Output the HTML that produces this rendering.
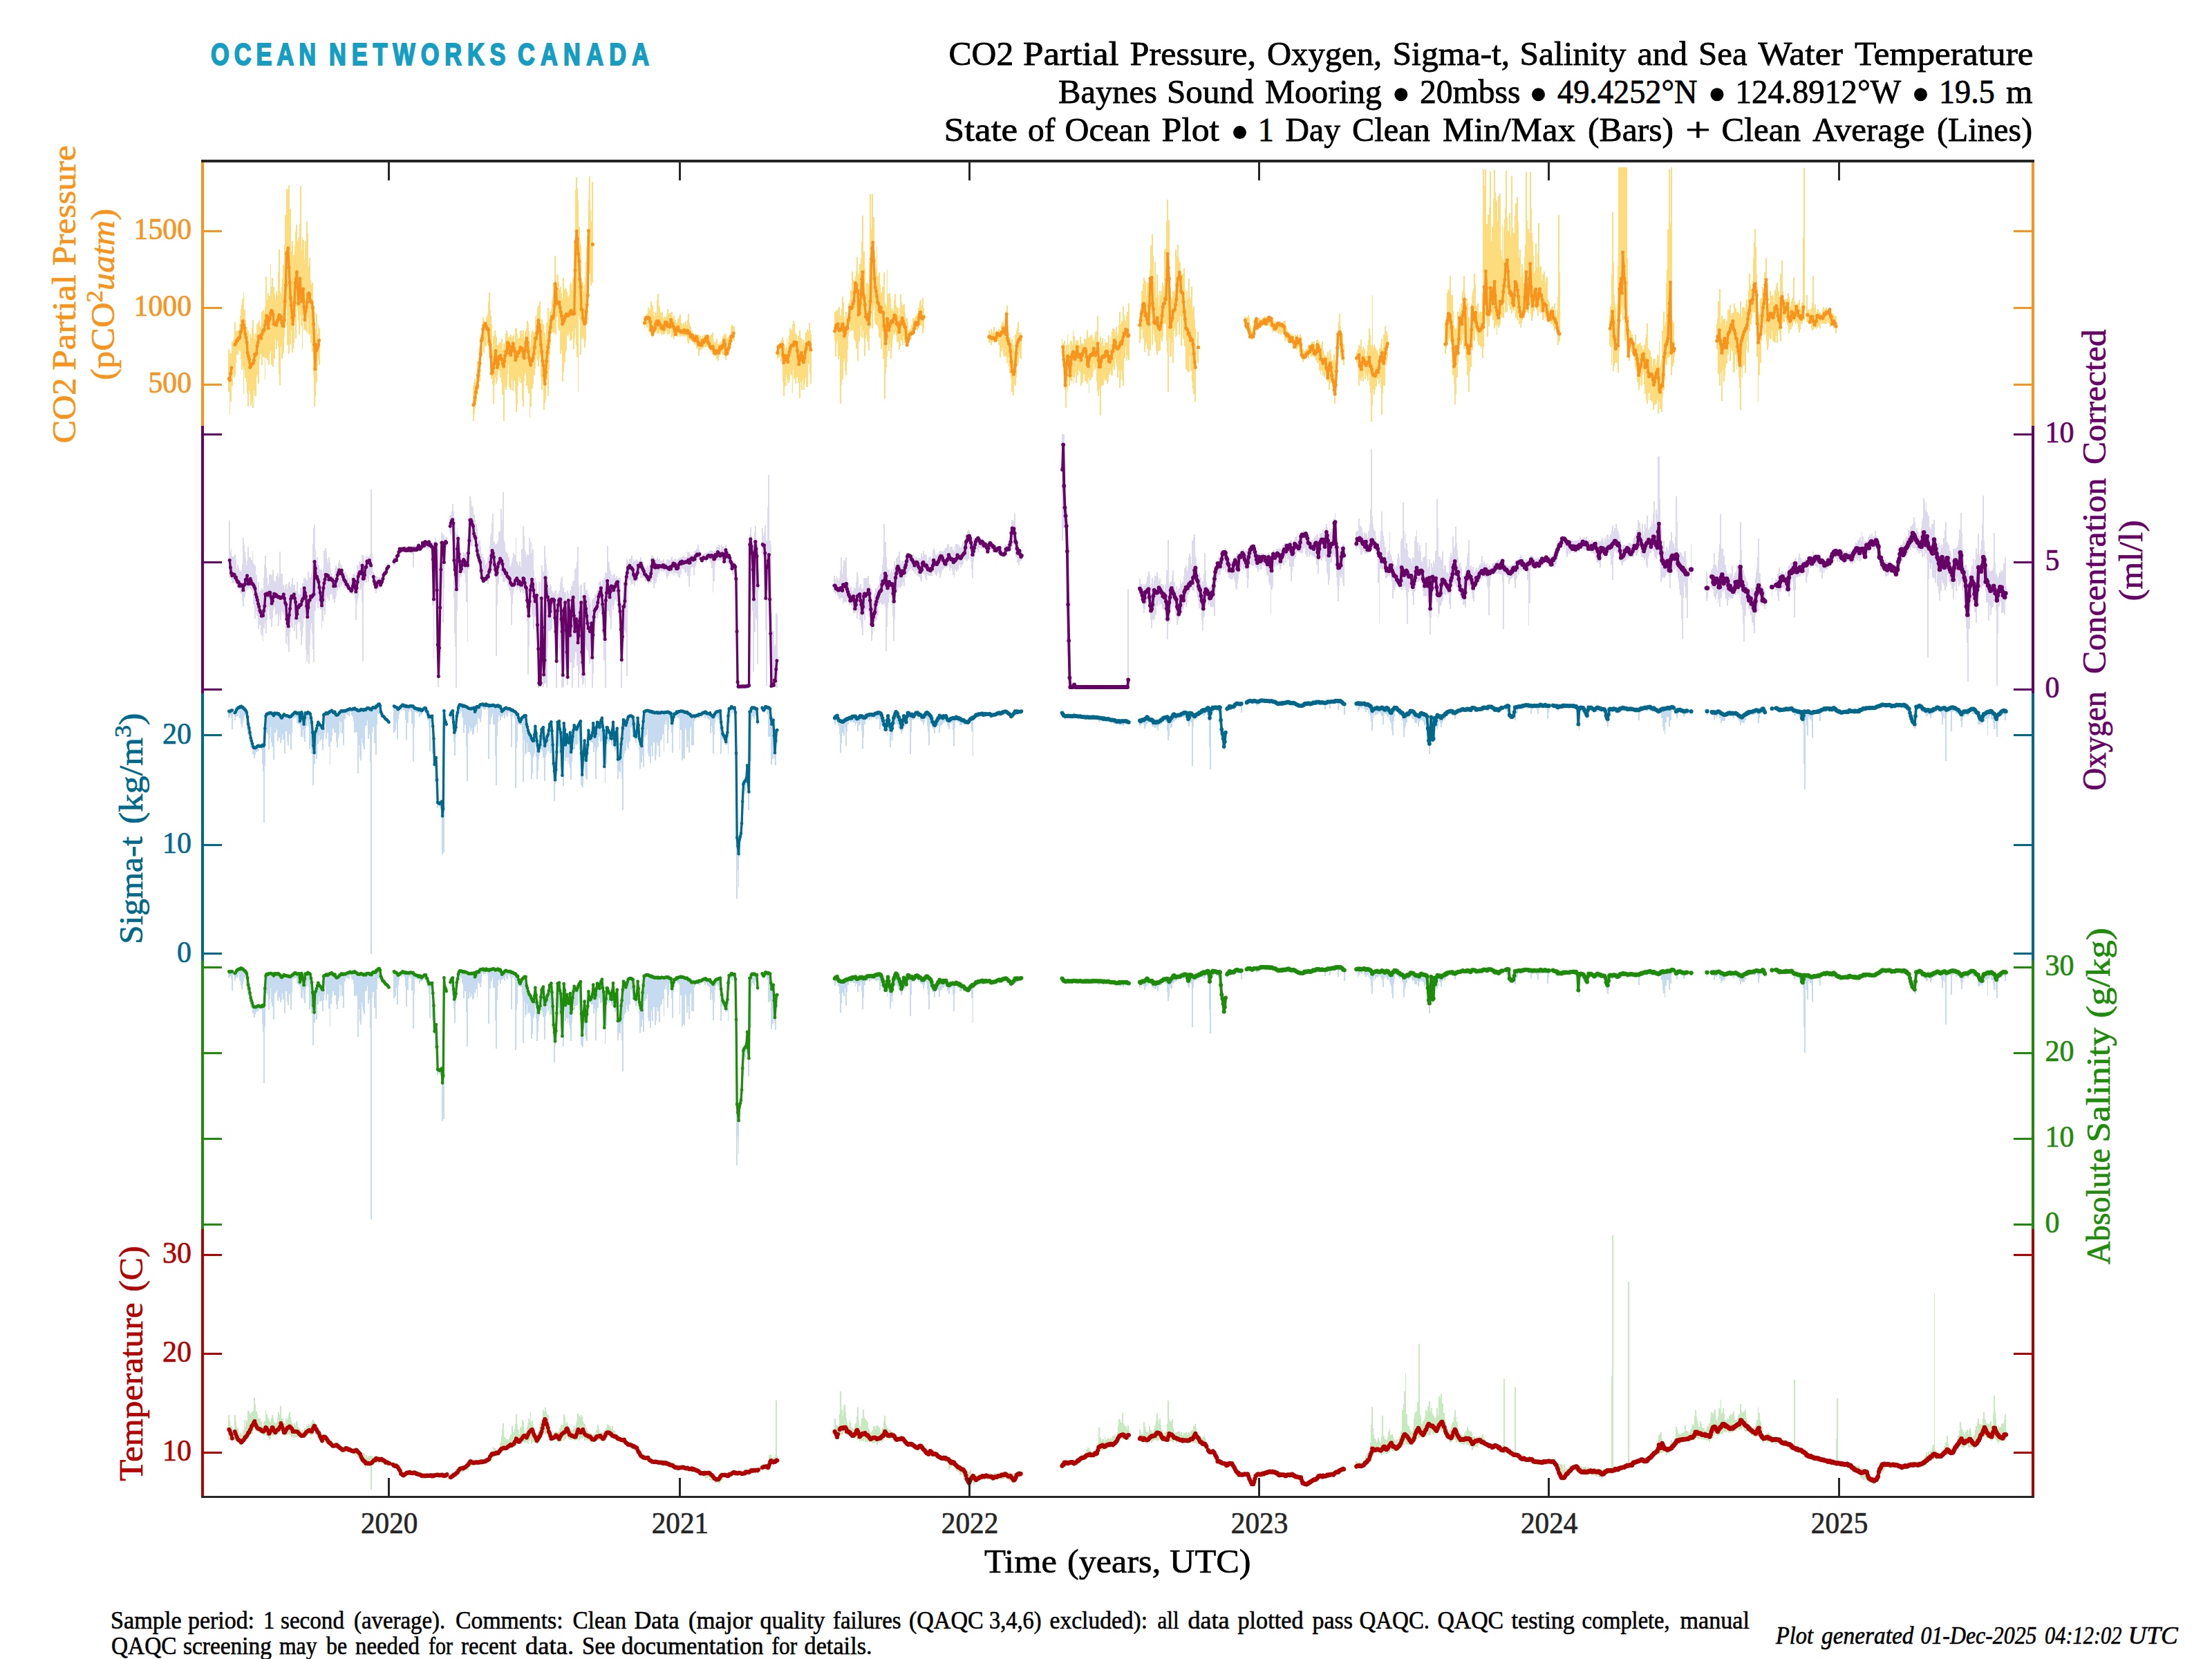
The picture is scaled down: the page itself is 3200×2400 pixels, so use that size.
<!DOCTYPE html>
<html><head><meta charset="utf-8"><title>State of Ocean Plot</title>
<style>
html,body{margin:0;padding:0;background:#fff;}
svg{display:block;}
text{font-family:"Liberation Serif",serif;}
.sans{font-family:"Liberation Sans",sans-serif;}
</style></head><body>
<svg width="3200" height="2400" viewBox="0 0 3200 2400">
<rect width="3200" height="2400" fill="#ffffff"/>
<path d="M331.3 505V567M332.5 511V600M333.6 511V581M334.8 517V550M335.9 499V558M336.4 494V555M337.6 492V541M338.7 488V546M339.8 466V543M341.0 484V525M342.1 479V510M343.3 481V513M344.4 478V513M345.6 478V506M346.7 469V508M347.9 457V508M349.0 447V520M350.2 441V535M351.3 432V530M352.5 423V570M353.6 448V535M354.8 463V547M355.9 475V545M357.1 473V553M358.2 493V569M359.4 478V588M360.5 498V565M361.7 483V570M362.8 490V587M364.0 489V560M365.1 475V581M366.3 463V590M367.4 483V565M368.6 491V573M369.7 483V573M370.9 486V545M372.0 469V542M373.2 480V528M374.3 466V555M375.5 463V520M376.6 473V512M377.8 471V512M378.9 451V528M380.1 461V516M381.2 449V512M382.3 453V517M383.5 443V549M384.6 400V518M385.8 434V495M386.9 438V521M388.1 424V515M389.2 436V528M390.4 428V512M391.5 382V507M392.7 415V528M393.8 402V495M395.0 415V531M396.1 415V500M397.3 424V519M398.4 433V491M399.6 421V505M400.7 432V493M401.9 427V492M403.0 394V501M404.2 361V541M405.3 422V557M406.5 425V502M407.6 415V519M408.8 403V513M409.9 383V510M411.1 418V487M412.2 355V474M413.4 311V470M414.5 273V446M415.7 274V499M416.8 297V431M418.0 268V512M419.1 307V498M420.3 302V498M421.4 364V478M422.6 349V510M423.7 387V504M424.9 369V496M426.0 374V466M427.1 355V453M428.3 335V490M429.4 325V443M430.6 349V450M431.7 345V464M432.9 343V484M434.0 324V442M435.2 269V456M436.3 360V472M437.5 343V505M438.6 347V455M439.8 394V477M440.9 376V473M442.1 349V478M443.2 393V464M444.4 320V481M445.5 338V460M446.7 385V484M447.8 373V483M449.0 405V474M450.1 412V496M451.3 417V470M452.4 409V509M453.6 444V542M454.7 451V588M455.9 480V573M457.0 476V555M458.2 454V552M459.3 483V531M460.5 469V520M461.6 475V528M684.9 558V609M686.0 554V599M687.2 548V591M688.3 553V584M689.5 538V582M690.6 522V571M691.8 524V563M692.9 518V548M694.1 503V552M695.2 500V530M696.4 484V515M697.5 475V516M698.7 459V495M699.8 464V510M701.0 465V501M702.1 466V491M703.3 466V501M704.4 458V487M705.6 454V499M706.7 437V494M707.9 423V513M709.0 449V520M710.2 457V540M711.3 469V548M712.5 502V556M713.6 486V584M714.8 496V558M715.9 478V541M717.1 485V546M718.2 488V555M719.4 499V550M720.5 499V542M721.7 497V536M722.8 506V534M724.0 495V546M725.1 502V542M726.3 490V553M727.4 506V571M728.6 497V609M729.7 502V560M730.8 496V560M732.0 483V564M733.1 478V558M734.3 482V541M735.4 488V527M736.6 487V560M737.7 488V562M738.9 484V564M740.0 493V549M741.2 489V547M742.3 486V565M743.5 484V550M744.6 494V551M745.8 475V568M746.9 475V596M748.1 483V585M749.2 493V558M750.4 490V545M751.5 489V552M752.7 479V547M753.8 478V554M755.0 483V546M756.1 483V578M757.3 478V588M758.4 491V551M759.6 481V539M760.7 478V541M761.9 475V558M763.0 464V551M764.2 468V563M765.3 479V569M766.5 495V604M767.6 502V589M768.8 484V553M769.9 478V562M771.1 494V555M772.2 481V531M773.4 481V543M774.5 457V533M775.6 463V513M776.8 455V519M777.9 446V522M779.1 442V530M780.2 454V519M781.4 436V514M782.5 468V546M783.7 462V564M784.8 480V547M786.0 469V554M787.1 503V593M788.3 481V583M789.4 492V578M790.6 467V549M791.7 473V542M792.9 445V573M794.0 469V534M795.2 463V513M796.3 451V499M797.5 446V482M798.6 435V480M799.8 430V476M800.9 409V482M802.1 421V469M803.2 370V480M804.4 398V484M805.5 409V459M806.7 397V458M807.8 408V474M809.0 418V478M810.1 427V469M811.3 415V512M812.4 424V507M813.6 432V552M814.7 402V538M815.9 420V520M817.0 434V524M818.1 417V510M819.3 418V507M820.4 422V486M821.6 429V485M822.7 436V481M823.9 427V474M825.0 412V493M826.2 409V475M827.3 420V491M828.5 404V479M829.6 400V505M830.8 349V489M831.9 347V474M833.1 275V469M834.2 256V499M835.4 272V517M836.5 290V567M837.7 328V457M838.8 351V462M840.0 355V513M841.1 405V485M842.3 408V490M843.4 408V487M844.6 421V491M845.7 412V503M846.9 400V494M848.0 379V467M849.2 357V469M850.3 341V463M851.5 290V421M852.6 255V396M853.8 304V374M854.9 320V413M857.4 263V409M932.5 457V475M933.7 458V470M934.8 456V468M936.0 454V474M937.1 454V470M938.3 445V469M939.4 449V480M940.6 446V482M941.7 436V482M942.9 444V484M944.0 442V488M945.2 451V486M946.3 458V484M947.5 451V481M948.6 453V478M949.8 453V475M950.9 434V483M952.1 425V479M953.2 442V483M954.4 445V478M955.5 451V480M956.7 453V484M957.8 451V484M959.0 462V483M960.1 460V484M961.3 458V483M962.4 459V482M963.6 459V479M964.7 456V478M965.9 447V484M967.0 455V480M968.2 453V483M969.3 453V482M970.5 453V474M971.6 451V488M972.8 460V481M973.9 462V486M975.1 457V490M976.2 465V486M977.3 463V486M978.5 468V486M979.6 466V487M980.8 461V485M981.9 462V484M983.1 458V483M984.2 455V487M985.4 466V484M986.5 468V487M987.7 471V486M988.8 467V485M990.0 469V487M991.1 470V486M992.3 465V486M993.4 470V487M994.6 463V494M995.7 454V497M996.9 467V490M998.0 471V492M999.2 473V492M1000.3 480V493M1001.5 478V495M1002.6 482V495M1003.8 485V494M1004.9 484V499M1006.1 483V496M1007.2 484V496M1008.4 485V504M1009.5 483V505M1010.7 484V515M1011.8 490V505M1013.0 486V507M1014.1 492V505M1015.3 492V502M1016.4 486V505M1017.6 489V503M1018.7 484V500M1019.9 484V502M1021.0 486V502M1022.1 485V501M1023.3 484V501M1024.4 487V501M1025.6 487V503M1026.7 488V506M1027.9 487V507M1029.0 484V509M1030.2 490V509M1031.3 481V512M1032.5 494V513M1033.6 496V515M1034.8 495V514M1035.9 497V515M1037.1 490V519M1038.2 499V517M1039.4 498V522M1040.5 496V515M1041.7 498V513M1042.8 494V510M1044.0 494V510M1045.1 493V513M1046.3 487V513M1047.4 485V506M1048.6 482V509M1049.7 485V521M1050.9 494V516M1052.0 489V514M1053.2 489V511M1054.3 487V510M1055.5 485V510M1056.6 485V504M1057.8 473V495M1058.9 470V495M1060.1 474V492M1061.2 472V492M1062.4 472V493M1124.7 499V519M1125.9 498V517M1127.0 498V516M1128.1 497V514M1129.3 496V511M1130.4 492V523M1131.6 488V528M1132.7 492V552M1133.9 503V573M1135.0 498V549M1136.2 503V559M1137.3 503V543M1138.5 490V558M1139.6 506V549M1140.8 495V554M1141.9 486V549M1143.1 475V536M1144.2 480V540M1145.4 478V543M1146.5 469V569M1147.7 464V535M1148.8 468V548M1150.0 481V536M1151.1 485V555M1152.3 484V528M1153.4 495V546M1154.6 486V554M1155.7 501V553M1156.9 478V576M1158.0 499V546M1159.2 489V552M1160.3 490V564M1161.5 499V549M1162.6 492V564M1163.8 502V555M1164.9 496V546M1166.1 481V535M1167.2 482V560M1168.4 477V560M1169.5 479V526M1170.6 467V527M1171.8 477V540M1172.9 484V555M1207.6 451V493M1208.8 463V516M1209.9 449V497M1211.1 450V492M1212.2 458V490M1213.4 445V520M1214.5 444V515M1215.7 457V584M1216.8 456V557M1218.0 446V539M1219.1 429V549M1220.3 437V523M1221.4 458V519M1222.6 465V537M1223.7 451V543M1224.9 461V524M1226.0 461V506M1227.2 454V486M1228.3 439V481M1229.5 434V469M1230.6 420V479M1231.8 427V477M1232.9 393V461M1234.1 417V478M1235.2 405V477M1236.4 409V491M1237.5 400V494M1238.7 392V504M1239.8 372V480M1241.0 398V522M1242.1 396V485M1243.3 397V495M1244.4 382V487M1245.6 373V471M1246.7 349V488M1247.9 312V456M1249.0 365V478M1250.2 364V490M1251.3 388V515M1252.4 426V489M1253.6 409V484M1254.7 429V494M1255.9 411V480M1257.0 430V507M1258.2 379V476M1259.3 281V473M1260.5 331V427M1261.6 281V475M1262.8 323V449M1263.9 314V428M1265.1 362V441M1266.2 373V465M1267.4 388V469M1268.5 356V471M1269.7 399V471M1270.8 408V475M1272.0 394V487M1273.1 412V489M1274.3 425V470M1275.4 423V505M1276.6 415V479M1277.7 425V519M1278.9 394V510M1280.0 439V577M1281.2 441V540M1282.3 443V531M1283.5 390V516M1284.6 425V493M1285.8 440V508M1286.9 424V495M1288.1 432V499M1289.2 446V519M1290.4 448V503M1291.5 445V490M1292.7 450V482M1293.8 434V484M1295.0 425V477M1296.1 441V480M1297.2 449V486M1298.4 445V495M1299.5 445V495M1300.7 456V506M1301.8 446V501M1303.0 426V490M1304.1 437V492M1305.3 443V490M1306.4 442V499M1307.6 440V486M1308.7 453V496M1309.9 461V486M1311.0 464V495M1312.2 460V502M1313.3 465V498M1314.5 479V496M1315.6 477V491M1316.8 475V489M1317.9 476V490M1319.1 470V486M1320.2 472V484M1321.4 460V485M1322.5 462V480M1323.7 460V475M1324.8 457V476M1326.0 459V476M1327.1 454V478M1328.3 457V473M1329.4 445V475M1330.6 438V468M1331.7 434V471M1332.9 442V469M1334.0 448V471M1335.2 431V482M1336.3 446V475M1430.8 478V496M1432.0 482V492M1433.1 482V495M1434.3 476V499M1435.4 479V495M1436.6 482V492M1437.7 473V494M1438.9 482V493M1440.0 484V495M1441.2 481V491M1442.3 478V493M1443.5 480V494M1444.6 476V499M1445.8 479V498M1446.9 478V517M1448.1 477V503M1449.2 470V508M1450.4 466V503M1451.5 465V513M1452.7 470V516M1453.8 459V516M1455.0 451V515M1456.1 450V498M1457.3 442V525M1458.4 472V517M1459.5 481V531M1460.7 488V540M1461.8 496V526M1463.0 504V548M1464.1 490V567M1465.3 506V559M1466.4 499V572M1467.6 511V556M1468.7 484V558M1469.9 493V546M1471.0 479V530M1472.2 475V528M1473.3 466V524M1474.5 481V508M1475.6 482V518M1476.8 481V519M1536.5 490V516M1537.6 497V528M1538.8 506V530M1539.9 493V558M1541.1 523V564M1542.2 507V590M1543.3 499V561M1544.5 484V567M1545.6 498V546M1546.8 510V558M1547.9 516V550M1549.1 493V544M1550.2 494V552M1551.4 499V545M1552.5 478V555M1553.7 486V546M1554.8 498V535M1556.0 505V539M1557.1 493V554M1558.3 493V539M1559.4 492V543M1560.6 499V535M1561.7 503V537M1562.9 487V538M1564.0 502V558M1565.2 497V555M1566.3 497V553M1567.5 497V542M1568.6 490V541M1569.8 494V551M1570.9 491V549M1572.1 494V552M1573.2 478V555M1574.4 488V546M1575.5 489V569M1576.7 486V548M1577.8 492V550M1579.0 484V533M1580.1 488V546M1581.3 491V538M1582.4 493V526M1583.6 487V535M1584.7 480V532M1585.8 493V532M1587.0 479V552M1588.1 457V565M1589.3 493V573M1590.4 502V562M1591.6 487V601M1592.7 498V556M1593.9 496V558M1595.0 489V546M1596.2 503V557M1597.3 500V547M1598.5 490V551M1599.6 496V550M1600.8 496V538M1601.9 495V555M1603.1 501V552M1604.2 485V539M1605.4 504V542M1606.5 487V537M1607.7 498V542M1608.8 480V543M1610.0 475V531M1611.1 484V529M1612.3 476V535M1613.4 481V519M1614.6 473V525M1615.7 486V530M1616.9 486V546M1618.0 482V533M1619.2 471V536M1620.3 451V561M1621.5 469V549M1622.6 464V536M1623.8 466V550M1624.9 443V558M1626.1 455V518M1627.2 463V518M1628.4 465V503M1629.5 457V522M1630.6 451V514M1631.8 462V520M1632.9 439V521M1648.9 457V496M1650.1 447V491M1651.2 442V477M1652.4 421V475M1653.5 411V489M1654.7 402V490M1655.8 422V509M1657.0 406V499M1658.1 428V490M1659.3 435V496M1660.4 409V505M1661.6 409V515M1662.7 407V497M1663.9 390V507M1665.0 355V454M1666.2 377V450M1667.3 339V499M1668.5 370V477M1669.6 407V484M1670.8 379V493M1671.9 430V496M1673.1 430V508M1674.2 397V513M1675.4 427V508M1676.5 443V507M1677.7 421V507M1678.8 426V489M1680.0 442V486M1681.1 421V494M1682.3 409V487M1683.4 414V468M1684.6 361V468M1685.7 377V461M1686.8 359V470M1688.0 320V493M1689.1 289V510M1690.3 318V567M1691.4 320V489M1692.6 415V516M1693.7 430V515M1694.9 431V489M1696.0 431V496M1697.2 421V525M1698.3 423V479M1699.5 420V475M1700.6 361V487M1701.8 371V485M1702.9 372V447M1704.1 354V466M1705.2 375V452M1706.4 380V484M1707.5 379V457M1708.7 399V500M1709.8 397V458M1711.0 396V457M1712.1 406V490M1713.3 388V477M1714.4 418V501M1715.6 445V534M1716.7 421V520M1717.9 444V537M1719.0 433V512M1720.2 403V539M1721.3 430V515M1722.5 431V537M1723.6 415V536M1724.8 447V552M1725.9 466V562M1727.1 443V570M1728.2 462V569M1729.4 475V581M1730.5 503V534M1733.4 480V525M1801.4 458V469M1802.6 459V473M1803.7 466V475M1804.9 459V475M1806.0 456V479M1807.2 460V483M1808.3 471V489M1809.5 471V489M1810.6 478V491M1811.7 477V487M1812.9 476V489M1814.0 470V484M1815.2 468V480M1816.3 462V472M1817.5 458V478M1818.6 466V477M1819.8 463V474M1820.9 460V472M1822.1 460V474M1823.2 463V472M1824.4 462V472M1825.5 462V471M1826.7 460V470M1827.8 463V469M1829.0 458V469M1830.1 460V469M1831.3 459V471M1832.4 462V471M1833.6 458V471M1834.7 457V471M1835.9 457V468M1837.0 461V471M1838.2 458V473M1839.3 459V474M1840.5 465V481M1841.6 464V478M1842.8 466V480M1843.9 466V478M1845.1 465V478M1846.2 466V481M1847.4 467V477M1848.5 466V482M1849.7 466V483M1850.8 466V476M1852.0 468V480M1853.1 468V484M1854.3 467V477M1855.4 468V481M1856.5 465V480M1857.7 465V482M1858.8 464V493M1860.0 472V489M1861.1 475V490M1862.3 478V493M1863.4 481V491M1864.6 482V493M1865.7 482V496M1866.9 484V493M1868.0 485V495M1869.2 483V496M1870.3 487V499M1871.5 486V499M1872.6 490V504M1873.8 484V502M1874.9 489V500M1876.1 486V506M1877.2 484V501M1878.4 488V503M1879.5 489V511M1880.7 484V509M1881.8 487V507M1883.0 500V518M1884.1 507V518M1885.3 505V524M1886.4 508V520M1887.6 508V519M1888.7 506V519M1889.9 505V518M1891.0 507V516M1892.2 504V516M1893.3 499V518M1894.5 499V513M1895.6 499V509M1896.8 497V516M1897.9 494V516M1899.0 496V512M1900.2 498V513M1901.3 494V516M1902.5 498V518M1903.6 500V521M1904.8 492V520M1905.9 491V525M1907.1 495V517M1908.2 494V525M1909.4 498V536M1910.5 504V542M1911.7 499V536M1912.8 494V532M1914.0 507V543M1915.1 510V539M1916.3 514V545M1917.4 514V540M1918.6 521V549M1919.7 514V550M1920.9 509V552M1922.0 520V547M1923.2 517V564M1924.3 506V555M1925.5 511V550M1926.6 521V555M1927.8 522V558M1928.9 534V560M1930.1 513V572M1931.2 521V584M1932.4 525V570M1933.5 484V552M1934.7 492V527M1935.8 477V517M1937.0 466V499M1938.1 454V491M1939.3 472V506M1940.4 478V516M1941.6 484V515M1942.7 499V523M1943.8 499V528M1962.5 510V525M1963.7 507V526M1964.8 505V532M1966.0 499V558M1967.1 507V547M1968.3 501V544M1969.4 491V551M1970.6 507V545M1971.7 502V552M1972.9 507V537M1974.0 505V537M1975.2 516V548M1976.3 515V542M1977.5 508V545M1978.6 499V551M1979.8 492V539M1980.9 475V535M1982.1 485V558M1983.2 512V569M1984.4 499V610M1985.5 427V587M1986.7 503V563M1987.8 499V571M1989.0 502V564M1990.1 504V552M1991.2 521V559M1992.4 507V548M1993.5 511V548M1994.7 518V555M1995.8 504V543M1997.0 504V546M1998.1 499V561M1999.3 490V600M2000.4 505V569M2001.6 484V557M2002.7 500V558M2003.9 472V527M2005.0 488V528M2006.2 479V522M2007.3 484V516M2090.8 463V512M2092.0 471V505M2093.1 455V496M2094.3 424V499M2095.4 419V494M2096.6 420V489M2097.7 399V491M2098.9 440V493M2100.0 427V498M2101.2 427V524M2102.3 450V543M2103.5 470V555M2104.6 475V585M2105.8 493V570M2106.9 476V543M2108.1 473V546M2109.2 451V525M2110.4 458V515M2111.5 446V489M2112.7 451V499M2113.8 439V498M2115.0 440V492M2116.1 422V484M2117.3 419V477M2118.4 399V505M2119.5 425V483M2120.7 460V519M2121.8 432V522M2123.0 439V543M2124.1 478V533M2125.3 459V567M2126.4 474V538M2127.6 445V531M2128.7 440V499M2129.9 429V507M2131.0 421V486M2132.2 418V491M2133.3 396V493M2134.5 411V471M2135.6 443V480M2136.8 452V485M2137.9 439V494M2139.1 455V499M2140.2 454V497M2141.4 451V501M2142.5 451V505M2143.7 451V501M2144.8 424V518M2146.0 245V502M2147.1 291V452M2148.3 268V469M2149.4 245V456M2150.6 324V464M2151.7 345V487M2152.9 311V468M2154.0 358V472M2155.2 300V458M2156.3 248V454M2157.5 349V457M2158.6 328V455M2159.8 332V463M2160.9 288V449M2162.1 246V475M2163.2 278V454M2164.3 291V471M2165.5 289V485M2166.6 320V470M2167.8 284V474M2168.9 352V471M2170.1 280V469M2171.2 361V455M2172.4 371V459M2173.5 325V458M2174.7 376V460M2175.8 329V437M2177.0 317V428M2178.1 301V452M2179.3 247V441M2180.4 314V451M2181.6 334V420M2182.7 363V441M2183.9 308V442M2185.0 341V448M2186.2 346V442M2187.3 255V454M2188.5 329V447M2189.6 337V450M2190.8 367V444M2191.9 312V444M2193.1 294V460M2194.2 308V442M2195.4 285V463M2196.5 321V454M2197.7 372V469M2198.8 361V465M2200.0 416V474M2201.1 400V468M2202.3 382V463M2203.4 394V461M2204.6 413V460M2205.7 373V454M2206.9 354V450M2208.0 249V424M2209.1 319V451M2210.3 364V451M2211.4 331V453M2212.6 337V441M2213.7 249V418M2214.9 302V455M2216.0 337V464M2217.2 350V459M2218.3 370V450M2219.5 395V451M2220.6 392V444M2221.8 352V445M2222.9 399V448M2224.1 387V448M2225.2 366V457M2226.4 323V444M2227.5 387V452M2228.7 385V452M2229.8 406V448M2231.0 413V446M2232.1 397V463M2233.3 417V461M2234.4 393V450M2235.6 409V460M2236.7 403V453M2237.9 400V463M2239.0 432V462M2240.2 436V465M2241.3 437V463M2242.5 449V465M2243.6 445V469M2244.8 447V465M2245.9 443V468M2247.1 450V472M2248.2 450V469M2249.4 439V478M2250.5 449V474M2251.6 457V478M2252.8 448V483M2253.9 429V499M2255.1 311V494M2256.2 393V493M2329.2 457V499M2330.4 443V502M2331.5 397V528M2332.7 307V500M2333.8 379V537M2335.0 427V529M2336.1 439V525M2337.3 445V515M2338.4 468V524M2339.6 439V526M2340.7 384V539M2341.9 242V508M2343.0 242V469M2344.2 242V450M2345.3 242V455M2346.5 242V443M2347.6 242V463M2348.8 242V425M2349.9 242V447M2351.1 242V493M2352.2 286V485M2353.4 242V485M2354.5 373V507M2355.7 457V517M2356.8 477V522M2357.9 480V505M2359.1 478V505M2360.2 484V509M2361.4 484V509M2362.5 488V510M2363.7 497V516M2364.8 495V520M2366.0 484V531M2367.1 500V534M2368.3 499V537M2369.4 498V553M2370.6 497V564M2371.7 510V557M2372.9 496V547M2374.0 511V545M2375.2 500V558M2376.3 505V542M2377.5 506V538M2378.6 499V556M2379.8 513V570M2380.9 490V555M2382.1 484V578M2383.2 468V584M2384.4 504V569M2385.5 505V579M2386.7 507V568M2387.8 518V579M2389.0 516V560M2390.1 530V581M2391.3 532V575M2392.4 519V593M2393.6 519V586M2394.7 532V571M2395.9 528V584M2397.0 524V572M2398.2 513V579M2399.3 515V598M2400.5 493V581M2401.6 530V592M2402.7 525V584M2403.9 520V596M2405.0 478V575M2406.2 479V565M2407.3 451V564M2408.5 471V550M2409.6 466V525M2410.8 409V528M2411.9 390V518M2413.1 332V518M2414.2 409V488M2415.4 245V516M2416.5 323V474M2417.7 242V543M2418.8 463V516M2420.0 466V530M2421.1 466V525M2422.3 493V516M2483.8 469V505M2484.9 461V506M2486.1 436V540M2487.2 450V542M2488.4 418V558M2489.5 468V539M2490.7 457V580M2491.8 480V535M2493.0 462V531M2494.1 463V552M2495.3 461V544M2496.4 471V532M2497.6 464V526M2498.7 472V506M2499.9 448V513M2501.0 465V501M2502.2 448V498M2503.3 441V522M2504.5 456V504M2505.6 453V508M2506.8 453V502M2507.9 452V539M2509.1 439V537M2510.2 448V511M2511.4 446V513M2512.5 452V534M2513.7 451V519M2514.8 453V528M2516.0 469V546M2517.1 454V561M2518.2 436V593M2519.4 459V533M2520.5 445V546M2521.7 444V528M2522.8 445V528M2524.0 459V516M2525.1 450V540M2526.3 440V505M2527.4 433V493M2528.6 442V510M2529.7 421V476M2530.9 396V479M2532.0 412V460M2533.2 421V469M2534.3 418V460M2535.5 406V449M2536.6 373V452M2537.8 351V452M2538.9 331V446M2540.1 358V469M2541.2 397V464M2542.4 415V516M2543.5 451V581M2544.7 455V543M2545.8 455V517M2547.0 433V525M2548.1 431V493M2549.3 431V482M2550.4 415V468M2551.6 418V484M2552.7 394V454M2553.9 398V469M2555.0 373V482M2556.2 414V493M2557.3 409V506M2558.5 440V501M2559.6 438V488M2560.8 421V491M2561.9 437V490M2563.0 428V478M2564.2 437V474M2565.3 427V493M2566.5 437V496M2567.6 420V495M2568.8 419V486M2569.9 414V466M2571.1 409V496M2572.2 432V475M2573.4 421V478M2574.5 434V483M2575.7 397V494M2576.8 395V461M2578.0 377V469M2579.1 421V457M2580.3 429V466M2581.4 436V466M2582.6 433V460M2583.7 436V459M2584.9 433V466M2586.0 432V469M2587.2 424V471M2588.3 430V482M2589.5 443V477M2590.6 443V476M2591.8 436V464M2592.9 431V472M2594.1 437V465M2595.2 401V465M2596.4 436V464M2597.5 444V469M2598.7 440V466M2599.8 442V468M2601.0 438V462M2602.1 442V476M2603.3 434V481M2604.4 446V476M2605.6 444V467M2606.7 438V469M2607.8 439V464M2609.0 344V454M2610.1 243V463M2613.6 427V466M2614.7 447V460M2615.9 448V466M2617.2 448V469M2618.3 452V469M2619.5 447V465M2620.6 445V474M2621.8 438V478M2622.9 399V472M2624.1 445V476M2625.2 451V473M2626.4 440V474M2627.5 454V476M2628.6 451V474M2629.8 447V473M2630.9 453V471M2632.1 451V468M2633.2 454V475M2634.4 453V466M2635.5 454V469M2636.7 448V468M2637.8 444V467M2639.0 447V468M2640.1 447V462M2641.3 450V469M2642.4 445V468M2643.6 449V465M2644.7 449V467M2645.9 448V461M2647.0 446V468M2648.2 454V473M2649.3 453V467M2650.5 452V471M2651.6 454V471M2652.8 456V475M2653.9 457V474M2655.1 459V473M2656.2 457V482" stroke="#FDDC7E" stroke-width="1.9" fill="none" shape-rendering="crispEdges"/>
<path d="M332.2 753V836M333.4 798V830M334.5 794V838M335.7 805V843M336.8 813V839M338.0 805V844M339.1 813V838M340.3 802V842M341.4 809V843M342.6 823V843M343.7 817V846M344.9 821V848M346.0 826V852M347.2 825V852M348.3 827V858M349.5 824V860M350.6 816V869M351.8 778V877M352.9 788V865M354.0 798V864M355.2 806V857M356.3 818V854M357.5 811V853M358.6 791V852M359.8 807V850M360.9 817V850M362.1 806V852M363.2 810V853M364.4 810V854M365.5 797V858M366.7 815V874M367.8 826V871M369.0 818V895M370.1 837V882M371.3 832V884M372.4 853V891M373.6 842V910M374.7 856V896M375.9 864V904M377.0 854V904M378.2 855V917M379.3 851V920M380.5 853V928M381.6 836V909M382.8 817V901M383.9 804V898M385.1 821V916M386.2 836V897M387.4 847V882M388.5 844V878M389.7 832V890M390.8 830V896M392.0 843V892M393.1 832V907M394.3 840V894M395.4 824V882M396.6 840V878M397.7 844V880M398.8 842V890M400.0 833V880M401.1 837V888M402.3 829V883M403.4 835V906M404.6 798V889M405.7 830V897M406.9 835V878M408.0 830V885M409.2 848V884M410.3 846V889M411.5 852V893M412.6 847V901M413.8 845V931M414.9 852V921M416.1 871V921M417.2 844V934M418.4 842V943M419.5 847V915M420.7 849V903M421.8 845V907M423.0 836V908M424.1 848V892M425.3 847V897M426.4 846V913M427.6 855V904M428.7 867V925M429.9 842V903M431.0 859V898M432.2 859V899M433.3 860V901M434.5 850V912M435.6 851V933M436.8 857V921M437.9 844V908M439.1 852V892M440.2 836V895M441.4 836V891M442.5 838V939M443.6 839V957M444.8 839V944M445.9 827V947M447.1 842V960M448.2 836V933M449.4 835V910M450.5 830V901M451.7 810V916M452.8 787V939M454.0 764V958M455.1 759V874M456.3 795V884M457.4 813V872M458.6 806V869M459.7 823V880M460.9 817V871M462.0 823V869M463.2 832V878M464.3 824V882M465.5 824V910M466.6 829V899M467.8 824V883M468.9 797V879M470.1 796V890M471.2 793V871M472.4 798V862M473.5 809V865M474.7 814V865M475.8 806V869M477.0 814V854M478.1 824V860M479.3 829V857M480.4 830V860M481.6 834V867M482.7 834V862M483.9 831V872M485.0 823V866M486.2 818V863M487.3 827V851M488.4 821V854M489.6 815V849M490.7 810V851M491.9 814V850M493.0 817V847M494.2 818V847M495.3 823V844M496.5 824V845M497.6 829V850M498.8 827V846M499.9 829V851M501.1 831V851M502.2 832V850M503.4 836V851M504.5 842V853M505.7 836V854M506.8 842V855M508.0 842V857M509.1 835V860M510.3 837V860M511.4 830V854M512.6 830V859M513.7 833V866M514.9 836V897M516.0 827V874M517.2 817V867M518.3 820V863M519.5 812V845M520.6 813V854M521.8 818V851M522.9 816V851M524.1 803V871M525.2 820V957M526.4 804V848M527.5 816V842M528.7 812V838M529.8 804V843M530.9 806V837M532.1 806V829M533.2 807V842M534.4 805V832M535.5 801V833M536.7 708V832M537.8 801V830M540.2 827V842M541.3 830V845M542.5 835V849M543.6 833V858M544.8 837V853M545.9 834V851M547.1 836V853M548.2 837V848M549.4 835V851M550.5 836V852M551.7 832V849M552.8 835V844M554.0 832V843M555.1 826V839M556.3 824V836M557.4 824V832M558.6 823V831M559.7 820V828M560.9 818V825M562.0 815V824M570.0 806V818M571.2 806V816M572.3 803V813M573.5 804V812M574.6 800V808M575.8 798V807M576.9 793V806M578.1 792V803M579.2 794V801M580.4 792V799M581.5 792V799M582.7 793V799M583.8 791V797M585.0 792V797M586.1 790V798M587.3 791V798M588.4 792V798M589.6 791V796M590.7 791V798M591.9 791V795M593.0 791V797M594.1 792V798M595.3 790V796M596.4 790V802M597.6 790V821M598.7 789V797M599.9 791V798M601.0 789V796M602.2 790V797M603.3 791V797M604.5 789V795M605.6 787V793M606.8 789V796M607.9 789V796M609.1 787V794M610.2 787V794M611.4 783V791M612.5 785V793M613.7 785V794M614.8 782V791M616.0 782V789M617.1 785V794M618.3 785V790M619.4 785V794M620.6 782V792M621.7 786V792M622.9 785V793M624.0 786V794M625.2 784V826M626.3 791V876M627.5 803V952M628.6 783V864M629.8 778V854M630.9 783V843M632.1 811V889M633.2 816V943M634.4 794V994M635.5 826V958M636.7 814V943M637.8 795V852M638.9 770V824M640.1 773V844M641.2 773V901M642.4 775V851M643.5 780V800M644.7 777V792M645.8 778V791M651.2 746V770M652.3 745V773M653.5 740V770M654.6 729V782M655.8 740V787M656.9 749V865M658.1 755V916M659.2 769V936M660.4 773V995M661.5 764V884M662.7 774V851M663.8 781V850M665.0 794V836M666.1 806V833M667.3 800V834M668.4 807V828M669.6 799V825M670.7 804V829M671.9 800V822M673.0 801V830M674.2 802V843M675.3 798V871M676.5 776V928M677.6 763V824M678.8 753V802M679.9 718V787M681.1 724V790M682.2 733V786M683.3 732V790M684.5 734V782M685.6 744V780M686.8 752V786M687.9 760V790M689.1 758V796M690.2 764V805M691.4 784V809M692.5 781V812M693.7 782V818M694.8 790V822M696.0 802V833M697.1 801V842M698.3 806V842M699.4 807V842M700.6 810V842M701.7 819V840M702.9 817V841M704.0 815V840M705.2 818V840M706.3 806V845M707.5 802V839M708.6 789V830M709.8 776V831M710.9 771V830M712.1 757V822M713.2 743V824M714.4 783V823M715.5 784V831M716.7 788V836M717.8 787V949M719.0 802V876M720.1 784V846M721.3 782V842M722.4 769V829M723.6 768V826M724.7 736V834M725.8 761V827M727.0 753V833M728.1 712V841M729.3 782V842M730.4 786V840M731.6 798V839M732.7 809V839M733.9 801V841M735.0 810V847M736.2 806V848M737.3 819V854M738.5 819V861M739.6 816V904M740.8 812V873M741.9 806V860M743.1 800V854M744.2 816V850M745.4 803V847M746.5 778V848M747.7 812V853M748.8 816V849M750.0 818V851M751.1 825V851M752.3 812V854M753.4 820V857M754.6 794V854M755.7 813V851M756.9 761V858M758.0 776V854M759.2 796V853M760.3 798V858M761.5 806V863M762.6 802V899M763.8 833V976M764.9 803V934M766.1 778V891M767.2 784V878M768.4 800V872M769.5 785V892M770.6 795V889M771.8 825V910M772.9 837V887M774.1 836V892M775.2 841V892M776.4 843V913M777.5 859V934M778.7 872V995M779.8 842V993M781.0 897V993M782.1 888V993M783.3 842V967M784.4 818V955M785.6 827V994M786.7 889V988M787.9 790V989M789.0 807V988M790.2 816V925M791.3 836V995M792.5 824V937M793.6 850V913M794.8 864V908M795.9 845V912M797.1 848V905M798.2 857V910M799.4 855V891M800.5 858V894M801.7 859V913M802.8 855V921M804.0 854V950M805.1 872V995M806.3 865V938M807.4 859V913M808.6 855V906M809.7 854V938M810.9 843V960M812.0 837V938M813.2 834V995M814.3 866V990M815.4 850V994M816.6 856V970M817.7 857V966M818.9 878V968M820.0 892V976M821.2 854V991M822.3 858V945M823.5 866V967M824.6 854V958M825.8 875V959M826.9 848V946M828.1 854V995M829.2 841V953M830.4 840V966M831.5 824V953M832.7 822V943M833.8 830V932M835.0 813V963M836.1 791V958M837.3 848V995M838.4 871V974M839.6 847V961M840.7 846V980M841.9 882V970M843.0 861V991M844.2 901V988M845.3 843V941M846.5 842V995M847.6 854V935M848.8 853V940M849.9 858V935M851.1 865V943M852.2 864V950M853.4 874V960M854.5 869V955M855.7 883V950M856.8 867V995M858.0 872V975M859.1 865V941M860.2 870V913M861.4 860V901M862.5 860V890M863.7 854V895M864.8 858V890M866.0 854V882M867.1 842V886M868.3 849V874M869.4 841V884M870.6 846V886M871.7 839V916M872.9 848V925M874.0 836V955M875.2 871V956M876.3 828V995M877.5 829V900M878.6 790V884M879.8 813V879M880.9 814V884M882.1 824V890M883.2 826V894M884.4 831V910M885.5 837V877M886.7 832V882M887.8 838V874M889.0 830V869M890.1 837V867M891.3 836V859M892.4 833V871M893.6 836V870M894.7 836V884M895.9 852V887M897.0 836V908M898.2 872V952M899.3 881V995M900.5 878V961M901.6 842V928M902.7 842V898M903.9 843V912M905.0 830V914M906.2 822V916M907.3 809V978M908.5 813V848M909.6 814V839M910.8 808V836M911.9 810V840M913.1 808V846M914.2 804V845M915.4 814V845M916.5 809V842M917.7 812V848M918.8 820V842M920.0 811V840M921.1 809V840M922.3 812V841M923.4 811V830M924.6 812V831M925.7 811V831M926.9 806V836M928.0 811V835M929.2 812V836M930.3 813V834M931.5 819V837M932.6 822V836M933.8 824V841M934.9 826V838M936.1 821V840M937.2 818V840M938.4 821V845M939.5 814V841M940.7 817V843M941.8 807V842M943.0 803V834M944.1 804V839M945.3 806V834M946.4 807V851M947.5 813V845M948.7 810V843M949.8 809V834M951.0 806V835M952.1 810V828M953.3 810V830M954.4 808V826M955.6 811V825M956.7 811V827M957.9 811V826M959.0 811V824M960.2 809V827M961.3 814V826M962.5 813V826M963.6 814V833M964.8 810V837M965.9 809V833M967.1 813V833M968.2 810V830M969.4 811V829M970.5 808V827M971.7 806V830M972.8 811V826M974.0 810V826M975.1 809V832M976.3 811V825M977.4 808V829M978.6 811V830M979.7 809V829M980.9 809V834M982.0 808V829M983.2 808V836M984.3 806V830M985.5 807V831M986.6 806V822M987.8 808V823M988.9 804V821M990.1 806V824M991.2 806V827M992.3 806V829M993.5 806V827M994.6 798V833M995.8 803V828M996.9 799V849M998.1 806V834M999.2 802V823M1000.4 802V821M1001.5 803V820M1002.7 802V821M1003.8 803V832M1005.0 797V822M1006.1 797V819M1007.3 796V815M1008.4 794V813M1009.6 788V808M1010.7 795V808M1011.9 797V809M1014.3 801V813M1015.5 805V813M1016.6 802V811M1017.7 803V810M1018.9 800V811M1020.0 803V811M1021.2 802V811M1022.3 800V813M1023.5 799V810M1024.6 799V809M1025.8 797V809M1026.9 798V811M1028.1 796V813M1029.2 796V816M1030.4 797V822M1031.5 798V857M1032.7 798V841M1033.8 800V820M1035.0 796V812M1036.1 796V809M1037.3 791V809M1038.4 791V811M1039.6 788V811M1040.7 790V810M1041.9 796V809M1043.0 796V811M1044.2 788V810M1045.3 791V809M1046.5 790V812M1047.6 795V815M1048.8 794V813M1049.9 788V806M1051.1 792V813M1052.2 798V815M1053.4 799V815M1054.5 802V816M1055.7 803V824M1056.8 806V822M1058.0 806V823M1059.1 810V827M1060.3 814V831M1061.4 812V830M1062.5 812V838M1063.7 818V840M1064.8 829V854M1066.0 836V995M1067.1 933V991M1068.3 988V995M1068.3 989V995M1069.5 990V995M1070.6 990V995M1071.8 991V995M1072.9 990V995M1074.1 990V995M1075.2 991V995M1076.4 990V995M1077.5 991V995M1078.6 991V995M1079.8 990V995M1080.9 991V995M1082.1 991V995M1083.2 989V995M1083.5 778V995M1084.7 773V890M1085.8 763V841M1087.0 775V854M1088.1 788V845M1089.3 782V884M1090.4 792V972M1091.6 770V914M1092.7 761V884M1093.9 780V894M1095.0 785V897M1096.2 782V961M1097.3 824V854M1103.2 764V800M1104.4 775V805M1105.5 770V805M1106.7 760V818M1107.8 798V912M1109.0 782V992M1110.1 787V854M1111.3 734V847M1112.4 687V868M1113.6 782V913M1114.7 788V995M1115.9 887V994M1117.0 913V993M1118.2 937V994M1119.3 913V994M1120.4 935V993M1121.6 932V991M1122.7 887V994M1123.9 890V995M1207.1 833V857M1208.2 837V857M1209.3 840V859M1210.5 834V857M1211.6 837V862M1212.8 840V860M1213.9 843V866M1215.1 836V867M1216.2 825V861M1217.4 806V865M1218.5 830V865M1219.7 820V873M1220.8 810V868M1222.0 812V871M1223.1 824V864M1224.3 806V871M1225.4 836V869M1226.6 843V865M1227.7 845V872M1228.9 852V875M1230.0 852V873M1231.2 848V874M1232.3 855V876M1233.5 855V880M1234.6 854V887M1235.8 850V886M1236.9 851V887M1238.1 858V884M1239.2 842V881M1240.4 828V895M1241.5 835V886M1242.7 851V884M1243.8 848V897M1245.0 845V886M1246.1 852V901M1247.3 853V908M1248.4 851V919M1249.6 836V886M1250.7 847V897M1251.9 836V884M1253.0 847V878M1254.1 836V881M1255.3 836V877M1256.4 833V885M1257.6 845V893M1258.7 851V901M1259.9 851V905M1261.0 854V927M1262.2 878V918M1263.3 869V905M1264.5 859V913M1265.6 858V899M1266.8 851V897M1267.9 853V897M1269.1 852V883M1270.2 849V890M1271.4 846V874M1272.5 834V875M1273.7 830V872M1274.8 833V871M1276.0 827V875M1277.1 817V864M1278.3 806V874M1279.4 758V873M1280.6 784V878M1281.7 806V942M1282.9 821V907M1284.0 832V880M1285.2 824V872M1286.3 824V859M1287.5 830V865M1288.6 827V858M1289.8 824V869M1290.9 828V875M1292.1 834V892M1293.2 823V927M1294.4 812V896M1295.5 817V870M1296.7 807V857M1297.8 812V854M1298.9 804V851M1300.1 806V847M1301.2 798V849M1302.4 810V849M1303.5 816V851M1304.7 811V847M1305.8 812V842M1307.0 812V840M1308.1 811V848M1309.3 813V833M1310.4 810V835M1311.6 800V831M1312.7 801V818M1313.9 801V828M1315.0 800V824M1316.2 801V819M1317.3 801V823M1318.5 800V822M1319.6 804V825M1320.8 802V825M1321.9 804V827M1323.1 809V825M1324.2 809V830M1325.4 806V825M1326.5 806V832M1327.7 810V833M1328.8 807V834M1330.0 811V833M1331.1 808V835M1332.3 809V840M1333.4 800V842M1334.6 805V829M1335.7 797V829M1336.9 806V831M1338.0 802V830M1339.2 806V836M1340.3 803V839M1341.5 811V831M1342.6 811V832M1343.7 806V833M1344.9 806V832M1346.0 805V833M1347.2 809V829M1348.3 810V833M1349.5 796V828M1350.6 793V827M1351.8 796V826M1352.9 802V831M1354.1 803V825M1355.2 803V833M1356.4 802V829M1357.5 800V826M1358.7 798V830M1359.8 797V836M1361.0 800V831M1362.1 797V827M1363.3 799V822M1364.4 798V824M1365.6 796V822M1366.7 795V820M1367.9 793V820M1369.0 796V821M1370.2 792V821M1371.3 787V818M1372.5 788V818M1373.6 795V826M1374.8 791V821M1375.9 797V822M1377.1 791V821M1378.2 795V825M1379.4 797V832M1380.5 790V836M1381.7 798V824M1382.8 787V823M1384.0 787V827M1385.1 792V816M1386.2 788V824M1387.4 791V818M1388.5 789V816M1389.7 792V821M1390.8 794V815M1392.0 789V817M1393.1 784V815M1394.3 785V808M1395.4 785V809M1396.6 778V810M1397.7 774V800M1398.9 772V812M1400.0 769V795M1401.2 766V809M1402.3 769V794M1403.5 774V798M1404.6 776V812M1405.8 780V823M1406.9 787V836M1408.1 778V813M1409.2 785V806M1410.4 780V806M1411.5 779V800M1412.7 776V795M1413.8 776V793M1415.0 775V799M1416.1 776V791M1417.3 779V793M1418.4 782V793M1419.6 781V794M1420.7 781V792M1421.9 783V793M1423.0 784V795M1424.2 784V793M1425.3 785V792M1426.5 787V793M1427.6 789V795M1428.8 787V800M1429.9 786V796M1431.0 786V797M1432.2 783V794M1433.3 785V794M1434.5 787V795M1435.6 787V795M1436.8 789V796M1437.9 787V799M1439.1 790V799M1440.2 789V798M1441.4 791V800M1442.5 791V799M1443.7 791V801M1444.8 791V799M1446.0 791V798M1447.1 796V801M1448.3 794V803M1449.4 794V804M1450.6 795V804M1451.7 795V804M1452.9 794V806M1454.0 788V803M1455.2 790V803M1456.3 789V799M1457.5 787V798M1458.6 782V798M1459.8 784V797M1460.9 769V795M1462.1 766V792M1463.2 761V790M1464.4 752V794M1465.5 755V787M1466.7 753V788M1467.8 743V789M1469.0 761V802M1470.1 769V806M1471.3 776V806M1472.4 785V814M1473.6 788V818M1474.7 792V808M1475.8 796V812M1477.0 796V811M1478.1 797V810M1537.1 628V782M1538.2 633V747M1539.3 628V764M1540.5 728V756M1541.6 741V764M1542.8 743V780M1543.9 796V824M1545.1 869V877M1546.2 922V943M1547.4 959V983M1548.5 992V996M1548.4 992V996M1549.5 992V996M1550.7 992V996M1551.8 992V996M1553.0 990V994M1554.1 988V993M1555.3 992V996M1556.4 992V996M1557.6 992V996M1558.7 992V996M1559.9 992V996M1561.0 992V996M1562.2 992V996M1563.3 992V996M1564.5 992V996M1565.6 992V996M1566.8 992V996M1567.9 992V996M1569.1 992V996M1570.2 992V996M1571.4 992V996M1572.5 992V996M1573.7 992V996M1574.8 992V996M1576.0 992V996M1577.1 992V996M1578.3 992V996M1579.4 992V996M1580.6 992V996M1581.7 992V996M1582.9 992V996M1584.0 992V996M1585.1 992V996M1586.3 992V996M1587.4 992V996M1588.6 992V996M1589.7 992V996M1590.9 992V996M1592.0 992V996M1593.2 992V996M1594.3 992V996M1595.5 992V996M1596.6 992V996M1597.8 992V996M1598.9 992V996M1600.1 992V996M1601.2 992V996M1602.4 992V996M1603.5 992V996M1604.7 992V996M1605.8 992V996M1607.0 992V996M1608.1 992V996M1609.3 992V996M1610.4 992V996M1611.6 992V996M1612.7 992V996M1613.9 992V996M1615.0 992V996M1616.2 992V996M1617.3 992V996M1618.5 992V996M1619.6 992V996M1620.8 992V996M1621.9 992V996M1623.1 992V996M1624.2 992V996M1625.4 992V996M1626.5 992V996M1627.7 992V996M1628.8 992V996M1629.9 992V996M1631.1 992V996M1632.2 852V993M1633.4 981V995M1648.9 837V860M1650.1 845V860M1651.2 848V865M1652.4 845V871M1653.5 850V880M1654.7 845V887M1655.8 853V881M1657.0 847V875M1658.1 845V874M1659.3 842V871M1660.4 834V864M1661.6 827V866M1662.7 831V873M1663.9 850V882M1665.0 852V897M1666.2 844V909M1667.3 836V896M1668.5 846V898M1669.6 839V896M1670.8 833V882M1671.9 834V890M1673.1 833V876M1674.2 828V872M1675.4 835V877M1676.5 840V869M1677.7 837V875M1678.8 845V873M1680.0 845V872M1681.1 845V874M1682.3 850V881M1683.4 847V882M1684.6 854V882M1685.7 847V895M1686.8 845V900M1688.0 825V899M1689.1 844V925M1690.3 781V903M1691.4 846V892M1692.6 842V884M1693.7 845V882M1694.9 841V871M1696.0 832V871M1697.2 825V878M1698.3 842V869M1699.5 842V878M1700.6 853V888M1701.8 848V891M1702.9 855V904M1704.1 862V897M1705.2 852V894M1706.4 850V890M1707.5 839V890M1708.7 845V887M1709.8 844V885M1711.0 842V879M1712.1 843V881M1713.3 834V876M1714.4 822V867M1715.6 818V878M1716.7 826V874M1717.9 830V861M1719.0 820V860M1720.2 806V857M1721.3 801V856M1722.5 805V852M1723.6 816V850M1724.8 782V854M1725.9 786V850M1727.1 778V855M1728.2 773V847M1729.4 804V842M1730.5 807V853M1731.6 821V859M1732.8 832V865M1733.9 837V869M1735.1 829V880M1736.2 840V871M1737.4 836V881M1738.5 847V898M1739.7 841V912M1740.8 844V893M1742.0 830V892M1743.1 800V874M1744.3 825V878M1745.4 842V865M1746.6 848V868M1747.7 850V875M1748.9 850V867M1750.0 853V870M1751.2 850V875M1752.3 848V878M1753.5 849V879M1754.6 842V878M1755.8 835V869M1756.9 824V891M1758.1 822V857M1759.2 819V841M1760.4 817V842M1761.5 812V834M1762.7 806V831M1763.8 810V831M1765.0 811V832M1766.1 806V824M1767.3 801V825M1768.4 798V821M1769.6 797V824M1770.7 795V822M1771.9 793V818M1773.0 797V827M1774.2 797V821M1775.3 803V821M1776.4 808V830M1777.6 808V836M1778.7 808V836M1779.9 815V837M1781.0 812V838M1782.2 817V838M1783.3 811V837M1784.5 811V834M1785.6 809V839M1786.8 806V842M1787.9 805V851M1789.1 804V853M1790.2 800V844M1791.4 810V838M1792.5 800V830M1793.7 799V817M1794.8 801V820M1796.0 798V823M1797.1 797V818M1798.3 795V818M1799.4 794V824M1800.6 797V822M1801.7 797V824M1802.9 796V822M1804.0 802V836M1805.2 796V851M1806.3 793V838M1807.5 789V821M1808.6 791V817M1809.8 790V814M1810.9 787V818M1812.1 790V808M1813.2 789V819M1814.4 792V815M1815.5 795V814M1816.7 798V821M1817.8 801V819M1818.9 802V823M1820.1 801V827M1821.2 800V824M1822.4 800V819M1823.5 806V824M1824.7 805V824M1825.8 800V817M1827.0 801V818M1828.1 802V818M1829.3 803V818M1830.4 805V819M1831.6 802V824M1832.7 804V832M1833.9 806V830M1835.0 800V833M1836.2 802V842M1837.3 803V846M1838.5 807V887M1839.6 810V853M1840.8 802V849M1841.9 796V824M1843.1 797V817M1844.2 800V821M1845.4 799V816M1846.5 794V820M1847.7 794V818M1848.8 795V818M1850.0 794V817M1851.1 793V815M1852.3 794V824M1853.4 798V820M1854.6 795V814M1855.7 789V816M1856.9 790V818M1858.0 788V806M1859.2 785V807M1860.3 787V814M1861.5 787V804M1862.6 788V809M1863.7 787V804M1864.9 787V809M1866.0 784V820M1867.2 782V813M1868.3 782V841M1869.5 790V828M1870.6 788V820M1871.8 782V809M1872.9 782V806M1874.1 777V806M1875.2 781V801M1876.4 775V798M1877.5 781V799M1878.7 779V799M1879.8 776V799M1881.0 776V798M1882.1 772V800M1883.3 770V788M1884.4 770V800M1885.6 767V794M1886.7 771V792M1887.9 771V789M1889.0 770V802M1890.2 773V793M1891.3 776V806M1892.5 778V798M1893.6 781V805M1894.8 778V802M1895.9 784V801M1897.1 784V799M1898.2 781V804M1899.4 782V804M1900.5 778V806M1901.7 777V805M1902.8 777V808M1904.0 776V805M1905.1 774V816M1906.3 773V818M1907.4 778V830M1908.5 777V811M1909.7 772V804M1910.8 774V806M1912.0 771V811M1913.1 773V807M1914.3 766V806M1915.4 771V803M1916.6 773V805M1917.7 763V811M1918.9 758V813M1920.0 763V827M1921.2 772V831M1922.3 782V846M1923.5 773V839M1924.6 770V814M1925.8 773V814M1926.9 765V806M1928.1 773V802M1929.2 755V797M1930.4 750V804M1931.5 742V806M1932.7 773V806M1933.8 782V835M1935.0 797V848M1936.1 796V870M1937.3 804V847M1938.4 791V833M1939.6 791V836M1940.7 797V831M1941.9 794V830M1943.0 788V843M1944.2 787V848M1962.2 770V794M1963.4 768V791M1964.5 768V794M1965.7 750V790M1966.8 766V795M1968.0 761V792M1969.1 762V803M1970.3 764V801M1971.4 771V796M1972.6 776V798M1973.7 770V793M1974.9 779V801M1976.0 772V800M1977.2 772V800M1978.3 778V801M1979.5 768V797M1980.6 768V798M1981.8 758V797M1982.9 737V795M1984.1 650V791M1985.2 746V790M1986.4 759V792M1987.5 765V796M1988.7 768V794M1989.8 776V797M1991.0 783V801M1992.1 785V798M1993.2 789V806M1994.4 789V843M1995.5 791V902M1996.7 783V823M1997.8 768V818M1999.0 740V821M2000.1 769V824M2001.3 775V819M2002.4 782V820M2003.6 791V830M2004.7 806V837M2005.9 806V832M2007.0 805V835M2008.2 799V833M2009.3 797V832M2010.5 770V835M2011.6 802V828M2012.8 806V836M2013.9 812V842M2015.1 811V866M2016.2 815V856M2017.4 820V854M2018.5 821V850M2019.7 818V845M2020.8 824V845M2022.0 808V846M2023.1 801V848M2024.3 806V847M2025.4 816V851M2026.6 782V849M2027.7 779V854M2028.9 784V840M2030.0 727V850M2031.2 768V850M2032.3 794V848M2033.5 773V854M2034.6 786V864M2035.8 796V903M2036.9 811V857M2038.0 806V848M2039.2 809V851M2040.3 808V848M2041.5 808V851M2042.6 815V855M2043.8 806V862M2044.9 819V875M2046.1 808V856M2047.2 783V855M2048.4 776V844M2049.5 767V838M2050.7 785V842M2051.8 797V841M2053.0 802V838M2054.1 788V840M2055.3 798V839M2056.4 811V843M2057.6 813V844M2058.7 806V855M2059.9 819V863M2061.0 805V858M2062.2 816V862M2063.3 785V862M2064.5 809V863M2065.6 822V872M2066.8 819V865M2067.9 809V892M2069.1 832V918M2070.2 830V894M2071.4 815V872M2072.5 821V863M2073.7 812V855M2074.8 822V855M2076.0 816V854M2077.1 797V855M2078.3 804V866M2079.4 722V871M2080.5 764V894M2081.7 806V888M2082.8 805V877M2084.0 810V876M2085.1 816V874M2086.3 808V860M2087.4 798V869M2088.6 823V860M2089.7 818V856M2090.9 818V861M2092.0 828V856M2093.2 829V854M2094.3 828V860M2095.5 830V860M2096.6 811V874M2097.8 806V881M2098.9 800V860M2100.1 809V854M2101.2 804V848M2102.4 776V843M2103.5 793V842M2104.7 789V845M2105.8 762V836M2107.0 786V849M2108.1 796V845M2109.3 806V842M2110.4 818V857M2111.6 814V855M2112.7 828V863M2113.9 821V864M2115.0 837V868M2116.2 838V867M2117.3 833V875M2118.5 830V874M2119.6 837V879M2120.8 819V853M2121.9 824V856M2123.1 806V849M2124.2 800V848M2125.3 781V848M2126.5 821V854M2127.6 818V847M2128.8 826V852M2129.9 823V859M2131.1 820V866M2132.2 827V870M2133.4 827V855M2134.5 824V850M2135.7 821V848M2136.8 825V844M2138.0 824V843M2139.1 822V842M2140.3 818V838M2141.4 817V841M2142.6 815V838M2143.7 804V836M2144.9 816V836M2146.0 817V834M2147.2 812V831M2148.3 816V835M2149.5 817V835M2150.6 815V837M2151.8 822V848M2152.9 820V852M2154.1 819V890M2155.2 818V848M2156.4 821V837M2157.5 821V833M2158.7 815V829M2159.8 815V831M2161.0 817V830M2162.1 815V828M2163.3 813V828M2164.4 813V830M2165.6 811V824M2166.7 812V830M2167.9 809V826M2169.0 814V830M2170.1 814V830M2171.3 813V827M2172.4 811V832M2173.6 809V842M2174.7 812V910M2175.9 813V830M2177.0 816V831M2178.2 818V830M2179.3 818V832M2180.5 816V835M2181.6 819V835M2182.8 819V845M2183.9 818V840M2185.1 819V837M2186.2 821V837M2187.4 817V836M2188.5 816V834M2189.7 817V833M2190.8 814V839M2192.0 817V851M2193.1 812V839M2194.3 815V836M2195.4 811V828M2196.6 809V831M2197.7 810V825M2198.9 806V824M2200.0 803V820M2201.2 805V824M2202.3 807V824M2203.5 807V822M2204.6 811V824M2205.8 810V824M2206.9 811V826M2208.1 809V826M2209.2 810V828M2210.4 811V839M2211.5 809V905M2212.6 808V873M2213.8 808V824M2214.9 804V821M2216.1 803V818M2217.2 805V819M2218.4 805V821M2219.5 810V822M2220.7 808V821M2221.8 811V822M2223.0 808V819M2224.1 808V821M2225.3 807V821M2226.4 808V821M2227.6 809V820M2228.7 807V817M2229.9 807V819M2231.0 806V819M2232.2 807V819M2233.3 808V816M2234.5 804V814M2235.6 806V814M2236.8 804V818M2237.9 804V815M2239.1 806V814M2240.2 806V818M2241.4 806V815M2242.5 807V817M2243.7 806V819M2244.8 808V818M2246.0 805V815M2247.1 803V820M2248.3 803V817M2249.4 799V821M2250.6 793V817M2251.7 793V807M2252.9 786V809M2254.0 782V800M2255.2 783V800M2256.3 782V796M2257.4 784V793M2258.6 778V790M2259.7 775V786M2260.9 776V787M2262.0 777V788M2263.2 777V794M2264.3 779V790M2265.5 780V801M2266.6 781V806M2267.8 781V802M2268.9 781V798M2270.1 782V795M2271.2 784V801M2272.4 782V798M2273.5 782V800M2274.7 782V797M2275.8 783V797M2277.0 783V800M2278.1 782V798M2279.3 787V798M2280.4 782V800M2281.6 781V796M2282.7 782V797M2283.9 782V795M2285.0 782V798M2286.2 776V795M2287.3 781V793M2288.5 781V796M2289.6 780V794M2290.8 777V791M2291.9 778V796M2293.1 779V791M2294.2 780V795M2295.4 776V792M2296.5 783V796M2297.7 785V796M2298.8 781V797M2300.0 785V797M2301.1 785V798M2302.2 784V797M2303.4 781V800M2304.5 784V800M2305.7 785V800M2306.8 783V802M2308.0 783V802M2309.1 787V807M2310.3 782V812M2311.4 788V814M2312.6 783V813M2313.7 792V816M2314.9 783V821M2316.0 783V804M2317.2 781V807M2318.3 778V806M2319.5 781V800M2320.6 785V802M2321.8 778V802M2322.9 788V803M2324.1 781V800M2325.2 774V800M2326.4 773V797M2327.5 780V796M2328.7 777V800M2329.8 773V803M2331.0 775V817M2332.1 767V817M2333.3 760V839M2334.4 769V806M2335.6 764V797M2336.7 769V795M2337.9 758V794M2339.0 764V800M2340.2 768V798M2341.3 770V800M2342.5 774V800M2343.6 781V812M2344.8 790V812M2345.9 792V815M2347.0 791V818M2348.2 788V813M2349.3 788V813M2350.5 789V811M2351.6 791V811M2352.8 792V807M2353.9 788V803M2355.1 790V809M2356.2 786V802M2357.4 785V805M2358.5 786V805M2359.7 787V805M2360.8 790V803M2362.0 786V806M2363.1 782V806M2364.3 778V798M2365.4 776V800M2366.6 773V804M2367.7 767V803M2368.9 769V800M2370.0 752V798M2371.2 756V790M2372.3 756V793M2373.5 764V801M2374.6 772V805M2375.8 758V806M2376.9 774V803M2378.1 775V807M2379.2 768V810M2380.4 758V807M2381.5 764V817M2382.7 746V821M2383.8 765V808M2385.0 767V804M2386.1 771V796M2387.3 764V800M2388.4 762V800M2389.5 754V796M2390.7 758V795M2391.8 742V797M2393.0 725V791M2394.1 761V806M2395.3 758V804M2396.4 737V809M2397.6 744V803M2398.7 661V792M2399.9 660V789M2401.0 721V806M2402.2 755V811M2403.3 764V842M2404.5 781V837M2405.6 794V835M2406.8 782V827M2407.9 798V836M2409.1 799V833M2410.2 798V831M2411.4 791V828M2412.5 794V830M2413.7 797V826M2414.8 788V834M2416.0 782V851M2417.1 786V829M2418.3 770V829M2419.4 782V828M2420.6 786V823M2421.7 793V824M2422.9 794V824M2424.0 777V821M2425.2 718V817M2426.3 755V827M2427.5 794V836M2428.6 804V841M2429.8 799V852M2430.9 799V861M2432.1 800V859M2433.2 803V895M2434.3 805V924M2435.5 806V865M2436.6 799V842M2437.8 797V849M2438.9 809V865M2440.1 820V857M2441.2 821V894M2442.4 822V836M2446.5 787V843M2468.9 827V869M2470.0 836V865M2476.3 824V851M2477.5 822V853M2478.6 817V853M2479.8 800V863M2480.9 819V861M2482.1 817V867M2483.2 820V861M2484.4 824V858M2485.5 810V873M2486.7 798V867M2487.8 787V878M2489.0 744V860M2490.1 793V865M2491.3 795V855M2492.4 794V856M2493.6 804V854M2494.7 821V850M2495.9 817V859M2497.0 825V866M2498.2 830V857M2499.3 830V876M2500.5 831V868M2501.6 836V864M2502.7 829V864M2503.9 837V866M2505.0 831V860M2506.2 818V866M2507.3 836V865M2508.5 833V859M2509.6 830V857M2510.8 828V861M2511.9 827V854M2513.1 818V852M2514.2 818V860M2515.4 822V858M2516.5 810V865M2517.7 755V850M2518.8 796V875M2520.0 818V866M2521.1 823V881M2522.3 825V902M2523.4 830V928M2524.6 834V891M2525.7 841V869M2526.9 841V867M2528.0 842V866M2529.2 850V875M2530.3 851V881M2531.5 854V881M2532.6 857V890M2533.8 851V885M2534.9 855V901M2536.1 851V894M2537.2 856V905M2538.4 855V916M2539.5 836V892M2540.7 828V880M2541.8 821V881M2543.0 806V884M2544.1 779V865M2545.3 829V867M2546.4 830V873M2547.5 842V874M2548.7 848V875M2549.8 853V872M2551.0 852V873M2552.1 859V877M2553.3 854V881M2563.5 836V863M2569.4 837V854M2570.6 838V854M2571.7 830V863M2572.9 834V869M2574.0 821V856M2575.2 831V854M2576.3 829V856M2577.5 826V851M2578.6 827V851M2579.8 833V851M2580.9 830V850M2582.1 831V850M2583.2 827V856M2584.4 829V852M2585.5 830V856M2586.7 830V857M2587.8 818V863M2588.9 819V856M2590.1 820V846M2591.2 815V841M2592.4 813V837M2593.5 813V842M2594.7 815V854M2595.8 809V893M2597.0 809V854M2598.1 807V836M2599.3 814V833M2600.4 812V835M2601.6 806V834M2602.7 801V832M2603.9 807V834M2605.0 807V832M2606.2 809V829M2607.3 812V830M2608.5 809V833M2609.6 812V826M2610.8 811V828M2611.9 808V828M2613.1 812V843M2614.2 810V835M2615.4 806V832M2616.5 807V829M2617.7 804V820M2618.8 804V821M2620.0 805V816M2621.1 805V820M2622.3 804V819M2623.4 798V819M2624.6 802V818M2625.7 801V815M2626.9 802V819M2628.0 802V817M2629.2 803V821M2630.3 804V816M2631.5 804V822M2632.6 804V828M2633.7 807V825M2634.9 808V825M2636.0 807V837M2637.2 808V829M2638.3 807V823M2639.5 810V828M2640.6 811V824M2641.8 809V824M2642.9 808V824M2644.1 806V819M2645.2 806V817M2646.4 808V819M2647.5 803V817M2648.7 805V815M2649.8 801V812M2651.0 797V813M2652.1 796V807M2653.3 793V812M2654.4 797V807M2655.6 794V808M2656.7 795V809M2657.9 797V813M2659.0 796V807M2660.2 796V808M2661.3 794V813M2662.5 796V808M2663.6 795V812M2664.8 794V813M2665.9 801V813M2667.1 796V815M2668.2 801V815M2669.4 799V809M2670.5 797V815M2671.7 798V812M2672.8 800V811M2674.0 800V812M2675.1 799V811M2676.3 798V813M2677.4 797V816M2678.5 798V815M2679.7 796V816M2680.8 794V811M2682.0 793V811M2683.1 791V814M2684.3 790V806M2685.4 785V808M2686.6 787V811M2687.7 782V807M2688.9 787V806M2690.0 780V810M2691.2 777V812M2692.3 782V804M2693.5 769V810M2694.6 776V803M2695.8 785V803M2696.9 789V805M2698.1 782V807M2699.2 784V799M2700.4 784V801M2701.5 782V800M2702.7 777V799M2703.8 782V800M2705.0 773V793M2706.1 779V795M2707.3 777V795M2708.4 772V792M2709.6 777V794M2710.7 776V796M2711.9 777V794M2713.0 768V790M2714.2 775V791M2715.3 780V794M2716.5 780V794M2717.6 782V802M2718.8 797V809M2719.9 799V815M2721.0 805V824M2722.2 809V819M2723.3 811V824M2724.5 812V827M2725.6 813V827M2726.8 814V828M2727.9 809V834M2729.1 816V829M2730.2 813V833M2731.4 816V832M2732.5 813V831M2733.7 812V826M2734.8 814V826M2736.0 815V824M2737.1 815V827M2738.3 817V826M2739.4 819V827M2740.6 819V827M2741.7 817V829M2742.9 821V833M2744.0 818V829M2745.2 813V830M2746.3 809V821M2747.5 802V819M2748.6 798V816M2749.8 788V811M2750.9 788V812M2752.1 792V811M2753.2 786V806M2754.4 782V806M2755.5 784V805M2756.7 779V804M2757.8 776V803M2759.0 780V802M2760.1 778V800M2761.3 767V798M2762.4 768V792M2763.6 761V795M2764.7 763V790M2765.8 762V791M2767.0 759V793M2768.1 758V787M2769.3 748V794M2770.4 756V793M2771.6 769V792M2772.7 764V795M2773.9 772V796M2775.0 769V794M2776.2 776V801M2777.3 775V797M2778.5 770V800M2779.6 763V798M2780.8 754V806M2781.9 749V795M2783.1 721V789M2784.2 725V805M2785.4 739V800M2786.5 728V800M2787.7 741V809M2788.8 750V951M2790.0 746V838M2791.1 765V812M2792.3 763V814M2793.4 767V823M2794.6 758V815M2795.7 758V836M2796.9 772V829M2798.0 752V836M2799.2 776V821M2800.3 780V843M2801.5 782V824M2802.6 790V848M2803.8 790V846M2804.9 785V858M2806.1 800V869M2807.2 803V855M2808.4 788V855M2809.5 793V839M2810.6 789V844M2811.8 778V843M2812.9 789V847M2814.1 767V854M2815.2 755V837M2816.4 785V849M2817.5 784V832M2818.7 788V830M2819.8 801V842M2821.0 797V835M2822.1 800V843M2823.3 807V846M2824.4 811V852M2825.6 794V866M2826.7 807V849M2827.9 794V839M2829.0 794V835M2830.2 797V855M2831.3 791V835M2832.5 788V842M2833.6 780V848M2834.8 766V835M2835.9 768V844M2837.1 742V831M2838.2 771V840M2839.4 794V854M2840.5 806V846M2841.7 818V856M2842.8 823V871M2844.0 817V884M2845.1 824V909M2846.3 853V930M2847.4 825V986M2848.6 837V910M2849.7 833V884M2850.9 830V866M2852.0 827V864M2853.2 818V859M2854.3 826V872M2855.4 809V862M2856.6 828V886M2857.7 810V886M2858.9 793V901M2860.0 808V875M2861.2 802V862M2862.3 772V843M2863.5 801V854M2864.6 806V842M2865.8 794V851M2866.9 782V847M2868.1 759V837M2869.2 717V848M2870.4 782V837M2871.5 797V850M2872.7 806V856M2873.8 809V872M2875.0 827V865M2876.1 821V871M2877.3 824V898M2878.4 826V876M2879.6 826V889M2880.7 828V880M2881.9 825V868M2883.0 831V878M2884.2 821V869M2885.3 771V867M2886.5 814V871M2887.6 830V884M2888.8 834V992M2889.9 836V916M2891.1 841V878M2892.2 833V877M2893.4 828V870M2894.5 824V871M2895.7 827V887M2896.8 825V884M2897.9 833V886M2899.1 815V878M2900.2 830V889M2901.4 806V870M2902.5 848V866" stroke="#DCDAEC" stroke-width="1.9" fill="none" shape-rendering="crispEdges"/>
<path d="M331.3 1026V1039M332.5 1027V1037M333.6 1026V1035M334.8 1025V1039M335.9 1025V1055M339.7 1029V1042M340.8 1027V1037M342.0 1025V1036M343.1 1023V1034M344.3 1021V1036M345.4 1021V1031M346.6 1020V1039M347.7 1021V1040M348.9 1019V1047M350.0 1021V1052M351.2 1021V1045M352.3 1022V1042M353.5 1023V1036M354.6 1024V1035M355.8 1026V1037M356.9 1028V1049M358.1 1035V1057M359.2 1045V1062M360.4 1050V1064M361.5 1057V1073M362.7 1065V1081M363.8 1069V1082M365.0 1073V1084M366.1 1077V1091M367.3 1079V1087M368.4 1079V1097M369.5 1080V1092M370.7 1079V1088M371.8 1078V1087M373.0 1077V1087M374.1 1076V1083M375.3 1077V1083M376.4 1077V1082M377.6 1077V1082M378.7 1076V1084M379.9 1075V1105M381.0 1077V1116M382.2 1075V1190M383.3 1051V1108M384.5 1033V1075M385.6 1030V1060M386.8 1030V1055M387.9 1030V1063M389.1 1029V1084M390.2 1029V1068M391.4 1029V1052M392.5 1029V1074M393.7 1030V1080M394.8 1031V1056M396.0 1033V1099M397.1 1029V1059M398.3 1029V1060M399.4 1030V1058M400.6 1029V1055M401.7 1030V1072M402.9 1030V1052M404.0 1032V1067M405.2 1032V1057M406.3 1035V1075M407.5 1036V1071M408.6 1035V1062M409.8 1033V1070M410.9 1031V1064M412.1 1032V1090M413.2 1033V1057M414.3 1033V1058M415.5 1033V1073M416.6 1034V1078M417.8 1034V1057M418.9 1035V1062M420.1 1034V1063M421.2 1034V1085M422.4 1032V1060M423.5 1031V1039M424.7 1030V1039M425.8 1029V1039M427.0 1028V1038M428.1 1028V1036M429.3 1030V1038M430.4 1030V1046M431.6 1029V1048M432.7 1029V1046M433.9 1041V1048M435.0 1037V1051M436.2 1028V1066M437.3 1031V1066M438.5 1038V1056M439.6 1045V1068M440.8 1036V1073M441.9 1029V1053M443.1 1030V1045M444.2 1030V1050M445.4 1028V1042M446.5 1029V1051M447.7 1029V1084M448.8 1030V1064M450.0 1036V1078M451.1 1042V1090M452.3 1057V1077M453.4 1076V1136M454.6 1086V1105M455.7 1057V1090M456.9 1055V1085M458.0 1051V1098M459.1 1047V1068M460.3 1042V1076M461.4 1044V1064M462.6 1046V1072M463.7 1047V1070M464.9 1048V1070M466.0 1051V1068M467.2 1051V1085M468.3 1032V1069M469.5 1031V1061M470.6 1031V1047M471.8 1029V1069M472.9 1030V1049M474.1 1030V1060M475.2 1028V1053M476.4 1028V1080M477.5 1027V1106M478.7 1026V1073M479.8 1025V1064M481.0 1027V1043M482.1 1028V1054M483.3 1029V1043M484.4 1027V1060M485.6 1031V1060M486.7 1032V1073M487.9 1032V1081M489.0 1031V1068M490.2 1030V1063M491.3 1028V1043M492.5 1027V1060M493.6 1026V1045M494.8 1026V1061M495.9 1027V1053M497.1 1026V1078M498.2 1026V1041M499.4 1026V1039M500.5 1025V1032M501.7 1025V1034M502.8 1024V1034M503.9 1024V1030M505.1 1024V1036M506.2 1023V1030M507.4 1024V1030M508.5 1024V1034M509.7 1024V1036M510.8 1023V1037M512.0 1023V1044M513.1 1022V1060M514.3 1023V1055M515.4 1024V1059M516.6 1024V1060M517.7 1026V1119M518.9 1025V1078M520.0 1026V1076M521.2 1025V1095M522.3 1024V1100M523.5 1024V1068M524.6 1024V1075M525.8 1025V1080M526.9 1024V1084M528.1 1024V1049M529.2 1025V1050M530.4 1022V1049M531.5 1022V1042M532.7 1022V1069M533.8 1022V1062M535.0 1024V1050M536.1 1023V1103M537.3 1024V1380M538.4 1022V1060M539.6 1021V1052M540.7 1021V1043M541.9 1021V1075M543.0 1022V1057M544.2 1019V1092M545.3 1019V1048M546.4 1017V1033M547.6 1016V1033M548.7 1016V1029M549.9 1018V1029M551.0 1027V1035M552.2 1030V1035M553.3 1033V1039M554.5 1034V1039M555.6 1035V1040M556.8 1036V1041M557.9 1038V1043M559.1 1039V1044M560.2 1039V1044M561.4 1041V1046M562.5 1042V1047M570.0 1019V1060M571.2 1020V1058M572.3 1020V1056M573.5 1021V1045M574.6 1022V1069M575.8 1024V1040M576.9 1023V1033M578.1 1021V1027M579.2 1020V1027M580.4 1019V1027M581.5 1018V1029M582.7 1017V1024M583.8 1018V1027M585.0 1019V1025M586.1 1018V1028M587.3 1020V1041M588.4 1019V1070M589.6 1020V1046M590.7 1020V1030M591.9 1020V1027M593.0 1019V1024M594.1 1019V1028M595.3 1019V1030M596.4 1020V1047M597.6 1019V1102M598.7 1021V1053M599.9 1022V1030M601.0 1022V1030M602.2 1023V1028M603.3 1023V1031M604.5 1023V1032M605.6 1025V1030M606.8 1023V1037M607.9 1023V1034M609.1 1025V1034M610.2 1026V1033M611.4 1024V1029M612.5 1024V1029M613.7 1022V1030M614.8 1022V1029M616.0 1022V1033M617.1 1026V1033M618.3 1027V1035M619.4 1031V1042M620.6 1035V1052M621.7 1034V1087M622.9 1034V1045M624.0 1035V1042M625.2 1033V1052M626.3 1048V1090M627.5 1066V1081M628.6 1103V1110M629.8 1098V1131M630.9 1094V1125M632.1 1126V1140M633.2 1159V1169M634.4 1159V1165M635.5 1160V1167M636.7 1160V1168M637.8 1159V1170M638.9 1157V1179M640.1 1178V1236M641.2 1168V1208M642.4 1026V1233M643.5 1039V1060M644.7 1042V1049M645.8 1045V1051M651.5 1032V1039M652.6 1029V1040M653.8 1027V1042M654.9 1026V1054M656.1 1042V1053M657.2 1057V1073M658.4 1054V1093M659.5 1050V1066M660.7 1033V1045M661.8 1029V1042M663.0 1021V1032M664.1 1018V1027M665.3 1017V1032M666.4 1018V1028M667.6 1017V1030M668.7 1018V1037M669.9 1019V1039M671.0 1018V1060M672.2 1019V1044M673.3 1019V1049M674.5 1020V1080M675.6 1021V1130M676.8 1021V1052M677.9 1022V1061M679.1 1022V1052M680.2 1023V1051M681.3 1023V1058M682.5 1022V1054M683.6 1022V1063M684.8 1023V1061M685.9 1021V1049M687.1 1027V1052M688.2 1024V1042M689.4 1020V1048M690.5 1021V1060M691.7 1020V1038M692.8 1021V1040M694.0 1018V1039M695.1 1017V1045M696.3 1017V1038M697.4 1017V1025M698.6 1016V1024M699.7 1018V1027M700.9 1017V1025M702.0 1018V1026M703.2 1016V1023M704.3 1018V1023M705.5 1017V1027M706.6 1018V1098M707.8 1019V1042M708.9 1018V1048M710.1 1018V1038M711.2 1018V1036M712.4 1018V1032M713.5 1017V1048M714.7 1018V1048M715.8 1019V1043M717.0 1020V1094M718.1 1018V1136M719.3 1019V1065M720.4 1018V1045M721.6 1020V1036M722.7 1019V1034M723.9 1020V1042M725.0 1023V1032M726.1 1027V1037M727.3 1025V1037M728.4 1024V1034M729.6 1023V1039M730.7 1022V1030M731.9 1021V1031M733.0 1022V1035M734.2 1023V1037M735.3 1023V1030M736.5 1023V1031M737.6 1023V1031M738.8 1024V1036M739.9 1025V1081M741.1 1025V1036M742.2 1025V1035M743.4 1026V1032M744.5 1027V1039M745.7 1028V1140M746.8 1029V1082M748.0 1031V1073M749.1 1031V1048M750.3 1036V1042M751.4 1040V1048M752.6 1042V1049M753.7 1039V1049M754.9 1036V1045M756.0 1035V1060M757.2 1034V1131M758.3 1033V1071M759.5 1033V1094M760.6 1033V1090M761.8 1045V1075M762.9 1049V1065M764.1 1054V1088M765.2 1058V1083M766.4 1060V1088M767.5 1062V1092M768.7 1065V1127M769.8 1068V1119M770.9 1069V1096M772.1 1069V1093M773.2 1061V1090M774.4 1048V1077M775.5 1058V1095M776.7 1069V1127M777.8 1076V1115M779.0 1084V1099M780.1 1079V1092M781.3 1075V1090M782.4 1063V1075M783.6 1053V1085M784.7 1052V1087M785.9 1050V1096M787.0 1066V1087M788.2 1077V1130M789.3 1071V1095M790.5 1069V1091M791.6 1063V1079M792.8 1060V1087M793.9 1054V1068M795.1 1045V1073M796.2 1045V1090M797.4 1042V1089M798.5 1055V1076M799.7 1075V1100M800.8 1102V1127M802.0 1113V1159M803.1 1126V1134M804.3 1111V1121M805.4 1086V1095M806.6 1042V1081M807.7 1044V1080M808.9 1041V1063M810.0 1053V1090M811.2 1057V1074M812.3 1084V1110M813.4 1119V1124M814.6 1075V1137M815.7 1044V1085M816.9 1053V1079M818.0 1075V1101M819.2 1071V1090M820.3 1060V1096M821.5 1067V1103M822.6 1072V1096M823.8 1067V1106M824.9 1057V1111M826.1 1086V1128M827.2 1080V1102M828.4 1063V1089M829.5 1054V1074M830.7 1047V1084M831.8 1050V1065M833.0 1051V1077M834.1 1053V1064M835.3 1050V1077M836.4 1047V1059M837.6 1045V1075M838.7 1043V1084M839.9 1041V1100M841.0 1087V1136M842.2 1118V1130M843.3 1096V1139M844.5 1085V1112M845.6 1069V1105M846.8 1088V1119M847.9 1097V1126M849.1 1087V1128M850.2 1076V1092M851.4 1054V1076M852.5 1061V1078M853.7 1066V1072M854.8 1065V1073M856.0 1062V1074M857.1 1057V1068M858.2 1044V1075M859.4 1052V1088M860.5 1063V1081M861.7 1059V1127M862.8 1050V1086M864.0 1042V1076M865.1 1044V1081M866.3 1047V1064M867.4 1050V1066M868.6 1042V1073M869.7 1039V1055M870.9 1036V1072M872.0 1048V1063M873.2 1054V1071M874.3 1106V1111M875.5 1072V1133M876.6 1065V1106M877.8 1050V1076M878.9 1050V1072M880.1 1054V1065M881.2 1057V1073M882.4 1057V1070M883.5 1065V1071M884.7 1066V1078M885.8 1054V1076M887.0 1042V1067M888.1 1057V1073M889.3 1075V1080M890.4 1065V1086M891.6 1057V1083M892.7 1051V1090M893.9 1096V1127M895.0 1095V1115M896.2 1095V1112M897.3 1093V1117M898.5 1074V1104M899.6 1066V1127M900.8 1051V1172M901.9 1039V1095M903.0 1040V1090M904.2 1043V1071M905.3 1047V1086M906.5 1043V1075M907.6 1039V1081M908.8 1035V1084M909.9 1034V1059M911.1 1033V1073M912.2 1033V1049M913.4 1033V1052M914.5 1034V1066M915.7 1035V1063M916.8 1045V1067M918.0 1062V1067M919.1 1063V1070M920.3 1063V1075M921.4 1055V1066M922.6 1036V1065M923.7 1047V1070M924.9 1066V1085M926.0 1070V1112M927.2 1074V1100M928.3 1077V1103M929.5 1051V1093M930.6 1041V1110M931.8 1027V1062M932.9 1027V1066M934.1 1026V1045M935.2 1026V1063M936.4 1025V1055M937.5 1026V1090M938.7 1026V1094M939.8 1027V1058M941.0 1027V1104M942.1 1026V1079M943.3 1028V1077M944.4 1027V1094M945.6 1028V1074M946.7 1029V1058M947.8 1029V1100M949.0 1028V1093M950.1 1028V1074M951.3 1029V1063M952.4 1028V1079M953.6 1029V1095M954.7 1029V1073M955.9 1029V1064M957.0 1028V1070M958.2 1028V1062M959.3 1028V1062M960.5 1029V1087M961.6 1028V1048M962.8 1028V1036M963.9 1028V1042M965.1 1028V1048M966.2 1027V1075M967.4 1028V1056M968.5 1029V1039M969.7 1029V1039M970.8 1030V1045M972.0 1044V1060M973.1 1040V1089M974.3 1035V1051M975.4 1030V1039M976.6 1030V1038M977.7 1030V1036M978.9 1027V1034M980.0 1028V1037M981.2 1027V1038M982.3 1027V1039M983.5 1027V1084M984.6 1026V1056M985.8 1027V1053M986.9 1026V1100M988.1 1027V1086M989.2 1027V1096M990.3 1028V1098M991.5 1028V1053M992.6 1028V1056M993.8 1028V1081M994.9 1029V1072M996.1 1030V1067M997.2 1030V1089M998.4 1031V1054M999.5 1033V1051M1000.7 1034V1078M1001.8 1034V1061M1003.0 1033V1078M1004.1 1033V1043M1005.3 1034V1042M1006.4 1033V1038M1007.6 1032V1038M1008.7 1033V1038M1009.9 1033V1038M1011.0 1031V1038M1012.2 1031V1039M1013.3 1031V1036M1014.5 1031V1038M1015.6 1030V1035M1016.8 1029V1034M1017.9 1028V1035M1019.1 1029V1036M1020.2 1027V1039M1021.4 1028V1035M1022.5 1030V1037M1023.7 1030V1040M1024.8 1030V1037M1026.0 1030V1041M1027.1 1029V1042M1028.3 1032V1061M1029.4 1032V1050M1030.6 1034V1059M1031.7 1035V1090M1032.9 1032V1063M1034.0 1030V1045M1035.1 1029V1039M1036.3 1027V1035M1037.4 1027V1037M1038.6 1027V1040M1039.7 1027V1034M1040.9 1026V1042M1042.0 1026V1058M1043.2 1042V1091M1044.3 1050V1069M1045.5 1059V1069M1046.6 1061V1067M1047.8 1063V1072M1048.9 1066V1074M1050.1 1071V1078M1051.2 1062V1071M1052.4 1057V1077M1053.5 1033V1091M1054.7 1023V1046M1055.8 1023V1036M1057.0 1022V1029M1058.1 1020V1027M1059.3 1020V1032M1060.4 1022V1029M1061.6 1022V1030M1062.7 1021V1036M1063.9 1028V1062M1065.0 1087V1149M1066.2 1209V1300M1067.3 1221V1258M1068.5 1233V1283M1069.6 1212V1239M1070.8 1208V1218M1071.9 1203V1214M1073.1 1188V1209M1074.2 1157V1178M1075.4 1132V1170M1076.5 1129V1148M1077.7 1127V1144M1078.8 1126V1137M1079.9 1123V1128M1081.1 1105V1110M1082.2 1129V1134M1083.4 1143V1172M1084.5 1027V1129M1085.7 1027V1101M1086.8 1023V1042M1088.0 1021V1036M1089.1 1022V1030M1090.3 1021V1037M1091.4 1021V1040M1092.6 1022V1033M1093.7 1023V1036M1094.9 1023V1035M1096.0 1042V1048M1102.6 1021V1030M1103.8 1024V1030M1104.9 1025V1031M1106.1 1023V1028M1107.2 1020V1029M1108.4 1020V1027M1109.5 1021V1033M1110.7 1021V1033M1111.8 1021V1066M1113.0 1022V1065M1114.1 1023V1063M1115.3 1036V1066M1116.4 1045V1106M1117.6 1041V1098M1118.7 1039V1067M1119.9 1062V1090M1121.0 1086V1097M1122.1 1069V1107M1123.3 1054V1072M1124.4 1054V1075M1207.6 1036V1049M1208.8 1034V1044M1209.9 1034V1041M1211.1 1033V1041M1212.2 1037V1045M1213.4 1039V1050M1214.5 1040V1062M1215.7 1040V1089M1216.8 1041V1075M1218.0 1041V1055M1219.1 1042V1060M1220.3 1041V1054M1221.4 1040V1064M1222.6 1039V1052M1223.7 1039V1079M1224.9 1038V1058M1226.0 1038V1048M1227.2 1037V1048M1228.3 1037V1042M1229.5 1036V1044M1230.6 1036V1045M1231.8 1037V1042M1232.9 1034V1040M1234.1 1034V1045M1235.2 1034V1045M1236.4 1034V1045M1237.5 1034V1050M1238.7 1036V1046M1239.8 1037V1046M1241.0 1037V1058M1242.1 1036V1048M1243.3 1035V1049M1244.4 1033V1048M1245.6 1034V1043M1246.7 1033V1057M1247.9 1034V1083M1249.0 1036V1066M1250.2 1035V1045M1251.3 1036V1048M1252.4 1035V1042M1253.6 1033V1040M1254.7 1032V1041M1255.9 1032V1039M1257.0 1032V1038M1258.2 1031V1042M1259.3 1031V1039M1260.5 1031V1041M1261.6 1031V1038M1262.8 1032V1038M1263.9 1032V1039M1265.1 1031V1038M1266.2 1030V1037M1267.4 1030V1040M1268.5 1029V1042M1269.7 1028V1040M1270.8 1029V1040M1272.0 1028V1039M1273.1 1029V1055M1274.3 1030V1042M1275.4 1032V1049M1276.6 1036V1051M1277.7 1040V1047M1278.9 1045V1057M1280.0 1047V1057M1281.2 1053V1058M1282.3 1048V1057M1283.5 1040V1064M1284.6 1033V1056M1285.8 1040V1058M1286.9 1045V1058M1288.1 1049V1081M1289.2 1054V1071M1290.4 1051V1063M1291.5 1044V1072M1292.7 1036V1051M1293.8 1033V1046M1295.0 1030V1048M1296.1 1027V1045M1297.2 1028V1040M1298.4 1030V1048M1299.5 1034V1052M1300.7 1036V1054M1301.8 1039V1049M1303.0 1043V1056M1304.1 1050V1061M1305.3 1046V1058M1306.4 1039V1053M1307.6 1033V1046M1308.7 1037V1051M1309.9 1040V1048M1311.0 1042V1047M1312.2 1034V1044M1313.3 1029V1038M1314.5 1029V1036M1315.6 1031V1042M1316.8 1031V1091M1317.9 1033V1059M1319.1 1031V1042M1320.2 1033V1040M1321.4 1034V1041M1322.5 1032V1040M1323.7 1031V1037M1324.8 1029V1036M1326.0 1029V1036M1327.1 1028V1036M1328.3 1030V1038M1329.4 1032V1040M1330.6 1031V1037M1331.7 1032V1042M1332.9 1033V1043M1334.0 1035V1044M1335.2 1034V1044M1336.3 1034V1049M1337.5 1032V1044M1338.6 1031V1037M1339.7 1029V1039M1340.9 1028V1040M1342.0 1029V1050M1343.2 1030V1058M1344.3 1031V1078M1345.5 1032V1046M1346.6 1034V1048M1347.8 1037V1049M1348.9 1042V1052M1350.1 1042V1054M1351.2 1046V1052M1352.4 1047V1061M1353.5 1044V1053M1354.7 1041V1051M1355.8 1039V1049M1357.0 1036V1050M1358.1 1037V1045M1359.3 1033V1060M1360.4 1034V1051M1361.6 1034V1049M1362.7 1035V1048M1363.9 1036V1044M1365.0 1033V1046M1366.2 1035V1045M1367.3 1034V1041M1368.5 1033V1046M1369.6 1036V1045M1370.8 1039V1050M1371.9 1039V1047M1373.1 1040V1055M1374.2 1039V1047M1375.4 1037V1044M1376.5 1037V1047M1377.7 1036V1045M1378.8 1037V1056M1380.0 1036V1079M1381.1 1037V1053M1382.3 1037V1042M1383.4 1035V1041M1384.5 1036V1041M1385.7 1037V1045M1386.8 1036V1044M1388.0 1038V1044M1389.1 1037V1049M1390.3 1039V1046M1391.4 1039V1049M1392.6 1040V1045M1393.7 1039V1048M1394.9 1040V1048M1396.0 1042V1048M1397.2 1042V1047M1398.3 1041V1046M1399.5 1043V1048M1400.6 1043V1048M1401.8 1041V1047M1402.9 1039V1044M1404.1 1037V1042M1405.2 1038V1045M1406.4 1036V1058M1407.5 1037V1094M1408.7 1035V1040M1409.8 1034V1039M1411.0 1033V1039M1412.1 1031V1038M1413.3 1031V1038M1414.4 1032V1038M1415.6 1031V1037M1416.7 1031V1036M1417.9 1030V1037M1419.0 1030V1036M1420.2 1030V1036M1421.3 1030V1037M1422.5 1032V1037M1423.6 1030V1036M1424.8 1031V1036M1425.9 1030V1037M1427.1 1030V1035M1428.2 1031V1036M1429.3 1031V1036M1430.5 1030V1035M1431.6 1030V1035M1432.8 1031V1036M1433.9 1033V1038M1435.1 1032V1037M1436.2 1032V1037M1437.4 1032V1037M1438.5 1032V1037M1439.7 1031V1036M1440.8 1031V1036M1442.0 1030V1035M1443.1 1030V1035M1444.3 1029V1034M1445.4 1028V1034M1446.6 1030V1035M1447.7 1030V1035M1448.9 1029V1034M1450.0 1028V1033M1451.2 1028V1034M1452.3 1027V1034M1453.5 1027V1032M1454.6 1027V1033M1455.8 1027V1032M1456.9 1028V1033M1458.1 1029V1034M1459.2 1030V1035M1460.4 1030V1035M1461.5 1032V1039M1462.7 1034V1040M1463.8 1033V1039M1465.0 1032V1037M1466.1 1030V1036M1467.3 1029V1035M1468.4 1026V1033M1469.6 1027V1035M1470.7 1026V1032M1471.9 1028V1034M1473.0 1027V1032M1474.1 1027V1032M1475.3 1027V1032M1476.4 1027V1032M1477.6 1026V1031M1536.5 1029V1037M1537.6 1030V1037M1538.8 1033V1038M1539.9 1033V1038M1541.1 1034V1039M1542.2 1033V1038M1543.3 1033V1038M1544.5 1033V1038M1545.6 1033V1038M1546.8 1034V1039M1547.9 1034V1039M1549.1 1033V1038M1550.2 1034V1039M1551.4 1034V1039M1552.5 1033V1038M1553.7 1033V1038M1554.8 1033V1038M1556.0 1034V1039M1557.1 1033V1039M1558.3 1034V1039M1559.4 1034V1039M1560.6 1034V1039M1561.7 1034V1039M1562.9 1034V1039M1564.0 1034V1039M1565.2 1035V1040M1566.3 1035V1040M1567.5 1035V1040M1568.6 1035V1040M1569.8 1035V1040M1570.9 1035V1040M1572.1 1035V1040M1573.2 1035V1040M1574.4 1035V1040M1575.5 1036V1041M1576.7 1035V1040M1577.8 1035V1040M1579.0 1035V1040M1580.1 1035V1040M1581.3 1035V1041M1582.4 1035V1040M1583.6 1035V1040M1584.7 1035V1040M1585.8 1035V1040M1587.0 1036V1041M1588.1 1036V1042M1589.3 1036V1041M1590.4 1036V1045M1591.6 1036V1042M1592.7 1036V1043M1593.9 1037V1043M1595.0 1037V1042M1596.2 1038V1043M1597.3 1037V1044M1598.5 1037V1042M1599.6 1038V1043M1600.8 1038V1043M1601.9 1038V1043M1603.1 1037V1042M1604.2 1038V1043M1605.4 1039V1044M1606.5 1039V1044M1607.7 1039V1044M1608.8 1039V1044M1610.0 1039V1044M1611.1 1039V1045M1612.3 1039V1047M1613.4 1040V1045M1614.6 1041V1046M1615.7 1041V1047M1616.9 1041V1047M1618.0 1041V1048M1619.2 1041V1046M1620.3 1042V1049M1621.5 1041V1049M1622.6 1041V1048M1623.8 1040V1049M1624.9 1041V1050M1626.1 1041V1046M1627.2 1041V1046M1628.4 1041V1048M1629.5 1041V1047M1630.6 1041V1046M1631.8 1042V1047M1632.9 1042V1047M1648.9 1040V1051M1650.1 1041V1048M1651.2 1039V1047M1652.4 1039V1045M1653.5 1039V1047M1654.7 1039V1048M1655.8 1038V1054M1657.0 1037V1050M1658.1 1037V1044M1659.3 1035V1048M1660.4 1036V1046M1661.6 1038V1045M1662.7 1038V1045M1663.9 1038V1044M1665.0 1039V1045M1666.2 1039V1044M1667.3 1039V1051M1668.5 1043V1051M1669.6 1043V1052M1670.8 1042V1053M1671.9 1043V1053M1673.1 1042V1051M1674.2 1042V1050M1675.4 1042V1057M1676.5 1041V1048M1677.7 1041V1049M1678.8 1040V1046M1680.0 1039V1048M1681.1 1039V1046M1682.3 1037V1042M1683.4 1036V1043M1684.6 1036V1042M1685.7 1036V1044M1686.8 1036V1045M1688.0 1035V1045M1689.1 1035V1057M1690.3 1039V1071M1691.4 1041V1065M1692.6 1039V1049M1693.7 1037V1053M1694.9 1036V1052M1696.0 1034V1045M1697.2 1032V1040M1698.3 1031V1044M1699.5 1031V1042M1700.6 1033V1042M1701.8 1033V1040M1702.9 1032V1038M1704.1 1032V1037M1705.2 1032V1040M1706.4 1032V1037M1707.5 1032V1039M1708.7 1031V1037M1709.8 1030V1037M1711.0 1030V1035M1712.1 1030V1038M1713.3 1028V1037M1714.4 1028V1034M1715.6 1029V1039M1716.7 1029V1037M1717.9 1034V1040M1719.0 1038V1047M1720.2 1035V1051M1721.3 1029V1042M1722.5 1030V1045M1723.6 1029V1045M1724.8 1031V1108M1725.9 1032V1051M1727.1 1033V1042M1728.2 1034V1040M1729.4 1032V1038M1730.5 1031V1039M1731.6 1031V1039M1732.8 1031V1036M1733.9 1030V1036M1735.1 1028V1036M1736.2 1029V1035M1737.4 1028V1035M1738.5 1026V1032M1739.7 1026V1034M1740.8 1024V1031M1742.0 1026V1036M1743.1 1025V1034M1744.3 1024V1031M1745.4 1024V1031M1746.6 1022V1035M1747.7 1021V1034M1748.9 1025V1042M1750.0 1036V1080M1751.2 1029V1113M1752.3 1023V1033M1753.5 1023V1029M1754.6 1021V1030M1755.8 1021V1029M1756.9 1021V1028M1758.1 1021V1027M1759.2 1021V1027M1760.4 1021V1029M1761.5 1022V1028M1762.7 1022V1030M1763.8 1020V1029M1765.0 1021V1038M1766.1 1039V1060M1767.3 1053V1065M1768.4 1059V1067M1769.6 1066V1074M1770.7 1077V1084M1771.9 1071V1076M1773.0 1057V1064M1774.2 1058V1064M1775.2 1023V1030M1776.3 1022V1027M1777.5 1021V1027M1778.6 1019V1024M1779.7 1021V1027M1780.9 1020V1025M1782.0 1020V1025M1783.2 1020V1025M1784.3 1020V1025M1785.5 1019V1024M1786.6 1017V1024M1787.8 1016V1021M1788.9 1015V1021M1790.1 1015V1021M1791.2 1015V1020M1792.4 1016V1021M1793.5 1016V1021M1794.7 1016V1022M1795.8 1015V1031M1797.0 1015V1021M1803.5 1014V1019M1804.6 1013V1018M1805.8 1012V1018M1806.9 1012V1018M1808.1 1011V1016M1809.2 1012V1017M1810.4 1012V1017M1811.5 1013V1018M1812.7 1012V1018M1813.8 1011V1018M1815.0 1011V1018M1816.1 1012V1017M1817.3 1012V1018M1818.4 1013V1021M1819.6 1012V1020M1820.7 1013V1020M1821.9 1012V1018M1823.0 1011V1016M1824.2 1011V1017M1825.3 1011V1017M1826.5 1011V1016M1827.6 1011V1016M1828.8 1011V1016M1829.9 1011V1016M1831.1 1012V1017M1832.2 1011V1016M1833.4 1012V1017M1834.5 1011V1016M1835.7 1011V1016M1836.8 1012V1017M1838.0 1012V1017M1839.1 1012V1017M1840.3 1012V1017M1841.4 1013V1018M1842.6 1013V1018M1843.7 1013V1018M1844.9 1013V1018M1846.0 1014V1019M1847.1 1015V1020M1848.3 1015V1020M1849.4 1016V1021M1850.6 1015V1020M1851.7 1015V1020M1852.9 1015V1020M1854.0 1015V1020M1855.2 1015V1020M1856.3 1014V1019M1857.5 1014V1019M1858.6 1015V1020M1859.8 1014V1020M1860.9 1014V1019M1862.1 1014V1019M1863.2 1013V1018M1864.4 1013V1020M1865.5 1014V1020M1866.7 1015V1020M1867.8 1015V1021M1869.0 1015V1020M1870.1 1014V1022M1871.3 1014V1019M1872.4 1014V1019M1873.6 1015V1021M1874.7 1016V1022M1875.9 1017V1022M1877.0 1017V1022M1878.2 1018V1023M1879.3 1018V1023M1880.5 1018V1023M1881.6 1018V1023M1882.8 1018V1024M1883.9 1018V1023M1885.1 1018V1023M1886.2 1017V1022M1887.4 1015V1020M1888.5 1016V1022M1889.7 1015V1020M1890.8 1016V1021M1891.9 1015V1020M1893.1 1015V1021M1894.2 1015V1020M1895.4 1016V1022M1896.5 1016V1021M1897.7 1015V1020M1898.8 1014V1019M1900.0 1014V1019M1901.1 1014V1019M1902.3 1014V1020M1903.4 1014V1019M1904.6 1013V1020M1905.7 1013V1019M1906.9 1013V1020M1908.0 1013V1019M1909.2 1014V1019M1910.3 1014V1019M1911.5 1014V1019M1912.6 1013V1018M1913.8 1014V1019M1914.9 1014V1019M1916.1 1014V1019M1917.2 1014V1026M1918.4 1014V1020M1919.5 1014V1019M1920.7 1013V1019M1921.8 1013V1018M1923.0 1013V1019M1924.1 1013V1025M1925.3 1013V1018M1926.4 1012V1017M1927.6 1012V1017M1928.7 1012V1017M1929.9 1013V1018M1931.0 1012V1018M1932.2 1011V1017M1933.3 1012V1017M1934.5 1011V1018M1935.6 1012V1027M1936.7 1012V1019M1937.9 1012V1018M1939.0 1011V1018M1940.2 1012V1018M1941.3 1013V1019M1942.5 1015V1020M1943.6 1016V1021M1944.8 1016V1034M1962.2 1015V1022M1963.4 1015V1021M1964.5 1015V1030M1965.7 1015V1027M1966.8 1016V1022M1968.0 1015V1023M1969.1 1016V1022M1970.3 1016V1025M1971.4 1015V1023M1972.6 1016V1021M1973.7 1015V1026M1974.9 1016V1026M1976.0 1017V1030M1977.2 1017V1024M1978.3 1016V1027M1979.5 1017V1032M1980.6 1018V1025M1981.8 1019V1033M1982.9 1019V1036M1984.1 1022V1044M1985.2 1026V1057M1986.4 1024V1034M1987.5 1023V1039M1988.7 1023V1031M1989.8 1022V1035M1991.0 1022V1033M1992.1 1021V1030M1993.2 1022V1033M1994.4 1023V1030M1995.5 1023V1031M1996.7 1022V1031M1997.8 1022V1033M1999.0 1021V1036M2000.1 1021V1034M2001.3 1022V1048M2002.4 1024V1034M2003.6 1024V1032M2004.7 1023V1033M2005.9 1021V1028M2007.0 1022V1036M2008.2 1023V1038M2009.3 1025V1033M2010.5 1026V1042M2011.6 1028V1045M2012.8 1029V1047M2013.9 1026V1057M2015.1 1024V1064M2016.2 1023V1043M2017.4 1021V1036M2018.5 1022V1030M2019.7 1021V1028M2020.8 1022V1030M2022.0 1024V1030M2023.1 1025V1033M2024.3 1025V1034M2025.4 1027V1036M2026.6 1028V1034M2027.7 1029V1035M2028.9 1029V1042M2030.0 1031V1043M2031.2 1034V1066M2032.3 1033V1054M2033.5 1032V1050M2034.6 1031V1045M2035.8 1030V1037M2036.9 1031V1036M2038.0 1030V1038M2039.2 1029V1035M2040.3 1026V1036M2041.5 1026V1032M2042.6 1026V1039M2043.8 1026V1040M2044.9 1027V1038M2046.1 1029V1040M2047.2 1031V1045M2048.4 1032V1046M2049.5 1032V1047M2050.7 1033V1042M2051.8 1032V1051M2053.0 1034V1044M2054.1 1031V1039M2055.3 1030V1042M2056.4 1029V1041M2057.6 1030V1042M2058.7 1030V1044M2059.9 1030V1039M2061.0 1031V1049M2062.2 1031V1044M2063.3 1032V1048M2064.5 1034V1064M2065.6 1051V1078M2066.8 1069V1076M2067.9 1074V1091M2069.1 1057V1069M2070.2 1035V1078M2071.4 1052V1062M2072.5 1068V1073M2073.7 1066V1071M2074.8 1036V1060M2076.0 1045V1057M2077.1 1041V1049M2078.3 1035V1044M2079.4 1032V1054M2080.5 1033V1051M2081.7 1034V1043M2082.8 1033V1044M2084.0 1035V1046M2085.1 1036V1052M2086.3 1034V1046M2087.4 1033V1043M2088.6 1033V1040M2089.7 1032V1042M2090.9 1030V1039M2092.0 1030V1036M2093.2 1028V1034M2094.3 1027V1034M2095.5 1027V1034M2096.6 1026V1031M2097.8 1026V1033M2098.9 1026V1032M2100.1 1026V1031M2101.2 1026V1035M2102.4 1028V1033M2103.5 1029V1035M2104.7 1029V1040M2105.8 1028V1035M2107.0 1028V1033M2108.1 1027V1032M2109.3 1026V1031M2110.4 1026V1031M2111.6 1025V1030M2112.7 1025V1030M2113.9 1024V1031M2115.0 1024V1029M2116.2 1023V1030M2117.3 1024V1029M2118.5 1024V1030M2119.6 1024V1030M2120.8 1024V1029M2121.9 1023V1029M2123.1 1023V1028M2124.2 1024V1030M2125.3 1023V1028M2126.5 1024V1029M2127.6 1025V1030M2128.8 1023V1028M2129.9 1021V1026M2131.1 1021V1026M2132.2 1022V1027M2133.4 1022V1027M2134.5 1022V1027M2135.7 1024V1029M2136.8 1024V1029M2138.0 1024V1029M2139.1 1024V1029M2140.3 1023V1028M2141.4 1023V1028M2142.6 1023V1028M2143.7 1023V1028M2144.9 1022V1027M2146.0 1021V1027M2147.2 1021V1026M2148.3 1021V1026M2149.5 1021V1026M2150.6 1022V1027M2151.8 1022V1027M2152.9 1020V1026M2154.1 1020V1026M2155.2 1020V1026M2156.4 1020V1025M2157.5 1020V1027M2158.7 1021V1026M2159.8 1021V1027M2161.0 1022V1027M2162.1 1024V1029M2163.3 1024V1029M2164.4 1023V1028M2165.6 1025V1030M2166.7 1024V1029M2167.9 1025V1030M2169.0 1024V1029M2170.1 1023V1028M2171.3 1022V1027M2172.4 1021V1026M2173.6 1021V1026M2174.7 1021V1027M2178.0 1020V1027M2179.1 1020V1026M2180.3 1019V1028M2181.4 1018V1029M2182.6 1019V1030M2183.7 1032V1037M2184.8 1033V1040M2186.0 1034V1039M2187.1 1035V1040M2188.3 1034V1039M2189.4 1033V1039M2190.6 1027V1035M2191.7 1021V1042M2192.9 1021V1031M2194.0 1020V1033M2195.2 1020V1031M2196.3 1020V1025M2197.5 1019V1026M2198.6 1019V1026M2199.8 1020V1025M2200.9 1019V1024M2202.1 1019V1024M2203.2 1018V1026M2204.4 1018V1025M2205.5 1018V1023M2206.7 1018V1023M2207.8 1017V1025M2209.0 1018V1024M2210.1 1018V1023M2211.3 1018V1025M2212.4 1019V1024M2213.6 1019V1025M2214.7 1018V1033M2215.9 1019V1025M2217.0 1019V1025M2218.2 1019V1024M2219.3 1018V1023M2220.5 1018V1025M2221.6 1019V1024M2222.8 1019V1026M2223.9 1018V1024M2225.1 1018V1033M2226.2 1018V1025M2227.4 1018V1024M2228.5 1017V1025M2229.6 1017V1024M2230.8 1018V1023M2231.9 1019V1025M2233.1 1018V1023M2234.2 1018V1023M2235.4 1017V1025M2236.5 1018V1023M2237.7 1018V1025M2238.8 1018V1040M2240.0 1019V1031M2241.1 1018V1025M2246.6 1018V1024M2247.7 1019V1024M2248.9 1019V1024M2250.0 1019V1024M2251.2 1019V1026M2252.3 1018V1023M2253.5 1021V1028M2254.6 1020V1027M2255.8 1020V1026M2256.9 1019V1024M2258.1 1019V1025M2259.2 1020V1025M2260.4 1019V1024M2261.5 1018V1024M2262.7 1019V1024M2263.8 1018V1023M2265.0 1019V1024M2266.1 1018V1023M2267.3 1018V1024M2268.4 1019V1024M2269.6 1019V1024M2270.7 1019V1025M2271.9 1019V1024M2273.0 1019V1024M2274.2 1019V1024M2275.3 1019V1024M2276.4 1018V1023M2277.6 1020V1025M2278.7 1019V1024M2279.9 1019V1025M2281.0 1021V1029M2282.2 1021V1030M2283.3 1045V1050M2284.5 1023V1057M2285.6 1022V1030M2286.8 1021V1027M2287.9 1021V1029M2289.1 1021V1030M2290.2 1021V1028M2291.4 1023V1033M2292.5 1026V1034M2293.7 1027V1036M2294.8 1031V1036M2296.0 1033V1039M2297.1 1025V1032M2298.3 1021V1031M2299.4 1022V1030M2300.6 1022V1028M2301.7 1021V1026M2302.9 1022V1027M2304.0 1023V1028M2305.2 1023V1028M2306.3 1025V1030M2307.5 1023V1029M2308.6 1023V1029M2309.8 1022V1030M2310.9 1021V1029M2312.1 1021V1028M2313.2 1022V1029M2314.4 1022V1027M2315.5 1022V1029M2316.7 1024V1030M2317.8 1023V1028M2319.0 1023V1028M2320.1 1023V1028M2321.2 1024V1030M2322.4 1026V1033M2323.5 1033V1038M2324.7 1036V1046M2325.8 1038V1052M2327.0 1031V1042M2328.1 1024V1036M2329.3 1023V1031M2330.4 1023V1028M2331.6 1024V1031M2332.7 1024V1030M2333.9 1023V1029M2335.0 1023V1030M2336.2 1023V1028M2337.3 1024V1031M2338.5 1024V1031M2339.6 1026V1031M2340.8 1025V1031M2341.9 1025V1030M2343.1 1023V1029M2344.2 1022V1029M2345.4 1022V1029M2346.5 1022V1027M2347.7 1021V1028M2348.8 1021V1028M2350.0 1022V1027M2351.1 1022V1027M2352.3 1022V1027M2353.4 1023V1028M2354.6 1024V1029M2355.7 1023V1028M2356.9 1023V1029M2358.0 1023V1028M2359.2 1023V1028M2360.3 1023V1029M2361.5 1023V1028M2362.6 1024V1029M2363.7 1024V1029M2364.9 1024V1029M2366.0 1025V1030M2367.2 1024V1029M2368.3 1025V1030M2369.5 1025V1030M2370.6 1025V1042M2371.8 1024V1032M2372.9 1024V1029M2374.1 1022V1027M2375.2 1023V1028M2376.4 1022V1028M2377.5 1022V1028M2378.7 1021V1027M2379.8 1021V1028M2381.0 1022V1029M2382.1 1021V1027M2383.3 1020V1029M2384.4 1021V1026M2385.6 1020V1027M2386.7 1020V1029M2387.9 1020V1026M2389.0 1022V1027M2390.2 1022V1029M2391.3 1023V1028M2392.5 1022V1027M2393.6 1023V1030M2394.8 1024V1029M2395.9 1024V1031M2397.1 1025V1030M2398.2 1026V1031M2399.4 1027V1033M2400.5 1026V1031M2401.7 1026V1031M2402.8 1024V1032M2404.0 1024V1039M2405.1 1023V1033M2406.3 1024V1052M2407.4 1023V1057M2408.5 1023V1062M2409.7 1023V1045M2410.8 1023V1036M2412.0 1021V1037M2413.1 1021V1037M2414.3 1022V1035M2415.4 1022V1051M2416.6 1021V1042M2417.7 1021V1030M2418.9 1020V1026M2420.0 1021V1026M2421.2 1021V1028M2422.3 1022V1028M2424.7 1027V1033M2425.9 1025V1039M2427.0 1025V1032M2428.2 1024V1032M2429.3 1024V1030M2430.5 1024V1030M2431.6 1025V1031M2432.8 1026V1031M2433.9 1026V1033M2435.0 1026V1031M2436.2 1027V1037M2437.3 1026V1035M2438.5 1026V1034M2439.6 1026V1032M2440.8 1026V1033M2446.5 1027V1034M2469.5 1026V1035M2476.3 1027V1034M2477.5 1029V1034M2478.6 1028V1035M2479.8 1028V1041M2480.9 1029V1036M2482.1 1029V1034M2483.2 1028V1037M2484.4 1027V1035M2485.5 1027V1036M2486.7 1027V1032M2487.8 1028V1039M2489.0 1029V1039M2490.1 1030V1046M2491.3 1030V1037M2492.4 1031V1043M2493.6 1032V1043M2494.7 1032V1042M2495.9 1031V1037M2497.0 1030V1037M2498.2 1031V1036M2499.3 1030V1036M2500.5 1029V1034M2501.6 1029V1034M2502.7 1029V1036M2503.9 1030V1036M2505.0 1030V1035M2506.2 1029V1036M2507.3 1029V1038M2508.5 1029V1040M2509.6 1030V1035M2510.8 1029V1036M2511.9 1030V1035M2513.1 1030V1036M2514.2 1031V1037M2515.4 1033V1041M2516.5 1033V1044M2517.7 1034V1049M2518.8 1035V1044M2520.0 1035V1045M2521.1 1034V1045M2522.3 1033V1046M2523.4 1032V1046M2524.6 1031V1042M2525.7 1031V1036M2526.9 1029V1037M2528.0 1030V1036M2529.2 1028V1035M2530.3 1029V1035M2531.5 1027V1035M2532.6 1028V1033M2533.8 1027V1032M2534.9 1027V1034M2536.1 1026V1034M2537.2 1026V1033M2538.4 1026V1034M2539.5 1025V1033M2540.7 1024V1030M2541.8 1025V1030M2543.0 1025V1034M2544.1 1027V1046M2545.3 1026V1038M2546.4 1026V1033M2547.5 1025V1030M2548.7 1024V1032M2549.8 1023V1032M2551.0 1023V1032M2552.1 1025V1031M2553.3 1028V1034M2563.5 1023V1028M2568.8 1022V1028M2570.0 1022V1028M2571.1 1022V1029M2572.3 1023V1029M2573.4 1024V1029M2574.6 1025V1030M2575.7 1024V1029M2576.9 1024V1029M2578.0 1024V1030M2579.2 1024V1029M2580.3 1024V1029M2581.5 1024V1029M2582.6 1024V1029M2583.8 1023V1028M2584.9 1023V1029M2586.1 1024V1029M2587.2 1023V1028M2588.4 1023V1028M2589.5 1023V1028M2590.6 1022V1027M2591.8 1022V1027M2592.9 1023V1030M2594.1 1025V1030M2595.2 1026V1031M2596.4 1026V1036M2597.5 1026V1035M2598.7 1026V1032M2599.8 1027V1032M2601.0 1027V1032M2602.1 1027V1032M2603.3 1027V1037M2604.4 1028V1035M2605.6 1027V1042M2606.7 1036V1042M2607.9 1038V1043M2609.0 1033V1048M2610.2 1027V1105M2611.3 1027V1142M2612.5 1027V1042M2613.6 1027V1050M2614.8 1027V1064M2615.9 1026V1038M2617.1 1028V1036M2618.2 1028V1036M2619.4 1029V1040M2620.5 1029V1043M2621.7 1029V1067M2622.8 1028V1034M2624.0 1027V1032M2625.1 1028V1033M2626.3 1027V1032M2627.4 1028V1033M2628.6 1027V1032M2629.7 1026V1031M2630.9 1027V1032M2632.0 1026V1031M2633.2 1026V1043M2634.3 1025V1031M2635.4 1025V1030M2636.6 1024V1029M2637.7 1024V1029M2638.9 1023V1030M2640.0 1022V1030M2641.2 1023V1030M2642.3 1022V1027M2643.5 1022V1028M2644.6 1022V1028M2645.8 1022V1028M2646.9 1024V1029M2648.1 1022V1028M2649.2 1023V1028M2650.4 1024V1030M2651.5 1022V1027M2652.7 1021V1029M2653.8 1022V1029M2655.0 1023V1030M2656.1 1025V1031M2657.3 1026V1031M2658.4 1026V1031M2659.6 1027V1033M2660.7 1026V1033M2661.9 1027V1034M2663.0 1028V1033M2664.2 1028V1033M2665.3 1028V1033M2666.5 1028V1033M2667.6 1027V1032M2668.8 1027V1032M2669.9 1027V1032M2671.1 1027V1032M2672.2 1027V1032M2673.4 1028V1033M2674.5 1026V1032M2675.7 1025V1031M2676.8 1027V1032M2678.0 1026V1031M2679.1 1026V1031M2680.2 1026V1031M2681.4 1026V1031M2682.5 1027V1032M2683.7 1026V1031M2684.8 1027V1032M2686.0 1027V1032M2687.1 1026V1031M2688.3 1027V1032M2689.4 1027V1032M2690.6 1024V1029M2691.7 1025V1030M2692.9 1024V1030M2694.0 1024V1029M2695.2 1022V1027M2696.3 1022V1029M2697.5 1022V1030M2698.6 1023V1029M2699.8 1022V1027M2700.9 1022V1027M2702.1 1022V1027M2703.2 1022V1027M2704.4 1022V1028M2705.5 1021V1027M2706.7 1022V1027M2707.8 1022V1028M2709.0 1021V1027M2710.1 1021V1026M2711.3 1022V1027M2712.4 1021V1026M2713.6 1021V1026M2714.7 1020V1025M2715.9 1020V1025M2717.0 1019V1024M2718.2 1019V1025M2719.3 1018V1023M2720.5 1018V1023M2721.6 1017V1023M2722.8 1017V1024M2723.9 1017V1022M2725.0 1017V1022M2726.2 1017V1022M2727.3 1018V1024M2728.5 1018V1024M2729.6 1017V1023M2730.8 1018V1023M2731.9 1017V1022M2733.1 1017V1022M2734.2 1017V1023M2735.4 1018V1024M2736.5 1019V1024M2737.7 1019V1024M2738.8 1018V1023M2740.0 1018V1023M2741.1 1019V1024M2742.3 1018V1023M2743.4 1017V1023M2744.6 1017V1023M2745.7 1018V1023M2746.9 1017V1024M2748.0 1017V1023M2749.2 1017V1023M2750.3 1018V1023M2751.5 1018V1023M2752.6 1018V1024M2753.8 1017V1025M2754.9 1017V1024M2756.1 1018V1023M2757.2 1020V1025M2758.4 1019V1027M2759.5 1021V1029M2760.7 1022V1029M2761.8 1023V1030M2763.0 1029V1042M2764.1 1033V1038M2765.3 1037V1043M2766.4 1041V1046M2767.5 1042V1047M2768.7 1043V1050M2769.8 1045V1052M2771.0 1033V1054M2772.1 1020V1034M2773.3 1020V1027M2774.4 1020V1026M2775.6 1019V1024M2776.7 1018V1025M2777.9 1019V1025M2779.0 1019V1025M2780.2 1021V1029M2781.3 1023V1030M2782.5 1023V1030M2783.6 1023V1028M2784.8 1025V1032M2785.9 1026V1031M2787.1 1025V1036M2788.2 1025V1036M2789.4 1024V1031M2790.5 1026V1033M2791.7 1027V1034M2792.8 1026V1039M2794.0 1025V1035M2795.1 1025V1033M2796.3 1025V1032M2797.4 1023V1029M2798.6 1023V1031M2799.7 1023V1028M2800.9 1022V1030M2802.0 1021V1026M2803.2 1021V1027M2804.3 1021V1026M2805.5 1022V1028M2806.6 1024V1029M2807.8 1023V1030M2808.9 1023V1034M2810.1 1022V1048M2811.2 1022V1038M2812.3 1021V1030M2813.5 1022V1040M2814.6 1023V1101M2815.8 1024V1033M2816.9 1024V1029M2818.1 1024V1029M2819.2 1023V1028M2820.4 1022V1028M2821.5 1022V1030M2822.7 1021V1058M2823.8 1021V1030M2825.0 1021V1026M2826.1 1021V1029M2827.3 1022V1027M2828.4 1022V1028M2829.6 1023V1033M2830.7 1023V1032M2831.9 1024V1032M2833.0 1024V1030M2834.2 1026V1033M2835.3 1027V1036M2836.5 1029V1043M2837.6 1031V1052M2838.8 1029V1042M2839.9 1028V1035M2841.1 1027V1037M2842.2 1027V1035M2843.4 1027V1033M2844.5 1027V1034M2845.7 1027V1034M2846.8 1027V1036M2848.0 1026V1032M2849.1 1025V1031M2850.3 1024V1031M2851.4 1023V1031M2852.6 1023V1028M2853.7 1023V1033M2854.9 1023V1029M2856.0 1024V1033M2857.1 1024V1031M2858.3 1026V1033M2859.4 1028V1035M2860.6 1029V1038M2861.7 1029V1048M2862.9 1033V1043M2864.0 1036V1048M2865.2 1038V1045M2866.3 1038V1047M2867.5 1039V1049M2868.6 1033V1044M2869.8 1030V1044M2870.9 1030V1043M2872.1 1029V1036M2873.2 1029V1040M2874.4 1028V1040M2875.5 1027V1064M2876.7 1027V1039M2877.8 1028V1036M2879.0 1027V1033M2880.1 1026V1033M2881.3 1027V1040M2882.4 1028V1041M2883.6 1030V1046M2884.7 1030V1055M2885.9 1031V1043M2887.0 1035V1042M2888.2 1038V1054M2889.3 1033V1066M2890.5 1032V1045M2891.6 1030V1037M2892.8 1031V1036M2893.9 1029V1035M2895.1 1027V1036M2896.2 1026V1032M2897.4 1026V1034M2898.5 1025V1031M2899.7 1026V1034M2900.8 1026V1042M2901.9 1027V1033" stroke="#C6DBEF" stroke-width="1.9" fill="none" shape-rendering="crispEdges"/>
<path d="M331.3 1403V1415M332.5 1404V1413M333.6 1403V1412M334.8 1403V1416M335.9 1403V1433M339.7 1406V1419M340.8 1405V1415M342.0 1402V1413M343.1 1401V1412M344.3 1400V1414M345.4 1400V1409M346.6 1399V1418M347.7 1400V1419M348.9 1398V1425M350.0 1399V1431M351.2 1399V1424M352.3 1401V1420M353.5 1402V1414M354.6 1402V1413M355.8 1404V1415M356.9 1406V1427M358.1 1412V1434M359.2 1422V1439M360.4 1427V1441M361.5 1434V1450M362.7 1441V1457M363.8 1445V1458M365.0 1449V1459M366.1 1453V1466M367.3 1454V1462M368.4 1454V1472M369.5 1455V1467M370.7 1454V1464M371.8 1453V1463M373.0 1453V1463M374.1 1452V1459M375.3 1453V1460M376.4 1454V1459M377.6 1454V1459M378.7 1453V1460M379.9 1452V1482M381.0 1453V1493M382.2 1452V1567M383.3 1427V1485M384.5 1409V1451M385.6 1407V1437M386.8 1407V1432M387.9 1407V1440M389.1 1406V1461M390.2 1406V1445M391.4 1406V1429M392.5 1406V1450M393.7 1407V1456M394.8 1407V1433M396.0 1409V1475M397.1 1406V1436M398.3 1406V1437M399.4 1407V1435M400.6 1406V1432M401.7 1406V1448M402.9 1406V1428M404.0 1408V1443M405.2 1408V1433M406.3 1410V1450M407.5 1412V1447M408.6 1410V1437M409.8 1409V1446M410.9 1408V1441M412.1 1409V1466M413.2 1409V1433M414.3 1409V1434M415.5 1409V1449M416.6 1410V1454M417.8 1410V1433M418.9 1411V1438M420.1 1410V1439M421.2 1410V1461M422.4 1408V1436M423.5 1408V1416M424.7 1407V1416M425.8 1406V1415M427.0 1405V1415M428.1 1405V1413M429.3 1407V1415M430.4 1407V1423M431.6 1406V1425M432.7 1406V1423M433.9 1418V1426M435.0 1414V1428M436.2 1406V1443M437.3 1408V1444M438.5 1415V1433M439.6 1423V1445M440.8 1413V1451M441.9 1406V1430M443.1 1407V1422M444.2 1407V1427M445.4 1405V1419M446.5 1405V1428M447.7 1406V1460M448.8 1407V1441M450.0 1413V1455M451.1 1419V1466M452.3 1434V1453M453.4 1452V1512M454.6 1462V1480M455.7 1433V1466M456.9 1431V1461M458.0 1428V1475M459.1 1424V1444M460.3 1419V1453M461.4 1422V1441M462.6 1424V1449M463.7 1425V1448M464.9 1426V1448M466.0 1429V1447M467.2 1430V1463M468.3 1410V1447M469.5 1409V1439M470.6 1409V1426M471.8 1407V1447M472.9 1408V1428M474.1 1409V1438M475.2 1407V1432M476.4 1407V1459M477.5 1406V1485M478.7 1406V1452M479.8 1405V1443M481.0 1406V1422M482.1 1408V1434M483.3 1409V1423M484.4 1407V1440M485.6 1411V1440M486.7 1412V1453M487.9 1412V1460M489.0 1411V1448M490.2 1410V1443M491.3 1409V1424M492.5 1408V1440M493.6 1406V1425M494.8 1406V1441M495.9 1407V1433M497.1 1407V1458M498.2 1407V1421M499.4 1407V1419M500.5 1406V1413M501.7 1406V1415M502.8 1405V1415M503.9 1405V1411M505.1 1404V1416M506.2 1404V1410M507.4 1404V1411M508.5 1405V1415M509.7 1405V1417M510.8 1404V1417M512.0 1404V1424M513.1 1403V1441M514.3 1404V1436M515.4 1405V1440M516.6 1405V1441M517.7 1407V1500M518.9 1407V1460M520.0 1407V1458M521.2 1407V1477M522.3 1406V1482M523.5 1407V1450M524.6 1407V1457M525.8 1408V1463M526.9 1407V1467M528.1 1408V1433M529.2 1408V1434M530.4 1406V1433M531.5 1406V1426M532.7 1406V1452M533.8 1406V1446M535.0 1407V1434M536.1 1407V1487M537.3 1408V1764M538.4 1405V1443M539.6 1404V1435M540.7 1404V1426M541.9 1404V1458M543.0 1404V1440M544.2 1402V1474M545.3 1402V1431M546.4 1400V1415M547.6 1399V1416M548.7 1399V1412M549.9 1401V1411M551.0 1410V1418M552.2 1413V1418M553.3 1416V1422M554.5 1416V1422M555.6 1418V1423M556.8 1420V1425M557.9 1421V1426M559.1 1422V1427M560.2 1423V1428M561.4 1424V1429M562.5 1426V1431M570.0 1403V1444M571.2 1404V1442M572.3 1404V1441M573.5 1405V1429M574.6 1406V1453M575.8 1408V1425M576.9 1408V1418M578.1 1407V1412M579.2 1406V1412M580.4 1405V1412M581.5 1404V1414M582.7 1403V1410M583.8 1404V1412M585.0 1405V1411M586.1 1404V1414M587.3 1405V1427M588.4 1404V1456M589.6 1405V1432M590.7 1405V1415M591.9 1405V1412M593.0 1404V1410M594.1 1404V1413M595.3 1404V1415M596.4 1405V1433M597.6 1405V1488M598.7 1406V1439M599.9 1408V1415M601.0 1408V1416M602.2 1409V1414M603.3 1409V1416M604.5 1409V1418M605.6 1411V1416M606.8 1409V1423M607.9 1409V1420M609.1 1411V1420M610.2 1412V1419M611.4 1410V1415M612.5 1410V1415M613.7 1408V1416M614.8 1408V1415M616.0 1408V1419M617.1 1412V1420M618.3 1414V1421M619.4 1418V1428M620.6 1421V1438M621.7 1420V1473M622.9 1420V1431M624.0 1421V1428M625.2 1420V1438M626.3 1434V1476M627.5 1452V1467M628.6 1490V1496M629.8 1484V1517M630.9 1480V1511M632.1 1512V1526M633.2 1545V1555M634.4 1545V1551M635.5 1546V1553M636.7 1546V1554M637.8 1545V1556M638.9 1543V1565M640.1 1564V1622M641.2 1554V1594M642.4 1412V1619M643.5 1425V1446M644.7 1428V1435M645.8 1431V1437M651.5 1418V1425M652.6 1415V1427M653.8 1413V1429M654.9 1412V1440M656.1 1428V1439M657.2 1443V1459M658.4 1440V1479M659.5 1435V1452M660.7 1419V1430M661.8 1414V1428M663.0 1407V1417M664.1 1403V1412M665.3 1402V1417M666.4 1402V1413M667.6 1402V1415M668.7 1403V1421M669.9 1404V1424M671.0 1403V1444M672.2 1404V1428M673.3 1403V1434M674.5 1404V1464M675.6 1405V1514M676.8 1405V1436M677.9 1406V1445M679.1 1406V1436M680.2 1406V1435M681.3 1406V1442M682.5 1405V1438M683.6 1406V1446M684.8 1406V1444M685.9 1405V1432M687.1 1411V1436M688.2 1408V1426M689.4 1403V1431M690.5 1404V1443M691.7 1403V1421M692.8 1404V1423M694.0 1401V1422M695.1 1400V1428M696.3 1400V1421M697.4 1400V1408M698.6 1399V1407M699.7 1401V1410M700.9 1400V1408M702.0 1401V1409M703.2 1399V1406M704.3 1401V1406M705.5 1400V1410M706.6 1400V1481M707.8 1402V1424M708.9 1400V1430M710.1 1400V1420M711.2 1400V1418M712.4 1399V1414M713.5 1399V1429M714.7 1399V1429M715.8 1401V1425M717.0 1401V1476M718.1 1400V1517M719.3 1400V1447M720.4 1399V1426M721.6 1401V1417M722.7 1400V1415M723.9 1401V1423M725.0 1404V1413M726.1 1407V1417M727.3 1406V1417M728.4 1405V1415M729.6 1403V1419M730.7 1402V1410M731.9 1402V1411M733.0 1402V1415M734.2 1403V1417M735.3 1403V1410M736.5 1403V1411M737.6 1403V1411M738.8 1403V1415M739.9 1404V1460M741.1 1404V1415M742.2 1405V1414M743.4 1406V1412M744.5 1406V1418M745.7 1406V1519M746.8 1408V1461M748.0 1410V1452M749.1 1410V1426M750.3 1415V1421M751.4 1419V1427M752.6 1420V1427M753.7 1417V1428M754.9 1415V1424M756.0 1413V1438M757.2 1412V1509M758.3 1411V1449M759.5 1410V1472M760.6 1411V1468M761.8 1423V1453M762.9 1427V1443M764.1 1432V1466M765.2 1435V1460M766.4 1437V1465M767.5 1438V1469M768.7 1442V1503M769.8 1444V1496M770.9 1446V1473M772.1 1447V1471M773.2 1438V1467M774.4 1426V1455M775.5 1437V1473M776.7 1448V1506M777.8 1455V1493M779.0 1462V1477M780.1 1457V1470M781.3 1453V1468M782.4 1440V1452M783.6 1430V1462M784.7 1428V1463M785.9 1425V1471M787.0 1441V1462M788.2 1451V1504M789.3 1445V1470M790.5 1444V1466M791.6 1438V1455M792.8 1436V1462M793.9 1431V1445M795.1 1423V1451M796.2 1423V1468M797.4 1420V1467M798.5 1433V1455M799.7 1453V1479M800.8 1480V1505M802.0 1491V1537M803.1 1504V1512M804.3 1489V1499M805.4 1463V1473M806.6 1420V1459M807.7 1422V1458M808.9 1419V1442M810.0 1431V1468M811.2 1435V1452M812.3 1461V1487M813.4 1496V1501M814.6 1452V1514M815.7 1421V1462M816.9 1430V1456M818.0 1452V1477M819.2 1448V1466M820.3 1436V1473M821.5 1444V1480M822.6 1449V1473M823.8 1444V1483M824.9 1435V1488M826.1 1463V1506M827.2 1457V1480M828.4 1441V1467M829.5 1432V1452M830.7 1425V1461M831.8 1427V1442M833.0 1428V1455M834.1 1430V1441M835.3 1427V1454M836.4 1424V1436M837.6 1422V1451M838.7 1420V1461M839.9 1418V1476M841.0 1464V1512M842.2 1495V1507M843.3 1473V1515M844.5 1462V1489M845.6 1446V1482M846.8 1465V1497M847.9 1475V1504M849.1 1465V1506M850.2 1453V1470M851.4 1432V1454M852.5 1439V1455M853.7 1444V1450M854.8 1443V1451M856.0 1440V1453M857.1 1436V1447M858.2 1422V1453M859.4 1430V1466M860.5 1442V1459M861.7 1437V1505M862.8 1428V1464M864.0 1420V1454M865.1 1422V1458M866.3 1425V1442M867.4 1427V1444M868.6 1420V1451M869.7 1417V1433M870.9 1414V1450M872.0 1426V1441M873.2 1433V1449M874.3 1484V1489M875.5 1450V1510M876.6 1442V1484M877.8 1427V1453M878.9 1427V1449M880.1 1431V1442M881.2 1434V1450M882.4 1434V1447M883.5 1443V1448M884.7 1444V1455M885.8 1431V1454M887.0 1420V1445M888.1 1435V1451M889.3 1453V1458M890.4 1443V1464M891.6 1435V1461M892.7 1429V1468M893.9 1474V1505M895.0 1474V1494M896.2 1473V1491M897.3 1471V1495M898.5 1453V1482M899.6 1445V1505M900.8 1430V1550M901.9 1417V1474M903.0 1419V1468M904.2 1422V1450M905.3 1426V1465M906.5 1422V1454M907.6 1418V1460M908.8 1414V1463M909.9 1413V1438M911.1 1413V1453M912.2 1413V1429M913.4 1413V1432M914.5 1414V1446M915.7 1415V1443M916.8 1425V1447M918.0 1442V1447M919.1 1443V1450M920.3 1443V1455M921.4 1435V1446M922.6 1417V1446M923.7 1428V1451M924.9 1448V1467M926.0 1452V1494M927.2 1456V1482M928.3 1459V1485M929.5 1433V1475M930.6 1423V1493M931.8 1410V1445M932.9 1409V1448M934.1 1408V1427M935.2 1408V1445M936.4 1408V1438M937.5 1408V1472M938.7 1408V1477M939.8 1410V1441M941.0 1410V1487M942.1 1409V1462M943.3 1411V1460M944.4 1410V1477M945.6 1411V1457M946.7 1412V1441M947.8 1412V1483M949.0 1411V1476M950.1 1412V1457M951.3 1412V1446M952.4 1411V1463M953.6 1412V1479M954.7 1412V1456M955.9 1412V1447M957.0 1411V1453M958.2 1412V1446M959.3 1412V1445M960.5 1412V1470M961.6 1412V1431M962.8 1411V1419M963.9 1411V1425M965.1 1412V1432M966.2 1411V1458M967.4 1412V1440M968.5 1413V1423M969.7 1413V1423M970.8 1414V1429M972.0 1428V1444M973.1 1424V1473M974.3 1419V1435M975.4 1415V1423M976.6 1415V1422M977.7 1414V1420M978.9 1412V1418M980.0 1413V1421M981.2 1412V1422M982.3 1411V1423M983.5 1411V1468M984.6 1410V1440M985.8 1411V1437M986.9 1411V1485M988.1 1411V1470M989.2 1412V1481M990.3 1413V1483M991.5 1412V1438M992.6 1413V1441M993.8 1412V1465M994.9 1414V1456M996.1 1415V1452M997.2 1415V1474M998.4 1416V1439M999.5 1418V1436M1000.7 1419V1462M1001.8 1419V1446M1003.0 1418V1463M1004.1 1418V1428M1005.3 1419V1427M1006.4 1419V1424M1007.6 1417V1423M1008.7 1418V1424M1009.9 1418V1424M1011.0 1416V1423M1012.2 1417V1425M1013.3 1416V1421M1014.5 1417V1423M1015.6 1415V1421M1016.8 1414V1420M1017.9 1414V1420M1019.1 1414V1422M1020.2 1413V1425M1021.4 1413V1421M1022.5 1415V1423M1023.7 1415V1426M1024.8 1415V1423M1026.0 1416V1427M1027.1 1415V1428M1028.3 1418V1447M1029.4 1418V1436M1030.6 1420V1446M1031.7 1421V1476M1032.9 1419V1450M1034.0 1417V1432M1035.1 1416V1426M1036.3 1414V1422M1037.4 1414V1424M1038.6 1414V1427M1039.7 1413V1421M1040.9 1413V1429M1042.0 1412V1445M1043.2 1429V1477M1044.3 1437V1456M1045.5 1445V1455M1046.6 1447V1453M1047.8 1449V1458M1048.9 1452V1460M1050.1 1457V1464M1051.2 1448V1458M1052.4 1443V1463M1053.5 1420V1477M1054.7 1409V1432M1055.8 1409V1422M1057.0 1408V1415M1058.1 1406V1413M1059.3 1406V1418M1060.4 1407V1415M1061.6 1407V1415M1062.7 1407V1421M1063.9 1414V1448M1065.0 1473V1535M1066.2 1595V1686M1067.3 1607V1644M1068.5 1618V1669M1069.6 1598V1624M1070.8 1594V1604M1071.9 1589V1600M1073.1 1574V1595M1074.2 1543V1564M1075.4 1517V1556M1076.5 1515V1533M1077.7 1513V1530M1078.8 1511V1523M1079.9 1508V1513M1081.1 1490V1495M1082.2 1514V1519M1083.4 1528V1557M1084.5 1413V1514M1085.7 1412V1487M1086.8 1408V1427M1088.0 1406V1421M1089.1 1407V1415M1090.3 1406V1422M1091.4 1406V1425M1092.6 1407V1418M1093.7 1408V1421M1094.9 1408V1420M1096.0 1427V1433M1102.6 1406V1414M1103.8 1408V1415M1104.9 1409V1415M1106.1 1407V1412M1107.2 1404V1413M1108.4 1404V1412M1109.5 1405V1417M1110.7 1406V1418M1111.8 1405V1450M1113.0 1406V1448M1114.1 1406V1446M1115.3 1420V1449M1116.4 1428V1489M1117.6 1424V1481M1118.7 1422V1451M1119.9 1445V1473M1121.0 1470V1480M1122.1 1452V1490M1123.3 1437V1455M1124.4 1437V1458M1207.6 1413V1426M1208.8 1411V1422M1209.9 1412V1418M1211.1 1410V1418M1212.2 1414V1422M1213.4 1416V1427M1214.5 1417V1438M1215.7 1417V1465M1216.8 1417V1451M1218.0 1418V1431M1219.1 1418V1436M1220.3 1417V1430M1221.4 1416V1441M1222.6 1415V1429M1223.7 1416V1455M1224.9 1414V1435M1226.0 1415V1425M1227.2 1414V1425M1228.3 1413V1419M1229.5 1413V1421M1230.6 1413V1422M1231.8 1414V1419M1232.9 1411V1417M1234.1 1412V1422M1235.2 1411V1422M1236.4 1411V1422M1237.5 1411V1427M1238.7 1413V1423M1239.8 1414V1422M1241.0 1413V1435M1242.1 1413V1425M1243.3 1412V1426M1244.4 1411V1426M1245.6 1412V1421M1246.7 1411V1434M1247.9 1412V1460M1249.0 1413V1443M1250.2 1412V1422M1251.3 1413V1425M1252.4 1412V1419M1253.6 1410V1417M1254.7 1410V1419M1255.9 1410V1417M1257.0 1410V1416M1258.2 1409V1420M1259.3 1410V1417M1260.5 1409V1419M1261.6 1409V1416M1262.8 1410V1416M1263.9 1410V1417M1265.1 1409V1417M1266.2 1408V1415M1267.4 1408V1419M1268.5 1408V1420M1269.7 1407V1418M1270.8 1407V1418M1272.0 1407V1418M1273.1 1407V1433M1274.3 1408V1420M1275.4 1410V1427M1276.6 1414V1429M1277.7 1418V1425M1278.9 1423V1434M1280.0 1424V1434M1281.2 1430V1435M1282.3 1425V1434M1283.5 1417V1442M1284.6 1411V1434M1285.8 1417V1435M1286.9 1423V1436M1288.1 1427V1459M1289.2 1431V1449M1290.4 1429V1441M1291.5 1421V1449M1292.7 1414V1429M1293.8 1411V1424M1295.0 1408V1426M1296.1 1406V1423M1297.2 1407V1419M1298.4 1408V1426M1299.5 1412V1430M1300.7 1414V1432M1301.8 1418V1427M1303.0 1422V1435M1304.1 1428V1440M1305.3 1424V1437M1306.4 1418V1432M1307.6 1412V1424M1308.7 1416V1430M1309.9 1419V1427M1311.0 1421V1426M1312.2 1413V1423M1313.3 1408V1418M1314.5 1409V1416M1315.6 1411V1421M1316.8 1411V1470M1317.9 1412V1439M1319.1 1410V1421M1320.2 1412V1419M1321.4 1414V1420M1322.5 1412V1420M1323.7 1411V1417M1324.8 1409V1416M1326.0 1409V1416M1327.1 1409V1416M1328.3 1410V1418M1329.4 1412V1420M1330.6 1411V1417M1331.7 1412V1422M1332.9 1413V1423M1334.0 1415V1424M1335.2 1415V1424M1336.3 1415V1430M1337.5 1413V1425M1338.6 1412V1419M1339.7 1410V1420M1340.9 1410V1422M1342.0 1410V1431M1343.2 1412V1439M1344.3 1413V1460M1345.5 1414V1427M1346.6 1415V1429M1347.8 1418V1430M1348.9 1423V1434M1350.1 1424V1435M1351.2 1427V1433M1352.4 1428V1443M1353.5 1426V1435M1354.7 1423V1433M1355.8 1421V1431M1357.0 1418V1432M1358.1 1419V1427M1359.3 1415V1442M1360.4 1416V1433M1361.6 1417V1432M1362.7 1418V1430M1363.9 1419V1427M1365.0 1416V1429M1366.2 1417V1427M1367.3 1417V1424M1368.5 1416V1429M1369.6 1419V1428M1370.8 1422V1433M1371.9 1422V1430M1373.1 1423V1438M1374.2 1422V1430M1375.4 1420V1427M1376.5 1421V1430M1377.7 1420V1428M1378.8 1420V1439M1380.0 1420V1463M1381.1 1421V1437M1382.3 1421V1426M1383.4 1419V1425M1384.5 1420V1425M1385.7 1421V1429M1386.8 1420V1428M1388.0 1422V1429M1389.1 1422V1434M1390.3 1423V1431M1391.4 1424V1434M1392.6 1425V1430M1393.7 1424V1434M1394.9 1426V1433M1396.0 1427V1434M1397.2 1428V1433M1398.3 1428V1433M1399.5 1430V1435M1400.6 1430V1435M1401.8 1429V1434M1402.9 1426V1431M1404.1 1424V1429M1405.2 1424V1432M1406.4 1422V1444M1407.5 1423V1480M1408.7 1422V1427M1409.8 1421V1426M1411.0 1420V1426M1412.1 1418V1425M1413.3 1418V1424M1414.4 1418V1425M1415.6 1417V1424M1416.7 1418V1423M1417.9 1417V1424M1419.0 1417V1422M1420.2 1416V1422M1421.3 1416V1423M1422.5 1418V1423M1423.6 1417V1423M1424.8 1417V1422M1425.9 1416V1423M1427.1 1417V1422M1428.2 1417V1422M1429.3 1417V1422M1430.5 1417V1422M1431.6 1416V1421M1432.8 1417V1422M1433.9 1419V1424M1435.1 1419V1424M1436.2 1418V1423M1437.4 1418V1423M1438.5 1418V1423M1439.7 1418V1423M1440.8 1417V1422M1442.0 1416V1421M1443.1 1416V1421M1444.3 1416V1421M1445.4 1415V1420M1446.6 1416V1421M1447.7 1416V1421M1448.9 1415V1420M1450.0 1414V1419M1451.2 1414V1420M1452.3 1413V1420M1453.5 1413V1418M1454.6 1413V1419M1455.8 1413V1419M1456.9 1414V1420M1458.1 1415V1420M1459.2 1416V1421M1460.4 1417V1422M1461.5 1418V1426M1462.7 1420V1427M1463.8 1420V1425M1465.0 1418V1423M1466.1 1417V1422M1467.3 1416V1421M1468.4 1413V1419M1469.6 1413V1422M1470.7 1413V1418M1471.9 1414V1420M1473.0 1413V1418M1474.1 1413V1418M1475.3 1413V1418M1476.4 1413V1418M1477.6 1412V1417M1536.5 1413V1421M1537.6 1414V1421M1538.8 1416V1421M1539.9 1416V1421M1541.1 1417V1422M1542.2 1417V1422M1543.3 1417V1422M1544.5 1417V1422M1545.6 1416V1421M1546.8 1417V1422M1547.9 1417V1422M1549.1 1417V1422M1550.2 1417V1422M1551.4 1417V1422M1552.5 1417V1422M1553.7 1416V1421M1554.8 1416V1421M1556.0 1417V1422M1557.1 1417V1422M1558.3 1417V1422M1559.4 1417V1422M1560.6 1417V1422M1561.7 1417V1422M1562.9 1416V1421M1564.0 1417V1422M1565.2 1417V1422M1566.3 1417V1422M1567.5 1417V1422M1568.6 1417V1422M1569.8 1417V1422M1570.9 1418V1423M1572.1 1417V1422M1573.2 1417V1422M1574.4 1417V1422M1575.5 1417V1422M1576.7 1417V1422M1577.8 1417V1422M1579.0 1417V1422M1580.1 1417V1422M1581.3 1416V1422M1582.4 1417V1422M1583.6 1417V1422M1584.7 1417V1422M1585.8 1417V1422M1587.0 1417V1423M1588.1 1417V1423M1589.3 1417V1422M1590.4 1417V1425M1591.6 1417V1422M1592.7 1417V1423M1593.9 1417V1423M1595.0 1417V1422M1596.2 1418V1423M1597.3 1417V1424M1598.5 1418V1423M1599.6 1418V1423M1600.8 1418V1423M1601.9 1418V1423M1603.1 1417V1422M1604.2 1417V1423M1605.4 1418V1423M1606.5 1418V1424M1607.7 1419V1424M1608.8 1418V1423M1610.0 1418V1423M1611.1 1419V1424M1612.3 1419V1425M1613.4 1419V1424M1614.6 1420V1425M1615.7 1420V1425M1616.9 1419V1425M1618.0 1419V1426M1619.2 1418V1423M1620.3 1419V1427M1621.5 1419V1426M1622.6 1419V1426M1623.8 1418V1426M1624.9 1419V1428M1626.1 1419V1424M1627.2 1419V1424M1628.4 1419V1426M1629.5 1418V1424M1630.6 1419V1424M1631.8 1420V1425M1632.9 1420V1425M1648.9 1418V1429M1650.1 1419V1426M1651.2 1418V1425M1652.4 1417V1423M1653.5 1417V1425M1654.7 1418V1426M1655.8 1416V1432M1657.0 1416V1428M1658.1 1415V1423M1659.3 1413V1426M1660.4 1414V1425M1661.6 1416V1423M1662.7 1416V1423M1663.9 1416V1423M1665.0 1417V1423M1666.2 1416V1422M1667.3 1417V1428M1668.5 1420V1429M1669.6 1420V1430M1670.8 1419V1431M1671.9 1420V1430M1673.1 1419V1428M1674.2 1419V1427M1675.4 1419V1434M1676.5 1418V1425M1677.7 1418V1426M1678.8 1417V1423M1680.0 1416V1425M1681.1 1417V1423M1682.3 1415V1420M1683.4 1414V1421M1684.6 1414V1420M1685.7 1414V1422M1686.8 1414V1423M1688.0 1413V1423M1689.1 1413V1435M1690.3 1416V1448M1691.4 1418V1442M1692.6 1416V1426M1693.7 1414V1430M1694.9 1413V1430M1696.0 1412V1423M1697.2 1409V1418M1698.3 1409V1422M1699.5 1410V1420M1700.6 1412V1420M1701.8 1411V1419M1702.9 1411V1417M1704.1 1410V1415M1705.2 1411V1418M1706.4 1410V1415M1707.5 1410V1418M1708.7 1409V1415M1709.8 1409V1415M1711.0 1408V1414M1712.1 1408V1417M1713.3 1407V1415M1714.4 1407V1413M1715.6 1407V1417M1716.7 1408V1416M1717.9 1412V1419M1719.0 1416V1426M1720.2 1414V1429M1721.3 1407V1421M1722.5 1409V1423M1723.6 1408V1423M1724.8 1409V1486M1725.9 1410V1429M1727.1 1410V1420M1728.2 1411V1418M1729.4 1410V1416M1730.5 1409V1418M1731.6 1409V1417M1732.8 1409V1414M1733.9 1408V1415M1735.1 1407V1415M1736.2 1408V1414M1737.4 1407V1414M1738.5 1405V1412M1739.7 1405V1414M1740.8 1404V1411M1742.0 1406V1415M1743.1 1405V1414M1744.3 1404V1411M1745.4 1404V1411M1746.6 1402V1416M1747.7 1402V1415M1748.9 1406V1423M1750.0 1417V1461M1751.2 1410V1495M1752.3 1404V1414M1753.5 1404V1410M1754.6 1402V1412M1755.8 1403V1410M1756.9 1403V1410M1758.1 1403V1409M1759.2 1404V1410M1760.4 1403V1412M1761.5 1405V1411M1762.7 1405V1413M1763.8 1403V1412M1765.0 1404V1421M1766.1 1423V1443M1767.3 1436V1448M1768.4 1442V1451M1769.6 1450V1457M1770.7 1461V1467M1771.9 1454V1459M1773.0 1441V1447M1774.2 1442V1448M1775.2 1407V1414M1776.3 1406V1411M1777.5 1405V1411M1778.6 1403V1408M1779.7 1405V1411M1780.9 1403V1410M1782.0 1404V1409M1783.2 1404V1409M1784.3 1404V1410M1785.5 1403V1408M1786.6 1402V1409M1787.8 1401V1406M1788.9 1400V1406M1790.1 1401V1406M1791.2 1401V1406M1792.4 1402V1407M1793.5 1402V1407M1794.7 1402V1408M1795.8 1401V1417M1797.0 1401V1407M1803.5 1400V1405M1804.6 1399V1404M1805.8 1399V1404M1806.9 1399V1404M1808.1 1398V1403M1809.2 1399V1404M1810.4 1400V1405M1811.5 1400V1405M1812.7 1400V1405M1813.8 1398V1404M1815.0 1399V1404M1816.1 1399V1404M1817.3 1399V1404M1818.4 1399V1407M1819.6 1398V1406M1820.7 1399V1406M1821.9 1398V1404M1823.0 1397V1402M1824.2 1397V1403M1825.3 1397V1403M1826.5 1397V1402M1827.6 1397V1402M1828.8 1397V1402M1829.9 1397V1402M1831.1 1397V1402M1832.2 1397V1402M1833.4 1397V1402M1834.5 1397V1402M1835.7 1397V1402M1836.8 1398V1403M1838.0 1397V1402M1839.1 1397V1403M1840.3 1397V1403M1841.4 1398V1403M1842.6 1399V1404M1843.7 1398V1403M1844.9 1398V1404M1846.0 1400V1405M1847.1 1401V1406M1848.3 1401V1406M1849.4 1402V1407M1850.6 1401V1406M1851.7 1401V1406M1852.9 1401V1406M1854.0 1401V1406M1855.2 1402V1407M1856.3 1400V1405M1857.5 1401V1406M1858.6 1401V1407M1859.8 1400V1407M1860.9 1400V1405M1862.1 1400V1406M1863.2 1399V1404M1864.4 1399V1406M1865.5 1400V1406M1866.7 1401V1406M1867.8 1401V1408M1869.0 1401V1406M1870.1 1400V1408M1871.3 1401V1406M1872.4 1401V1406M1873.6 1402V1407M1874.7 1402V1408M1875.9 1403V1408M1877.0 1404V1409M1878.2 1404V1409M1879.3 1405V1410M1880.5 1405V1410M1881.6 1405V1410M1882.8 1405V1411M1883.9 1405V1410M1885.1 1405V1410M1886.2 1405V1410M1887.4 1403V1408M1888.5 1404V1409M1889.7 1403V1408M1890.8 1404V1409M1891.9 1403V1408M1893.1 1403V1408M1894.2 1402V1407M1895.4 1404V1409M1896.5 1403V1408M1897.7 1403V1408M1898.8 1402V1407M1900.0 1401V1406M1901.1 1401V1406M1902.3 1401V1407M1903.4 1401V1406M1904.6 1400V1406M1905.7 1400V1405M1906.9 1400V1407M1908.0 1399V1405M1909.2 1400V1405M1910.3 1401V1406M1911.5 1400V1405M1912.6 1400V1405M1913.8 1400V1405M1914.9 1400V1406M1916.1 1401V1406M1917.2 1400V1412M1918.4 1400V1406M1919.5 1400V1406M1920.7 1399V1405M1921.8 1399V1404M1923.0 1399V1405M1924.1 1399V1411M1925.3 1399V1405M1926.4 1398V1403M1927.6 1398V1403M1928.7 1398V1403M1929.9 1399V1404M1931.0 1398V1404M1932.2 1397V1403M1933.3 1397V1402M1934.5 1397V1403M1935.6 1397V1413M1936.7 1397V1404M1937.9 1397V1403M1939.0 1396V1403M1940.2 1397V1403M1941.3 1398V1404M1942.5 1400V1405M1943.6 1400V1406M1944.8 1401V1419M1962.2 1400V1407M1963.4 1399V1405M1964.5 1399V1414M1965.7 1399V1411M1966.8 1400V1406M1968.0 1399V1407M1969.1 1400V1406M1970.3 1400V1409M1971.4 1399V1406M1972.6 1400V1405M1973.7 1399V1410M1974.9 1400V1410M1976.0 1401V1413M1977.2 1400V1407M1978.3 1399V1410M1979.5 1400V1414M1980.6 1400V1407M1981.8 1401V1415M1982.9 1401V1418M1984.1 1403V1426M1985.2 1406V1438M1986.4 1405V1415M1987.5 1404V1419M1988.7 1403V1412M1989.8 1403V1416M1991.0 1403V1413M1992.1 1402V1410M1993.2 1403V1414M1994.4 1404V1411M1995.5 1404V1412M1996.7 1403V1411M1997.8 1403V1414M1999.0 1402V1417M2000.1 1402V1415M2001.3 1403V1428M2002.4 1404V1415M2003.6 1405V1413M2004.7 1403V1413M2005.9 1402V1408M2007.0 1402V1416M2008.2 1403V1418M2009.3 1405V1413M2010.5 1406V1421M2011.6 1408V1424M2012.8 1408V1427M2013.9 1405V1437M2015.1 1404V1444M2016.2 1403V1423M2017.4 1401V1416M2018.5 1402V1411M2019.7 1402V1409M2020.8 1402V1411M2022.0 1404V1410M2023.1 1405V1413M2024.3 1405V1414M2025.4 1407V1416M2026.6 1407V1413M2027.7 1408V1413M2028.9 1407V1420M2030.0 1409V1421M2031.2 1412V1443M2032.3 1411V1431M2033.5 1410V1427M2034.6 1409V1422M2035.8 1408V1415M2036.9 1409V1415M2038.0 1408V1417M2039.2 1407V1414M2040.3 1405V1415M2041.5 1405V1410M2042.6 1405V1417M2043.8 1405V1419M2044.9 1406V1417M2046.1 1407V1418M2047.2 1408V1423M2048.4 1409V1424M2049.5 1408V1424M2050.7 1409V1419M2051.8 1409V1427M2053.0 1410V1421M2054.1 1408V1416M2055.3 1407V1419M2056.4 1406V1419M2057.6 1408V1419M2058.7 1408V1421M2059.9 1407V1416M2061.0 1408V1426M2062.2 1408V1420M2063.3 1409V1424M2064.5 1410V1440M2065.6 1427V1453M2066.8 1444V1452M2067.9 1449V1466M2069.1 1433V1444M2070.2 1410V1453M2071.4 1428V1438M2072.5 1443V1448M2073.7 1442V1447M2074.8 1412V1436M2076.0 1422V1433M2077.1 1417V1425M2078.3 1411V1420M2079.4 1408V1430M2080.5 1409V1427M2081.7 1410V1418M2082.8 1409V1420M2084.0 1410V1421M2085.1 1411V1427M2086.3 1409V1421M2087.4 1409V1419M2088.6 1409V1416M2089.7 1408V1418M2090.9 1406V1416M2092.0 1407V1413M2093.2 1405V1411M2094.3 1405V1412M2095.5 1405V1412M2096.6 1404V1409M2097.8 1404V1411M2098.9 1404V1410M2100.1 1404V1409M2101.2 1404V1412M2102.4 1406V1411M2103.5 1406V1411M2104.7 1406V1417M2105.8 1405V1412M2107.0 1405V1411M2108.1 1404V1409M2109.3 1403V1409M2110.4 1404V1409M2111.6 1404V1409M2112.7 1403V1408M2113.9 1403V1409M2115.0 1402V1407M2116.2 1401V1408M2117.3 1402V1407M2118.5 1403V1409M2119.6 1403V1408M2120.8 1403V1408M2121.9 1401V1408M2123.1 1401V1406M2124.2 1402V1409M2125.3 1402V1407M2126.5 1403V1408M2127.6 1404V1409M2128.8 1402V1407M2129.9 1401V1406M2131.1 1401V1406M2132.2 1401V1406M2133.4 1401V1406M2134.5 1401V1406M2135.7 1403V1408M2136.8 1403V1408M2138.0 1402V1407M2139.1 1402V1407M2140.3 1402V1407M2141.4 1402V1407M2142.6 1402V1407M2143.7 1402V1407M2144.9 1401V1406M2146.0 1400V1406M2147.2 1400V1405M2148.3 1401V1406M2149.5 1401V1406M2150.6 1401V1406M2151.8 1402V1407M2152.9 1400V1406M2154.1 1400V1406M2155.2 1400V1406M2156.4 1400V1405M2157.5 1400V1407M2158.7 1401V1406M2159.8 1402V1407M2161.0 1402V1407M2162.1 1404V1409M2163.3 1404V1409M2164.4 1403V1408M2165.6 1405V1410M2166.7 1404V1409M2167.9 1406V1411M2169.0 1404V1409M2170.1 1403V1408M2171.3 1402V1407M2172.4 1402V1407M2173.6 1402V1407M2174.7 1402V1408M2178.0 1400V1407M2179.1 1401V1406M2180.3 1399V1409M2181.4 1399V1410M2182.6 1400V1411M2183.7 1413V1418M2184.8 1414V1422M2186.0 1416V1421M2187.1 1416V1421M2188.3 1416V1421M2189.4 1414V1421M2190.6 1409V1417M2191.7 1403V1424M2192.9 1402V1413M2194.0 1402V1415M2195.2 1402V1413M2196.3 1402V1407M2197.5 1402V1408M2198.6 1402V1408M2199.8 1402V1408M2200.9 1402V1407M2202.1 1402V1407M2203.2 1401V1408M2204.4 1401V1408M2205.5 1401V1406M2206.7 1400V1405M2207.8 1400V1407M2209.0 1401V1407M2210.1 1401V1406M2211.3 1401V1408M2212.4 1401V1406M2213.6 1401V1408M2214.7 1401V1416M2215.9 1402V1408M2217.0 1402V1408M2218.2 1402V1407M2219.3 1401V1407M2220.5 1402V1408M2221.6 1402V1407M2222.8 1402V1410M2223.9 1402V1408M2225.1 1401V1417M2226.2 1402V1409M2227.4 1401V1408M2228.5 1400V1409M2229.6 1401V1408M2230.8 1401V1406M2231.9 1402V1408M2233.1 1401V1407M2234.2 1401V1406M2235.4 1400V1408M2236.5 1402V1407M2237.7 1402V1409M2238.8 1402V1423M2240.0 1402V1414M2241.1 1402V1409M2246.6 1401V1407M2247.7 1402V1407M2248.9 1402V1407M2250.0 1403V1408M2251.2 1403V1410M2252.3 1403V1408M2253.5 1406V1413M2254.6 1405V1412M2255.8 1405V1412M2256.9 1405V1410M2258.1 1405V1412M2259.2 1406V1411M2260.4 1405V1410M2261.5 1404V1410M2262.7 1405V1410M2263.8 1404V1409M2265.0 1405V1410M2266.1 1404V1409M2267.3 1404V1410M2268.4 1405V1410M2269.6 1404V1409M2270.7 1404V1411M2271.9 1404V1409M2273.0 1404V1409M2274.2 1404V1409M2275.3 1404V1409M2276.4 1403V1408M2277.6 1404V1409M2278.7 1403V1408M2279.9 1403V1410M2281.0 1405V1413M2282.2 1406V1415M2283.3 1430V1435M2284.5 1408V1442M2285.6 1408V1415M2286.8 1406V1412M2287.9 1406V1414M2289.1 1407V1416M2290.2 1407V1414M2291.4 1409V1419M2292.5 1411V1419M2293.7 1413V1421M2294.8 1416V1421M2296.0 1418V1424M2297.1 1410V1417M2298.3 1406V1416M2299.4 1407V1415M2300.6 1407V1414M2301.7 1406V1411M2302.9 1407V1412M2304.0 1408V1414M2305.2 1408V1413M2306.3 1410V1415M2307.5 1409V1415M2308.6 1408V1415M2309.8 1407V1415M2310.9 1406V1414M2312.1 1407V1413M2313.2 1407V1415M2314.4 1408V1413M2315.5 1408V1415M2316.7 1409V1415M2317.8 1409V1414M2319.0 1409V1414M2320.1 1409V1414M2321.2 1409V1415M2322.4 1412V1418M2323.5 1419V1424M2324.7 1422V1432M2325.8 1423V1438M2327.0 1416V1427M2328.1 1409V1421M2329.3 1408V1416M2330.4 1408V1413M2331.6 1409V1416M2332.7 1409V1415M2333.9 1408V1414M2335.0 1408V1415M2336.2 1408V1413M2337.3 1409V1416M2338.5 1409V1416M2339.6 1411V1416M2340.8 1410V1415M2341.9 1410V1415M2343.1 1408V1414M2344.2 1407V1414M2345.4 1407V1414M2346.5 1407V1412M2347.7 1405V1412M2348.8 1406V1413M2350.0 1407V1412M2351.1 1406V1411M2352.3 1406V1411M2353.4 1407V1412M2354.6 1408V1413M2355.7 1407V1412M2356.9 1407V1412M2358.0 1407V1412M2359.2 1407V1412M2360.3 1407V1413M2361.5 1407V1412M2362.6 1407V1412M2363.7 1407V1412M2364.9 1408V1413M2366.0 1408V1413M2367.2 1407V1412M2368.3 1408V1413M2369.5 1408V1413M2370.6 1408V1425M2371.8 1407V1415M2372.9 1407V1412M2374.1 1405V1410M2375.2 1406V1411M2376.4 1405V1411M2377.5 1405V1410M2378.7 1404V1410M2379.8 1404V1410M2381.0 1404V1411M2382.1 1404V1409M2383.3 1403V1411M2384.4 1403V1408M2385.6 1403V1409M2386.7 1402V1411M2387.9 1403V1408M2389.0 1404V1409M2390.2 1404V1411M2391.3 1405V1410M2392.5 1403V1408M2393.6 1404V1411M2394.8 1405V1410M2395.9 1405V1412M2397.1 1405V1410M2398.2 1406V1411M2399.4 1407V1413M2400.5 1406V1411M2401.7 1405V1411M2402.8 1404V1412M2404.0 1403V1418M2405.1 1403V1413M2406.3 1404V1432M2407.4 1403V1437M2408.5 1403V1443M2409.7 1403V1426M2410.8 1403V1416M2412.0 1402V1417M2413.1 1402V1418M2414.3 1403V1415M2415.4 1403V1432M2416.6 1401V1423M2417.7 1401V1410M2418.9 1400V1406M2420.0 1400V1406M2421.2 1401V1408M2422.3 1402V1408M2424.7 1406V1412M2425.9 1404V1417M2427.0 1404V1411M2428.2 1403V1411M2429.3 1403V1409M2430.5 1403V1408M2431.6 1404V1410M2432.8 1404V1409M2433.9 1404V1412M2435.0 1404V1410M2436.2 1405V1416M2437.3 1405V1414M2438.5 1404V1412M2439.6 1404V1411M2440.8 1404V1411M2446.5 1405V1412M2469.5 1404V1413M2476.3 1404V1411M2477.5 1405V1410M2478.6 1404V1411M2479.8 1404V1417M2480.9 1405V1412M2482.1 1405V1410M2483.2 1404V1413M2484.4 1404V1411M2485.5 1403V1412M2486.7 1403V1409M2487.8 1404V1416M2489.0 1404V1415M2490.1 1405V1422M2491.3 1406V1413M2492.4 1406V1419M2493.6 1407V1418M2494.7 1407V1417M2495.9 1407V1413M2497.0 1406V1413M2498.2 1407V1412M2499.3 1406V1411M2500.5 1405V1410M2501.6 1405V1410M2502.7 1405V1412M2503.9 1406V1412M2505.0 1406V1411M2506.2 1405V1412M2507.3 1405V1414M2508.5 1405V1416M2509.6 1406V1411M2510.8 1404V1412M2511.9 1406V1411M2513.1 1406V1411M2514.2 1407V1413M2515.4 1408V1416M2516.5 1408V1419M2517.7 1408V1424M2518.8 1409V1418M2520.0 1410V1420M2521.1 1409V1420M2522.3 1408V1421M2523.4 1407V1421M2524.6 1406V1417M2525.7 1407V1412M2526.9 1405V1412M2528.0 1406V1412M2529.2 1404V1411M2530.3 1405V1411M2531.5 1403V1411M2532.6 1404V1409M2533.8 1404V1409M2534.9 1404V1410M2536.1 1403V1410M2537.2 1403V1410M2538.4 1403V1411M2539.5 1402V1410M2540.7 1401V1407M2541.8 1402V1407M2543.0 1402V1411M2544.1 1403V1422M2545.3 1403V1415M2546.4 1403V1410M2547.5 1402V1407M2548.7 1402V1410M2549.8 1401V1409M2551.0 1401V1410M2552.1 1404V1409M2553.3 1406V1413M2563.5 1401V1407M2568.8 1401V1407M2570.0 1400V1407M2571.1 1401V1407M2572.3 1402V1407M2573.4 1403V1408M2574.6 1404V1409M2575.7 1403V1408M2576.9 1403V1408M2578.0 1403V1409M2579.2 1403V1408M2580.3 1403V1408M2581.5 1403V1409M2582.6 1403V1408M2583.8 1402V1407M2584.9 1403V1409M2586.1 1403V1408M2587.2 1402V1407M2588.4 1403V1408M2589.5 1403V1408M2590.6 1402V1407M2591.8 1402V1407M2592.9 1404V1410M2594.1 1405V1410M2595.2 1406V1411M2596.4 1406V1417M2597.5 1406V1415M2598.7 1406V1412M2599.8 1407V1412M2601.0 1408V1413M2602.1 1407V1412M2603.3 1408V1418M2604.4 1409V1416M2605.6 1408V1423M2606.7 1417V1423M2607.9 1419V1424M2609.0 1414V1429M2610.2 1408V1486M2611.3 1409V1523M2612.5 1409V1423M2613.6 1409V1432M2614.8 1409V1446M2615.9 1408V1420M2617.1 1410V1418M2618.2 1410V1418M2619.4 1411V1422M2620.5 1411V1425M2621.7 1411V1449M2622.8 1411V1417M2624.0 1410V1415M2625.1 1410V1415M2626.3 1410V1415M2627.4 1410V1415M2628.6 1410V1415M2629.7 1409V1414M2630.9 1410V1415M2632.0 1408V1414M2633.2 1409V1426M2634.3 1408V1413M2635.4 1407V1413M2636.6 1407V1412M2637.7 1407V1412M2638.9 1406V1412M2640.0 1405V1413M2641.2 1406V1413M2642.3 1405V1410M2643.5 1405V1411M2644.6 1405V1411M2645.8 1406V1411M2646.9 1407V1412M2648.1 1406V1411M2649.2 1406V1411M2650.4 1407V1413M2651.5 1406V1411M2652.7 1405V1413M2653.8 1406V1412M2655.0 1406V1413M2656.1 1408V1415M2657.3 1409V1414M2658.4 1409V1414M2659.6 1411V1416M2660.7 1410V1417M2661.9 1411V1418M2663.0 1412V1417M2664.2 1412V1417M2665.3 1412V1417M2666.5 1411V1417M2667.6 1411V1416M2668.8 1411V1416M2669.9 1411V1416M2671.1 1411V1416M2672.2 1411V1416M2673.4 1412V1417M2674.5 1410V1416M2675.7 1409V1416M2676.8 1411V1416M2678.0 1410V1415M2679.1 1411V1416M2680.2 1411V1416M2681.4 1411V1416M2682.5 1412V1417M2683.7 1410V1415M2684.8 1412V1417M2686.0 1412V1417M2687.1 1411V1416M2688.3 1412V1417M2689.4 1412V1417M2690.6 1410V1415M2691.7 1410V1415M2692.9 1410V1415M2694.0 1409V1414M2695.2 1408V1413M2696.3 1408V1414M2697.5 1408V1415M2698.6 1408V1415M2699.8 1407V1412M2700.9 1408V1413M2702.1 1408V1413M2703.2 1408V1413M2704.4 1408V1413M2705.5 1408V1413M2706.7 1408V1413M2707.8 1408V1413M2709.0 1408V1413M2710.1 1409V1414M2711.3 1409V1414M2712.4 1408V1413M2713.6 1408V1413M2714.7 1406V1411M2715.9 1406V1411M2717.0 1405V1410M2718.2 1405V1410M2719.3 1404V1409M2720.5 1403V1408M2721.6 1402V1408M2722.8 1401V1408M2723.9 1401V1406M2725.0 1401V1406M2726.2 1401V1406M2727.3 1401V1408M2728.5 1402V1408M2729.6 1401V1406M2730.8 1402V1407M2731.9 1401V1406M2733.1 1401V1406M2734.2 1401V1407M2735.4 1402V1408M2736.5 1403V1408M2737.7 1403V1408M2738.8 1402V1407M2740.0 1402V1407M2741.1 1403V1408M2742.3 1402V1407M2743.4 1401V1407M2744.6 1401V1407M2745.7 1402V1407M2746.9 1402V1408M2748.0 1401V1407M2749.2 1402V1407M2750.3 1402V1407M2751.5 1403V1408M2752.6 1402V1409M2753.8 1401V1409M2754.9 1402V1409M2756.1 1402V1407M2757.2 1404V1410M2758.4 1403V1411M2759.5 1405V1413M2760.7 1406V1413M2761.8 1407V1414M2763.0 1413V1426M2764.1 1417V1422M2765.3 1421V1427M2766.4 1425V1430M2767.5 1426V1431M2768.7 1427V1434M2769.8 1429V1436M2771.0 1417V1438M2772.1 1404V1418M2773.3 1404V1411M2774.4 1403V1410M2775.6 1403V1408M2776.7 1402V1409M2777.9 1403V1409M2779.0 1403V1408M2780.2 1404V1413M2781.3 1407V1413M2782.5 1406V1414M2783.6 1406V1411M2784.8 1408V1416M2785.9 1409V1414M2787.1 1408V1419M2788.2 1408V1419M2789.4 1407V1414M2790.5 1408V1415M2791.7 1409V1416M2792.8 1408V1421M2794.0 1407V1418M2795.1 1407V1415M2796.3 1407V1414M2797.4 1405V1411M2798.6 1405V1413M2799.7 1405V1410M2800.9 1404V1412M2802.0 1403V1408M2803.2 1403V1409M2804.3 1404V1409M2805.5 1404V1411M2806.6 1406V1411M2807.8 1405V1412M2808.9 1405V1416M2810.1 1404V1429M2811.2 1404V1419M2812.3 1403V1411M2813.5 1403V1421M2814.6 1404V1482M2815.8 1405V1414M2816.9 1404V1410M2818.1 1405V1410M2819.2 1404V1409M2820.4 1403V1409M2821.5 1403V1411M2822.7 1402V1439M2823.8 1402V1411M2825.0 1402V1407M2826.1 1402V1410M2827.3 1403V1408M2828.4 1402V1409M2829.6 1403V1413M2830.7 1403V1412M2831.9 1404V1412M2833.0 1404V1409M2834.2 1405V1412M2835.3 1406V1415M2836.5 1408V1421M2837.6 1409V1431M2838.8 1407V1421M2839.9 1407V1414M2841.1 1406V1416M2842.2 1406V1415M2843.4 1406V1412M2844.5 1406V1412M2845.7 1406V1413M2846.8 1406V1415M2848.0 1405V1410M2849.1 1404V1410M2850.3 1403V1410M2851.4 1402V1410M2852.6 1402V1408M2853.7 1402V1413M2854.9 1402V1408M2856.0 1403V1412M2857.1 1404V1410M2858.3 1406V1412M2859.4 1407V1414M2860.6 1408V1417M2861.7 1408V1427M2862.9 1411V1421M2864.0 1414V1426M2865.2 1416V1423M2866.3 1416V1424M2867.5 1416V1426M2868.6 1410V1421M2869.8 1407V1421M2870.9 1407V1420M2872.1 1406V1413M2873.2 1406V1417M2874.4 1405V1417M2875.5 1405V1441M2876.7 1404V1416M2877.8 1405V1414M2879.0 1404V1410M2880.1 1404V1411M2881.3 1404V1417M2882.4 1405V1418M2883.6 1406V1423M2884.7 1406V1432M2885.9 1408V1420M2887.0 1412V1418M2888.2 1415V1431M2889.3 1411V1444M2890.5 1409V1422M2891.6 1408V1415M2892.8 1408V1413M2893.9 1406V1413M2895.1 1405V1414M2896.2 1404V1410M2897.4 1404V1412M2898.5 1403V1409M2899.7 1404V1412M2900.8 1403V1419M2901.9 1404V1410" stroke="#C6DBEF" stroke-width="1.9" fill="none" shape-rendering="crispEdges"/>
<path d="M331.3 2047V2083M332.5 2055V2083M333.6 2064V2083M334.8 2063V2083M335.9 2072V2084M339.7 2047V2084M340.8 2057V2079M342.0 2064V2085M343.1 2069V2085M344.3 2066V2086M345.4 2074V2087M346.6 2075V2087M347.7 2073V2088M348.9 2075V2090M350.0 2076V2089M351.2 2075V2088M352.3 2069V2087M353.5 2054V2085M354.6 2065V2083M355.8 2054V2082M356.9 2057V2081M358.1 2059V2079M359.2 2041V2076M360.4 2042V2076M361.5 2045V2072M362.7 2045V2074M363.8 2043V2071M365.0 2043V2074M366.1 2042V2069M367.3 2041V2067M368.4 2022V2065M369.5 2032V2070M370.7 2042V2070M371.8 2046V2069M373.0 2053V2072M374.1 2052V2072M375.3 2058V2071M376.4 2052V2073M377.6 2056V2074M378.7 2062V2074M379.9 2064V2074M381.0 2063V2076M382.2 2058V2077M383.3 2056V2074M384.5 2040V2077M385.6 2046V2077M386.8 2050V2076M387.9 2052V2079M389.1 2054V2080M390.2 2063V2083M391.4 2057V2081M392.5 2052V2077M393.7 2047V2075M394.8 2051V2078M396.0 2057V2076M397.1 2058V2076M398.3 2060V2076M399.4 2059V2074M400.6 2057V2074M401.7 2051V2075M402.9 2043V2074M404.0 2050V2074M405.2 2047V2070M406.3 2034V2070M407.5 2052V2072M408.6 2052V2074M409.8 2060V2074M410.9 2058V2076M412.1 2062V2077M413.2 2060V2075M414.3 2052V2076M415.5 2055V2076M416.6 2052V2075M417.8 2046V2075M418.9 2043V2072M420.1 2050V2076M421.2 2055V2075M422.4 2059V2079M423.5 2060V2078M424.7 2064V2080M425.8 2059V2080M427.0 2063V2077M428.1 2062V2079M429.3 2056V2079M430.4 2058V2079M431.6 2065V2077M432.7 2067V2079M433.9 2068V2079M435.0 2071V2080M436.2 2071V2081M437.3 2069V2080M438.5 2072V2080M439.6 2069V2080M440.8 2066V2078M441.9 2067V2078M443.1 2066V2076M444.2 2063V2075M445.4 2063V2076M446.5 2060V2074M447.7 2062V2075M448.8 2061V2076M450.0 2063V2076M451.1 2059V2076M452.3 2056V2075M453.4 2054V2074M454.6 2057V2070M455.7 2060V2075M456.9 2061V2073M458.0 2060V2075M459.1 2066V2075M460.3 2068V2079M461.4 2068V2080M462.6 2069V2081M463.7 2072V2084M464.9 2076V2085M466.0 2075V2088M467.2 2075V2085M468.3 2075V2084M469.5 2075V2086M470.6 2075V2086M471.8 2077V2088M472.9 2078V2086M474.1 2080V2087M475.2 2082V2089M476.4 2084V2091M477.5 2084V2091M478.7 2084V2092M479.8 2086V2094M481.0 2086V2095M482.1 2088V2095M483.3 2088V2095M484.4 2087V2095M485.6 2088V2095M486.7 2087V2094M487.9 2087V2094M489.0 2089V2096M490.2 2090V2097M491.3 2089V2097M492.5 2090V2099M493.6 2092V2099M494.8 2094V2101M495.9 2093V2101M497.1 2093V2101M498.2 2092V2101M499.4 2093V2100M500.5 2091V2098M501.7 2092V2099M502.8 2092V2099M503.9 2094V2101M505.1 2094V2101M506.2 2093V2100M507.4 2095V2102M508.5 2095V2102M509.7 2096V2103M510.8 2095V2102M512.0 2096V2103M513.1 2095V2103M514.3 2095V2106M515.4 2094V2103M516.6 2095V2108M517.7 2097V2106M518.9 2098V2109M520.0 2099V2108M521.2 2100V2111M522.3 2103V2114M523.5 2101V2117M524.6 2104V2117M525.8 2102V2118M526.9 2103V2118M528.1 2108V2118M529.2 2110V2123M530.4 2105V2121M531.5 2108V2121M532.7 2107V2121M533.8 2110V2120M535.0 2106V2121M536.1 2109V2121M537.3 2106V2155M538.4 2106V2119M539.6 2109V2118M540.7 2107V2116M541.9 2108V2117M543.0 2109V2116M544.2 2106V2115M545.3 2107V2116M546.4 2107V2115M547.6 2107V2117M548.7 2109V2116M549.9 2108V2115M551.0 2107V2115M552.2 2107V2117M553.3 2109V2117M554.5 2109V2117M555.6 2110V2117M556.8 2110V2119M557.9 2112V2119M559.1 2112V2119M560.2 2112V2119M561.4 2113V2120M562.5 2113V2120M563.7 2114V2121M568.5 2115V2122M569.7 2117V2124M570.8 2117V2124M572.0 2118V2125M573.1 2117V2124M574.3 2118V2125M575.4 2119V2126M576.6 2121V2128M577.7 2123V2130M578.9 2125V2132M580.0 2129V2136M581.2 2129V2136M582.3 2130V2137M583.5 2131V2138M584.6 2130V2137M585.8 2130V2137M586.9 2129V2136M588.1 2127V2134M589.2 2127V2134M590.4 2127V2134M591.5 2127V2134M592.7 2126V2133M593.8 2127V2134M595.0 2127V2134M596.1 2127V2134M597.3 2128V2135M598.4 2127V2134M599.6 2127V2134M600.7 2128V2135M601.8 2128V2135M603.0 2129V2136M604.1 2129V2136M605.3 2129V2136M606.4 2130V2137M607.6 2130V2137M608.7 2130V2137M609.9 2132V2139M611.0 2131V2138M612.2 2132V2139M613.3 2131V2138M614.5 2132V2139M615.6 2132V2139M616.8 2131V2138M617.9 2131V2138M619.1 2131V2138M620.2 2131V2138M621.4 2131V2138M622.5 2131V2138M623.7 2131V2138M624.8 2132V2139M626.0 2131V2138M627.1 2132V2139M628.3 2131V2138M629.4 2131V2138M630.6 2130V2137M631.7 2130V2137M632.9 2130V2137M634.0 2130V2137M635.2 2131V2138M636.3 2131V2138M637.5 2130V2137M638.6 2131V2138M639.8 2130V2137M640.9 2131V2138M642.1 2132V2139M643.2 2131V2138M644.3 2131V2138M645.5 2130V2137M646.6 2129V2136M651.5 2134V2141M652.6 2133V2140M653.8 2132V2139M654.9 2132V2139M656.1 2130V2137M657.2 2130V2137M658.4 2129V2136M659.5 2128V2135M660.7 2127V2134M661.8 2127V2134M663.0 2124V2131M664.1 2123V2131M665.3 2121V2130M666.4 2121V2130M667.6 2121V2129M668.7 2120V2130M669.9 2121V2128M671.0 2120V2129M672.2 2120V2127M673.3 2119V2127M674.5 2118V2125M675.6 2117V2126M676.8 2116V2126M677.9 2114V2122M679.1 2113V2122M680.2 2111V2122M681.3 2111V2121M682.5 2112V2119M683.6 2112V2120M684.8 2111V2120M685.9 2112V2120M687.1 2112V2119M688.2 2112V2120M689.4 2111V2119M690.5 2112V2119M691.7 2112V2119M692.8 2112V2119M694.0 2110V2118M695.1 2112V2119M696.3 2111V2118M697.4 2111V2119M698.6 2111V2118M699.7 2110V2118M700.9 2111V2118M702.0 2109V2118M703.2 2109V2117M704.3 2109V2116M705.5 2108V2116M706.6 2107V2115M707.8 2107V2114M708.9 2104V2111M710.1 2102V2109M711.2 2099V2107M712.4 2099V2108M713.5 2093V2108M714.7 2095V2107M715.8 2095V2106M717.0 2098V2106M718.1 2097V2107M719.3 2098V2105M720.4 2096V2106M721.6 2097V2105M722.7 2094V2103M723.9 2087V2102M725.0 2086V2101M726.1 2078V2102M727.3 2068V2101M728.4 2059V2098M729.6 2079V2099M730.7 2081V2099M731.9 2086V2098M733.0 2082V2098M734.2 2082V2097M735.3 2084V2096M736.5 2081V2095M737.6 2078V2094M738.8 2075V2095M739.9 2075V2095M741.1 2063V2094M742.2 2074V2093M743.4 2072V2092M744.5 2068V2091M745.7 2060V2089M746.8 2046V2091M748.0 2061V2090M749.1 2068V2089M750.3 2069V2089M751.4 2075V2089M752.6 2065V2089M753.7 2069V2089M754.9 2063V2086M756.0 2054V2086M757.2 2057V2085M758.3 2069V2086M759.5 2071V2088M760.6 2072V2087M761.8 2070V2085M762.9 2065V2085M764.1 2059V2089M765.2 2052V2083M766.4 2055V2084M767.5 2043V2081M768.7 2058V2089M769.8 2055V2085M770.9 2063V2086M772.1 2066V2085M773.2 2071V2086M774.4 2074V2088M775.5 2074V2087M776.7 2078V2089M777.8 2075V2089M779.0 2071V2085M780.1 2071V2084M781.3 2064V2083M782.4 2057V2082M783.6 2055V2080M784.7 2056V2075M785.9 2040V2071M787.0 2047V2072M788.2 2042V2074M789.3 2036V2075M790.5 2042V2074M791.6 2047V2074M792.8 2046V2075M793.9 2061V2075M795.1 2065V2077M796.2 2069V2081M797.4 2074V2085M798.5 2070V2084M799.7 2074V2084M800.8 2073V2083M802.0 2072V2083M803.1 2071V2083M804.3 2071V2083M805.4 2072V2081M806.6 2072V2083M807.7 2071V2086M808.9 2072V2085M810.0 2066V2083M811.2 2070V2082M812.3 2063V2085M813.4 2061V2085M814.6 2061V2080M815.7 2046V2084M816.9 2050V2082M818.0 2060V2081M819.2 2060V2079M820.3 2057V2076M821.5 2061V2081M822.6 2064V2081M823.8 2069V2083M824.9 2068V2081M826.1 2068V2083M827.2 2069V2083M828.4 2069V2081M829.5 2067V2082M830.7 2063V2084M831.8 2069V2083M833.0 2066V2083M834.1 2059V2080M835.3 2055V2083M836.4 2045V2078M837.6 2048V2084M838.7 2055V2081M839.9 2051V2082M841.0 2047V2080M842.2 2050V2079M843.3 2056V2081M844.5 2058V2079M845.6 2060V2084M846.8 2065V2082M847.9 2066V2081M849.1 2068V2083M850.2 2070V2084M851.4 2073V2083M852.5 2072V2083M853.7 2073V2086M854.8 2074V2087M856.0 2075V2085M857.1 2078V2086M858.2 2076V2086M859.4 2075V2086M860.5 2074V2087M861.7 2074V2085M862.8 2069V2084M864.0 2068V2083M865.1 2061V2083M866.3 2067V2081M867.4 2071V2083M868.6 2073V2081M869.7 2072V2082M870.9 2075V2083M872.0 2072V2085M873.2 2074V2085M874.3 2069V2082M875.5 2071V2081M876.6 2066V2079M877.8 2065V2077M878.9 2060V2078M880.1 2066V2077M881.2 2062V2078M882.4 2064V2078M883.5 2065V2079M884.7 2067V2079M885.8 2063V2080M887.0 2069V2081M888.1 2071V2081M889.3 2070V2082M890.4 2073V2082M891.6 2075V2083M892.7 2075V2084M893.9 2077V2085M895.0 2078V2085M896.2 2078V2085M897.3 2079V2086M898.5 2079V2086M899.6 2080V2087M900.8 2080V2087M901.9 2080V2087M903.0 2079V2088M904.2 2082V2090M905.3 2083V2090M906.5 2084V2091M907.6 2085V2092M908.8 2087V2094M909.9 2086V2093M911.1 2086V2093M912.2 2087V2094M913.4 2087V2094M914.5 2088V2095M915.7 2089V2096M916.8 2089V2096M918.0 2090V2098M919.1 2090V2098M920.3 2090V2098M921.4 2091V2100M922.6 2095V2102M923.7 2097V2104M924.9 2098V2105M926.0 2101V2108M927.2 2103V2110M928.3 2103V2110M929.5 2104V2111M930.6 2105V2112M931.8 2105V2112M932.9 2105V2112M934.1 2106V2113M935.2 2106V2113M936.4 2105V2112M937.5 2105V2112M938.7 2108V2115M939.8 2109V2116M941.0 2109V2116M942.1 2110V2117M943.3 2111V2118M944.4 2111V2118M945.6 2111V2118M946.7 2112V2119M947.8 2111V2118M949.0 2111V2118M950.1 2111V2118M951.3 2112V2119M952.4 2112V2119M953.6 2112V2119M954.7 2112V2119M955.9 2112V2119M957.0 2113V2120M958.2 2112V2119M959.3 2114V2121M960.5 2113V2120M961.6 2113V2120M962.8 2114V2121M963.9 2113V2120M965.1 2114V2121M966.2 2114V2121M967.4 2114V2121M968.5 2116V2123M969.7 2116V2123M970.8 2116V2123M972.0 2117V2124M973.1 2116V2123M974.3 2118V2125M975.4 2118V2125M976.6 2119V2127M977.7 2119V2126M978.9 2119V2127M980.0 2119V2126M981.2 2120V2127M982.3 2120V2127M983.5 2120V2127M984.6 2119V2126M985.8 2120V2127M986.9 2119V2126M988.1 2119V2126M989.2 2119V2126M990.3 2120V2127M991.5 2120V2127M992.6 2121V2128M993.8 2120V2127M994.9 2120V2127M996.1 2121V2128M997.2 2122V2129M998.4 2122V2129M999.5 2121V2128M1000.7 2121V2130M1001.8 2123V2130M1003.0 2121V2130M1004.1 2122V2130M1005.3 2122V2129M1006.4 2123V2130M1007.6 2124V2131M1008.7 2124V2132M1009.9 2125V2132M1011.0 2125V2133M1012.2 2126V2133M1013.3 2128V2135M1014.5 2128V2135M1015.6 2128V2135M1016.8 2128V2135M1017.9 2129V2136M1019.1 2127V2135M1020.2 2128V2136M1021.4 2128V2138M1022.5 2127V2138M1023.7 2128V2138M1024.8 2127V2137M1026.0 2127V2136M1027.1 2128V2141M1028.3 2130V2139M1029.4 2130V2142M1030.6 2132V2142M1031.7 2132V2140M1032.9 2135V2142M1034.0 2135V2142M1035.1 2136V2145M1036.3 2137V2144M1037.4 2137V2145M1038.6 2137V2145M1039.7 2137V2146M1040.9 2135V2146M1042.0 2133V2142M1043.2 2132V2142M1044.3 2130V2142M1045.5 2130V2141M1046.6 2130V2138M1047.8 2130V2137M1048.9 2130V2137M1050.1 2130V2137M1051.2 2131V2138M1052.4 2132V2139M1053.5 2132V2139M1054.7 2129V2136M1055.8 2130V2137M1057.0 2129V2136M1058.1 2129V2136M1059.3 2128V2135M1060.4 2127V2134M1061.6 2126V2134M1062.7 2127V2135M1063.9 2128V2135M1065.0 2127V2134M1066.2 2128V2135M1067.3 2128V2135M1068.5 2127V2134M1069.6 2127V2134M1070.8 2127V2134M1071.9 2128V2135M1073.1 2129V2136M1074.2 2128V2135M1075.4 2128V2135M1076.5 2128V2135M1077.7 2128V2135M1078.8 2126V2133M1079.9 2126V2133M1081.1 2126V2133M1082.2 2126V2133M1083.4 2126V2133M1084.5 2125V2132M1085.7 2125V2132M1086.8 2123V2130M1088.0 2124V2131M1089.1 2124V2131M1090.3 2124V2131M1091.4 2123V2130M1092.6 2124V2131M1093.7 2123V2130M1094.9 2123V2130M1096.0 2124V2131M1097.2 2123V2130M1102.6 2119V2127M1103.8 2119V2126M1104.9 2118V2125M1106.1 2118V2125M1107.2 2118V2125M1108.4 2118V2125M1109.5 2118V2125M1110.7 2118V2127M1111.8 2117V2126M1113.0 2105V2122M1114.1 2106V2118M1115.3 2104V2117M1116.4 2108V2117M1117.6 2109V2118M1118.7 2108V2119M1119.9 2109V2118M1121.0 2108V2118M1122.1 2105V2118M1123.3 2026V2116M1124.4 2107V2116M1207.6 2052V2081M1208.8 2060V2081M1209.9 2066V2080M1211.1 2062V2082M1212.2 2063V2080M1213.6 2063V2077M1214.8 2046V2074M1215.9 2013V2074M1217.1 2043V2075M1218.2 2040V2073M1219.4 2049V2075M1220.5 2035V2072M1221.7 2032V2073M1222.8 2043V2072M1224.0 2052V2074M1225.1 2057V2076M1226.3 2061V2076M1227.4 2063V2076M1228.5 2054V2077M1229.7 2058V2076M1230.8 2065V2078M1232.0 2068V2079M1233.1 2065V2080M1234.3 2068V2080M1235.4 2067V2081M1236.6 2062V2081M1237.7 2059V2079M1238.9 2059V2078M1240.0 2049V2083M1241.2 2036V2078M1242.3 2055V2082M1243.5 2063V2086M1244.6 2065V2082M1245.8 2063V2085M1246.9 2052V2084M1248.1 2056V2081M1249.2 2039V2085M1250.4 2050V2082M1251.5 2052V2086M1252.7 2054V2086M1253.8 2064V2083M1255.0 2057V2086M1256.1 2066V2084M1257.3 2068V2085M1258.4 2072V2087M1259.6 2072V2086M1260.7 2074V2085M1261.9 2070V2088M1263.0 2069V2086M1264.2 2063V2088M1265.3 2064V2088M1266.5 2068V2086M1267.6 2063V2086M1268.8 2072V2090M1269.9 2062V2086M1271.1 2066V2085M1272.2 2065V2087M1273.3 2071V2085M1274.5 2072V2083M1275.6 2068V2086M1276.8 2066V2083M1277.9 2066V2084M1279.1 2056V2081M1280.2 2048V2081M1281.4 2060V2078M1282.5 2063V2083M1283.7 2066V2079M1284.8 2069V2080M1286.0 2069V2081M1287.1 2072V2082M1288.3 2068V2082M1289.4 2071V2079M1290.6 2072V2080M1291.7 2073V2080M1292.9 2072V2080M1294.0 2075V2082M1295.2 2075V2084M1296.3 2077V2086M1297.5 2075V2086M1298.6 2078V2086M1299.8 2078V2085M1300.9 2078V2085M1302.1 2078V2085M1303.2 2078V2085M1304.4 2077V2085M1305.5 2078V2085M1306.7 2078V2086M1307.8 2080V2087M1309.0 2081V2088M1310.1 2083V2090M1311.3 2084V2091M1312.4 2085V2092M1313.6 2085V2093M1314.7 2085V2093M1315.9 2085V2092M1317.0 2086V2093M1318.1 2085V2092M1319.3 2086V2093M1320.4 2086V2093M1321.6 2088V2095M1322.7 2088V2095M1323.9 2089V2096M1325.0 2090V2097M1326.2 2090V2097M1327.3 2091V2098M1328.5 2090V2097M1329.6 2090V2097M1330.8 2088V2096M1331.9 2088V2097M1333.1 2089V2096M1334.2 2091V2098M1335.4 2093V2100M1336.5 2093V2100M1337.7 2095V2102M1338.8 2096V2103M1340.0 2098V2105M1341.1 2099V2106M1342.3 2098V2106M1343.4 2099V2107M1344.6 2097V2104M1345.7 2096V2103M1346.9 2097V2104M1348.0 2098V2105M1349.2 2100V2107M1350.3 2100V2107M1351.5 2100V2107M1352.6 2100V2107M1353.8 2100V2107M1354.9 2101V2109M1356.1 2102V2109M1357.2 2103V2110M1358.4 2104V2111M1359.5 2105V2112M1360.7 2105V2112M1361.8 2106V2113M1362.9 2106V2113M1364.1 2106V2113M1365.2 2105V2113M1366.4 2106V2113M1367.5 2105V2114M1368.7 2107V2115M1369.8 2107V2114M1371.0 2107V2115M1372.1 2108V2117M1373.3 2110V2126M1374.4 2110V2124M1375.6 2113V2121M1376.7 2112V2121M1377.9 2111V2120M1379.0 2112V2119M1380.2 2112V2121M1381.3 2115V2124M1382.5 2116V2126M1383.6 2117V2128M1384.8 2118V2127M1385.9 2119V2129M1387.1 2119V2129M1388.2 2120V2129M1389.4 2121V2134M1390.5 2122V2134M1391.7 2122V2131M1392.8 2122V2134M1394.0 2123V2133M1395.1 2125V2140M1396.3 2127V2138M1397.4 2127V2142M1398.6 2127V2144M1399.7 2132V2147M1400.9 2129V2151M1402.0 2129V2157M1403.2 2135V2148M1404.3 2126V2147M1405.4 2133V2146M1406.6 2131V2144M1407.7 2132V2143M1408.9 2132V2148M1410.0 2133V2145M1411.2 2133V2144M1412.3 2133V2145M1413.5 2135V2143M1414.6 2134V2142M1415.8 2133V2142M1416.9 2132V2141M1418.1 2132V2141M1419.2 2133V2141M1420.4 2132V2140M1421.5 2132V2141M1422.7 2132V2140M1423.8 2133V2141M1425.0 2132V2140M1426.1 2131V2139M1427.3 2131V2139M1428.4 2132V2140M1429.6 2133V2140M1430.7 2132V2140M1431.9 2131V2139M1433.0 2131V2140M1434.2 2132V2140M1435.3 2132V2140M1436.5 2134V2142M1437.6 2131V2141M1438.8 2132V2140M1439.9 2131V2140M1441.1 2133V2140M1442.2 2133V2140M1443.4 2132V2139M1444.5 2132V2140M1445.7 2132V2139M1446.8 2130V2140M1448.0 2131V2140M1449.1 2130V2140M1450.2 2130V2138M1451.4 2130V2140M1452.5 2130V2140M1453.7 2129V2138M1454.8 2129V2138M1456.0 2130V2139M1457.1 2130V2139M1458.3 2131V2139M1459.4 2130V2141M1460.6 2130V2143M1461.7 2130V2140M1462.9 2131V2142M1464.0 2134V2142M1465.2 2131V2143M1466.3 2134V2145M1467.5 2131V2145M1468.6 2132V2143M1469.8 2132V2141M1470.9 2129V2138M1472.1 2129V2139M1473.2 2129V2136M1474.4 2128V2135M1475.5 2129V2136M1476.7 2129V2136M1536.5 2117V2124M1537.6 2115V2122M1538.8 2115V2122M1539.9 2112V2119M1541.1 2113V2122M1542.2 2111V2121M1543.3 2112V2119M1544.5 2113V2121M1545.6 2112V2120M1546.8 2113V2120M1547.9 2112V2119M1549.1 2112V2119M1550.2 2112V2119M1551.4 2112V2119M1552.5 2113V2120M1553.7 2113V2121M1554.8 2113V2120M1556.0 2113V2120M1557.1 2112V2119M1558.3 2111V2118M1559.4 2109V2116M1560.6 2110V2117M1561.7 2108V2115M1562.9 2107V2114M1564.0 2106V2113M1565.2 2105V2112M1566.3 2106V2113M1567.5 2105V2112M1568.6 2104V2112M1569.8 2104V2111M1570.9 2102V2111M1572.1 2098V2109M1573.2 2097V2109M1574.4 2094V2108M1575.5 2095V2108M1576.7 2098V2107M1577.8 2101V2109M1579.0 2101V2108M1580.1 2101V2108M1581.3 2101V2109M1582.4 2099V2108M1583.6 2098V2107M1584.7 2099V2106M1585.8 2099V2107M1587.0 2096V2106M1588.1 2091V2102M1589.3 2087V2101M1590.4 2065V2098M1591.6 2080V2100M1592.7 2084V2097M1593.9 2085V2098M1595.0 2082V2097M1596.2 2082V2097M1597.3 2085V2097M1598.5 2078V2096M1599.6 2083V2096M1600.8 2084V2095M1601.9 2081V2094M1603.1 2082V2093M1604.2 2081V2093M1605.4 2082V2094M1606.5 2080V2092M1607.7 2081V2092M1608.8 2082V2093M1610.0 2077V2094M1611.1 2081V2093M1612.3 2078V2091M1613.4 2075V2091M1614.6 2079V2089M1615.7 2078V2088M1616.9 2072V2085M1618.0 2063V2083M1619.2 2053V2081M1620.3 2054V2080M1621.5 2058V2080M1622.6 2058V2082M1623.8 2044V2082M1624.9 2059V2079M1626.1 2062V2081M1627.2 2063V2082M1628.4 2064V2082M1629.5 2064V2083M1630.6 2068V2081M1631.8 2062V2082M1632.9 2069V2083M1648.9 2068V2085M1650.1 2072V2083M1651.2 2075V2085M1652.4 2075V2085M1653.5 2075V2087M1654.7 2057V2086M1655.8 2063V2085M1657.0 2068V2087M1658.1 2071V2088M1659.3 2072V2088M1660.4 2071V2089M1661.6 2073V2086M1662.7 2063V2087M1663.9 2069V2084M1665.0 2069V2084M1666.2 2071V2087M1667.3 2071V2085M1668.5 2071V2085M1669.6 2067V2083M1670.8 2063V2083M1671.9 2062V2081M1673.1 2056V2084M1674.2 2045V2082M1675.4 2054V2084M1676.5 2060V2084M1677.7 2052V2082M1678.8 2062V2080M1680.0 2069V2083M1681.1 2069V2083M1682.3 2073V2085M1683.4 2075V2084M1684.6 2072V2085M1685.7 2072V2085M1686.8 2071V2086M1688.0 2072V2086M1689.1 2060V2086M1690.3 2026V2084M1691.4 2052V2084M1692.6 2056V2082M1693.7 2057V2085M1694.9 2064V2081M1696.0 2053V2085M1697.2 2066V2087M1698.3 2072V2084M1699.5 2075V2084M1700.6 2073V2085M1701.8 2072V2087M1702.9 2073V2085M1704.1 2071V2086M1705.2 2075V2086M1706.4 2071V2087M1707.5 2074V2087M1708.7 2072V2087M1709.8 2075V2086M1711.0 2077V2088M1712.1 2076V2087M1713.3 2073V2087M1714.4 2074V2087M1715.6 2072V2087M1716.7 2075V2088M1717.9 2077V2087M1719.0 2073V2088M1720.2 2072V2087M1721.3 2074V2086M1722.5 2071V2087M1723.6 2070V2085M1724.8 2069V2087M1725.9 2072V2087M1727.1 2063V2087M1728.2 2063V2083M1729.4 2060V2088M1730.5 2066V2086M1731.6 2072V2089M1732.8 2074V2087M1733.9 2075V2089M1735.1 2078V2087M1736.2 2079V2090M1737.4 2078V2091M1738.5 2080V2091M1739.7 2080V2092M1740.8 2083V2093M1742.0 2077V2092M1743.1 2080V2093M1744.3 2087V2094M1745.4 2089V2096M1747.7 2094V2101M1748.9 2096V2103M1750.0 2097V2104M1751.1 2097V2104M1752.3 2097V2104M1753.4 2097V2104M1754.6 2096V2103M1755.7 2097V2104M1756.9 2099V2106M1758.0 2102V2109M1759.2 2103V2110M1760.3 2106V2113M1761.5 2111V2118M1762.6 2110V2117M1763.8 2111V2118M1764.9 2111V2118M1766.1 2112V2119M1767.2 2112V2119M1768.4 2113V2120M1769.5 2114V2121M1770.7 2114V2121M1771.8 2114V2121M1773.0 2114V2121M1774.1 2117V2124M1775.3 2115V2122M1776.4 2116V2123M1777.6 2114V2121M1778.7 2113V2120M1779.9 2114V2121M1781.0 2114V2121M1782.2 2114V2121M1783.3 2116V2123M1784.5 2118V2125M1785.6 2120V2127M1786.8 2122V2129M1787.9 2124V2131M1789.1 2126V2133M1790.2 2127V2134M1791.4 2127V2134M1792.5 2130V2137M1793.7 2129V2136M1794.8 2130V2137M1795.9 2130V2137M1797.1 2130V2137M1798.2 2130V2137M1799.4 2129V2136M1800.5 2129V2136M1801.7 2129V2136M1802.8 2129V2136M1804.0 2129V2136M1805.1 2129V2136M1806.3 2132V2139M1807.4 2136V2143M1808.6 2138V2145M1809.7 2141V2148M1810.9 2143V2150M1812.0 2143V2150M1813.2 2143V2150M1814.3 2140V2147M1815.5 2136V2143M1816.6 2132V2139M1817.8 2131V2138M1818.9 2129V2136M1820.1 2129V2136M1821.2 2129V2136M1822.4 2129V2136M1823.5 2130V2137M1824.7 2129V2136M1825.8 2129V2136M1827.0 2128V2135M1828.1 2129V2136M1829.3 2128V2135M1830.4 2127V2134M1831.6 2127V2134M1832.7 2127V2134M1833.9 2126V2133M1835.0 2126V2133M1836.2 2126V2133M1837.3 2125V2132M1838.5 2126V2133M1839.6 2126V2133M1840.7 2125V2132M1841.9 2126V2133M1843.0 2126V2133M1844.2 2127V2134M1845.3 2127V2134M1846.5 2128V2135M1847.6 2127V2134M1848.8 2129V2136M1849.9 2130V2137M1851.1 2131V2138M1852.2 2130V2137M1853.4 2130V2137M1854.5 2130V2137M1855.7 2130V2137M1856.8 2130V2137M1858.0 2130V2137M1859.1 2132V2139M1860.3 2132V2139M1861.4 2131V2138M1862.6 2130V2137M1863.7 2130V2137M1864.9 2130V2137M1866.0 2131V2138M1867.2 2130V2137M1868.3 2130V2137M1869.5 2129V2136M1870.6 2131V2138M1871.8 2131V2138M1872.9 2132V2139M1874.1 2133V2140M1875.2 2133V2140M1876.4 2133V2140M1877.5 2133V2140M1878.7 2134V2141M1879.8 2134V2141M1881.0 2134V2141M1882.1 2134V2141M1883.3 2138V2145M1884.4 2142V2149M1885.5 2142V2149M1886.7 2143V2150M1887.8 2143V2150M1889.0 2143V2150M1890.1 2144V2151M1891.3 2143V2150M1892.4 2142V2149M1893.6 2142V2149M1894.7 2141V2148M1895.9 2141V2148M1897.0 2139V2146M1898.2 2139V2146M1899.3 2138V2145M1900.5 2137V2144M1901.6 2137V2144M1902.8 2137V2144M1903.9 2136V2143M1905.1 2136V2143M1906.2 2134V2141M1907.4 2132V2139M1908.5 2133V2140M1909.7 2131V2138M1910.8 2131V2138M1912.0 2132V2139M1913.1 2133V2140M1914.3 2131V2138M1915.4 2132V2139M1916.6 2132V2139M1917.7 2132V2139M1918.9 2131V2138M1920.0 2130V2137M1921.2 2131V2138M1922.3 2130V2137M1923.5 2130V2137M1924.6 2130V2137M1925.8 2129V2136M1926.9 2129V2136M1928.0 2130V2137M1929.2 2130V2137M1930.3 2128V2135M1931.5 2127V2134M1932.6 2126V2133M1933.8 2126V2133M1934.9 2126V2133M1936.1 2126V2133M1937.2 2124V2131M1938.4 2124V2131M1939.5 2123V2130M1940.7 2123V2130M1941.8 2122V2129M1943.0 2121V2128M1944.1 2122V2129M1962.2 2114V2125M1963.4 2115V2124M1964.5 2117V2124M1965.7 2116V2124M1966.8 2115V2124M1968.0 2117V2124M1969.1 2117V2125M1970.3 2117V2124M1971.4 2116V2124M1972.6 2113V2123M1973.7 2114V2122M1974.9 2110V2120M1976.0 2107V2119M1977.2 2109V2119M1978.3 2102V2119M1979.5 2101V2115M1980.6 2102V2115M1981.8 2094V2111M1982.9 2087V2107M1984.1 2061V2105M1985.2 2035V2101M1986.4 2066V2100M1987.5 2075V2101M1988.7 2081V2101M1989.8 2083V2101M1991.0 2087V2101M1992.1 2089V2101M1993.2 2084V2101M1994.4 2080V2100M1995.5 2086V2102M1996.7 2087V2102M1997.8 2087V2104M1999.0 2079V2105M2000.1 2048V2101M2001.3 2077V2099M2002.4 2078V2103M2003.6 2082V2101M2004.7 2084V2103M2005.9 2084V2101M2007.0 2083V2103M2008.2 2079V2099M2009.3 2071V2102M2010.5 2066V2100M2011.6 2076V2097M2012.8 2080V2095M2013.9 2075V2098M2015.1 2078V2100M2016.2 2082V2098M2017.4 2083V2098M2018.5 2085V2098M2019.7 2083V2099M2020.8 2082V2098M2022.0 2086V2098M2023.1 2086V2096M2024.3 2080V2095M2025.4 2078V2095M2026.6 2071V2094M2027.7 2070V2094M2028.9 2040V2090M2030.0 2041V2089M2031.2 2031V2091M2032.3 2013V2085M2033.5 1986V2089M2034.6 2046V2090M2035.8 2061V2089M2036.9 2068V2087M2038.0 2063V2090M2039.2 2072V2089M2040.3 2068V2089M2041.5 2071V2090M2042.6 2071V2089M2043.8 2071V2088M2044.9 2065V2086M2046.1 2053V2084M2047.2 2046V2081M2048.4 2043V2079M2049.5 2041V2082M2050.7 2028V2077M2051.8 2029V2080M2053.0 1944V2081M2054.1 2046V2079M2055.3 2048V2079M2056.4 2059V2079M2057.6 2061V2078M2058.7 2056V2080M2059.9 2061V2079M2061.0 2054V2077M2062.2 2050V2075M2063.3 2040V2078M2064.5 2042V2075M2065.6 2035V2076M2066.8 2034V2070M2067.9 2027V2076M2069.1 2042V2076M2070.2 2045V2073M2071.4 2037V2070M2072.5 2045V2075M2073.7 2048V2075M2074.8 2052V2073M2076.0 2058V2073M2077.1 2051V2074M2078.3 2053V2074M2079.4 2037V2072M2080.5 2047V2069M2081.7 2020V2068M2082.8 2034V2067M2084.0 2023V2069M2085.1 2016V2071M2086.3 2030V2066M2087.4 2031V2068M2088.6 2044V2071M2089.7 2052V2074M2090.9 2057V2075M2092.0 2063V2080M2093.2 2066V2079M2094.3 2068V2081M2095.5 2070V2083M2096.6 2070V2085M2097.8 2068V2087M2098.9 2071V2084M2100.1 2062V2086M2101.2 2060V2082M2102.4 2057V2081M2103.5 2050V2079M2104.7 2040V2083M2105.8 2050V2084M2107.0 2060V2086M2108.1 2057V2086M2109.3 2066V2085M2110.4 2074V2086M2111.6 2073V2088M2112.7 2075V2087M2113.9 2076V2088M2115.0 2076V2089M2116.2 2076V2087M2117.3 2078V2090M2118.5 2072V2090M2119.6 2075V2088M2120.8 2070V2087M2121.9 2070V2091M2123.1 2064V2088M2124.2 2068V2090M2125.3 2070V2091M2126.5 2070V2093M2127.6 2071V2092M2128.8 2073V2092M2129.9 2078V2098M2131.1 2079V2094M2132.2 2080V2092M2133.4 2078V2093M2134.5 2081V2093M2135.7 2078V2092M2136.8 2079V2094M2138.0 2080V2091M2139.1 2080V2089M2140.3 2078V2089M2141.4 2079V2089M2142.6 2079V2090M2143.7 2077V2090M2144.9 2075V2090M2146.0 2081V2090M2147.2 2081V2091M2148.3 2083V2092M2149.5 2083V2092M2150.6 2086V2093M2151.8 2086V2093M2152.9 2087V2094M2154.1 2087V2095M2155.2 2088V2095M2156.4 2088V2095M2157.5 2089V2096M2158.7 2089V2097M2159.8 2089V2097M2161.0 2089V2096M2162.1 2088V2095M2163.3 2087V2096M2164.4 2088V2096M2165.6 2089V2097M2166.7 2089V2099M2167.9 2091V2098M2169.0 2090V2097M2170.1 2092V2099M2171.3 2094V2101M2172.4 2093V2101M2173.6 2092V2101M2174.7 2090V2102M2175.9 1995V2102M2177.0 2092V2103M2178.2 2093V2100M2179.3 2093V2102M2180.5 2094V2104M2181.6 2096V2103M2182.8 2096V2104M2183.9 2097V2106M2185.1 2098V2106M2186.2 2099V2106M2187.4 2099V2107M2188.5 2100V2107M2189.7 2101V2108M2190.8 2101V2108M2192.0 2007V2108M2193.1 2101V2108M2194.3 2102V2109M2195.4 2101V2110M2196.6 2103V2111M2197.7 2103V2110M2198.9 2105V2113M2200.0 2106V2113M2201.2 2107V2114M2202.3 2107V2114M2203.5 2107V2114M2204.6 2106V2114M2205.8 2107V2114M2206.9 2108V2115M2208.1 2108V2115M2209.2 2108V2115M2210.4 2108V2115M2211.5 2108V2115M2212.6 2107V2114M2213.8 2108V2115M2214.9 2108V2115M2216.1 2108V2115M2217.2 2109V2116M2218.4 2111V2118M2219.5 2110V2117M2220.7 2111V2118M2221.8 2111V2118M2223.0 2111V2118M2224.1 2112V2119M2225.3 2111V2118M2226.4 2112V2119M2227.6 2111V2118M2228.7 2112V2119M2229.9 2112V2119M2231.0 2112V2119M2232.2 2112V2119M2233.3 2111V2118M2234.5 2111V2118M2235.6 2112V2119M2236.8 2111V2118M2237.9 2111V2118M2239.1 2111V2118M2240.2 2110V2117M2241.4 2110V2118M2242.5 2111V2118M2243.7 2111V2118M2244.8 2111V2118M2246.0 2111V2118M2247.1 2111V2119M2248.3 2112V2120M2249.4 2113V2122M2250.6 2115V2123M2251.7 2116V2128M2252.9 2116V2128M2254.0 2120V2130M2255.2 2118V2134M2256.3 2123V2136M2257.4 2118V2138M2258.6 2118V2142M2259.7 2120V2141M2260.9 2126V2141M2262.0 2127V2142M2263.2 2118V2141M2264.3 2126V2139M2265.5 2123V2138M2266.6 2125V2136M2267.8 2125V2135M2268.9 2123V2134M2270.1 2123V2132M2271.2 2120V2131M2272.4 2122V2130M2273.5 2122V2129M2274.7 2120V2127M2275.8 2119V2126M2277.0 2119V2126M2278.1 2119V2126M2279.3 2118V2125M2280.4 2118V2125M2281.6 2119V2126M2282.7 2121V2128M2283.9 2123V2130M2285.0 2120V2130M2286.2 2124V2132M2287.3 2121V2133M2288.5 2122V2133M2289.6 2124V2132M2290.8 2122V2133M2291.9 2123V2132M2293.1 2122V2133M2294.2 2122V2134M2295.4 2124V2133M2296.5 2124V2133M2297.7 2122V2133M2298.8 2124V2133M2300.0 2125V2133M2301.1 2123V2132M2302.2 2126V2133M2303.4 2125V2134M2304.5 2126V2134M2305.7 2124V2134M2306.8 2126V2134M2308.0 2124V2135M2309.1 2126V2135M2310.3 2125V2136M2311.4 2125V2134M2312.6 2125V2137M2313.7 2126V2136M2314.9 2125V2137M2316.0 2126V2137M2317.2 2128V2136M2318.3 2126V2138M2319.5 2125V2136M2320.6 2125V2135M2321.8 2126V2134M2322.9 2126V2135M2324.1 2125V2132M2325.2 2124V2133M2326.4 2124V2132M2327.5 2124V2134M2328.7 2124V2132M2329.8 2124V2131M2331.0 2124V2132M2332.1 1990V2132M2333.3 1787V2131M2334.4 2123V2130M2335.6 2123V2130M2336.7 2122V2129M2337.9 2122V2129M2339.0 2122V2129M2340.2 2122V2130M2341.3 2122V2129M2342.5 2121V2128M2343.6 2120V2127M2344.8 2120V2127M2345.9 2120V2127M2347.0 2120V2127M2348.2 2119V2126M2349.3 2119V2126M2350.5 2118V2126M2351.6 2118V2125M2352.8 2117V2124M2353.9 2116V2123M2355.1 2117V2124M2356.2 1854V2124M2357.4 2116V2123M2358.5 2116V2123M2359.7 2115V2123M2360.8 2115V2123M2362.0 2114V2121M2363.1 2112V2119M2364.3 2112V2119M2365.4 2112V2119M2366.6 2111V2118M2367.7 2111V2118M2368.9 2111V2118M2370.0 2110V2117M2371.2 2110V2117M2372.3 2110V2117M2373.5 2109V2116M2374.6 2108V2115M2375.8 2108V2115M2376.9 2109V2116M2378.1 2110V2117M2379.2 2110V2117M2380.4 2109V2117M2381.5 2108V2116M2382.7 2108V2117M2383.8 2108V2115M2385.0 2107V2114M2386.1 2106V2113M2387.3 2105V2112M2388.4 2104V2111M2389.5 2102V2109M2390.7 2102V2109M2391.8 2100V2107M2393.0 2099V2106M2394.1 2099V2106M2395.3 2097V2105M2396.4 2096V2104M2397.6 2093V2103M2398.7 2084V2100M2399.9 2077V2104M2401.0 2075V2102M2402.2 2077V2100M2403.3 2072V2102M2404.5 2082V2102M2405.6 2085V2101M2406.8 2090V2100M2407.9 2091V2100M2409.1 2092V2101M2410.2 2093V2101M2411.4 2093V2105M2412.5 2094V2101M2413.7 2093V2100M2414.8 2092V2100M2416.0 2090V2100M2417.1 2087V2099M2418.3 2083V2098M2419.4 2087V2096M2420.6 2085V2095M2421.7 2085V2094M2422.9 2081V2092M2424.0 2081V2093M2425.2 2064V2090M2426.3 2068V2090M2427.5 2073V2089M2428.6 2074V2088M2429.8 2075V2089M2430.9 2077V2087M2432.1 2075V2087M2433.2 2074V2087M2434.3 2073V2087M2435.5 2072V2086M2436.6 2071V2086M2437.8 2062V2085M2438.9 2070V2086M2440.1 2070V2085M2441.2 2075V2085M2442.4 2071V2085M2443.5 2075V2085M2444.7 2072V2085M2445.8 2068V2084M2447.0 2072V2083M2448.1 2063V2083M2449.3 2060V2082M2450.4 2062V2083M2451.6 2049V2083M2452.7 2040V2080M2453.9 2049V2081M2455.0 2055V2081M2456.2 2060V2079M2457.3 2065V2082M2458.5 2064V2081M2459.6 2056V2081M2460.8 2061V2078M2461.9 2065V2082M2463.1 2066V2081M2464.2 2067V2079M2465.4 2066V2083M2466.5 2070V2082M2467.7 2069V2083M2468.8 2067V2081M2470.0 2064V2084M2471.1 2063V2082M2472.3 2066V2083M2473.4 2059V2086M2474.6 2051V2081M2475.7 2043V2081M2476.9 2044V2076M2478.0 2046V2080M2479.1 2050V2077M2480.3 2042V2075M2481.4 2039V2075M2482.6 2053V2074M2483.7 2058V2077M2484.9 2057V2076M2486.0 2050V2074M2487.2 2037V2076M2488.3 2038V2075M2489.5 2025V2074M2490.6 2046V2075M2491.8 2043V2073M2492.9 2037V2070M2494.1 2045V2068M2495.2 2055V2072M2496.4 2054V2071M2497.5 2056V2073M2498.7 2052V2070M2499.8 2053V2070M2501.0 2053V2072M2502.1 2049V2073M2503.3 2048V2072M2504.4 2046V2070M2505.6 2046V2072M2506.7 2050V2072M2507.9 2042V2070M2509.0 2052V2069M2510.2 2055V2070M2511.3 2054V2070M2512.5 2054V2067M2513.6 2052V2067M2514.8 2048V2065M2515.9 2046V2068M2517.1 2047V2068M2518.2 2031V2068M2519.4 2041V2068M2520.5 2044V2066M2521.7 2043V2064M2522.8 2042V2068M2523.9 2049V2070M2525.1 2039V2071M2526.2 2051V2071M2527.4 2055V2071M2528.5 2057V2070M2529.7 2063V2071M2530.8 2062V2073M2532.0 2064V2072M2533.1 2065V2073M2534.3 2066V2076M2535.4 2067V2077M2536.6 2065V2078M2537.7 2065V2078M2538.9 2064V2076M2540.0 2063V2079M2541.2 2059V2077M2542.3 2054V2077M2543.5 2036V2075M2544.6 2044V2078M2545.8 2055V2081M2546.9 2057V2081M2548.1 2064V2083M2549.2 2067V2083M2550.4 2074V2086M2551.5 2075V2087M2552.7 2076V2084M2553.8 2077V2085M2555.0 2075V2084M2556.1 2074V2085M2557.3 2075V2087M2558.4 2072V2085M2559.6 2074V2085M2560.7 2076V2087M2561.9 2076V2088M2563.0 2078V2086M2564.2 2079V2088M2565.3 2079V2086M2566.4 2079V2087M2567.6 2079V2089M2568.7 2078V2089M2569.9 2079V2086M2571.0 2079V2088M2572.2 2079V2088M2573.3 2079V2087M2574.5 2080V2089M2575.6 2082V2089M2576.8 2083V2090M2577.9 2084V2091M2579.1 2084V2091M2580.2 2085V2092M2581.4 2085V2092M2582.5 2084V2091M2583.7 2085V2092M2584.8 2085V2093M2586.0 2086V2094M2587.1 2085V2094M2588.3 2086V2094M2589.4 2086V2095M2590.6 2088V2095M2591.7 2088V2095M2592.9 2090V2097M2594.0 2091V2098M2595.2 2090V2098M2596.3 1996V2098M2597.5 2092V2099M2598.6 2094V2101M2599.8 2092V2099M2600.9 2093V2101M2602.1 2094V2101M2603.2 2094V2101M2604.4 2094V2101M2605.5 2094V2102M2606.7 2095V2102M2607.8 2097V2104M2609.0 2097V2104M2610.1 2097V2104M2611.2 2099V2106M2612.4 2099V2106M2613.5 2100V2109M2614.7 2098V2109M2615.8 2103V2110M2617.0 2103V2110M2618.1 2104V2111M2619.3 2103V2110M2620.4 2103V2110M2621.6 2105V2112M2622.7 2105V2112M2623.9 2105V2112M2625.0 2106V2113M2626.2 2106V2113M2627.3 2106V2113M2628.5 2107V2114M2629.6 2106V2113M2630.8 2106V2113M2631.9 2107V2114M2633.1 2108V2115M2634.2 2108V2115M2635.4 2108V2115M2636.5 2108V2115M2637.7 2108V2116M2638.8 2109V2116M2640.0 2109V2116M2641.1 2110V2117M2642.3 2110V2117M2643.4 2110V2117M2644.6 2111V2118M2645.7 2111V2118M2646.9 2110V2117M2648.0 2111V2118M2649.2 2112V2119M2650.3 2112V2119M2651.5 2111V2118M2652.6 2112V2119M2653.8 2113V2120M2654.9 2113V2120M2656.0 2113V2120M2657.2 2082V2121M2658.3 2023V2121M2659.5 2113V2120M2660.6 2114V2121M2661.8 2114V2121M2662.9 2113V2120M2664.1 2115V2122M2665.2 2114V2121M2666.4 2114V2121M2667.5 2115V2122M2668.7 2115V2122M2669.8 2115V2122M2671.0 2115V2122M2672.1 2114V2121M2673.3 2115V2122M2674.4 2117V2124M2675.6 2117V2124M2676.7 2116V2123M2677.9 2117V2124M2679.0 2119V2126M2680.2 2119V2127M2681.3 2120V2127M2682.5 2120V2130M2683.6 2120V2129M2684.8 2120V2130M2685.9 2123V2131M2687.1 2122V2131M2688.2 2120V2132M2689.4 2121V2133M2690.5 2122V2133M2691.7 2125V2138M2692.8 2124V2136M2694.0 2124V2139M2695.1 2125V2140M2696.3 2125V2141M2697.4 2125V2140M2698.5 2126V2141M2699.7 2126V2138M2700.8 2127V2139M2702.0 2130V2142M2703.1 2133V2142M2704.3 2135V2145M2705.4 2135V2144M2706.6 2136V2146M2707.7 2136V2146M2708.9 2137V2145M2710.0 2138V2148M2711.2 2138V2147M2712.3 2136V2145M2713.5 2135V2144M2714.6 2132V2144M2715.8 2131V2142M2716.9 2130V2139M2718.1 2126V2140M2719.2 2122V2132M2720.4 2121V2133M2721.5 2118V2132M2722.7 2115V2128M2723.8 2115V2130M2725.0 2116V2128M2726.1 2114V2123M2727.3 2115V2125M2728.4 2115V2123M2729.6 2115V2122M2730.7 2115V2122M2731.9 2115V2122M2733.0 2115V2124M2734.2 2116V2123M2735.3 2116V2124M2736.5 2116V2124M2737.6 2115V2122M2738.8 2115V2122M2739.9 2116V2123M2741.1 2115V2123M2742.2 2116V2123M2743.3 2116V2123M2744.5 2116V2124M2745.6 2117V2124M2746.8 2117V2124M2747.9 2118V2125M2749.1 2118V2125M2750.2 2118V2125M2751.4 2120V2127M2752.5 2118V2125M2753.7 2118V2125M2754.8 2118V2125M2756.0 2117V2124M2757.1 2118V2125M2758.3 2118V2125M2759.4 2118V2125M2760.6 2117V2124M2761.7 2116V2123M2762.9 2116V2123M2764.0 2115V2122M2765.2 2115V2122M2766.3 2116V2123M2767.5 2114V2122M2768.6 2116V2123M2769.8 2114V2122M2770.9 2115V2122M2772.1 2116V2123M2773.2 2114V2123M2774.4 2115V2122M2775.5 2116V2123M2776.7 2114V2121M2777.8 2114V2122M2779.0 2115V2122M2780.1 2114V2121M2781.3 2114V2121M2782.4 2112V2119M2783.6 2111V2120M2784.7 2107V2118M2785.9 2106V2117M2787.0 2101V2117M2788.1 2106V2116M2789.3 2105V2116M2790.4 2100V2114M2791.6 2103V2114M2792.7 2099V2114M2793.9 2103V2112M2795.0 2099V2110M2796.2 2094V2110M2797.3 2090V2112M2798.5 1872V2110M2799.6 2099V2109M2800.8 2102V2111M2801.9 2102V2110M2803.1 2101V2110M2804.2 2102V2110M2805.4 2103V2110M2806.5 2102V2110M2807.7 2102V2110M2808.8 2101V2109M2810.0 2098V2108M2811.1 2099V2107M2812.3 2097V2106M2813.4 2092V2105M2814.6 2087V2104M2815.7 2086V2103M2816.9 2077V2105M2818.0 2088V2102M2819.2 2093V2102M2820.3 2094V2104M2821.5 2094V2105M2822.6 2095V2105M2823.8 2095V2104M2824.9 2097V2105M2826.1 2093V2103M2827.2 2093V2101M2828.4 2090V2098M2829.5 2087V2097M2830.7 2087V2096M2831.8 2081V2097M2832.9 2077V2097M2834.1 2077V2092M2835.2 2070V2092M2836.4 2057V2090M2837.5 2065V2094M2838.7 2068V2094M2839.8 2072V2094M2841.0 2076V2093M2842.1 2079V2091M2843.3 2075V2090M2844.4 2071V2090M2845.6 2068V2091M2846.7 2075V2090M2847.9 2075V2094M2849.0 2069V2091M2850.2 2066V2094M2851.3 2070V2093M2852.5 2078V2094M2853.6 2080V2092M2854.8 2078V2094M2855.9 2076V2096M2857.1 2079V2094M2858.2 2069V2093M2859.4 2063V2092M2860.5 2058V2091M2861.7 2052V2088M2862.8 2063V2087M2864.0 2060V2084M2865.1 2060V2083M2866.3 2063V2081M2867.4 2061V2081M2868.6 2052V2077M2869.7 2043V2079M2870.9 2053V2078M2872.0 2054V2075M2873.2 2061V2077M2874.3 2059V2078M2875.4 2060V2080M2876.6 2060V2080M2877.7 2068V2080M2878.9 2058V2080M2880.0 2056V2082M2881.2 2065V2084M2882.3 2062V2083M2883.5 2046V2082M2884.6 2019V2081M2885.8 2042V2080M2886.9 2052V2082M2888.1 2062V2083M2889.2 2064V2081M2890.4 2066V2086M2891.5 2062V2089M2892.7 2065V2085M2893.8 2067V2083M2895.0 2064V2085M2896.1 2060V2083M2897.3 2064V2084M2898.4 2059V2083M2899.6 2054V2080M2900.7 2046V2079M2901.9 2069V2081" stroke="#C7E9C0" stroke-width="1.9" fill="none" shape-rendering="crispEdges"/>
<marker id="mo50" markerWidth="10" markerHeight="10" refX="5" refY="5" markerUnits="userSpaceOnUse"><circle cx="5" cy="5" r="2.50" fill="#F7941D"/></marker>
<path d="M331.3 547.8L332.5 550.1L333.6 540.3L334.8 532.0M339.8 498.5L341.0 496.7L342.1 493.0L343.3 493.0L344.4 489.6L345.6 490.0L346.7 488.3L347.9 480.8L349.0 479.1L350.2 470.7L351.3 464.5L352.5 470.2L353.6 474.4L354.8 483.6L355.9 488.5L357.1 495.3L358.2 510.5L359.4 515.0L360.5 519.5L361.7 531.4L362.8 529.7L364.0 526.6L365.1 526.2L366.3 525.4L367.4 521.2L368.6 512.4L369.7 513.5L370.9 511.2L372.0 500.4L373.2 495.6L374.3 486.9L375.5 485.8L376.6 487.0L377.8 489.6L378.9 483.4L380.1 479.7L381.2 477.3L382.3 477.6L383.5 469.9L384.6 464.6L385.8 456.8L386.9 458.8L388.1 474.7L389.2 463.1L390.4 461.0L391.5 452.7L392.7 449.3L393.8 450.4L395.0 454.7L396.1 468.9L397.3 468.7L398.4 467.8L399.6 470.4L400.7 465.8L401.9 462.7L403.0 458.1L404.2 455.6L405.3 461.8L406.5 458.3L407.6 466.7L408.8 471.1L409.9 471.7L411.1 462.8L412.2 435.9L413.4 412.4L414.5 367.3L415.7 364.4L416.8 358.9L418.0 386.7L419.1 409.0L420.3 430.6L421.4 441.8L422.6 459.2L423.7 468.7L424.9 455.9L426.0 437.7L427.1 409.0L428.3 403.7L429.4 393.5L430.6 416.3L431.7 438.9L432.9 421.6L434.0 403.1L435.2 424.3L436.3 435.9L437.5 428.5L438.6 418.0L439.8 443.7L440.9 462.7L442.1 449.9L443.2 444.8L444.4 437.3L445.5 426.5L446.7 423.9L447.8 425.5L449.0 435.9L450.1 436.1L451.3 438.0L452.4 444.8L453.6 469.1L454.7 498.5L455.9 533.7L457.0 498.5L458.2 506.7L459.3 503.0L460.5 499.2L461.6 492.6M684.9 585.7L686.0 583.9L687.2 574.9L688.3 567.2L689.5 561.1L690.6 558.4L691.8 543.3L692.9 536.1L694.1 525.4L695.2 512.1L696.4 492.6L697.5 489.5L698.7 476.2L699.8 471.1L701.0 471.2L702.1 467.9L703.3 472.3L704.4 475.3L705.6 475.6L706.7 477.6L707.9 493.7L709.0 498.5L710.2 515.9L711.3 540.3L712.5 538.8L713.6 532.2L714.8 525.4L715.9 518.9L717.1 507.5L718.2 522.2L719.4 531.4L720.5 526.7L721.7 516.4L722.8 516.3L724.0 514.5L725.1 519.8L726.3 519.4L727.4 525.9L728.6 529.9L729.7 522.3L730.8 514.4L732.0 508.6L733.1 510.5L734.3 495.5L735.4 497.0L736.6 500.0L737.7 510.7L738.9 513.5L740.0 507.9L741.2 501.9L742.3 497.0L743.5 503.4L744.6 508.0L745.8 520.9L746.9 515.8L748.1 515.5L749.2 509.8L750.4 510.5L751.5 507.8L752.7 502.5L753.8 506.0L755.0 504.3L756.1 506.5L757.3 515.4L758.4 517.9L759.6 506.0L760.7 496.2L761.9 489.2L763.0 495.6L764.2 508.7L765.3 517.5L766.5 522.4L767.6 528.1L768.8 521.4L769.9 522.3L771.1 517.9L772.2 511.9L773.4 502.5L774.5 489.6L775.6 489.8L776.8 482.1L777.9 472.7L779.1 463.3L780.2 470.6L781.4 479.3L782.5 498.5L783.7 508.5L784.8 522.0L786.0 528.4L787.1 542.9L788.3 555.2L789.4 538.7L790.6 522.4L791.7 510.3L792.9 502.3L794.0 492.6L795.2 481.0L796.3 473.5L797.5 462.7L798.6 458.3L799.8 460.3L800.9 456.8L802.1 442.6L803.2 410.5L804.4 417.7L805.5 438.9L806.7 438.9L807.8 437.7L809.0 437.2L810.1 444.8L811.3 451.5L812.4 456.9L813.6 468.7L814.7 465.8L815.9 464.2L817.0 460.2L818.1 456.8L819.3 454.5L820.4 454.7L821.6 456.8L822.7 455.5L823.9 454.2L825.0 451.7L826.2 449.3L827.3 452.3L828.5 454.2L829.6 452.3L830.8 453.8L831.9 391.1L833.1 349.6L834.2 334.4L835.4 345.4L836.5 367.3L837.7 378.1L838.8 404.0L840.0 415.0L841.1 447.8L842.3 448.2L843.4 460.6L844.6 464.2L845.7 468.5L846.9 466.2L848.0 450.8L849.2 440.7L850.3 426.9L851.5 333.8M857.4 353.5h0M932.5 467.2L933.7 461.6L934.8 459.4L936.0 459.8L937.1 460.9L938.3 459.2L939.4 460.8L940.6 465.2L941.7 477.2L942.9 472.8L944.0 483.6L945.2 478.8L946.3 478.1L947.5 475.1L948.6 468.7L949.8 465.1L950.9 470.1L952.1 464.3L953.2 465.7L954.4 469.3L955.5 469.9L956.7 474.0L957.8 474.7L959.0 473.2L960.1 476.2L961.3 470.8L962.4 466.3L963.6 469.0L964.7 466.7L965.9 471.7L967.0 471.8L968.2 470.3L969.3 472.9L970.5 462.4L971.6 467.2L972.8 467.8L973.9 472.0L975.1 474.7L976.2 478.4L977.3 483.8L978.5 476.5L979.6 474.7L980.8 473.2L981.9 478.0L983.1 478.2L984.2 479.3L985.4 479.7L986.5 480.8L987.7 479.1L988.8 478.2L990.0 477.6L991.1 481.3L992.3 480.5L993.4 480.1L994.6 478.1L995.7 482.1L996.9 480.6L998.0 483.0L999.2 487.2L1000.3 486.7L1001.5 484.9L1002.6 490.0L1003.8 489.7L1004.9 492.6L1006.1 489.7L1007.2 487.1L1008.4 489.2L1009.5 494.2L1010.7 498.5L1011.8 498.3L1013.0 496.7L1014.1 499.6L1015.3 498.7L1016.4 492.6L1017.6 495.4L1018.7 492.1L1019.9 492.9L1021.0 489.0L1022.1 488.1L1023.3 486.5L1024.4 495.6L1025.6 497.0L1026.7 500.9L1027.9 502.6L1029.0 503.5L1030.2 502.3L1031.3 501.5L1032.5 506.6L1033.6 511.0L1034.8 510.9L1035.9 507.4L1037.1 508.2L1038.2 509.3L1039.4 510.5L1040.5 506.5L1041.7 501.9L1042.8 504.1L1044.0 503.0L1045.1 500.5L1046.3 500.3L1047.4 492.6L1048.6 498.3L1049.7 512.0L1050.9 506.5L1052.0 511.2L1053.2 505.1L1054.3 503.0L1055.5 497.6L1056.6 493.3L1057.8 486.6L1058.9 486.6L1060.1 486.5L1061.2 482.1M1124.7 510.5L1125.9 502.1L1127.0 502.0L1128.1 500.0L1129.3 499.3L1130.4 501.0L1131.6 498.5L1132.7 513.8L1133.9 524.5L1135.0 517.9L1136.2 514.8L1137.3 520.5L1138.5 519.4L1139.6 523.6L1140.8 513.9L1141.9 509.2L1143.1 504.5L1144.2 501.3L1145.4 499.5L1146.5 499.5L1147.7 500.0L1148.8 495.1L1150.0 497.8L1151.1 495.2L1152.3 495.6L1153.4 506.9L1154.6 515.8L1155.7 526.9L1156.9 521.2L1158.0 514.5L1159.2 510.5L1160.3 515.0L1161.5 521.9L1162.6 523.9L1163.8 518.0L1164.9 509.0L1166.1 504.5L1167.2 497.5L1168.4 498.8L1169.5 496.1L1170.6 495.6L1171.8 498.6L1172.9 506.0M1207.6 479.1L1208.8 474.2L1209.9 470.3L1211.1 474.2L1212.2 468.7L1213.4 476.5L1214.5 478.2L1215.7 477.6L1216.8 476.4L1218.0 472.4L1219.1 468.7L1220.3 474.7L1221.4 486.0L1222.6 482.5L1223.7 476.4L1224.9 473.6L1226.0 474.7L1227.2 463.2L1228.3 459.7L1229.5 444.8L1230.6 445.4L1231.8 445.9L1232.9 443.8L1234.1 438.9L1235.2 435.2L1236.4 423.4L1237.5 409.6L1238.7 412.6L1239.8 420.5L1241.0 421.0L1242.1 455.3L1243.3 452.5L1244.4 438.9L1245.6 425.8L1246.7 404.2L1247.9 393.5L1249.0 426.9L1250.2 430.7L1251.3 441.2L1252.4 458.3L1253.6 457.5L1254.7 462.4L1255.9 455.3L1257.0 468.7L1258.2 451.8L1259.3 435.9L1260.5 374.7L1261.6 359.4L1262.8 350.8L1263.9 377.6L1265.1 403.1L1266.2 415.7L1267.4 421.0L1268.5 428.3L1269.7 437.3L1270.8 438.9L1272.0 448.2L1273.1 450.8L1274.3 444.4L1275.4 451.5L1276.6 451.7L1277.7 452.3L1278.9 471.4L1280.0 477.6L1281.2 497.0L1282.3 486.5L1283.5 461.2L1284.6 467.9L1285.8 477.6L1286.9 472.1L1288.1 468.7L1289.2 464.4L1290.4 466.1L1291.5 465.7L1292.7 461.3L1293.8 456.1L1295.0 456.8L1296.1 460.1L1297.2 468.7L1298.4 467.1L1299.5 470.8L1300.7 480.6L1301.8 470.5L1303.0 468.7L1304.1 465.3L1305.3 460.3L1306.4 464.2L1307.6 468.7L1308.7 472.3L1309.9 473.2L1311.0 488.8L1312.2 499.1L1313.3 494.1L1314.5 490.4L1315.6 484.2L1316.8 483.6L1317.9 482.5L1319.1 481.4L1320.2 482.1L1321.4 480.6L1322.5 475.5L1323.7 468.7L1324.8 466.5L1326.0 470.3L1327.1 467.3L1328.3 468.7L1329.4 459.0L1330.6 454.5L1331.7 451.4L1332.9 458.7L1334.0 461.2L1335.2 460.0L1336.3 458.3M1430.8 487.2L1432.0 487.0L1433.1 488.4L1434.3 489.1L1435.4 489.6L1436.6 488.5L1437.7 489.8L1438.9 490.2L1440.0 492.6L1441.2 488.0L1442.3 482.1L1443.5 484.3L1444.6 483.3L1445.8 485.1L1446.9 485.1L1448.1 483.1L1449.2 480.7L1450.4 479.9L1451.5 474.7L1452.7 480.0L1453.8 479.4L1455.0 483.6L1456.1 454.4L1457.3 489.6L1458.4 493.1L1459.5 497.2L1460.7 498.5L1461.8 508.6L1463.0 523.3L1464.1 537.3L1465.3 536.0L1466.4 541.6L1467.6 537.3L1468.7 528.3L1469.9 510.5L1471.0 500.6L1472.2 495.7L1473.3 492.6L1474.5 490.5L1475.6 490.9L1476.8 487.2M1537.6 502.1L1538.8 519.8L1539.9 528.4L1541.1 557.6L1542.2 542.2L1543.3 525.4L1544.5 515.2L1545.6 516.4L1546.8 529.1L1547.9 543.3L1549.1 526.3L1550.2 516.4L1551.4 513.1L1552.5 509.0L1553.7 516.3L1554.8 519.4L1556.0 517.6L1557.1 510.6L1558.3 502.1L1559.4 513.0L1560.6 516.1L1561.7 516.4L1562.9 513.0L1564.0 520.9L1565.2 514.2L1566.3 510.8L1567.5 506.9L1568.6 504.5L1569.8 504.4L1570.9 508.1L1572.1 516.4L1573.2 526.9L1574.4 529.9L1575.5 519.6L1576.7 515.8L1577.8 513.5L1579.0 512.4L1580.1 513.7L1581.3 510.3L1582.4 503.9L1583.6 512.0L1584.7 514.1L1585.8 511.0L1587.0 509.0L1588.1 497.0L1589.3 520.9L1590.4 530.8L1591.6 530.8L1592.7 522.7L1593.9 517.9L1595.0 515.7L1596.2 515.1L1597.3 516.5L1598.5 514.9L1599.6 508.9L1600.8 508.2L1601.9 509.0L1603.1 515.2L1604.2 522.4L1605.4 523.5L1606.5 515.7L1607.7 518.8L1608.8 509.0L1610.0 507.5L1611.1 499.9L1612.3 492.6L1613.4 494.9L1614.6 502.7L1615.7 503.6L1616.9 504.5L1618.0 503.6L1619.2 500.8L1620.3 498.5L1621.5 495.3L1622.6 497.5L1623.8 492.6L1624.9 487.6L1626.1 481.9L1627.2 483.6L1628.4 476.5L1629.5 478.9L1630.6 477.6L1631.8 486.2L1632.9 485.1M1648.9 470.2L1650.1 463.5L1651.2 454.0L1652.4 450.8L1653.5 440.4L1654.7 438.9L1655.8 442.1L1657.0 456.8L1658.1 454.1L1659.3 461.9L1660.4 466.7L1661.6 468.7L1662.7 442.5L1663.9 403.1L1665.0 402.8L1666.2 401.6L1667.3 438.9L1668.5 446.8L1669.6 465.7L1670.8 467.4L1671.9 467.8L1673.1 465.4L1674.2 459.7L1675.4 471.5L1676.5 474.5L1677.7 476.2L1678.8 472.5L1680.0 466.8L1681.1 456.8L1682.3 444.0L1683.4 439.3L1684.6 438.9L1685.7 431.4L1686.8 432.9L1688.0 405.1L1689.1 367.3L1690.3 387.6L1691.4 403.1L1692.6 473.2L1693.7 472.8L1694.9 463.0L1696.0 459.7L1697.2 450.5L1698.3 448.2L1699.5 447.8L1700.6 440.9L1701.8 432.9L1702.9 412.6L1704.1 403.1L1705.2 402.0L1706.4 394.1L1707.5 400.9L1708.7 421.0L1709.8 423.2L1711.0 423.9L1712.1 436.7L1713.3 450.8L1714.4 461.5L1715.6 474.7L1716.7 476.1L1717.9 476.9L1719.0 483.0L1720.2 482.1L1721.3 486.4L1722.5 492.6L1723.6 490.4L1724.8 491.6L1725.9 498.5L1727.1 511.7L1728.2 523.9L1729.4 531.4M1733.4 502.4h0M1801.4 463.3L1802.6 470.9L1803.7 473.2L1804.9 468.7L1806.0 476.7L1807.2 480.8L1808.3 487.3L1809.5 486.6L1810.6 487.2L1811.7 484.8L1812.9 487.2L1814.0 482.4L1815.2 474.8L1816.3 465.1L1817.5 461.2L1818.6 474.6L1819.8 471.7L1820.9 468.9L1822.1 472.1L1823.2 470.0L1824.4 465.7L1825.5 468.4L1826.7 466.6L1827.8 467.0L1829.0 462.7L1830.1 463.1L1831.3 468.7L1832.4 465.0L1833.6 463.9L1834.7 460.3L1835.9 459.0L1837.0 463.7L1838.2 460.4L1839.3 461.2L1840.5 470.2L1841.6 470.4L1842.8 470.5L1843.9 475.4L1845.1 475.8L1846.2 473.2L1847.4 470.5L1848.5 467.7L1849.7 467.8L1850.8 468.2L1852.0 470.0L1853.1 470.2L1854.3 469.3L1855.4 471.6L1856.5 471.4L1857.7 472.6L1858.8 482.1L1860.0 482.8L1861.1 485.1L1862.3 483.1L1863.4 486.1L1864.6 486.6L1865.7 494.1L1866.9 489.7L1868.0 492.2L1869.2 488.5L1870.3 494.1L1871.5 494.3L1872.6 502.1L1873.8 499.6L1874.9 495.6L1876.1 489.3L1877.2 496.1L1878.4 494.6L1879.5 494.4L1880.7 491.1L1881.8 498.6L1883.0 513.5L1884.1 514.8L1885.3 517.0L1886.4 517.0L1887.6 514.6L1888.7 516.0L1889.9 512.0L1891.0 512.3L1892.2 509.9L1893.3 508.9L1894.5 509.0L1895.6 501.8L1896.8 503.3L1897.9 505.4L1899.0 500.0L1900.2 506.9L1901.3 511.7L1902.5 512.0L1903.6 508.7L1904.8 508.9L1905.9 498.8L1907.1 501.5L1908.2 507.5L1909.4 505.9L1910.5 519.4L1911.7 519.4L1912.8 521.4L1914.0 525.4L1915.1 521.3L1916.3 522.8L1917.4 519.4L1918.6 531.9L1919.7 533.7L1920.9 546.3L1922.0 535.6L1923.2 528.4L1924.3 525.5L1925.5 530.9L1926.6 543.3L1927.8 549.5L1928.9 552.2L1930.1 564.2L1931.2 570.1L1932.4 556.9L1933.5 537.3L1934.7 503.0L1935.8 483.6L1937.0 482.5L1938.1 480.6L1939.3 483.2L1940.4 498.5L1941.6 507.9L1942.7 517.9M1962.5 517.9L1963.7 516.9L1964.8 517.6L1966.0 513.5L1967.1 528.4L1968.3 530.5L1969.4 534.3L1970.6 524.7L1971.7 517.9L1972.9 520.4L1974.0 523.4L1975.2 526.4L1976.3 528.4L1977.5 525.9L1978.6 524.2L1979.8 524.1L1980.9 517.0L1982.1 529.7L1983.2 529.7L1984.4 534.3L1985.5 540.1L1986.7 542.7L1987.8 541.9L1989.0 544.1L1990.1 542.7L1991.2 537.3L1992.4 536.3L1993.5 538.4L1994.7 532.8L1995.8 522.3L1997.0 516.4L1998.1 517.4L1999.3 510.5L2000.4 521.8L2001.6 525.4L2002.7 517.9L2003.9 511.0L2005.0 504.5L2006.2 501.6L2007.3 497.0M2090.8 498.0L2092.0 497.0L2093.1 468.7L2094.3 463.2L2095.4 453.8L2096.6 454.7L2097.7 457.1L2098.9 465.7L2100.0 473.4L2101.2 492.6L2102.3 503.7L2103.5 529.9L2104.6 526.3L2105.8 512.4L2106.9 501.5L2108.1 507.8L2109.2 510.5L2110.4 490.6L2111.5 459.7L2112.7 463.6L2113.8 467.3L2115.0 468.7L2116.1 455.7L2117.3 450.8L2118.4 432.9L2119.5 446.0L2120.7 498.5L2121.8 498.7L2123.0 502.9L2124.1 510.5L2125.3 511.3L2126.4 500.5L2127.6 500.0L2128.7 477.1L2129.9 444.8L2131.0 454.8L2132.2 462.7L2133.3 460.3L2134.5 452.3L2135.6 466.5L2136.8 472.2L2137.9 474.7L2139.1 477.1L2140.2 478.7L2141.4 477.2L2142.5 476.2L2143.7 473.8L2144.8 469.8L2146.0 473.2L2147.1 415.0L2148.3 438.9L2149.4 392.6L2150.6 416.5L2151.7 453.8L2152.9 455.0L2154.0 453.7L2155.2 449.3L2156.3 416.5L2157.5 422.5L2158.6 430.2L2159.8 438.9L2160.9 418.2L2162.1 407.5L2163.2 428.1L2164.3 444.8L2165.5 449.8L2166.6 455.5L2167.8 459.7L2168.9 452.6L2170.1 435.9L2171.2 439.3L2172.4 438.5L2173.5 435.9L2174.7 422.1L2175.8 413.3L2177.0 404.5L2178.1 382.2L2179.3 381.8L2180.4 376.2L2181.6 392.6L2182.7 413.8L2183.9 423.9L2185.0 422.1L2186.2 427.3L2187.3 425.4L2188.5 437.9L2189.6 441.8L2190.8 427.5L2191.9 407.5L2193.1 409.7L2194.2 413.8L2195.4 419.5L2196.5 429.0L2197.7 444.3L2198.8 450.8L2200.0 456.8L2201.1 457.9L2202.3 457.3L2203.4 454.1L2204.6 450.8L2205.7 429.8L2206.9 411.5L2208.0 393.5L2209.1 445.4L2210.3 439.7L2211.4 423.9L2212.6 403.5L2213.7 381.6L2214.9 415.0L2216.0 428.3L2217.2 442.4L2218.3 433.8L2219.5 427.8L2220.6 421.2L2221.8 418.6L2222.9 442.4L2224.1 440.1L2225.2 431.4L2226.4 423.9L2227.5 418.0L2228.7 428.0L2229.8 426.9L2231.0 433.7L2232.1 449.3L2233.3 438.8L2234.4 439.5L2235.6 441.5L2236.7 441.8L2237.9 451.0L2239.0 455.3L2240.2 463.3L2241.3 459.4L2242.5 461.5L2243.6 453.8L2244.8 450.8L2245.9 450.7L2247.1 459.5L2248.2 461.2L2249.4 461.7L2250.5 465.7L2251.6 467.2L2252.8 474.4L2253.9 479.1L2255.1 482.7L2256.2 483.0M2329.2 475.3L2330.4 469.7L2331.5 465.7L2332.7 450.8L2333.8 466.0L2335.0 486.6L2336.1 490.7L2337.3 504.5L2338.4 499.8L2339.6 499.1L2340.7 500.0L2341.9 463.5L2343.0 418.0L2344.2 411.3L2345.3 403.1L2346.5 423.9L2347.6 364.9L2348.8 384.4L2349.9 403.1L2351.1 409.0L2352.2 459.7L2353.4 465.1L2354.5 477.6L2355.7 514.9L2356.8 499.9L2357.9 492.6L2359.1 490.8L2360.2 493.2L2361.4 495.6L2362.5 497.3L2363.7 510.5L2364.8 513.0L2366.0 506.9L2367.1 513.5L2368.3 519.0L2369.4 526.2L2370.6 542.7L2371.7 537.6L2372.9 531.6L2374.0 528.4L2375.2 520.0L2376.3 512.9L2377.5 512.0L2378.6 520.0L2379.8 531.4L2380.9 529.0L2382.1 527.8L2383.2 521.8L2384.4 538.5L2385.5 544.8L2386.7 543.8L2387.8 541.9L2389.0 541.3L2390.1 543.3L2391.3 549.0L2392.4 556.7L2393.6 551.9L2394.7 545.7L2395.9 540.3L2397.0 537.9L2398.2 534.3L2399.3 547.6L2400.5 563.6L2401.6 567.2L2402.7 559.7L2403.9 556.8L2405.0 558.2L2406.2 542.3L2407.3 516.4L2408.5 510.9L2409.6 500.0L2410.8 497.5L2411.9 493.7L2413.1 489.6L2414.2 456.8L2415.4 438.9L2416.5 408.4L2417.7 510.5L2418.8 497.4L2420.0 498.5L2421.1 507.6L2422.3 504.5M2483.8 493.2L2484.9 486.5L2486.1 491.2L2487.2 477.6L2488.4 492.6L2489.5 497.5L2490.7 510.5L2491.8 504.8L2493.0 499.8L2494.1 492.6L2495.3 489.2L2496.4 502.4L2497.6 503.0L2498.7 495.7L2499.9 483.6L2501.0 481.3L2502.2 479.1L2503.3 474.7L2504.5 470.2L2505.6 469.6L2506.8 464.5L2507.9 476.2L2509.1 477.9L2510.2 482.7L2511.4 489.6L2512.5 490.3L2513.7 501.5L2514.8 507.8L2516.0 521.6L2517.1 528.4L2518.2 498.5L2519.4 493.1L2520.5 488.8L2521.7 484.5L2522.8 480.6L2524.0 478.5L2525.1 475.1L2526.3 475.3L2527.4 470.3L2528.6 461.2L2529.7 453.5L2530.9 449.1L2532.0 435.9L2533.2 434.9L2534.3 438.4L2535.5 432.9L2536.6 419.5L2537.8 412.5L2538.9 410.5L2540.1 421.4L2541.2 426.9L2542.4 468.7L2543.5 495.6L2544.7 489.1L2545.8 484.6L2547.0 483.6L2548.1 472.6L2549.3 456.8L2550.4 445.0L2551.6 438.9L2552.7 426.1L2553.9 412.0L2555.0 404.5L2556.2 432.9L2557.3 462.7L2558.5 463.2L2559.6 459.1L2560.8 453.5L2561.9 453.8L2563.0 455.8L2564.2 457.7L2565.3 459.7L2566.5 452.5L2567.6 445.3L2568.8 446.4L2569.9 442.4L2571.1 447.6L2572.2 456.8L2573.4 462.9L2574.5 464.5L2575.7 473.2L2576.8 431.4L2578.0 429.1L2579.1 435.5L2580.3 438.9L2581.4 452.3L2582.6 448.3L2583.7 446.7L2584.9 444.3L2586.0 438.9L2587.2 458.0L2588.3 461.2L2589.5 464.7L2590.6 462.7L2591.8 450.9L2592.9 452.3L2594.1 455.8L2595.2 459.7L2596.4 456.6L2597.5 453.5L2598.7 443.3L2599.8 451.1L2601.0 449.7L2602.1 456.8L2603.3 457.3L2604.4 459.7L2605.6 461.2L2606.7 456.5L2607.8 458.9L2609.0 444.2M2614.7 455.6h0M2618.3 465.7L2619.5 458.0L2620.6 460.4L2621.8 458.3L2622.9 464.7L2624.1 465.5L2625.2 469.9L2626.4 465.7L2627.5 464.3L2628.6 456.8L2629.8 456.4L2630.9 458.3L2632.1 457.9L2633.2 460.0L2634.4 458.5L2635.5 459.7L2636.7 460.5L2637.8 458.1L2639.0 453.8L2640.1 454.8L2641.3 453.9L2642.4 451.6L2643.6 452.3L2644.7 452.8L2645.9 450.3L2647.0 447.8L2648.2 456.8L2649.3 458.8L2650.5 468.7L2651.6 465.6L2652.8 464.5L2653.9 468.7L2655.1 467.7L2656.2 472.3" stroke="#F7941D" stroke-width="3.30" fill="none" stroke-linejoin="round" stroke-linecap="round" marker-start="url(#mo50)" marker-mid="url(#mo50)" marker-end="url(#mo50)"/>
<marker id="mp50" markerWidth="10" markerHeight="10" refX="5" refY="5" markerUnits="userSpaceOnUse"><circle cx="5" cy="5" r="2.50" fill="#660066"/></marker>
<path d="M332.2 810.4L333.4 820.9L334.5 828.8L335.7 832.8L336.8 830.6L338.0 831.0L339.1 831.2L340.3 835.8L341.4 835.0L342.6 839.3L343.7 842.2L344.9 841.8L346.0 847.8L347.2 845.1L348.3 847.7L349.5 847.7L350.6 846.2L351.8 853.7L352.9 846.6L354.0 845.8L355.2 838.8L356.3 837.8L357.5 832.8L358.6 844.4L359.8 844.7L360.9 840.3L362.1 837.3L363.2 840.5L364.4 844.7L365.5 844.4L366.7 846.2L367.8 848.8L369.0 851.4L370.1 859.7L371.3 863.8L372.4 867.9L373.6 873.6L374.7 877.6L375.9 883.2L377.0 885.8L378.2 890.9L379.3 891.0L380.5 890.6L381.6 883.5L382.8 876.7L383.9 859.7L385.1 859.3L386.2 858.8L387.4 860.9L388.5 858.2L389.7 857.0L390.8 857.3L392.0 863.5L393.1 873.1L394.3 869.4L395.4 863.5L396.6 859.1L397.7 862.7L398.8 860.0L400.0 860.9L401.1 862.6L402.3 864.0L403.4 863.2L404.6 864.1L405.7 865.6L406.9 864.2L408.0 864.1L409.2 863.0L410.3 859.7L411.5 865.8L412.6 871.9L413.8 874.6L414.9 895.5L416.1 902.0L417.2 905.9L418.4 889.7L419.5 880.6L420.7 866.3L421.8 862.6L423.0 862.4L424.1 864.3L425.3 859.7L426.4 865.6L427.6 871.0L428.7 894.0L429.9 888.2L431.0 877.6L432.2 878.6L433.3 874.9L434.5 875.6L435.6 874.6L436.8 869.6L437.9 866.5L439.1 865.6L440.2 850.7L441.4 857.4L442.5 862.6L443.6 876.7L444.8 892.5L445.9 878.7L447.1 868.6L448.2 868.1L449.4 862.6L450.5 864.1L451.7 862.4L452.8 860.7L454.0 859.7L455.1 812.5L456.3 822.2L457.4 835.8L458.6 834.3L459.7 838.3L460.9 841.8L462.0 849.7L463.2 857.2L464.3 867.5L465.5 876.1L466.6 867.8L467.8 850.7L468.9 843.5L470.1 838.2L471.2 831.3L472.4 831.4L473.5 833.5L474.7 832.8L475.8 838.4L477.0 837.0L478.1 836.5L479.3 838.8L480.4 838.3L481.6 840.3L482.7 848.0L483.9 846.9L485.0 847.7L486.2 840.5L487.3 837.5L488.4 831.8L489.6 828.3L490.7 824.7L491.9 829.4L493.0 828.2L494.2 825.1L495.3 831.3L496.5 834.4L497.6 838.6L498.8 839.8L499.9 841.8L501.1 845.2L502.2 845.6L503.4 847.9L504.5 850.7L505.7 851.4L506.8 852.2L508.0 854.9L509.1 853.7L510.3 847.9L511.4 838.2L512.6 840.3L513.7 850.2L514.9 856.1L516.0 850.6L517.2 841.8L518.3 833.7L519.5 830.0L520.6 827.4L521.8 829.8L522.9 827.8L524.1 817.9L525.2 837.3L526.4 837.1L527.5 832.1L528.7 820.9L529.8 820.2L530.9 811.9L532.1 813.7L533.2 811.4L534.4 810.4L535.5 815.1L536.7 817.9M540.2 834.3L541.3 841.1L542.5 845.2L543.6 849.2L544.8 847.4L545.9 843.3L547.1 842.2L548.2 840.9L549.4 841.0L550.5 846.2L551.7 843.2L552.8 840.9L554.0 837.3L555.1 831.7L556.3 829.8L557.4 829.3L558.6 827.4L559.7 822.7L560.9 821.0L562.0 819.4M570.0 812.5L571.2 810.2L572.3 810.5L573.5 810.4L574.6 804.3L575.8 803.4L576.9 798.5L578.1 793.9L579.2 797.1L580.4 794.1L581.5 794.5L582.7 795.4L583.8 793.4L585.0 793.8L586.1 796.2L587.3 796.3L588.4 796.3L589.6 794.0L590.7 796.2L591.9 793.1L593.0 795.1L594.1 796.5L595.3 793.4L596.4 796.0L597.6 794.7L598.7 793.7L599.9 795.8L601.0 794.0L602.2 795.5L603.3 795.3L604.5 791.8L605.6 789.0L606.8 794.0L607.9 794.2L609.1 792.3L610.2 791.0L611.4 785.3L612.5 786.7L613.7 789.5L614.8 783.8L616.0 784.0L617.1 786.7L618.3 786.5L619.4 788.1L620.6 783.8L621.7 789.1L622.9 787.8L624.0 790.6L625.2 791.0L626.3 808.9L627.5 867.1L628.6 794.0L629.8 787.1L630.9 787.5L632.1 853.7L633.2 932.8L634.4 978.4L635.5 937.2L636.7 879.1L637.8 823.9L638.9 785.1L640.1 785.2L641.2 794.0L642.4 813.4L643.5 786.6L644.7 783.4L645.8 785.1M651.2 761.2L652.3 756.4L653.5 753.6L654.6 751.7L655.8 757.0L656.9 810.4L658.1 823.9L659.2 831.1L660.4 852.8L661.5 794.0L662.7 779.1L663.8 801.5L665.0 811.9L666.1 826.8L667.3 823.2L668.4 817.4L669.6 811.9L670.7 809.5L671.9 811.6L673.0 817.9L674.2 817.2L675.3 814.4L676.5 817.9L677.6 800.0L678.8 782.1L679.9 752.3L681.1 752.1L682.2 754.2L683.3 758.5L684.5 761.2L685.6 772.0L686.8 775.8L687.9 778.5L689.1 788.8L690.2 796.7L691.4 803.0L692.5 806.5L693.7 810.8L694.8 813.4L696.0 825.5L697.1 835.8L698.3 837.3L699.4 840.4L700.6 838.3L701.7 837.3L702.9 837.7L704.0 835.4L705.2 832.9L706.3 834.3L707.5 827.1L708.6 823.9L709.8 813.5L710.9 804.1L712.1 796.4L713.2 800.2L714.4 806.0L715.5 816.8L716.7 823.9L717.8 831.3L719.0 828.6L720.1 819.9L721.3 814.9L722.4 812.9L723.6 808.1L724.7 810.4L725.8 811.5L727.0 816.1L728.1 823.9L729.3 824.3L730.4 826.7L731.6 829.8L732.7 829.0L733.9 833.5L735.0 834.8L736.2 835.8L737.3 837.6L738.5 842.8L739.6 844.7L740.8 846.5L741.9 845.7L743.1 846.2L744.2 844.7L745.4 840.1L746.5 838.8L747.7 836.5L748.8 839.6L750.0 844.7L751.1 841.0L752.3 842.8L753.4 846.0L754.6 846.2L755.7 843.6L756.9 836.4L758.0 837.6L759.2 843.0L760.3 849.1L761.5 850.7L762.6 868.6L763.8 877.6L764.9 891.0L766.1 870.1L767.2 853.7L768.4 847.4L769.5 838.2L770.6 845.0L771.8 853.7L772.9 862.4L774.1 870.1L775.2 865.9L776.4 861.2L777.5 903.9L778.7 938.7L779.8 988.0L781.0 990.2L782.1 988.0L783.3 865.6L784.4 907.4L785.6 953.4L786.7 976.0L787.9 955.1L789.0 835.8L790.2 848.1L791.3 862.6L792.5 864.1L793.6 868.6L794.8 891.0L795.9 884.6L797.1 871.7L798.2 867.1L799.4 868.5L800.5 866.9L801.7 868.6L802.8 893.8L804.0 913.4L805.1 956.6L806.3 883.5L807.4 875.2L808.6 868.6L809.7 866.8L810.9 867.1L812.0 895.6L813.2 913.4L814.3 976.6L815.4 883.5L816.6 880.6L817.7 871.6L818.9 912.0L820.0 943.2L821.2 979.6L822.3 868.6L823.5 884.0L824.6 919.3L825.8 905.5L826.9 884.2L828.1 868.6L829.2 864.1L830.4 890.7L831.5 913.4L832.7 903.0L833.8 895.5L835.0 905.3L836.1 929.8L837.3 919.4L838.4 898.5L839.6 886.1L840.7 871.6L841.9 943.2L843.0 957.9L844.2 975.1L845.3 863.2L846.5 870.5L847.6 880.6L848.8 891.0L849.9 901.6L851.1 908.9L852.2 908.6L853.4 913.4L854.5 907.9L855.7 901.4L856.8 951.3L858.0 918.4L859.1 892.5L860.2 883.5L861.4 881.1L862.5 880.3L863.7 877.6L864.8 871.5L866.0 863.2L867.1 859.7L868.3 856.5L869.4 850.7L870.6 861.3L871.7 873.9L872.9 887.1L874.0 911.8L875.2 924.7L876.3 868.6L877.5 857.5L878.6 840.3L879.8 849.7L880.9 855.3L882.1 864.1L883.2 855.4L884.4 847.7L885.5 849.2L886.7 848.7L887.8 853.7L889.0 849.4L890.1 847.9L891.3 844.7L892.4 842.3L893.6 841.8L894.7 854.6L895.9 874.6L897.0 884.4L898.2 910.4L899.3 954.5L900.5 920.9L901.6 877.6L902.7 877.6L903.9 869.4L905.0 844.7L906.2 834.6L907.3 828.4L908.5 820.9L909.6 821.6L910.8 818.3L911.9 820.9L913.1 821.0L914.2 822.6L915.4 823.9L916.5 830.9L917.7 833.2L918.8 837.3L920.0 835.6L921.1 831.1L922.3 828.2L923.4 817.9L924.6 818.9L925.7 819.8L926.9 814.9L928.0 818.3L929.2 821.6L930.3 823.9L931.5 826.4L932.6 830.5L933.8 831.3L934.9 832.8L936.1 834.2L937.2 836.6L938.4 838.8L939.5 834.8L940.7 834.6L941.8 829.8L943.0 819.4L944.1 810.4L945.3 811.9L946.4 816.0L947.5 820.9L948.7 821.1L949.8 818.1L951.0 820.3L952.1 820.9L953.3 818.4L954.4 818.8L955.6 819.0L956.7 819.4L957.9 819.9L959.0 817.6L960.2 817.9L961.3 820.9L962.5 819.0L963.6 820.5L964.8 820.9L965.9 821.3L967.1 822.5L968.2 823.4L969.4 820.3L970.5 823.1L971.7 818.9L972.8 818.0L974.0 814.9L975.1 818.7L976.3 815.7L977.4 817.9L978.6 822.8L979.7 822.8L980.9 821.5L982.0 816.8L983.2 814.7L984.3 813.1L985.5 815.5L986.6 812.0L987.8 813.1L988.9 814.5L990.1 813.4L991.2 812.7L992.3 813.1L993.5 813.2L994.6 811.9L995.8 809.9L996.9 814.3L998.1 814.1L999.2 808.7L1000.4 807.5L1001.5 807.4L1002.7 809.9L1003.8 807.9L1005.0 808.9L1006.1 804.7L1007.3 803.8L1008.4 801.7L1009.6 802.4L1010.7 803.0L1011.9 801.5M1014.3 808.3L1015.5 811.0L1016.6 808.3L1017.7 806.6L1018.9 807.2L1020.0 807.5L1021.2 808.0L1022.3 807.4L1023.5 804.8L1024.6 803.6L1025.8 804.3L1026.9 803.9L1028.1 805.4L1029.2 803.5L1030.4 803.9L1031.5 805.1L1032.7 808.9L1033.8 808.5L1035.0 802.3L1036.1 805.0L1037.3 803.5L1038.4 798.5L1039.6 800.0L1040.7 802.9L1041.9 804.2L1043.0 803.6L1044.2 801.1L1045.3 801.0L1046.5 802.2L1047.6 812.5L1048.8 806.1L1049.9 795.5L1051.1 799.6L1052.2 803.8L1053.4 805.6L1054.5 803.6L1055.7 806.7L1056.8 811.9L1058.0 814.0L1059.1 822.4L1060.3 819.8L1061.4 817.3L1062.5 817.9L1063.7 819.9L1064.8 837.3L1066.0 913.4L1067.1 986.5L1068.3 993.3M1068.3 993.3L1069.5 993.3L1070.6 993.2L1071.8 993.2L1072.9 993.1L1074.1 993.1L1075.2 993.0L1076.4 993.0L1077.5 992.9L1078.6 992.9L1079.8 992.8L1080.9 992.8L1082.1 992.7L1083.2 991.5M1083.5 991.5L1084.7 788.1L1085.8 779.7L1087.0 790.4L1088.1 800.0L1089.3 823.9L1090.4 867.1L1091.6 800.0L1092.7 783.6L1093.9 794.0L1095.0 804.6L1096.2 847.1M1103.2 787.5L1104.4 788.9L1105.5 788.7L1106.7 800.0L1107.8 865.6L1109.0 820.9L1110.1 819.4L1111.3 811.3L1112.4 802.4L1113.6 867.1L1114.7 916.4L1115.9 992.4L1117.0 989.4L1118.2 989.8L1119.3 991.5L1120.4 984.1L1121.6 985.0L1122.7 968.2L1123.9 955.7" stroke="#660066" stroke-width="3.30" fill="none" stroke-linejoin="round" stroke-linecap="round" marker-start="url(#mp50)" marker-mid="url(#mp50)" marker-end="url(#mp50)"/>
<marker id="mp54" markerWidth="10" markerHeight="10" refX="5" refY="5" markerUnits="userSpaceOnUse"><circle cx="5" cy="5" r="2.70" fill="#660066"/></marker>
<path d="M1207.1 847.1L1208.2 847.4L1209.3 851.5L1210.5 851.0L1211.6 852.2L1212.8 853.9L1213.9 852.1L1215.1 853.0L1216.2 850.7L1217.4 850.7L1218.5 854.3L1219.7 846.0L1220.8 846.2L1222.0 848.2L1223.1 845.4L1224.3 844.4L1225.4 852.2L1226.6 856.1L1227.7 859.9L1228.9 862.6L1230.0 869.1L1231.2 868.6L1232.3 865.2L1233.5 864.2L1234.6 862.6L1235.8 868.5L1236.9 880.6L1238.1 874.9L1239.2 868.0L1240.4 862.6L1241.5 861.8L1242.7 860.9L1243.8 859.7L1245.0 869.1L1246.1 874.6L1247.3 886.5L1248.4 877.8L1249.6 862.6L1250.7 859.0L1251.9 862.0L1253.0 859.5L1254.1 859.7L1255.3 858.2L1256.4 853.1L1257.6 858.4L1258.7 868.6L1259.9 881.4L1261.0 902.9L1262.2 904.4L1263.3 892.5L1264.5 887.9L1265.6 885.6L1266.8 874.6L1267.9 870.2L1269.1 865.5L1270.2 862.6L1271.4 859.0L1272.5 856.3L1273.7 855.2L1274.8 853.7L1276.0 845.7L1277.1 840.9L1278.3 843.3L1279.4 839.6L1280.6 829.8L1281.7 833.1L1282.9 846.4L1284.0 850.7L1285.2 847.2L1286.3 841.8L1287.5 843.9L1288.6 844.6L1289.8 846.2L1290.9 844.7L1292.1 858.7L1293.2 870.1L1294.4 855.0L1295.5 835.8L1296.7 829.7L1297.8 822.5L1298.9 819.4L1300.1 822.5L1301.2 825.3L1302.4 828.2L1303.5 832.8L1304.7 829.9L1305.8 826.0L1307.0 829.1L1308.1 828.3L1309.3 820.9L1310.4 817.5L1311.6 811.9L1312.7 805.0L1313.9 803.0L1315.0 804.5L1316.2 804.1L1317.3 804.9L1318.5 808.9L1319.6 809.9L1320.8 812.1L1321.9 814.5L1323.1 817.9L1324.2 814.9L1325.4 813.5L1326.5 813.4L1327.7 815.7L1328.8 819.7L1330.0 821.7L1331.1 827.4L1332.3 825.5L1333.4 824.0L1334.6 814.9L1335.7 813.4L1336.9 817.5L1338.0 817.2L1339.2 818.9L1340.3 817.9L1341.5 821.2L1342.6 823.9L1343.7 823.7L1344.9 824.3L1346.0 825.4L1347.2 822.4L1348.3 823.0L1349.5 818.3L1350.6 810.4L1351.8 814.2L1352.9 815.6L1354.1 814.1L1355.2 816.4L1356.4 814.2L1357.5 812.5L1358.7 809.5L1359.8 806.4L1361.0 804.5L1362.1 804.8L1363.3 807.1L1364.4 810.6L1365.6 811.6L1366.7 814.9L1367.9 816.0L1369.0 811.7L1370.2 810.0L1371.3 808.5L1372.5 802.8L1373.6 806.0L1374.8 808.3L1375.9 809.5L1377.1 808.7L1378.2 810.0L1379.4 813.4L1380.5 809.8L1381.7 811.2L1382.8 809.2L1384.0 807.9L1385.1 803.0L1386.2 805.6L1387.4 806.0L1388.5 806.0L1389.7 807.8L1390.8 806.0L1392.0 803.8L1393.1 802.6L1394.3 800.6L1395.4 800.0L1396.6 792.3L1397.7 783.7L1398.9 782.1L1400.0 776.1L1401.2 780.6L1402.3 775.3L1403.5 778.7L1404.6 785.1L1405.8 792.3L1406.9 802.4L1408.1 797.5L1409.2 792.8L1410.4 788.1L1411.5 783.7L1412.7 780.7L1413.8 780.0L1415.0 778.5L1416.1 780.8L1417.3 782.8L1418.4 785.7L1419.6 785.1L1420.7 783.1L1421.9 784.6L1423.0 789.0L1424.2 789.5L1425.3 787.3L1426.5 789.6L1427.6 792.5L1428.8 798.0L1429.9 793.3L1431.0 787.8L1432.2 785.5L1433.3 786.6L1434.5 788.7L1435.6 788.9L1436.8 791.4L1437.9 791.0L1439.1 796.2L1440.2 794.4L1441.4 796.4L1442.5 794.9L1443.7 793.3L1444.8 793.1L1446.0 792.5L1447.1 799.2L1448.3 801.3L1449.4 801.5L1450.6 801.7L1451.7 802.4L1452.9 801.7L1454.0 800.8L1455.2 794.4L1456.3 795.5L1457.5 793.1L1458.6 794.2L1459.8 794.8L1460.9 788.1L1462.1 784.1L1463.2 771.1L1464.4 764.2L1465.5 764.7L1466.7 764.9L1467.8 771.6L1469.0 783.0L1470.1 785.1L1471.3 793.4L1472.4 800.0L1473.6 799.5L1474.7 796.7L1475.8 802.0L1477.0 805.5L1478.1 803.6" stroke="#660066" stroke-width="3.48" fill="none" stroke-linejoin="round" stroke-linecap="round" marker-start="url(#mp54)" marker-mid="url(#mp54)" marker-end="url(#mp54)"/>
<marker id="mp58" markerWidth="10" markerHeight="10" refX="5" refY="5" markerUnits="userSpaceOnUse"><circle cx="5" cy="5" r="2.90" fill="#660066"/></marker>
<path d="M1537.1 679.2L1538.2 643.3L1539.3 703.0L1540.5 734.3L1541.6 746.3L1542.8 761.2L1543.9 797.6L1545.1 874.6L1546.2 926.8L1547.4 980.5L1548.5 993.9M1548.4 993.9L1549.5 993.9L1550.7 993.9L1551.8 993.9L1553.0 992.2L1554.1 990.4L1555.3 993.9L1556.4 993.9L1557.6 993.9L1558.7 993.9L1559.9 993.9L1561.0 993.9L1562.2 993.9L1563.3 993.9L1564.5 993.9L1565.6 993.9L1566.8 993.9L1567.9 993.9L1569.1 993.9L1570.2 993.9L1571.4 993.9L1572.5 993.9L1573.7 993.9L1574.8 993.9L1576.0 993.9L1577.1 993.9L1578.3 993.9L1579.4 993.9L1580.6 993.9L1581.7 993.9L1582.9 993.9L1584.0 993.9L1585.1 993.9L1586.3 993.9L1587.4 993.9L1588.6 993.9L1589.7 993.9L1590.9 993.9L1592.0 993.9L1593.2 993.9L1594.3 993.9L1595.5 993.9L1596.6 993.9L1597.8 993.9L1598.9 993.9L1600.1 993.9L1601.2 993.9L1602.4 993.9L1603.5 993.9L1604.7 993.9L1605.8 993.9L1607.0 993.9L1608.1 993.9L1609.3 993.9L1610.4 993.9L1611.6 993.9L1612.7 993.9L1613.9 993.9L1615.0 993.9L1616.2 993.9L1617.3 993.9L1618.5 993.9L1619.6 993.9L1620.8 993.9L1621.9 993.9L1623.1 993.9L1624.2 993.9L1625.4 993.9L1626.5 993.9L1627.7 993.9L1628.8 993.9L1629.9 993.9L1631.1 993.9L1632.2 983.5M1648.9 851.3L1650.1 853.6L1651.2 856.7L1652.4 861.1L1653.5 866.9L1654.7 870.1L1655.8 864.7L1657.0 856.7L1658.1 856.3L1659.3 855.5L1660.4 853.4L1661.6 852.2L1662.7 863.9L1663.9 876.0L1665.0 883.5L1666.2 881.1L1667.3 874.6L1668.5 862.0L1669.6 853.7L1670.8 855.8L1671.9 855.7L1673.1 857.7L1674.2 857.3L1675.4 856.3L1676.5 850.2L1677.7 852.2L1678.8 854.2L1680.0 856.1L1681.1 858.1L1682.3 862.6L1683.4 859.3L1684.6 864.5L1685.7 862.2L1686.8 870.1L1688.0 880.5L1689.1 895.5L1690.3 884.5L1691.4 871.6L1692.6 864.1L1693.7 853.7L1694.9 851.0L1696.0 854.8L1697.2 858.0L1698.3 859.7L1699.5 863.4L1700.6 865.6L1701.8 867.4L1702.9 877.4L1704.1 880.6L1705.2 888.6L1706.4 885.0L1707.5 875.3L1708.7 862.6L1709.8 864.2L1711.0 865.1L1712.1 868.6L1713.3 856.5L1714.4 853.7L1715.6 849.6L1716.7 851.3L1717.9 851.0L1719.0 847.7L1720.2 845.0L1721.3 846.5L1722.5 842.4L1723.6 842.9L1724.8 843.1L1725.9 835.8L1727.1 835.0L1728.2 825.2L1729.4 821.5L1730.5 833.2L1731.6 838.8L1732.8 840.9L1733.9 848.1L1735.1 851.7L1736.2 853.7L1737.4 861.9L1738.5 868.6L1739.7 871.1L1740.8 880.6L1742.0 869.0L1743.1 857.3L1744.3 852.4L1745.4 853.7L1746.6 855.1L1747.7 859.7L1748.9 858.3L1750.0 865.6L1751.2 865.0L1752.3 862.6L1753.5 856.9L1754.6 859.7L1755.8 847.4L1756.9 837.3L1758.1 827.3L1759.2 822.9L1760.4 820.9L1761.5 814.8L1762.7 816.3L1763.8 817.1L1765.0 819.4L1766.1 813.7L1767.3 808.9L1768.4 801.1L1769.6 798.8L1770.7 801.5L1771.9 798.7L1773.0 800.0L1774.2 806.7L1775.3 808.9L1776.4 815.2L1777.6 817.3L1778.7 825.2L1779.9 823.9L1781.0 824.2L1782.2 825.5L1783.3 825.4L1784.5 817.4L1785.6 814.4L1786.8 810.4L1787.9 812.8L1789.1 814.9L1790.2 822.6L1791.4 823.9L1792.5 806.0L1793.7 803.9L1794.8 805.9L1796.0 804.7L1797.1 800.0L1798.3 801.4L1799.4 803.4L1800.6 808.9L1801.7 811.3L1802.9 814.2L1804.0 819.4L1805.2 814.1L1806.3 805.7L1807.5 800.0L1808.6 795.4L1809.8 794.4L1810.9 791.4L1812.1 791.6L1813.2 790.5L1814.4 794.0L1815.5 798.5L1816.7 803.7L1817.8 809.5L1818.9 814.3L1820.1 806.0L1821.2 805.6L1822.4 807.5L1823.5 812.1L1824.7 810.4L1825.8 805.6L1827.0 806.4L1828.1 805.4L1829.3 806.0L1830.4 811.1L1831.6 810.4L1832.7 813.5L1833.9 816.4L1835.0 806.0L1836.2 809.4L1837.3 814.5L1838.5 819.8L1839.6 825.4L1840.8 806.4L1841.9 801.5L1843.1 804.1L1844.2 807.1L1845.4 804.5L1846.5 802.3L1847.7 800.3L1848.8 801.5L1850.0 803.8L1851.1 803.5L1852.3 811.9L1853.4 806.9L1854.6 805.5L1855.7 802.0L1856.9 797.0L1858.0 794.6L1859.2 796.1L1860.3 797.8L1861.5 789.5L1862.6 794.6L1863.7 792.5L1864.9 791.3L1866.0 788.1L1867.2 792.0L1868.3 797.4L1869.5 801.5L1870.6 799.8L1871.8 792.5L1872.9 786.6L1874.1 787.9L1875.2 789.3L1876.4 791.0L1877.5 791.4L1878.7 793.4L1879.8 790.7L1881.0 784.7L1882.1 776.1L1883.3 773.6L1884.4 773.4L1885.6 774.9L1886.7 774.6L1887.9 772.8L1889.0 771.9L1890.2 775.0L1891.3 778.5L1892.5 785.1L1893.6 785.9L1894.8 786.6L1895.9 791.3L1897.1 792.2L1898.2 791.1L1899.4 792.6L1900.5 794.0L1901.7 789.8L1902.8 786.4L1904.0 785.1L1905.1 788.3L1906.3 798.8L1907.4 806.0L1908.5 794.1L1909.7 785.1L1910.8 782.8L1912.0 780.4L1913.1 781.9L1914.3 780.6L1915.4 785.4L1916.6 791.0L1917.7 783.0L1918.9 769.6L1920.0 774.7L1921.2 782.1L1922.3 803.6L1923.5 798.9L1924.6 791.3L1925.8 786.6L1926.9 786.9L1928.1 786.8L1929.2 785.1L1930.4 756.7L1931.5 755.2L1932.7 786.7L1933.8 791.6L1935.0 816.7L1936.1 821.5L1937.3 821.2L1938.4 817.5L1939.6 817.9L1940.7 805.5L1941.9 800.0L1943.0 793.4L1944.2 803.6M1962.2 786.6L1963.4 779.6L1964.5 781.0L1965.7 781.2L1966.8 778.3L1968.0 780.6L1969.1 780.5L1970.3 783.8L1971.4 786.6L1972.6 787.3L1973.7 784.2L1974.9 791.0L1976.0 783.6L1977.2 790.4L1978.3 795.2L1979.5 793.5L1980.6 795.5L1981.8 793.7L1982.9 788.7L1984.1 781.5L1985.2 781.4L1986.4 784.7L1987.5 785.7L1988.7 786.6L1989.8 791.1L1991.0 791.3L1992.1 789.0L1993.2 794.0L1994.4 800.4L1995.5 804.0L1996.7 801.5L1997.8 806.9L1999.0 811.9L2000.1 811.3L2001.3 809.9L2002.4 808.9L2003.6 813.3L2004.7 821.3L2005.9 825.4L2007.0 824.8L2008.2 822.9L2009.3 826.2L2010.5 821.7L2011.6 817.8L2012.8 817.9L2013.9 825.4L2015.1 828.3L2016.2 832.5L2017.4 832.1L2018.5 834.0L2019.7 834.3L2020.8 838.6L2022.0 839.6L2023.1 841.8L2024.3 843.8L2025.4 846.2L2026.6 840.1L2027.7 820.9L2028.9 824.3L2030.0 827.2L2031.2 832.1L2032.3 828.3L2033.5 827.5L2034.6 825.4L2035.8 827.4L2036.9 831.1L2038.0 834.3L2039.2 833.1L2040.3 833.3L2041.5 832.8L2042.6 843.8L2043.8 849.2L2044.9 845.0L2046.1 840.1L2047.2 835.8L2048.4 826.8L2049.5 821.5L2050.7 827.5L2051.8 830.2L2053.0 829.8L2054.1 825.8L2055.3 825.7L2056.4 825.4L2057.6 826.9L2058.7 837.3L2059.9 840.5L2061.0 847.7L2062.2 846.9L2063.3 840.7L2064.5 837.3L2065.6 847.7L2066.8 843.3L2067.9 835.8L2069.1 880.6L2070.2 853.7L2071.4 850.7L2072.5 834.3L2073.7 840.1L2074.8 838.8L2076.0 837.3L2077.1 836.6L2078.3 849.5L2079.4 859.7L2080.5 861.0L2081.7 861.3L2082.8 860.7L2084.0 858.2L2085.1 846.1L2086.3 838.8L2087.4 838.3L2088.6 842.2L2089.7 840.3L2090.9 843.8L2092.0 845.3L2093.2 847.6L2094.3 849.2L2095.5 851.1L2096.6 853.7L2097.8 846.7L2098.9 839.7L2100.1 835.8L2101.2 830.7L2102.4 820.9L2103.5 817.4L2104.7 811.9L2105.8 821.6L2107.0 829.8L2108.1 830.6L2109.3 827.4L2110.4 837.4L2111.6 847.7L2112.7 852.8L2113.9 854.0L2115.0 853.7L2116.2 859.5L2117.3 863.0L2118.5 864.1L2119.6 857.2L2120.8 835.8L2121.9 836.9L2123.1 831.2L2124.2 827.4L2125.3 832.0L2126.5 835.0L2127.6 834.3L2128.8 838.6L2129.9 843.2L2131.1 850.7L2132.2 846.4L2133.4 846.2L2134.5 844.3L2135.7 835.8L2136.8 839.8L2138.0 836.0L2139.1 833.9L2140.3 829.8L2141.4 829.3L2142.6 827.6L2143.7 826.0L2144.9 826.8L2146.0 829.9L2147.2 825.6L2148.3 823.4L2149.5 823.9L2150.6 827.5L2151.8 830.4L2152.9 829.4L2154.1 826.8L2155.2 829.3L2156.4 827.1L2157.5 826.6L2158.7 825.4L2159.8 827.4L2161.0 825.1L2162.1 824.2L2163.3 820.9L2164.4 821.5L2165.6 817.3L2166.7 817.9L2167.9 818.8L2169.0 820.8L2170.1 821.5L2171.3 816.5L2172.4 814.7L2173.6 811.4L2174.7 820.9L2175.9 820.6L2177.0 823.7L2178.2 824.3L2179.3 823.9L2180.5 825.9L2181.6 827.4L2182.8 829.2L2183.9 828.2L2185.1 829.8L2186.2 826.6L2187.4 827.4L2188.5 822.9L2189.7 821.5L2190.8 822.0L2192.0 824.4L2193.1 820.9L2194.3 821.3L2195.4 814.1L2196.6 813.4L2197.7 814.3L2198.9 813.2L2200.0 812.0L2201.2 811.9L2202.3 817.0L2203.5 815.4L2204.6 817.9L2205.8 821.2L2206.9 819.2L2208.1 823.3L2209.2 816.5L2210.4 816.3L2211.5 814.8L2212.6 814.9L2213.8 812.8L2214.9 809.1L2216.1 811.1L2217.2 812.5L2218.4 817.1L2219.5 818.7L2220.7 819.4L2221.8 817.1L2223.0 815.2L2224.1 816.4L2225.3 815.8L2226.4 818.6L2227.6 815.1L2228.7 811.9L2229.9 813.7L2231.0 808.2L2232.2 809.7L2233.3 811.3L2234.5 809.2L2235.6 809.2L2236.8 806.1L2237.9 810.4L2239.1 808.6L2240.2 811.7L2241.4 811.7L2242.5 813.4L2243.7 816.8L2244.8 816.4L2246.0 809.2L2247.1 810.4L2248.3 807.7L2249.4 807.1L2250.6 803.0L2251.7 799.3L2252.9 795.7L2254.0 794.0L2255.2 789.9L2256.3 788.0L2257.4 789.5L2258.6 785.2L2259.7 779.1L2260.9 778.8L2262.0 779.9L2263.2 779.1L2264.3 780.6L2265.5 782.7L2266.6 784.0L2267.8 786.6L2268.9 784.1L2270.1 784.7L2271.2 789.6L2272.4 791.6L2273.5 790.4L2274.7 794.0L2275.8 790.2L2277.0 794.0L2278.1 790.7L2279.3 795.0L2280.4 793.4L2281.6 790.3L2282.7 793.2L2283.9 790.3L2285.0 788.1L2286.2 790.9L2287.3 789.0L2288.5 786.7L2289.6 783.4L2290.8 785.7L2291.9 787.4L2293.1 785.1L2294.2 784.8L2295.4 785.7L2296.5 789.0L2297.7 793.9L2298.8 792.9L2300.0 793.4L2301.1 793.7L2302.2 789.7L2303.4 794.0L2304.5 791.0L2305.7 789.4L2306.8 787.2L2308.0 786.6L2309.1 793.0L2310.3 794.0L2311.4 797.6L2312.6 804.4L2313.7 807.5L2314.9 798.6L2316.0 792.5L2317.2 796.9L2318.3 793.0L2319.5 794.0L2320.6 797.1L2321.8 800.2L2322.9 801.5L2324.1 797.4L2325.2 793.3L2326.4 792.5L2327.5 791.1L2328.7 792.5L2329.8 790.2L2331.0 791.0L2332.1 787.9L2333.3 786.4L2334.4 785.7L2335.6 782.7L2336.7 782.5L2337.9 783.6L2339.0 787.1L2340.2 788.8L2341.3 786.1L2342.5 789.5L2343.6 796.8L2344.8 806.9L2345.9 806.0L2347.0 805.5L2348.2 804.3L2349.3 801.7L2350.5 797.0L2351.6 795.8L2352.8 797.6L2353.9 792.7L2355.1 794.0L2356.2 794.5L2357.4 799.6L2358.5 801.5L2359.7 801.6L2360.8 798.6L2362.0 797.0L2363.1 793.9L2364.3 789.7L2365.4 791.0L2366.6 792.9L2367.7 791.1L2368.9 788.1L2370.0 777.1L2371.2 772.5L2372.3 779.9L2373.5 782.1L2374.6 786.6L2375.8 789.5L2376.9 793.0L2378.1 797.6L2379.2 793.6L2380.4 789.7L2381.5 786.6L2382.7 784.7L2383.8 785.3L2385.0 780.6L2386.1 785.1L2387.3 783.8L2388.4 791.0L2389.5 786.6L2390.7 780.9L2391.8 776.1L2393.0 776.6L2394.1 783.8L2395.3 788.1L2396.4 789.4L2397.6 792.5L2398.7 769.2L2399.9 757.6L2401.0 785.1" stroke="#660066" stroke-width="3.84" fill="none" stroke-linejoin="round" stroke-linecap="round" marker-start="url(#mp58)" marker-mid="url(#mp58)" marker-end="url(#mp58)"/>
<marker id="mp66" markerWidth="10" markerHeight="10" refX="5" refY="5" markerUnits="userSpaceOnUse"><circle cx="5" cy="5" r="3.30" fill="#660066"/></marker>
<path d="M2401.0 785.1L2402.2 791.9L2403.3 800.0L2404.5 810.6L2405.6 811.9L2406.8 815.2L2407.9 814.9L2409.1 819.4L2410.2 815.2L2411.4 813.5L2412.5 811.9L2413.7 816.1L2414.8 824.7L2416.0 825.4L2417.1 809.6L2418.3 806.0L2419.4 803.8L2420.6 807.4L2421.7 804.5L2422.9 808.2L2424.0 804.5L2425.2 802.4L2426.3 804.4L2427.5 814.9L2428.6 817.0L2429.8 818.3L2430.9 819.8L2432.1 820.9L2433.2 823.1L2434.3 821.9L2435.5 825.4L2436.6 825.2L2437.8 827.8L2438.9 830.4L2440.1 829.8L2441.2 830.4M2446.5 823.9h0M2468.9 850.7L2470.0 850.7M2476.3 834.3L2477.5 834.8L2478.6 842.6L2479.8 844.7L2480.9 842.4L2482.1 837.8L2483.2 837.3L2484.4 840.1L2485.5 842.3L2486.7 849.4L2487.8 849.2L2489.0 839.4L2490.1 835.2L2491.3 831.3L2492.4 836.2L2493.6 843.9L2494.7 838.8L2495.9 837.9L2497.0 837.8L2498.2 837.3L2499.3 840.7L2500.5 847.0L2501.6 851.3L2502.7 847.7L2503.9 852.9L2505.0 852.6L2506.2 853.7L2507.3 856.0L2508.5 853.2L2509.6 850.7L2510.8 842.2L2511.9 844.4L2513.1 841.8L2514.2 848.9L2515.4 845.9L2516.5 844.7L2517.7 820.3L2518.8 844.7L2520.0 842.2L2521.1 847.4L2522.3 852.8L2523.4 853.7L2524.6 852.6L2525.7 855.4L2526.9 855.2L2528.0 855.3L2529.2 863.3L2530.3 868.6L2531.5 865.8L2532.6 866.1L2533.8 873.5L2534.9 873.1L2536.1 874.1L2537.2 879.6L2538.4 882.9L2539.5 869.8L2540.7 859.7L2541.8 857.2L2543.0 851.4L2544.1 847.1L2545.3 853.3L2546.4 854.8L2547.5 853.7L2548.7 858.6L2549.8 868.6L2551.0 867.6L2552.1 869.0L2553.3 870.1M2563.5 849.2h0M2569.4 846.2L2570.6 846.1L2571.7 847.5L2572.9 844.3L2574.0 847.7L2575.2 842.1L2576.3 835.8L2577.5 835.9L2578.6 834.2L2579.8 838.8L2580.9 838.4L2582.1 839.6L2583.2 838.7L2584.4 838.8L2585.5 844.3L2586.7 852.2L2587.8 835.8L2588.9 828.3L2590.1 827.2L2591.2 829.0L2592.4 825.3L2593.5 827.4L2594.7 822.5L2595.8 820.9L2597.0 815.2L2598.1 823.0L2599.3 827.4L2600.4 826.2L2601.6 825.1L2602.7 823.6L2603.9 820.9L2605.0 823.3L2606.2 825.4L2607.3 825.7L2608.5 819.0L2609.6 816.8L2610.8 817.9L2611.9 815.9L2613.1 817.6L2614.2 815.5L2615.4 813.3L2616.5 813.1L2617.7 808.1L2618.8 808.3L2620.0 810.4L2621.1 815.3L2622.3 809.5L2623.4 811.9L2624.6 810.1L2625.7 806.7L2626.9 806.1L2628.0 806.0L2629.2 806.3L2630.3 805.8L2631.5 810.0L2632.6 811.9L2633.7 812.9L2634.9 811.1L2636.0 811.9L2637.2 813.4L2638.3 814.3L2639.5 817.9L2640.6 816.3L2641.8 816.1L2642.9 816.4L2644.1 814.5L2645.2 810.9L2646.4 815.0L2647.5 812.1L2648.7 811.9L2649.8 805.4L2651.0 801.5L2652.1 801.0L2653.3 798.4L2654.4 801.7L2655.6 797.0L2656.7 798.2L2657.9 800.3L2659.0 799.8L2660.2 801.5L2661.3 797.7L2662.5 800.4L2663.6 805.8L2664.8 807.5L2665.9 807.5L2667.1 807.5L2668.2 810.1L2669.4 803.6L2670.5 803.5L2671.7 805.3L2672.8 804.9L2674.0 806.0L2675.1 805.0L2676.3 805.9L2677.4 805.5L2678.5 808.9L2679.7 804.6L2680.8 801.6L2682.0 799.5L2683.1 797.6L2684.3 796.3L2685.4 793.6L2686.6 793.4L2687.7 796.1L2688.9 796.8L2690.0 800.0L2691.2 794.6L2692.3 795.9L2693.5 794.4L2694.6 794.0L2695.8 795.6L2696.9 800.2L2698.1 805.4L2699.2 793.0L2700.4 788.7L2701.5 788.5L2702.7 790.9L2703.8 792.8L2705.0 786.6L2706.1 784.9L2707.3 783.3L2708.4 785.4L2709.6 787.7L2710.7 785.7L2711.9 785.9L2713.0 783.7L2714.2 781.5L2715.3 784.3L2716.5 788.8L2717.6 791.0L2718.8 806.0L2719.9 807.3L2721.0 807.0L2722.2 812.1L2723.3 816.4L2724.5 816.9L2725.6 819.9L2726.8 822.4L2727.9 819.0L2729.1 823.1L2730.2 824.6L2731.4 822.9L2732.5 820.9L2733.7 817.2L2734.8 818.4L2736.0 819.4L2737.1 825.3L2738.3 820.5L2739.4 825.3L2740.6 822.4L2741.7 827.1L2742.9 830.7L2744.0 825.4L2745.2 823.7L2746.3 812.7L2747.5 808.9L2748.6 801.5L2749.8 795.5L2750.9 794.5L2752.1 799.8L2753.2 803.0L2754.4 801.0L2755.5 797.7L2756.7 793.4L2757.8 792.5L2759.0 791.1L2760.1 788.3L2761.3 785.1L2762.4 784.7L2763.6 780.9L2764.7 782.1L2765.8 777.1L2767.0 771.2L2768.1 773.1L2769.3 774.2L2770.4 777.6L2771.6 780.5L2772.7 782.1L2773.9 784.4L2775.0 785.1L2776.2 786.4L2777.3 790.0L2778.5 788.7L2779.6 791.0L2780.8 783.3L2781.9 777.1L2783.1 770.2L2784.2 784.6L2785.4 788.1L2786.5 781.8L2787.7 776.1L2788.8 786.0L2790.0 791.0L2791.1 793.5L2792.3 793.3L2793.4 795.5L2794.6 798.6L2795.7 800.6L2796.9 790.8L2798.0 780.6L2799.2 788.6L2800.3 794.0L2801.5 801.1L2802.6 806.2L2803.8 808.9L2804.9 815.1L2806.1 823.9L2807.2 820.0L2808.4 815.1L2809.5 806.0L2810.6 811.4L2811.8 815.4L2812.9 820.9L2814.1 817.9L2815.2 813.2L2816.4 807.5L2817.5 807.4L2818.7 815.5L2819.8 820.9L2821.0 824.1L2822.1 827.0L2823.3 825.4L2824.4 831.9L2825.6 838.8L2826.7 821.8L2827.9 811.9L2829.0 810.5L2830.2 816.0L2831.3 813.4L2832.5 815.9L2833.6 821.4L2834.8 817.9L2835.9 799.4L2837.1 803.6L2838.2 823.9L2839.4 827.2L2840.5 828.2L2841.7 835.8L2842.8 839.7L2844.0 847.7L2845.1 877.6L2846.3 889.5L2847.4 868.6L2848.6 862.4L2849.7 847.7L2850.9 845.1L2852.0 835.8L2853.2 840.8L2854.3 843.8L2855.4 844.7L2856.6 859.4L2857.7 865.6L2858.9 874.6L2860.0 853.7L2861.2 847.7L2862.3 820.9L2863.5 822.2L2864.6 824.2L2865.8 826.8L2866.9 820.6L2868.1 817.9L2869.2 806.0L2870.4 809.8L2871.5 817.9L2872.7 841.8L2873.8 839.2L2875.0 841.8L2876.1 846.9L2877.3 847.7L2878.4 851.3L2879.6 854.7L2880.7 852.2L2881.9 852.4L2883.0 852.0L2884.2 847.7L2885.3 852.8L2886.5 858.2L2887.6 858.2L2888.8 868.6L2889.9 861.3L2891.1 856.0L2892.2 853.7L2893.4 849.4L2894.5 852.2L2895.7 849.9L2896.8 855.5L2897.9 861.2L2899.1 859.4L2900.2 864.0L2901.4 858.2" stroke="#660066" stroke-width="4.56" fill="none" stroke-linejoin="round" stroke-linecap="round" marker-start="url(#mp66)" marker-mid="url(#mp66)" marker-end="url(#mp66)"/>
<marker id="mb46" markerWidth="10" markerHeight="10" refX="5" refY="5" markerUnits="userSpaceOnUse"><circle cx="5" cy="5" r="2.30" fill="#00688B"/></marker>
<path d="M331.3 1028.9L332.5 1029.5L333.6 1028.5L334.8 1027.8L335.9 1027.5M339.7 1031.3L340.8 1029.8L342.0 1027.0L343.1 1025.4L344.3 1024.0L345.4 1023.9L346.6 1022.6L347.7 1023.3L348.9 1021.7L350.0 1023.1L351.2 1023.0L352.3 1024.5L353.5 1025.9L354.6 1026.6L355.8 1028.3L356.9 1030.7L358.1 1037.3L359.2 1047.7L360.4 1053.0L361.5 1059.7L362.7 1067.4L363.8 1071.6L365.0 1075.6L366.1 1080.0L367.3 1081.7L368.4 1081.7L369.5 1082.1L370.7 1081.2L371.8 1080.1L373.0 1079.1L374.1 1078.7L375.3 1079.1L376.4 1079.8L377.6 1080.0L378.7 1078.9L379.9 1077.8L381.0 1079.2L382.2 1077.6L383.3 1053.7L384.5 1035.8L385.6 1033.0L386.8 1032.7L387.9 1032.8L389.1 1031.5L390.2 1031.3L391.4 1031.3L392.5 1031.4L393.7 1032.7L394.8 1033.5L396.0 1035.2L397.1 1031.9L398.3 1031.9L399.4 1032.8L400.6 1031.8L401.7 1032.4L402.9 1032.2L404.0 1034.3L405.2 1034.7L406.3 1037.2L407.5 1038.8L408.6 1037.1L409.8 1035.1L410.9 1033.4L412.1 1034.6L413.2 1035.2L414.3 1035.2L415.5 1035.4L416.6 1036.2L417.8 1036.1L418.9 1037.3L420.1 1037.0L421.2 1036.0L422.4 1034.4L423.5 1033.9L424.7 1032.3L425.8 1031.3L427.0 1030.4L428.1 1030.9L429.3 1032.2L430.4 1032.1L431.6 1031.5L432.7 1031.3L433.9 1043.3L435.0 1039.0L436.2 1030.4L437.3 1033.3L438.5 1040.3L439.6 1047.7L440.8 1038.3L441.9 1031.3L443.1 1032.1L444.2 1032.2L445.4 1030.3L446.5 1031.3L447.7 1031.6L448.8 1032.8L450.0 1038.4L451.1 1044.8L452.3 1059.7L453.4 1078.8L454.6 1088.9L455.7 1059.7L456.9 1057.6L458.0 1053.7L459.1 1049.3L460.3 1044.8L461.4 1046.9L462.6 1048.6L463.7 1049.2L464.9 1050.6L466.0 1053.1L467.2 1053.7L468.3 1034.3L469.5 1033.0L470.6 1033.0L471.8 1031.3L472.9 1032.2L474.1 1032.5L475.2 1030.7L476.4 1030.4L477.5 1029.2L478.7 1028.7L479.8 1027.9L481.0 1029.2L482.1 1030.4L483.3 1031.3L484.4 1029.8L485.6 1033.2L486.7 1034.7L487.9 1034.3L489.0 1033.7L490.2 1032.3L491.3 1030.7L492.5 1029.8L493.6 1028.2L494.8 1028.4L495.9 1029.3L497.1 1028.3L498.2 1028.6L499.4 1028.7L500.5 1027.9L501.7 1027.4L502.8 1026.9L503.9 1026.6L505.1 1026.3L506.2 1025.3L507.4 1026.1L508.5 1026.3L509.7 1026.2L510.8 1025.3L512.0 1026.0L513.1 1024.5L514.3 1025.7L515.4 1026.7L516.6 1026.9L517.7 1028.3L518.9 1027.9L520.0 1028.1L521.2 1027.5L522.3 1026.0L523.5 1027.0L524.6 1026.8L525.8 1027.6L526.9 1026.3L528.1 1026.8L529.2 1027.0L530.4 1024.8L531.5 1024.6L532.7 1024.5L533.8 1024.6L535.0 1026.1L536.1 1025.8L537.3 1026.9L538.4 1024.4L539.6 1023.3L540.7 1023.9L541.9 1023.8L543.0 1024.2L544.2 1021.5L545.3 1022.0L546.4 1020.0L547.6 1018.9L548.7 1018.5L549.9 1020.9L551.0 1029.8L552.2 1032.5L553.3 1035.8L554.5 1036.0L555.6 1037.1L556.8 1039.0L557.9 1040.3L559.1 1041.1L560.2 1041.7L561.4 1043.2L562.5 1044.8M570.0 1021.5L571.2 1022.8L572.3 1022.7L573.5 1023.3L574.6 1024.1L575.8 1026.3L576.9 1025.5L578.1 1023.9L579.2 1022.9L580.4 1021.5L581.5 1020.8L582.7 1019.6L583.8 1020.5L585.0 1021.5L586.1 1020.9L587.3 1022.2L588.4 1021.3L589.6 1022.2L590.7 1022.0L591.9 1022.4L593.0 1021.3L594.1 1021.3L595.3 1021.3L596.4 1022.0L597.6 1021.6L598.7 1023.3L599.9 1024.8L601.0 1024.4L602.2 1025.3L603.3 1025.6L604.5 1025.4L605.6 1027.1L606.8 1025.9L607.9 1025.8L609.1 1027.6L610.2 1028.3L611.4 1026.3L612.5 1026.1L613.7 1024.5L614.8 1024.3L616.0 1024.5L617.1 1028.5L618.3 1029.8L619.4 1033.9L620.6 1037.3L621.7 1036.3L622.9 1036.5L624.0 1037.4L625.2 1035.8L626.3 1050.7L627.5 1068.6L628.6 1105.9L629.8 1100.7L630.9 1096.1L632.1 1128.3L633.2 1161.1L634.4 1161.4L635.5 1162.6L636.7 1162.4L637.8 1161.3L638.9 1159.6L640.1 1180.5L641.2 1170.1L642.4 1028.3L643.5 1041.8L644.7 1044.2L645.8 1047.7M651.5 1034.3L652.6 1031.3L653.8 1029.6L654.9 1028.3L656.1 1044.8L657.2 1059.7L658.4 1056.6L659.5 1052.2L660.7 1035.8L661.8 1031.2L663.0 1023.9L664.1 1020.8L665.3 1019.4L666.4 1020.3L667.6 1020.0L668.7 1020.8L669.9 1021.9L671.0 1020.9L672.2 1021.9L673.3 1021.7L674.5 1022.4L675.6 1023.3L676.8 1023.7L677.9 1024.8L679.1 1025.0L680.2 1025.2L681.3 1025.4L682.5 1024.6L683.6 1024.9L684.8 1025.1L685.9 1023.9L687.1 1029.8L688.2 1027.0L689.4 1022.4L690.5 1023.1L691.7 1022.2L692.8 1023.1L694.0 1020.3L695.1 1019.2L696.3 1019.1L697.4 1019.0L698.6 1018.5L699.7 1020.2L700.9 1019.7L702.0 1020.4L703.2 1018.5L704.3 1020.6L705.5 1019.8L706.6 1020.1L707.8 1021.5L708.9 1020.6L710.1 1020.5L711.2 1020.9L712.4 1020.2L713.5 1019.9L714.7 1020.4L715.8 1021.5L717.0 1022.1L718.1 1021.0L719.3 1021.4L720.4 1020.3L721.6 1022.3L722.7 1021.5L723.9 1022.4L725.0 1025.3L726.1 1029.2L727.3 1027.9L728.4 1027.0L729.6 1025.4L730.7 1024.5L731.9 1023.8L733.0 1024.8L734.2 1025.2L735.3 1025.4L736.5 1025.6L737.6 1025.3L738.8 1026.2L739.9 1027.5L741.1 1027.2L742.2 1027.8L743.4 1029.0L744.5 1029.2L745.7 1030.0L746.8 1031.5L748.0 1033.7L749.1 1033.4L750.3 1038.5L751.4 1042.2L752.6 1044.2L753.7 1041.3L754.9 1038.8L756.0 1037.7L757.2 1037.0L758.3 1035.8L759.5 1035.1L760.6 1035.2L761.8 1047.7L762.9 1051.6L764.1 1056.7L765.2 1060.5L766.4 1062.6L767.5 1064.2L768.7 1067.6L769.8 1070.1L770.9 1072.0L772.1 1071.6L773.2 1063.1L774.4 1050.7L775.5 1060.9L776.7 1071.6L777.8 1078.5L779.0 1086.5L780.1 1081.7L781.3 1077.6L782.4 1065.0L783.6 1055.2L784.7 1054.1L785.9 1052.2L787.0 1068.3L788.2 1079.1L789.3 1073.3L790.5 1071.6L791.6 1065.2L792.8 1062.7L793.9 1056.6L795.1 1047.7L796.2 1047.3L797.4 1044.2L798.5 1057.2L799.7 1077.6L800.8 1104.4L802.0 1115.5L803.1 1128.3L804.3 1113.4L805.4 1088.0L806.6 1044.8L807.7 1046.6L808.9 1043.3L810.0 1055.1L811.2 1059.7L812.3 1086.5L813.4 1121.7L814.6 1077.6L815.7 1046.2L816.9 1055.8L818.0 1077.6L819.2 1073.9L820.3 1062.7L821.5 1069.5L822.6 1074.6L823.8 1069.5L824.9 1059.7L826.1 1088.0L827.2 1082.2L828.4 1065.6L829.5 1056.6L830.7 1049.2L831.8 1052.0L833.0 1053.1L834.1 1055.2L835.3 1052.6L836.4 1049.8L837.6 1047.7L838.7 1045.2L839.9 1043.3L841.0 1089.5L842.2 1120.8L843.3 1098.5L844.5 1087.2L845.6 1071.6L846.8 1090.3L847.9 1100.0L849.1 1089.5L850.2 1078.1L851.4 1056.7L852.5 1063.9L853.7 1068.6L854.8 1067.3L856.0 1064.2L857.1 1059.7L858.2 1046.2L859.4 1054.0L860.5 1065.6L861.7 1061.2L862.8 1052.3L864.0 1044.8L865.1 1046.6L866.3 1049.8L867.4 1052.2L868.6 1044.6L869.7 1041.6L870.9 1038.8L872.0 1050.7L873.2 1056.7L874.3 1108.9L875.5 1074.6L876.6 1067.5L877.8 1052.2L878.9 1052.8L880.1 1056.6L881.2 1059.7L882.4 1059.7L883.5 1067.9L884.7 1068.6L885.8 1056.4L887.0 1044.8L888.1 1060.0L889.3 1077.6L890.4 1068.0L891.6 1059.7L892.7 1053.7L893.9 1098.5L895.0 1097.9L896.2 1097.4L897.3 1095.5L898.5 1076.5L899.6 1068.6L900.8 1053.5L901.9 1041.2L903.0 1042.9L904.2 1045.5L905.3 1049.2L906.5 1045.5L907.6 1041.3L908.8 1037.3L909.9 1036.2L911.1 1035.9L912.2 1035.8L913.4 1035.8L914.5 1036.6L915.7 1037.3L916.8 1047.3L918.0 1064.2L919.1 1065.0L920.3 1065.6L921.4 1057.5L922.6 1038.8L923.7 1049.1L924.9 1068.6L926.0 1072.5L927.2 1076.6L928.3 1079.1L929.5 1053.7L930.6 1043.5L931.8 1029.8L932.9 1029.3L934.1 1028.3L935.2 1028.3L936.4 1027.9L937.5 1028.2L938.7 1028.1L939.8 1029.4L941.0 1029.2L942.1 1029.0L943.3 1030.5L944.4 1029.8L945.6 1030.5L946.7 1031.2L947.8 1031.3L949.0 1030.6L950.1 1030.7L951.3 1031.6L952.4 1030.5L953.6 1031.3L954.7 1031.5L955.9 1031.1L957.0 1030.4L958.2 1030.7L959.3 1030.6L960.5 1031.3L961.6 1030.9L962.8 1030.2L963.9 1030.1L965.1 1030.5L966.2 1029.8L967.4 1030.3L968.5 1031.6L969.7 1031.3L970.8 1032.2L972.0 1046.2L973.1 1042.1L974.3 1037.3L975.4 1032.8L976.6 1032.8L977.7 1032.2L978.9 1029.8L980.0 1030.9L981.2 1029.6L982.3 1029.5L983.5 1029.1L984.6 1028.5L985.8 1029.2L986.9 1028.7L988.1 1029.1L989.2 1029.4L990.3 1030.4L991.5 1030.1L992.6 1031.0L993.8 1030.1L994.9 1031.4L996.1 1032.8L997.2 1032.7L998.4 1033.4L999.5 1035.3L1000.7 1036.4L1001.8 1036.2L1003.0 1035.6L1004.1 1035.9L1005.3 1036.4L1006.4 1035.9L1007.6 1034.8L1008.7 1035.3L1009.9 1035.1L1011.0 1033.4L1012.2 1033.7L1013.3 1033.2L1014.5 1033.4L1015.6 1032.2L1016.8 1031.1L1017.9 1030.9L1019.1 1031.1L1020.2 1029.8L1021.4 1030.1L1022.5 1032.2L1023.7 1032.2L1024.8 1032.2L1026.0 1032.4L1027.1 1031.4L1028.3 1034.3L1029.4 1034.7L1030.6 1036.0L1031.7 1037.3L1032.9 1034.7L1034.0 1032.7L1035.1 1031.3L1036.3 1029.9L1037.4 1029.8L1038.6 1029.2L1039.7 1029.0L1040.9 1028.7L1042.0 1028.3L1043.2 1044.8L1044.3 1052.9L1045.5 1061.2L1046.6 1063.4L1047.8 1065.6L1048.9 1068.9L1050.1 1073.1L1051.2 1064.4L1052.4 1059.7L1053.5 1035.8L1054.7 1025.4L1055.8 1025.0L1057.0 1024.6L1058.1 1022.4L1059.3 1022.9L1060.4 1024.1L1061.6 1024.4L1062.7 1023.9L1063.9 1030.9L1065.0 1089.5L1066.2 1211.8L1067.3 1223.8L1068.5 1235.1L1069.6 1214.8L1070.8 1210.4L1071.9 1205.9L1073.1 1191.0L1074.2 1159.6L1075.4 1134.3L1076.5 1131.5L1077.7 1129.8L1078.8 1128.5L1079.9 1125.3L1081.1 1107.4L1082.2 1131.3L1083.4 1145.6L1084.5 1029.8L1085.7 1029.3L1086.8 1025.4L1088.0 1023.6L1089.1 1024.4L1090.3 1023.7L1091.4 1023.9L1092.6 1024.8L1093.7 1025.7L1094.9 1025.4L1096.0 1044.2M1102.6 1023.9L1103.8 1026.3L1104.9 1027.5L1106.1 1025.2L1107.2 1022.4L1108.4 1022.4L1109.5 1023.6L1110.7 1023.9L1111.8 1023.2L1113.0 1024.5L1114.1 1025.4L1115.3 1038.8L1116.4 1047.7L1117.6 1043.7L1118.7 1041.8L1119.9 1064.2L1121.0 1088.9L1122.1 1071.6L1123.3 1056.7L1124.4 1056.1" stroke="#00688B" stroke-width="3.30" fill="none" stroke-linejoin="round" stroke-linecap="round" marker-start="url(#mb46)" marker-mid="url(#mb46)" marker-end="url(#mb46)"/>
<marker id="mb54" markerWidth="10" markerHeight="10" refX="5" refY="5" markerUnits="userSpaceOnUse"><circle cx="5" cy="5" r="2.70" fill="#00688B"/></marker>
<path d="M1207.6 1038.8L1208.8 1036.8L1209.9 1036.9L1211.1 1035.2L1212.2 1039.1L1213.4 1041.8L1214.5 1042.7L1215.7 1042.6L1216.8 1043.6L1218.0 1043.9L1219.1 1044.2L1220.3 1043.8L1221.4 1042.4L1222.6 1041.5L1223.7 1041.6L1224.9 1040.0L1226.0 1040.3L1227.2 1039.7L1228.3 1039.0L1229.5 1038.2L1230.6 1038.2L1231.8 1039.0L1232.9 1036.5L1234.1 1036.4L1235.2 1036.3L1236.4 1036.5L1237.5 1036.2L1238.7 1038.6L1239.8 1039.8L1241.0 1039.4L1242.1 1038.1L1243.3 1037.4L1244.4 1035.8L1245.6 1036.8L1246.7 1035.9L1247.9 1036.8L1249.0 1038.2L1250.2 1037.3L1251.3 1038.2L1252.4 1037.4L1253.6 1035.2L1254.7 1034.4L1255.9 1034.5L1257.0 1034.1L1258.2 1033.4L1259.3 1033.9L1260.5 1033.4L1261.6 1033.8L1262.8 1034.3L1263.9 1034.3L1265.1 1033.1L1266.2 1032.1L1267.4 1032.1L1268.5 1032.0L1269.7 1030.9L1270.8 1031.3L1272.0 1030.9L1273.1 1031.5L1274.3 1032.2L1275.4 1034.8L1276.6 1038.8L1277.7 1042.4L1278.9 1047.7L1280.0 1049.5L1281.2 1055.2L1282.3 1050.0L1283.5 1042.3L1284.6 1035.8L1285.8 1042.1L1286.9 1047.7L1288.1 1051.5L1289.2 1056.1L1290.4 1053.7L1291.5 1046.2L1292.7 1038.8L1293.8 1035.9L1295.0 1032.2L1296.1 1029.8L1297.2 1030.8L1298.4 1032.2L1299.5 1036.4L1300.7 1038.1L1301.8 1041.8L1303.0 1045.9L1304.1 1052.2L1305.3 1048.5L1306.4 1041.5L1307.6 1035.8L1308.7 1039.4L1309.9 1042.1L1311.0 1044.8L1312.2 1036.2L1313.3 1031.3L1314.5 1031.5L1315.6 1033.5L1316.8 1033.8L1317.9 1035.2L1319.1 1033.3L1320.2 1035.0L1321.4 1036.4L1322.5 1034.8L1323.7 1033.6L1324.8 1031.4L1326.0 1031.3L1327.1 1030.9L1328.3 1032.0L1329.4 1034.3L1330.6 1033.5L1331.7 1034.1L1332.9 1035.4L1334.0 1037.3L1335.2 1037.0L1336.3 1036.9L1337.5 1034.4L1338.6 1033.4L1339.7 1031.5L1340.9 1030.8L1342.0 1031.3L1343.2 1032.7L1344.3 1033.7L1345.5 1035.0L1346.6 1036.4L1347.8 1039.4L1348.9 1044.2L1350.1 1044.9L1351.2 1048.2L1352.4 1049.2L1353.5 1046.7L1354.7 1043.6L1355.8 1041.8L1357.0 1039.0L1358.1 1039.1L1359.3 1035.2L1360.4 1036.7L1361.6 1036.8L1362.7 1037.7L1363.9 1038.8L1365.0 1035.8L1366.2 1037.4L1367.3 1036.9L1368.5 1035.8L1369.6 1038.7L1370.8 1041.3L1371.9 1042.0L1373.1 1042.4L1374.2 1041.4L1375.4 1039.7L1376.5 1039.8L1377.7 1038.8L1378.8 1039.0L1380.0 1038.9L1381.1 1039.6L1382.3 1039.1L1383.4 1037.3L1384.5 1038.7L1385.7 1039.4L1386.8 1038.4L1388.0 1040.3L1389.1 1039.4L1390.3 1041.0L1391.4 1041.9L1392.6 1042.4L1393.7 1041.5L1394.9 1042.7L1396.0 1044.1L1397.2 1044.8L1398.3 1044.0L1399.5 1045.1L1400.6 1045.1L1401.8 1043.3L1402.9 1041.3L1404.1 1039.9L1405.2 1040.1L1406.4 1038.2L1407.5 1039.2L1408.7 1037.8L1409.8 1036.9L1411.0 1035.8L1412.1 1033.9L1413.3 1034.0L1414.4 1034.3L1415.6 1033.0L1416.7 1033.4L1417.9 1033.0L1419.0 1033.0L1420.2 1032.3L1421.3 1032.1L1422.5 1034.3L1423.6 1032.9L1424.8 1033.7L1425.9 1032.4L1427.1 1032.9L1428.2 1033.4L1429.3 1033.2L1430.5 1032.9L1431.6 1032.5L1432.8 1033.4L1433.9 1035.2L1435.1 1034.5L1436.2 1034.1L1437.4 1034.1L1438.5 1034.0L1439.7 1033.9L1440.8 1033.4L1442.0 1032.2L1443.1 1032.0L1444.3 1031.9L1445.4 1030.9L1446.6 1032.2L1447.7 1032.5L1448.9 1031.5L1450.0 1030.2L1451.2 1030.7L1452.3 1029.8L1453.5 1029.2L1454.6 1029.3L1455.8 1029.4L1456.9 1030.4L1458.1 1031.3L1459.2 1032.6L1460.4 1033.0L1461.5 1034.1L1462.7 1036.4L1463.8 1035.4L1465.0 1034.1L1466.1 1032.8L1467.3 1031.4L1468.4 1029.0L1469.6 1029.6L1470.7 1028.9L1471.9 1030.5L1473.0 1029.3L1474.1 1029.6L1475.3 1029.5L1476.4 1029.7L1477.6 1028.9" stroke="#00688B" stroke-width="3.48" fill="none" stroke-linejoin="round" stroke-linecap="round" marker-start="url(#mb54)" marker-mid="url(#mb54)" marker-end="url(#mb54)"/>
<marker id="mb57" markerWidth="10" markerHeight="10" refX="5" refY="5" markerUnits="userSpaceOnUse"><circle cx="5" cy="5" r="2.85" fill="#00688B"/></marker>
<path d="M1536.5 1031.3L1537.6 1033.0L1538.8 1035.2L1539.9 1035.3L1541.1 1036.3L1542.2 1035.9L1543.3 1035.7L1544.5 1035.8L1545.6 1035.3L1546.8 1036.2L1547.9 1036.1L1549.1 1035.8L1550.2 1036.1L1551.4 1036.4L1552.5 1035.6L1553.7 1035.4L1554.8 1035.4L1556.0 1036.1L1557.1 1035.8L1558.3 1036.2L1559.4 1036.5L1560.6 1036.6L1561.7 1036.4L1562.9 1036.1L1564.0 1036.8L1565.2 1037.1L1566.3 1037.2L1567.5 1037.3L1568.6 1037.4L1569.8 1037.2L1570.9 1037.9L1572.1 1037.3L1573.2 1037.4L1574.4 1037.4L1575.5 1038.1L1576.7 1037.6L1577.8 1037.6L1579.0 1037.7L1580.1 1038.0L1581.3 1037.0L1582.4 1037.8L1583.6 1037.6L1584.7 1037.9L1585.8 1037.7L1587.0 1038.2L1588.1 1038.1L1589.3 1038.3L1590.4 1038.6L1591.6 1038.5L1592.7 1038.7L1593.9 1039.1L1595.0 1039.1L1596.2 1040.1L1597.3 1039.2L1598.5 1040.0L1599.6 1040.2L1600.8 1040.6L1601.9 1040.3L1603.1 1039.8L1604.2 1040.3L1605.4 1041.1L1606.5 1041.4L1607.7 1041.8L1608.8 1041.4L1610.0 1041.6L1611.1 1041.7L1612.3 1041.9L1613.4 1042.4L1614.6 1043.3L1615.7 1043.9L1616.9 1043.4L1618.0 1043.2L1619.2 1043.1L1620.3 1044.2L1621.5 1043.4L1622.6 1043.3L1623.8 1043.0L1624.9 1043.6L1626.1 1043.1L1627.2 1043.3L1628.4 1043.2L1629.5 1043.0L1630.6 1043.9L1631.8 1044.6L1632.9 1044.8M1648.9 1042.4L1650.1 1043.6L1651.2 1041.9L1652.4 1041.3L1653.5 1041.1L1654.7 1041.8L1655.8 1040.6L1657.0 1039.7L1658.1 1039.3L1659.3 1037.0L1660.4 1038.2L1661.6 1040.0L1662.7 1040.7L1663.9 1040.8L1665.0 1041.8L1666.2 1041.0L1667.3 1041.9L1668.5 1045.1L1669.6 1045.2L1670.8 1044.2L1671.9 1045.5L1673.1 1044.1L1674.2 1044.4L1675.4 1044.8L1676.5 1043.6L1677.7 1043.3L1678.8 1042.4L1680.0 1041.2L1681.1 1041.2L1682.3 1039.6L1683.4 1038.3L1684.6 1038.2L1685.7 1038.1L1686.8 1038.3L1688.0 1037.2L1689.1 1037.3L1690.3 1041.0L1691.4 1043.3L1692.6 1041.2L1693.7 1039.2L1694.9 1038.2L1696.0 1036.6L1697.2 1034.1L1698.3 1033.2L1699.5 1034.0L1700.6 1035.8L1701.8 1035.6L1702.9 1034.8L1704.1 1034.3L1705.2 1034.6L1706.4 1034.3L1707.5 1034.5L1708.7 1033.1L1709.8 1032.5L1711.0 1032.0L1712.1 1032.2L1713.3 1030.7L1714.4 1030.9L1715.6 1031.3L1716.7 1031.3L1717.9 1036.2L1719.0 1040.3L1720.2 1037.7L1721.3 1031.3L1722.5 1032.7L1723.6 1031.9L1724.8 1033.4L1725.9 1034.6L1727.1 1035.1L1728.2 1036.4L1729.4 1034.8L1730.5 1033.8L1731.6 1033.1L1732.8 1033.2L1733.9 1032.2L1735.1 1030.6L1736.2 1031.1L1737.4 1030.3L1738.5 1028.2L1739.7 1028.3L1740.8 1026.8L1742.0 1028.4L1743.1 1027.8L1744.3 1026.3L1745.4 1026.3L1746.6 1024.5L1747.7 1023.9L1748.9 1027.8L1750.0 1038.8L1751.2 1031.7L1752.3 1025.4L1753.5 1025.6L1754.6 1023.3L1755.8 1023.9L1756.9 1023.8L1758.1 1023.2L1759.2 1023.8L1760.4 1023.3L1761.5 1024.2L1762.7 1024.6L1763.8 1022.8L1765.0 1023.3L1766.1 1041.8L1767.3 1055.2L1768.4 1061.2L1769.6 1068.6L1770.7 1080.0L1771.9 1073.1L1773.0 1059.7M1775.2 1025.4L1776.3 1024.3L1777.5 1023.8L1778.6 1021.5L1779.7 1023.7L1780.9 1022.0L1782.0 1022.4L1783.2 1022.5L1784.3 1022.5L1785.5 1021.4L1786.6 1019.4L1787.8 1018.8L1788.9 1017.6L1790.1 1017.5L1791.2 1017.9L1792.4 1018.4L1793.5 1018.6L1794.7 1018.6L1795.8 1017.9M1803.5 1016.4L1804.6 1015.3L1805.8 1014.6L1806.9 1014.5L1808.1 1013.5L1809.2 1014.2L1810.4 1014.3L1811.5 1015.0L1812.7 1014.5L1813.8 1013.6L1815.0 1013.9L1816.1 1014.3L1817.3 1014.6L1818.4 1015.1L1819.6 1014.9L1820.7 1015.2L1821.9 1014.5L1823.0 1013.6L1824.2 1013.5L1825.3 1013.2L1826.5 1013.6L1827.6 1013.5L1828.8 1013.4L1829.9 1013.9L1831.1 1014.2L1832.2 1013.5L1833.4 1014.3L1834.5 1013.8L1835.7 1014.0L1836.8 1014.9L1838.0 1014.3L1839.1 1014.1L1840.3 1014.0L1841.4 1015.2L1842.6 1015.6L1843.7 1015.3L1844.9 1015.3L1846.0 1016.6L1847.1 1017.3L1848.3 1017.7L1849.4 1018.4L1850.6 1017.6L1851.7 1017.4L1852.9 1017.9L1854.0 1017.1L1855.2 1017.9L1856.3 1016.5L1857.5 1017.0L1858.6 1017.3L1859.8 1016.3L1860.9 1016.2L1862.1 1016.4L1863.2 1015.4L1864.4 1015.5L1865.5 1016.2L1866.7 1017.3L1867.8 1017.1L1869.0 1017.2L1870.1 1016.6L1871.3 1016.9L1872.4 1017.0L1873.6 1017.9L1874.7 1018.6L1875.9 1019.2L1877.0 1019.8L1878.2 1020.1L1879.3 1020.9L1880.5 1020.8L1881.6 1020.6L1882.8 1020.9L1883.9 1020.7L1885.1 1020.4L1886.2 1019.5L1887.4 1017.8L1888.5 1018.5L1889.7 1017.6L1890.8 1018.3L1891.9 1017.4L1893.1 1017.5L1894.2 1017.3L1895.4 1018.6L1896.5 1018.1L1897.7 1017.9L1898.8 1017.0L1900.0 1016.0L1901.1 1016.9L1902.3 1016.6L1903.4 1016.7L1904.6 1015.3L1905.7 1015.6L1906.9 1015.5L1908.0 1015.3L1909.2 1016.5L1910.3 1016.7L1911.5 1016.4L1912.6 1015.9L1913.8 1016.6L1914.9 1016.4L1916.1 1016.9L1917.2 1016.6L1918.4 1016.7L1919.5 1016.3L1920.7 1015.2L1921.8 1015.3L1923.0 1015.4L1924.1 1015.5L1925.3 1015.3L1926.4 1014.8L1927.6 1014.8L1928.7 1014.5L1929.9 1015.3L1931.0 1014.9L1932.2 1013.7L1933.3 1014.3L1934.5 1013.6L1935.6 1014.3L1936.7 1014.0L1937.9 1014.4L1939.0 1013.8L1940.2 1014.9L1941.3 1015.7L1942.5 1017.1L1943.6 1018.1L1944.8 1018.5M1962.2 1017.9L1963.4 1017.6L1964.5 1017.2L1965.7 1017.4L1966.8 1018.4L1968.0 1017.3L1969.1 1018.5L1970.3 1018.2L1971.4 1017.7L1972.6 1018.2L1973.7 1017.3L1974.9 1018.5L1976.0 1019.6L1977.2 1019.3L1978.3 1018.5L1979.5 1019.7L1980.6 1020.1L1981.8 1021.3L1982.9 1021.5L1984.1 1024.6L1985.2 1028.3L1986.4 1026.5L1987.5 1025.9L1988.7 1025.0L1989.8 1024.5L1991.0 1024.8L1992.1 1023.7L1993.2 1024.9L1994.4 1025.4L1995.5 1025.7L1996.7 1024.7L1997.8 1024.8L1999.0 1023.3L2000.1 1023.9L2001.3 1024.6L2002.4 1026.2L2003.6 1026.9L2004.7 1025.5L2005.9 1023.9L2007.0 1024.2L2008.2 1025.1L2009.3 1027.5L2010.5 1028.7L2011.6 1030.9L2012.8 1031.3L2013.9 1028.2L2015.1 1026.3L2016.2 1025.8L2017.4 1023.6L2018.5 1024.1L2019.7 1023.9L2020.8 1024.3L2022.0 1026.6L2023.1 1027.5L2024.3 1027.5L2025.4 1029.6L2026.6 1030.0L2027.7 1031.6L2028.9 1031.3L2030.0 1033.7L2031.2 1036.4L2032.3 1035.8L2033.5 1034.4L2034.6 1033.8L2035.8 1032.2L2036.9 1033.4L2038.0 1032.1L2039.2 1031.0L2040.3 1028.3L2041.5 1028.5L2042.6 1028.6L2043.8 1029.0L2044.9 1029.8L2046.1 1031.4L2047.2 1033.1L2048.4 1034.4L2049.5 1034.3L2050.7 1035.0L2051.8 1034.8L2053.0 1036.4L2054.1 1033.9L2055.3 1032.1L2056.4 1031.3L2057.6 1032.8L2058.7 1032.9L2059.9 1032.8L2061.0 1033.9L2062.2 1033.9L2063.3 1034.8L2064.5 1036.4L2065.6 1053.7L2066.8 1071.6L2067.9 1076.1L2069.1 1059.7L2070.2 1037.3L2071.4 1054.7L2072.5 1070.1L2073.7 1068.6L2074.8 1038.8L2076.0 1047.7L2077.1 1043.1L2078.3 1037.3L2079.4 1034.3L2080.5 1035.8L2081.7 1036.4L2082.8 1035.8L2084.0 1037.8L2085.1 1038.8L2086.3 1036.6L2087.4 1035.7L2088.6 1035.3L2089.7 1034.3L2090.9 1032.3L2092.0 1032.9L2093.2 1030.4L2094.3 1029.8L2095.5 1029.8L2096.6 1028.9L2097.8 1028.9L2098.9 1028.3L2100.1 1028.9L2101.2 1028.8L2102.4 1031.0L2103.5 1031.3L2104.7 1031.6L2105.8 1030.1L2107.0 1030.1L2108.1 1029.2L2109.3 1028.0L2110.4 1028.2L2111.6 1027.8L2112.7 1027.5L2113.9 1026.7L2115.0 1026.6L2116.2 1025.5L2117.3 1026.3L2118.5 1026.9L2119.6 1026.6L2120.8 1026.9L2121.9 1025.5L2123.1 1025.3L2124.2 1026.3L2125.3 1025.9L2126.5 1026.7L2127.6 1027.3L2128.8 1025.1L2129.9 1023.9L2131.1 1023.8L2132.2 1024.3L2133.4 1024.4L2134.5 1024.9L2135.7 1026.9L2136.8 1026.5L2138.0 1026.1L2139.1 1026.2L2140.3 1025.5L2141.4 1025.9L2142.6 1025.4L2143.7 1025.7L2144.9 1024.2L2146.0 1023.7L2147.2 1023.4L2148.3 1023.9L2149.5 1023.6L2150.6 1024.3L2151.8 1024.4L2152.9 1022.4L2154.1 1022.4L2155.2 1022.5L2156.4 1022.4L2157.5 1022.4L2158.7 1023.3L2159.8 1024.0L2161.0 1024.5L2162.1 1026.6L2163.3 1026.9L2164.4 1025.6L2165.6 1027.1L2166.7 1026.1L2167.9 1027.8L2169.0 1026.3L2170.1 1025.5L2171.3 1024.4L2172.4 1023.6L2173.6 1023.9M2178.0 1022.4L2179.1 1022.3L2180.3 1021.2L2181.4 1021.0L2182.6 1021.5L2183.7 1034.3L2184.8 1035.3L2186.0 1036.7L2187.1 1037.3L2188.3 1036.6L2189.4 1035.2L2190.6 1030.0L2191.7 1023.3L2192.9 1023.1L2194.0 1022.9L2195.2 1022.7L2196.3 1022.4L2197.5 1022.0L2198.6 1021.8L2199.8 1022.5L2200.9 1021.7L2202.1 1021.5L2203.2 1020.5L2204.4 1020.9L2205.5 1020.6L2206.7 1020.0L2207.8 1019.9L2209.0 1020.3L2210.1 1020.2L2211.3 1020.2L2212.4 1021.0L2213.6 1021.0L2214.7 1020.7L2215.9 1021.3L2217.0 1021.5L2218.2 1021.3L2219.3 1020.5L2220.5 1021.0L2221.6 1021.3L2222.8 1021.0L2223.9 1020.9L2225.1 1020.7L2226.2 1020.9L2227.4 1020.5L2228.5 1019.4L2229.6 1019.9L2230.8 1020.5L2231.9 1021.2L2233.1 1020.6L2234.2 1020.3L2235.4 1019.7L2236.5 1021.0L2237.7 1020.9L2238.8 1020.8L2240.0 1021.4L2241.1 1020.9M2246.6 1020.3L2247.7 1021.1L2248.9 1021.2L2250.0 1021.5L2251.2 1021.5L2252.3 1021.0L2253.5 1023.3L2254.6 1022.1L2255.8 1022.4L2256.9 1021.5L2258.1 1021.5L2259.2 1022.2L2260.4 1021.2L2261.5 1020.4L2262.7 1021.5L2263.8 1020.5L2265.0 1021.4L2266.1 1020.7L2267.3 1020.9L2268.4 1021.4L2269.6 1021.3L2270.7 1021.1L2271.9 1021.1L2273.0 1021.2L2274.2 1021.3L2275.3 1021.5L2276.4 1020.9L2277.6 1022.0L2278.7 1021.6L2279.9 1021.5L2281.0 1023.4L2282.2 1023.9L2283.3 1047.7L2284.5 1025.4L2285.6 1025.0L2286.8 1023.4L2287.9 1023.6L2289.1 1023.9L2290.2 1023.9L2291.4 1025.6L2292.5 1028.2L2293.7 1029.8L2294.8 1033.3L2296.0 1035.2L2297.1 1027.1L2298.3 1023.3L2299.4 1024.6L2300.6 1024.3L2301.7 1023.4L2302.9 1024.5L2304.0 1025.3L2305.2 1025.6L2306.3 1027.5L2307.5 1025.8L2308.6 1025.1L2309.8 1024.1L2310.9 1023.3L2312.1 1024.0L2313.2 1024.1L2314.4 1024.9L2315.5 1024.5L2316.7 1026.2L2317.8 1025.8L2319.0 1026.0L2320.1 1025.9L2321.2 1026.3L2322.4 1028.8L2323.5 1035.6L2324.7 1038.8L2325.8 1040.3L2327.0 1033.6L2328.1 1026.3L2329.3 1025.4L2330.4 1025.8L2331.6 1026.3L2332.7 1026.4L2333.9 1025.4L2335.0 1025.2L2336.2 1025.8L2337.3 1026.1L2338.5 1026.4L2339.6 1028.3L2340.8 1027.3L2341.9 1027.7L2343.1 1025.4L2344.2 1024.5L2345.4 1024.9L2346.5 1024.6L2347.7 1023.5L2348.8 1023.9L2350.0 1024.9L2351.1 1024.5L2352.3 1024.6L2353.4 1025.2L2354.6 1026.3L2355.7 1025.9L2356.9 1025.7L2358.0 1025.2L2359.2 1025.8L2360.3 1025.4L2361.5 1026.0L2362.6 1026.2L2363.7 1026.5L2364.9 1026.8L2366.0 1027.5L2367.2 1026.4L2368.3 1027.4L2369.5 1027.0L2370.6 1027.3L2371.8 1026.0L2372.9 1026.3L2374.1 1024.7L2375.2 1025.5L2376.4 1024.7L2377.5 1024.6L2378.7 1023.9L2379.8 1023.4L2381.0 1024.0L2382.1 1023.9L2383.3 1023.0L2384.4 1023.3L2385.6 1022.9L2386.7 1022.3L2387.9 1023.0L2389.0 1024.3L2390.2 1024.5L2391.3 1025.8L2392.5 1024.1L2393.6 1025.5L2394.8 1026.3L2395.9 1026.8L2397.1 1027.3L2398.2 1028.4L2399.4 1029.2L2400.5 1028.1L2401.7 1028.0L2402.8 1026.3L2404.0 1026.3L2405.1 1025.2L2406.3 1026.3L2407.4 1025.1L2408.5 1025.4L2409.7 1025.1L2410.8 1025.0L2412.0 1023.8L2413.1 1023.9L2414.3 1024.7L2415.4 1024.7L2416.6 1023.5L2417.7 1023.3L2418.9 1022.5L2420.0 1023.1L2421.2 1023.9M2424.7 1029.2L2425.9 1027.4L2427.0 1028.0L2428.2 1026.8L2429.3 1026.9L2430.5 1026.6L2431.6 1027.4L2432.8 1028.2L2433.9 1028.2L2435.0 1028.3L2436.2 1029.3L2437.3 1028.9L2438.5 1028.5L2439.6 1028.1L2440.8 1028.3M2446.5 1029.2h0M2469.5 1028.9h0M2476.3 1029.8L2477.5 1031.0L2478.6 1030.0L2479.8 1030.0L2480.9 1031.3L2482.1 1031.2L2483.2 1030.3L2484.4 1029.7L2485.5 1029.2L2486.7 1029.3L2487.8 1030.1L2489.0 1031.1L2490.1 1032.2L2491.3 1032.4L2492.4 1033.0L2493.6 1034.1L2494.7 1034.3L2495.9 1033.9L2497.0 1033.0L2498.2 1033.4L2499.3 1032.1L2500.5 1031.3L2501.6 1031.8L2502.7 1031.0L2503.9 1032.5L2505.0 1032.2L2506.2 1031.3L2507.3 1031.8L2508.5 1032.0L2509.6 1032.3L2510.8 1031.3L2511.9 1032.6L2513.1 1032.8L2514.2 1034.0L2515.4 1035.3L2516.5 1035.4L2517.7 1036.4L2518.8 1037.3L2520.0 1037.8L2521.1 1036.6L2522.3 1035.0L2523.4 1034.3L2524.6 1033.4L2525.7 1033.5L2526.9 1031.5L2528.0 1032.2L2529.2 1030.0L2530.3 1031.0L2531.5 1029.5L2532.6 1030.1L2533.8 1029.8L2534.9 1029.7L2536.1 1028.8L2537.2 1028.7L2538.4 1028.5L2539.5 1027.5L2540.7 1027.0L2541.8 1027.7L2543.0 1027.8L2544.1 1029.2L2545.3 1028.7L2546.4 1028.1L2547.5 1027.3L2548.7 1026.9L2549.8 1025.1L2551.0 1025.4L2552.1 1028.0L2553.3 1030.4M2563.5 1025.1h0M2568.8 1024.5L2570.0 1024.2L2571.1 1024.9L2572.3 1025.9L2573.4 1026.7L2574.6 1027.6L2575.7 1026.3L2576.9 1027.0L2578.0 1026.9L2579.2 1026.8L2580.3 1026.4L2581.5 1026.3L2582.6 1026.6L2583.8 1025.0L2584.9 1025.8L2586.1 1026.3L2587.2 1025.4L2588.4 1025.8L2589.5 1025.7L2590.6 1024.9L2591.8 1024.5L2592.9 1025.9L2594.1 1027.0L2595.2 1028.2L2596.4 1028.3L2597.5 1028.1L2598.7 1028.3L2599.8 1029.1L2601.0 1029.9L2602.1 1029.2L2603.3 1029.5L2604.4 1030.6L2605.6 1029.8L2606.7 1038.8L2607.9 1040.3L2609.0 1035.3L2610.2 1029.2L2611.3 1029.6L2612.5 1029.7L2613.6 1029.8L2614.8 1029.4L2615.9 1028.9L2617.1 1030.2L2618.2 1030.4L2619.4 1031.0L2620.5 1031.3L2621.7 1031.3L2622.8 1030.8L2624.0 1029.7L2625.1 1030.4L2626.3 1029.8L2627.4 1030.1L2628.6 1029.7L2629.7 1028.8L2630.9 1029.8L2632.0 1028.3L2633.2 1028.4L2634.3 1027.4L2635.4 1027.0L2636.6 1026.3L2637.7 1026.3L2638.9 1025.1L2640.0 1024.9L2641.2 1026.0L2642.3 1024.5L2643.5 1024.5L2644.6 1024.8L2645.8 1024.9L2646.9 1026.3L2648.1 1025.0L2649.2 1025.7L2650.4 1026.4L2651.5 1024.8L2652.7 1023.9L2653.8 1024.9L2655.0 1025.4L2656.1 1027.2L2657.3 1028.3L2658.4 1028.2L2659.6 1029.6L2660.7 1028.9L2661.9 1029.8L2663.0 1030.6L2664.2 1030.9L2665.3 1030.5L2666.5 1030.0L2667.6 1029.8L2668.8 1029.6L2669.9 1030.0L2671.1 1029.3L2672.2 1029.9L2673.4 1030.1L2674.5 1028.3L2675.7 1027.4L2676.8 1029.2L2678.0 1028.5L2679.1 1028.9L2680.2 1029.0L2681.4 1028.6L2682.5 1029.6L2683.7 1028.0L2684.8 1029.4L2686.0 1029.2L2687.1 1028.4L2688.3 1029.5L2689.4 1029.2L2690.6 1026.9L2691.7 1027.2L2692.9 1026.9L2694.0 1026.3L2695.2 1024.8L2696.3 1024.5L2697.5 1024.9L2698.6 1025.2L2699.8 1024.1L2700.9 1024.5L2702.1 1024.3L2703.2 1024.1L2704.4 1024.6L2705.5 1023.8L2706.7 1024.2L2707.8 1024.1L2709.0 1023.9L2710.1 1023.9L2711.3 1024.3L2712.4 1023.8L2713.6 1023.4L2714.7 1022.3L2715.9 1022.3L2717.0 1021.5L2718.2 1021.7L2719.3 1020.9L2720.5 1020.8L2721.6 1019.8L2722.8 1019.4L2723.9 1019.3L2725.0 1019.6L2726.2 1019.9L2727.3 1020.1L2728.5 1020.6L2729.6 1019.9L2730.8 1020.3L2731.9 1019.6L2733.1 1019.7L2734.2 1019.8L2735.4 1020.7L2736.5 1021.9L2737.7 1021.3L2738.8 1020.9L2740.0 1020.9L2741.1 1021.4L2742.3 1020.5L2743.4 1019.5L2744.6 1019.5L2745.7 1020.3L2746.9 1019.8L2748.0 1019.7L2749.2 1019.9L2750.3 1020.3L2751.5 1020.7L2752.6 1020.2L2753.8 1019.3L2754.9 1019.7L2756.1 1020.1L2757.2 1022.1L2758.4 1021.5L2759.5 1023.6L2760.7 1024.9L2761.8 1025.4L2763.0 1031.1L2764.1 1035.8L2765.3 1039.4L2766.4 1043.3L2767.5 1044.7L2768.7 1045.6L2769.8 1047.7L2771.0 1035.8L2772.1 1022.4L2773.3 1022.9L2774.4 1022.1L2775.6 1021.9L2776.7 1020.6L2777.9 1021.5L2779.0 1021.9L2780.2 1023.3L2781.3 1025.6L2782.5 1025.4L2783.6 1025.5L2784.8 1027.1L2785.9 1028.2L2787.1 1027.5L2788.2 1027.2L2789.4 1026.9L2790.5 1028.0L2791.7 1029.2L2792.8 1028.6L2794.0 1027.1L2795.1 1028.0L2796.3 1027.5L2797.4 1025.5L2798.6 1025.6L2799.7 1025.6L2800.9 1024.8L2802.0 1023.3L2803.2 1023.4L2804.3 1023.9L2805.5 1024.7L2806.6 1026.3L2807.8 1025.5L2808.9 1025.6L2810.1 1024.6L2811.2 1024.5L2812.3 1023.9L2813.5 1024.1L2814.6 1025.5L2815.8 1026.9L2816.9 1026.3L2818.1 1026.3L2819.2 1025.2L2820.4 1024.6L2821.5 1024.3L2822.7 1023.3L2823.8 1023.7L2825.0 1023.2L2826.1 1023.7L2827.3 1024.5L2828.4 1024.1L2829.6 1025.5L2830.7 1025.8L2831.9 1026.5L2833.0 1026.9L2834.2 1028.4L2835.3 1029.9L2836.5 1031.7L2837.6 1033.4L2838.8 1031.1L2839.9 1030.7L2841.1 1029.2L2842.2 1029.3L2843.4 1029.2L2844.5 1029.8L2845.7 1029.2L2846.8 1029.8L2848.0 1028.2L2849.1 1027.4L2850.3 1027.0L2851.4 1025.8L2852.6 1025.4L2853.7 1025.7L2854.9 1025.4L2856.0 1026.3L2857.1 1026.9L2858.3 1028.8L2859.4 1030.4L2860.6 1031.4L2861.7 1031.3L2862.9 1035.5L2864.0 1038.5L2865.2 1040.3L2866.3 1040.7L2867.5 1041.8L2868.6 1035.7L2869.8 1032.8L2870.9 1032.8L2872.1 1032.0L2873.2 1031.3L2874.4 1030.4L2875.5 1029.9L2876.7 1029.3L2877.8 1030.3L2879.0 1029.2L2880.1 1028.3L2881.3 1029.2L2882.4 1030.8L2883.6 1032.1L2884.7 1032.2L2885.9 1033.8L2887.0 1037.9L2888.2 1040.3L2889.3 1035.7L2890.5 1034.3L2891.6 1032.9L2892.8 1033.0L2893.9 1031.0L2895.1 1029.8L2896.2 1028.9L2897.4 1028.3L2898.5 1027.7L2899.7 1028.7L2900.8 1028.2L2901.9 1029.2" stroke="#00688B" stroke-width="3.75" fill="none" stroke-linejoin="round" stroke-linecap="round" marker-start="url(#mb57)" marker-mid="url(#mb57)" marker-end="url(#mb57)"/>
<marker id="mg48" markerWidth="10" markerHeight="10" refX="5" refY="5" markerUnits="userSpaceOnUse"><circle cx="5" cy="5" r="2.40" fill="#1E8C0A"/></marker>
<path d="M331.3 1405.3L332.5 1406.3L333.6 1405.7L334.8 1405.4L335.9 1405.5M339.7 1408.2L340.8 1407.1L342.0 1404.7L343.1 1403.5L344.3 1402.3L345.4 1402.4L346.6 1401.3L347.7 1402.2L348.9 1400.5L350.0 1401.8L351.2 1401.7L352.3 1403.0L353.5 1404.2L354.6 1404.7L355.8 1406.2L356.9 1408.4L358.1 1414.7L359.2 1424.8L360.4 1429.8L361.5 1436.3L362.7 1443.5L363.8 1447.6L365.0 1451.1L366.1 1455.1L367.3 1456.8L368.4 1456.8L369.5 1457.1L370.7 1456.7L371.8 1455.8L373.0 1455.2L374.1 1454.9L375.3 1455.4L376.4 1456.2L377.6 1456.5L378.7 1455.5L379.9 1454.3L381.0 1455.8L382.2 1454.1L383.3 1429.9L384.5 1411.8L385.6 1409.2L386.8 1409.3L387.9 1409.6L389.1 1408.4L390.2 1408.1L391.4 1408.2L392.5 1408.1L393.7 1409.2L394.8 1409.9L396.0 1411.5L397.1 1408.4L398.3 1408.5L399.4 1409.6L400.6 1408.5L401.7 1408.8L402.9 1408.4L404.0 1410.2L405.2 1410.4L406.3 1412.7L407.5 1414.1L408.6 1413.0L409.8 1411.6L410.9 1410.2L412.1 1411.2L413.2 1411.7L414.3 1411.6L415.5 1411.7L416.6 1412.4L417.8 1412.0L418.9 1413.0L420.1 1412.9L421.2 1412.1L422.4 1410.7L423.5 1410.4L424.7 1409.1L425.8 1408.2L427.0 1407.3L428.1 1407.9L429.3 1409.2L430.4 1409.1L431.6 1408.6L432.7 1408.6L433.9 1420.7L435.0 1416.5L436.2 1408.1L437.3 1410.9L438.5 1417.8L439.6 1425.2L440.8 1415.7L441.9 1408.6L443.1 1409.2L444.2 1409.1L445.4 1407.0L446.5 1407.9L447.7 1408.3L448.8 1409.6L450.0 1415.1L451.1 1421.6L452.3 1436.0L453.4 1454.7L454.6 1464.6L455.7 1435.6L456.9 1433.7L458.0 1430.1L459.1 1426.0L460.3 1421.8L461.4 1424.3L462.6 1426.3L463.7 1427.3L464.9 1428.8L466.0 1431.3L467.2 1432.1L468.3 1412.2L469.5 1411.1L470.6 1411.2L471.8 1409.6L472.9 1410.7L474.1 1411.1L475.2 1409.5L476.4 1409.4L477.5 1408.4L478.7 1408.1L479.8 1407.4L481.0 1408.9L482.1 1410.1L483.3 1411.1L484.4 1409.6L485.6 1413.0L486.7 1414.6L487.9 1414.2L489.0 1413.7L490.2 1412.4L491.3 1411.0L492.5 1410.2L493.6 1408.7L494.8 1408.9L495.9 1409.9L497.1 1409.0L498.2 1409.2L499.4 1409.4L500.5 1408.5L501.7 1408.1L502.8 1407.5L503.9 1407.2L505.1 1407.0L506.2 1406.0L507.4 1406.9L508.5 1407.1L509.7 1407.0L510.8 1406.2L512.0 1406.8L513.1 1405.4L514.3 1406.6L515.4 1407.6L516.6 1407.8L517.7 1409.5L518.9 1409.2L520.0 1409.6L521.2 1409.1L522.3 1408.1L523.5 1409.3L524.6 1409.4L525.8 1410.6L526.9 1409.4L528.1 1410.1L529.2 1410.4L530.4 1408.3L531.5 1408.1L532.7 1408.1L533.8 1408.2L535.0 1409.6L536.1 1409.2L537.3 1410.3L538.4 1407.7L539.6 1406.4L540.7 1406.7L541.9 1406.6L543.0 1406.9L544.2 1404.0L545.3 1404.5L546.4 1402.5L547.6 1401.5L548.7 1401.1L549.9 1403.5L551.0 1412.5L552.2 1415.2L553.3 1418.7L554.5 1419.0L555.6 1420.2L556.8 1422.2L557.9 1423.7L559.1 1424.5L560.2 1425.2L561.4 1426.7L562.5 1428.4M570.0 1405.4L571.2 1406.8L572.3 1406.7L573.5 1407.3L574.6 1408.4L575.8 1410.8L576.9 1410.3L578.1 1409.0L579.2 1408.4L580.4 1407.3L581.5 1406.6L582.7 1405.4L583.8 1406.4L585.0 1407.3L586.1 1406.7L587.3 1407.9L588.4 1407.0L589.6 1407.8L590.7 1407.6L591.9 1407.8L593.0 1406.8L594.1 1406.8L595.3 1406.8L596.4 1407.6L597.6 1407.2L598.7 1408.9L599.9 1410.4L601.0 1410.1L602.2 1411.1L603.3 1411.4L604.5 1411.2L605.6 1413.0L606.8 1411.9L607.9 1411.9L609.1 1413.7L610.2 1414.6L611.4 1412.6L612.5 1412.3L613.7 1410.7L614.8 1410.5L616.0 1410.6L617.1 1414.7L618.3 1416.0L619.4 1420.1L620.6 1423.5L621.7 1422.5L622.9 1422.8L624.0 1423.6L625.2 1422.1L626.3 1437.0L627.5 1454.8L628.6 1492.1L629.8 1486.8L630.9 1482.1L632.1 1514.3L633.2 1547.2L634.4 1547.4L635.5 1548.7L636.7 1548.4L637.8 1547.4L638.9 1545.7L640.1 1566.6L641.2 1556.2L642.4 1414.5L643.5 1427.9L644.7 1430.3L645.8 1433.7M651.5 1420.9L652.6 1417.8L653.8 1415.9L654.9 1414.6L656.1 1430.9L657.2 1445.6L658.4 1442.5L659.5 1438.0L660.7 1421.4L661.8 1416.6L663.0 1409.2L664.1 1405.8L665.3 1404.3L666.4 1405.0L667.6 1404.6L668.7 1405.4L669.9 1406.4L671.0 1405.4L672.2 1406.3L673.3 1406.0L674.5 1406.6L675.6 1407.3L676.8 1407.7L677.9 1408.6L679.1 1408.6L680.2 1408.7L681.3 1408.7L682.5 1407.9L683.6 1408.3L684.8 1408.6L685.9 1407.4L687.1 1413.3L688.2 1410.4L689.4 1405.8L690.5 1406.5L691.7 1405.6L692.8 1406.4L694.0 1403.6L695.1 1402.5L696.3 1402.3L697.4 1402.2L698.6 1401.7L699.7 1403.3L700.9 1402.8L702.0 1403.5L703.2 1401.6L704.3 1403.5L705.5 1402.6L706.6 1402.8L707.8 1404.1L708.9 1402.9L710.1 1402.5L711.2 1402.5L712.4 1401.9L713.5 1401.5L714.7 1401.9L715.8 1403.0L717.0 1403.6L718.1 1402.4L719.3 1402.9L720.4 1401.7L721.6 1403.6L722.7 1402.5L723.9 1403.2L725.0 1406.0L726.1 1409.7L727.3 1408.4L728.4 1407.4L729.6 1405.7L730.7 1404.7L731.9 1404.0L733.0 1404.9L734.2 1405.3L735.3 1405.3L736.5 1405.5L737.6 1405.1L738.8 1405.8L739.9 1407.0L741.1 1406.6L742.2 1407.1L743.4 1408.2L744.5 1408.3L745.7 1409.0L746.8 1410.4L748.0 1412.5L749.1 1412.2L750.3 1417.3L751.4 1421.0L752.6 1423.0L753.7 1419.9L754.9 1417.1L756.0 1415.8L757.2 1414.9L758.3 1413.5L759.5 1413.0L760.6 1413.1L761.8 1425.9L762.9 1429.4L764.1 1434.2L765.2 1437.7L766.4 1439.5L767.5 1440.9L768.7 1444.2L769.8 1446.7L770.9 1448.9L772.1 1449.1L773.2 1440.9L774.4 1428.8L775.5 1439.4L776.7 1450.4L777.8 1457.1L779.0 1464.8L780.1 1459.6L781.3 1455.3L782.4 1442.3L783.6 1432.2L784.7 1430.3L785.9 1427.7L787.0 1443.2L788.2 1453.5L789.3 1447.9L790.5 1446.3L791.6 1440.8L792.8 1438.6L793.9 1433.3L795.1 1425.2L796.2 1425.0L797.4 1422.5L798.5 1435.5L799.7 1455.8L800.8 1482.6L802.0 1493.5L803.1 1506.3L804.3 1491.2L805.4 1465.8L806.6 1422.8L807.7 1424.9L808.9 1421.7L810.0 1433.2L811.2 1437.6L812.3 1463.9L813.4 1498.9L814.6 1454.7L815.7 1423.2L816.9 1432.7L818.0 1454.2L819.2 1450.4L820.3 1438.8L821.5 1446.0L822.6 1451.7L823.8 1446.8L824.9 1437.2L826.1 1465.6L827.2 1459.8L828.4 1443.4L829.5 1434.4L830.7 1427.0L831.8 1429.7L833.0 1430.6L834.1 1432.5L835.3 1429.6L836.4 1426.5L837.6 1424.2L838.7 1422.0L839.9 1420.2L841.0 1466.4L842.2 1497.5L843.3 1475.0L844.5 1464.0L845.6 1448.7L846.8 1467.7L847.9 1477.5L849.1 1467.2L850.2 1455.8L851.4 1434.5L852.5 1441.8L853.7 1446.6L854.8 1445.4L856.0 1442.4L857.1 1438.0L858.2 1424.7L859.4 1432.5L860.5 1444.0L861.7 1439.5L862.8 1430.3L864.0 1422.7L865.1 1424.4L866.3 1427.6L867.4 1430.0L868.6 1422.5L869.7 1419.6L870.9 1416.8L872.0 1428.9L873.2 1435.0L874.3 1486.7L875.5 1452.1L876.6 1444.9L877.8 1429.3L878.9 1429.9L880.1 1433.7L881.2 1436.8L882.4 1436.8L883.5 1445.2L884.7 1446.0L885.8 1434.0L887.0 1422.5L888.1 1437.8L889.3 1455.5L890.4 1446.0L891.6 1437.8L892.7 1431.9L893.9 1476.9L895.0 1476.3L896.2 1475.9L897.3 1474.0L898.5 1455.1L899.6 1447.2L900.8 1432.1L901.9 1419.8L903.0 1421.6L904.2 1424.4L905.3 1428.4L906.5 1424.8L907.6 1420.7L908.8 1416.8L909.9 1415.8L911.1 1415.6L912.2 1415.5L913.4 1415.6L914.5 1416.5L915.7 1417.3L916.8 1427.4L918.0 1444.3L919.1 1445.2L920.3 1445.8L921.4 1438.0L922.6 1419.8L923.7 1430.2L924.9 1450.1L926.0 1454.2L927.2 1458.5L928.3 1461.2L929.5 1435.9L930.6 1425.8L931.8 1412.2L932.9 1411.7L934.1 1410.7L935.2 1410.7L936.4 1410.4L937.5 1410.7L938.7 1410.8L939.8 1412.2L941.0 1412.2L942.1 1412.0L943.3 1413.6L944.4 1412.9L945.6 1413.7L946.7 1414.5L947.8 1414.6L949.0 1413.9L950.1 1414.1L951.3 1415.0L952.4 1413.9L953.6 1414.8L954.7 1414.9L955.9 1414.6L957.0 1413.8L958.2 1414.2L959.3 1414.1L960.5 1414.8L961.6 1414.5L962.8 1413.8L963.9 1413.7L965.1 1414.2L966.2 1413.5L967.4 1414.1L968.5 1415.5L969.7 1415.2L970.8 1416.2L972.0 1430.3L973.1 1426.2L974.3 1421.5L975.4 1417.1L976.6 1417.1L977.7 1416.5L978.9 1414.3L980.0 1415.3L981.2 1414.1L982.3 1414.0L983.5 1413.6L984.6 1413.0L985.8 1413.8L986.9 1413.3L988.1 1413.7L989.2 1414.0L990.3 1415.0L991.5 1414.8L992.6 1415.6L993.8 1414.8L994.9 1416.1L996.1 1417.5L997.2 1417.5L998.4 1418.2L999.5 1420.1L1000.7 1421.3L1001.8 1421.2L1003.0 1420.6L1004.1 1420.9L1005.3 1421.5L1006.4 1421.0L1007.6 1420.0L1008.7 1420.6L1009.9 1420.5L1011.0 1418.9L1012.2 1419.3L1013.3 1418.8L1014.5 1419.1L1015.6 1418.0L1016.8 1416.8L1017.9 1416.6L1019.1 1416.8L1020.2 1415.6L1021.4 1415.8L1022.5 1417.8L1023.7 1417.9L1024.8 1417.9L1026.0 1418.2L1027.1 1417.3L1028.3 1420.4L1029.4 1420.9L1030.6 1422.4L1031.7 1423.8L1032.9 1421.4L1034.0 1419.5L1035.1 1418.2L1036.3 1416.9L1037.4 1416.8L1038.6 1416.3L1039.7 1416.0L1040.9 1415.4L1042.0 1414.9L1043.2 1431.0L1044.3 1439.1L1045.5 1447.4L1046.6 1449.5L1047.8 1451.7L1048.9 1455.0L1050.1 1459.2L1051.2 1450.6L1052.4 1445.9L1053.5 1422.0L1054.7 1411.4L1055.8 1411.0L1057.0 1410.5L1058.1 1408.1L1059.3 1408.6L1060.4 1409.8L1061.6 1410.0L1062.7 1409.4L1063.9 1416.5L1065.0 1475.1L1066.2 1597.5L1067.3 1609.5L1068.5 1620.9L1069.6 1600.6L1070.8 1596.2L1071.9 1591.7L1073.1 1576.8L1074.2 1545.4L1075.4 1520.0L1076.5 1517.1L1077.7 1515.3L1078.8 1513.9L1079.9 1510.7L1081.1 1492.8L1082.2 1516.6L1083.4 1530.9L1084.5 1415.1L1085.7 1414.5L1086.8 1410.6L1088.0 1408.8L1089.1 1409.6L1090.3 1408.8L1091.4 1408.9L1092.6 1409.8L1093.7 1410.7L1094.9 1410.3L1096.0 1429.1M1102.6 1408.4L1103.8 1410.7L1104.9 1411.9L1106.1 1409.6L1107.2 1406.7L1108.4 1406.7L1109.5 1407.9L1110.7 1408.3L1111.8 1407.3L1113.0 1408.3L1114.1 1409.0L1115.3 1422.1L1116.4 1431.0L1117.6 1427.0L1118.7 1425.0L1119.9 1447.3L1121.0 1472.1L1122.1 1454.7L1123.3 1439.7L1124.4 1439.1" stroke="#1E8C0A" stroke-width="3.30" fill="none" stroke-linejoin="round" stroke-linecap="round" marker-start="url(#mg48)" marker-mid="url(#mg48)" marker-end="url(#mg48)"/>
<marker id="mg58" markerWidth="10" markerHeight="10" refX="5" refY="5" markerUnits="userSpaceOnUse"><circle cx="5" cy="5" r="2.90" fill="#1E8C0A"/></marker>
<path d="M1207.6 1415.6L1208.8 1414.0L1209.9 1414.3L1211.1 1413.0L1212.2 1416.4L1213.4 1418.5L1214.5 1419.3L1215.7 1419.1L1216.8 1419.9L1218.0 1420.1L1219.1 1420.2L1220.3 1420.0L1221.4 1418.7L1222.6 1417.9L1223.7 1418.1L1224.9 1416.7L1226.0 1417.1L1227.2 1416.6L1228.3 1416.0L1229.5 1415.2L1230.6 1415.4L1231.8 1416.3L1232.9 1413.9L1234.1 1414.0L1235.2 1413.8L1236.4 1413.8L1237.5 1413.2L1238.7 1415.5L1239.8 1416.5L1241.0 1415.9L1242.1 1415.1L1243.3 1414.7L1244.4 1413.6L1245.6 1414.5L1246.7 1413.4L1247.9 1414.3L1249.0 1415.6L1250.2 1414.5L1251.3 1415.4L1252.4 1414.7L1253.6 1412.8L1254.7 1412.1L1255.9 1412.4L1257.0 1412.1L1258.2 1411.6L1259.3 1412.0L1260.5 1411.6L1261.6 1411.9L1262.8 1412.5L1263.9 1412.5L1265.1 1411.3L1266.2 1410.3L1267.4 1410.4L1268.5 1410.3L1269.7 1409.3L1270.8 1409.7L1272.0 1409.2L1273.1 1409.7L1274.3 1410.3L1275.4 1412.8L1276.6 1416.6L1277.7 1420.1L1278.9 1425.0L1280.0 1426.7L1281.2 1432.2L1282.3 1427.2L1283.5 1419.6L1284.6 1413.4L1285.8 1419.7L1286.9 1425.4L1288.1 1429.0L1289.2 1433.6L1290.4 1431.2L1291.5 1423.9L1292.7 1416.6L1293.8 1413.9L1295.0 1410.4L1296.1 1408.1L1297.2 1409.2L1298.4 1410.8L1299.5 1414.9L1300.7 1416.5L1301.8 1420.2L1303.0 1424.3L1304.1 1430.6L1305.3 1426.9L1306.4 1420.1L1307.6 1414.5L1308.7 1418.3L1309.9 1421.1L1311.0 1423.9L1312.2 1415.6L1313.3 1410.9L1314.5 1411.0L1315.6 1413.0L1316.8 1413.3L1317.9 1414.7L1319.1 1412.9L1320.2 1414.7L1321.4 1416.2L1322.5 1414.7L1323.7 1413.6L1324.8 1411.6L1326.0 1411.5L1327.1 1411.1L1328.3 1412.1L1329.4 1414.4L1330.6 1413.6L1331.7 1414.3L1332.9 1415.7L1334.0 1417.6L1335.2 1417.4L1336.3 1417.6L1337.5 1415.2L1338.6 1414.5L1339.7 1412.7L1340.9 1412.1L1342.0 1412.9L1343.2 1414.2L1344.3 1415.1L1345.5 1416.2L1346.6 1417.5L1347.8 1420.7L1348.9 1425.8L1350.1 1426.5L1351.2 1429.8L1352.4 1430.9L1353.5 1428.4L1354.7 1425.4L1355.8 1423.6L1357.0 1421.0L1358.1 1421.3L1359.3 1417.5L1360.4 1419.0L1361.6 1419.2L1362.7 1420.1L1363.9 1421.3L1365.0 1418.3L1366.2 1419.9L1367.3 1419.4L1368.5 1418.3L1369.6 1421.3L1370.8 1424.1L1371.9 1424.9L1373.1 1425.4L1374.2 1424.5L1375.4 1423.0L1376.5 1423.1L1377.7 1422.3L1378.8 1422.6L1380.0 1422.6L1381.1 1423.4L1382.3 1423.0L1383.4 1421.4L1384.5 1422.9L1385.7 1423.6L1386.8 1422.8L1388.0 1424.8L1389.1 1424.0L1390.3 1425.7L1391.4 1426.7L1392.6 1427.2L1393.7 1426.6L1394.9 1428.2L1396.0 1429.9L1397.2 1430.8L1398.3 1430.5L1399.5 1432.1L1400.6 1432.5L1401.8 1431.1L1402.9 1428.8L1404.1 1427.0L1405.2 1426.9L1406.4 1424.8L1407.5 1425.9L1408.7 1424.5L1409.8 1423.7L1411.0 1422.6L1412.1 1420.6L1413.3 1420.7L1414.4 1421.0L1415.6 1419.7L1416.7 1420.0L1417.9 1419.5L1419.0 1419.4L1420.2 1418.6L1421.3 1418.4L1422.5 1420.5L1423.6 1419.2L1424.8 1419.9L1425.9 1418.6L1427.1 1419.1L1428.2 1419.7L1429.3 1419.5L1430.5 1419.2L1431.6 1418.9L1432.8 1419.9L1433.9 1421.7L1435.1 1421.0L1436.2 1420.6L1437.4 1420.5L1438.5 1420.5L1439.7 1420.4L1440.8 1419.8L1442.0 1418.6L1443.1 1418.3L1444.3 1418.2L1445.4 1417.1L1446.6 1418.4L1447.7 1418.7L1448.9 1417.7L1450.0 1416.3L1451.2 1416.8L1452.3 1415.9L1453.5 1415.3L1454.6 1415.5L1455.8 1415.5L1456.9 1416.6L1458.1 1417.5L1459.2 1418.9L1460.4 1419.3L1461.5 1420.5L1462.7 1422.9L1463.8 1422.0L1465.0 1421.0L1466.1 1419.8L1467.3 1418.1L1468.4 1415.5L1469.6 1415.9L1470.7 1415.2L1471.9 1416.6L1473.0 1415.4L1474.1 1415.6L1475.3 1415.5L1476.4 1415.6L1477.6 1414.8" stroke="#1E8C0A" stroke-width="3.84" fill="none" stroke-linejoin="round" stroke-linecap="round" marker-start="url(#mg58)" marker-mid="url(#mg58)" marker-end="url(#mg58)"/>
<marker id="mg60" markerWidth="10" markerHeight="10" refX="5" refY="5" markerUnits="userSpaceOnUse"><circle cx="5" cy="5" r="3.00" fill="#1E8C0A"/></marker>
<path d="M1536.5 1415.5L1537.6 1416.9L1538.8 1418.9L1539.9 1419.0L1541.1 1420.0L1542.2 1419.5L1543.3 1419.4L1544.5 1419.4L1545.6 1418.9L1546.8 1419.8L1547.9 1419.6L1549.1 1419.3L1550.2 1419.6L1551.4 1419.8L1552.5 1419.1L1553.7 1418.8L1554.8 1418.8L1556.0 1419.4L1557.1 1419.2L1558.3 1419.4L1559.4 1419.6L1560.6 1419.6L1561.7 1419.3L1562.9 1418.9L1564.0 1419.4L1565.2 1419.7L1566.3 1419.7L1567.5 1419.7L1568.6 1419.6L1569.8 1419.3L1570.9 1420.0L1572.1 1419.3L1573.2 1419.4L1574.4 1419.3L1575.5 1419.9L1576.7 1419.4L1577.8 1419.4L1579.0 1419.5L1580.1 1419.7L1581.3 1418.7L1582.4 1419.4L1583.6 1419.2L1584.7 1419.4L1585.8 1419.1L1587.0 1419.6L1588.1 1419.3L1589.3 1419.4L1590.4 1419.6L1591.6 1419.3L1592.7 1419.4L1593.9 1419.7L1595.0 1419.6L1596.2 1420.5L1597.3 1419.4L1598.5 1420.1L1599.6 1420.1L1600.8 1420.5L1601.9 1420.0L1603.1 1419.5L1604.2 1419.9L1605.4 1420.7L1606.5 1420.9L1607.7 1421.2L1608.8 1420.8L1610.0 1421.0L1611.1 1421.1L1612.3 1421.2L1613.4 1421.6L1614.6 1422.3L1615.7 1422.6L1616.9 1421.9L1618.0 1421.4L1619.2 1421.0L1620.3 1421.9L1621.5 1421.1L1622.6 1421.1L1623.8 1420.8L1624.9 1421.5L1626.1 1421.0L1627.2 1421.2L1628.4 1421.1L1629.5 1420.8L1630.6 1421.6L1631.8 1422.2L1632.9 1422.4M1648.9 1420.7L1650.1 1421.9L1651.2 1420.2L1652.4 1419.6L1653.5 1419.4L1654.7 1420.0L1655.8 1419.0L1657.0 1418.1L1658.1 1417.7L1659.3 1415.5L1660.4 1416.8L1661.6 1418.4L1662.7 1418.9L1663.9 1418.8L1665.0 1419.7L1666.2 1418.8L1667.3 1419.7L1668.5 1422.8L1669.6 1422.8L1670.8 1421.6L1671.9 1422.9L1673.1 1421.4L1674.2 1421.6L1675.4 1421.9L1676.5 1420.9L1677.7 1420.7L1678.8 1420.0L1680.0 1418.9L1681.1 1419.1L1682.3 1417.7L1683.4 1416.5L1684.6 1416.5L1685.7 1416.6L1686.8 1416.8L1688.0 1415.8L1689.1 1415.9L1690.3 1418.7L1691.4 1420.5L1692.6 1418.5L1693.7 1416.6L1694.9 1415.7L1696.0 1414.3L1697.2 1411.9L1698.3 1411.1L1699.5 1412.1L1700.6 1414.0L1701.8 1413.8L1702.9 1413.1L1704.1 1412.7L1705.2 1413.0L1706.4 1412.8L1707.5 1413.0L1708.7 1411.6L1709.8 1411.0L1711.0 1410.6L1712.1 1410.9L1713.3 1409.4L1714.4 1409.5L1715.6 1410.0L1716.7 1410.0L1717.9 1414.8L1719.0 1418.9L1720.2 1416.3L1721.3 1409.9L1722.5 1411.2L1723.6 1410.4L1724.8 1411.9L1725.9 1412.7L1727.1 1412.9L1728.2 1413.9L1729.4 1412.5L1730.5 1411.7L1731.6 1411.2L1732.8 1411.5L1733.9 1410.6L1735.1 1409.3L1736.2 1410.0L1737.4 1409.4L1738.5 1407.5L1739.7 1407.8L1740.8 1406.3L1742.0 1408.1L1743.1 1407.5L1744.3 1406.1L1745.4 1406.2L1746.6 1404.8L1747.7 1404.7L1748.9 1408.7L1750.0 1419.9L1751.2 1412.9L1752.3 1406.6L1753.5 1406.8L1754.6 1404.6L1755.8 1405.1L1756.9 1405.4L1758.1 1405.1L1759.2 1406.1L1760.4 1405.9L1761.5 1407.0L1762.7 1407.6L1763.8 1406.0L1765.0 1406.6L1766.1 1425.1L1767.3 1438.7L1768.4 1444.7L1769.6 1452.2L1770.7 1463.6L1771.9 1456.9L1773.0 1443.6M1775.2 1409.4L1776.3 1408.1L1777.5 1407.5L1778.6 1405.1L1779.7 1407.4L1780.9 1405.8L1782.0 1406.2L1783.2 1406.4L1784.3 1406.8L1785.5 1406.0L1786.6 1404.3L1787.8 1403.8L1788.9 1402.9L1790.1 1403.0L1791.2 1403.7L1792.4 1404.3L1793.5 1404.5L1794.7 1404.6L1795.8 1403.9M1803.5 1402.3L1804.6 1401.5L1805.8 1401.1L1806.9 1401.3L1808.1 1400.7L1809.2 1401.7L1810.4 1402.3L1811.5 1402.9L1812.7 1402.1L1813.8 1400.9L1815.0 1401.0L1816.1 1401.1L1817.3 1401.1L1818.4 1401.4L1819.6 1400.8L1820.7 1401.1L1821.9 1400.4L1823.0 1399.4L1824.2 1399.3L1825.3 1399.0L1826.5 1399.4L1827.6 1399.2L1828.8 1399.1L1829.9 1399.5L1831.1 1399.8L1832.2 1399.1L1833.4 1399.8L1834.5 1399.2L1835.7 1399.3L1836.8 1400.2L1838.0 1399.6L1839.1 1399.5L1840.3 1399.5L1841.4 1400.7L1842.6 1401.1L1843.7 1400.9L1844.9 1401.0L1846.0 1402.3L1847.1 1403.1L1848.3 1403.6L1849.4 1404.3L1850.6 1403.5L1851.7 1403.4L1852.9 1403.9L1854.0 1403.1L1855.2 1404.0L1856.3 1402.6L1857.5 1403.1L1858.6 1403.3L1859.8 1402.4L1860.9 1402.2L1862.1 1402.4L1863.2 1401.4L1864.4 1401.6L1865.5 1402.3L1866.7 1403.4L1867.8 1403.2L1869.0 1403.4L1870.1 1402.8L1871.3 1403.2L1872.4 1403.3L1873.6 1404.2L1874.7 1405.0L1875.9 1405.6L1877.0 1406.3L1878.2 1406.7L1879.3 1407.6L1880.5 1407.5L1881.6 1407.4L1882.8 1407.7L1883.9 1407.8L1885.1 1407.7L1886.2 1407.0L1887.4 1405.6L1888.5 1406.5L1889.7 1405.6L1890.8 1406.1L1891.9 1405.1L1893.1 1405.2L1894.2 1404.9L1895.4 1406.1L1896.5 1405.6L1897.7 1405.3L1898.8 1404.2L1900.0 1403.2L1901.1 1404.0L1902.3 1403.6L1903.4 1403.6L1904.6 1402.0L1905.7 1402.3L1906.9 1402.1L1908.0 1401.9L1909.2 1403.0L1910.3 1403.2L1911.5 1402.8L1912.6 1402.3L1913.8 1402.9L1914.9 1402.7L1916.1 1403.2L1917.2 1402.8L1918.4 1402.9L1919.5 1402.4L1920.7 1401.3L1921.8 1401.4L1923.0 1401.5L1924.1 1401.6L1925.3 1401.2L1926.4 1400.7L1927.6 1400.6L1928.7 1400.3L1929.9 1401.0L1931.0 1400.5L1932.2 1399.2L1933.3 1399.8L1934.5 1399.0L1935.6 1399.6L1936.7 1399.3L1937.9 1399.6L1939.0 1398.9L1940.2 1399.9L1941.3 1400.6L1942.5 1402.0L1943.6 1403.0L1944.8 1403.4M1962.2 1402.2L1963.4 1401.8L1964.5 1401.4L1965.7 1401.6L1966.8 1402.6L1968.0 1401.5L1969.1 1402.6L1970.3 1402.2L1971.4 1401.6L1972.6 1402.0L1973.7 1401.1L1974.9 1402.1L1976.0 1403.0L1977.2 1402.6L1978.3 1401.7L1979.5 1402.5L1980.6 1402.6L1981.8 1403.4L1982.9 1403.5L1984.1 1405.8L1985.2 1408.8L1986.4 1407.0L1987.5 1406.5L1988.7 1405.7L1989.8 1405.2L1991.0 1405.5L1992.1 1404.4L1993.2 1405.6L1994.4 1406.0L1995.5 1406.3L1996.7 1405.4L1997.8 1405.5L1999.0 1404.0L2000.1 1404.5L2001.3 1405.1L2002.4 1406.5L2003.6 1407.1L2004.7 1405.9L2005.9 1404.5L2007.0 1404.7L2008.2 1405.2L2009.3 1407.3L2010.5 1408.3L2011.6 1410.3L2012.8 1410.6L2013.9 1407.9L2015.1 1406.3L2016.2 1405.9L2017.4 1403.8L2018.5 1404.4L2019.7 1404.3L2020.8 1404.6L2022.0 1406.8L2023.1 1407.5L2024.3 1407.3L2025.4 1409.1L2026.6 1409.3L2027.7 1410.5L2028.9 1409.9L2030.0 1411.7L2031.2 1414.1L2032.3 1413.2L2033.5 1412.1L2034.6 1411.6L2035.8 1410.3L2036.9 1411.6L2038.0 1410.6L2039.2 1409.7L2040.3 1407.4L2041.5 1407.5L2042.6 1407.4L2043.8 1407.7L2044.9 1408.4L2046.1 1409.6L2047.2 1410.8L2048.4 1411.6L2049.5 1411.0L2050.7 1411.6L2051.8 1411.1L2053.0 1412.7L2054.1 1410.5L2055.3 1409.1L2056.4 1408.5L2057.6 1410.0L2058.7 1410.1L2059.9 1410.0L2061.0 1410.8L2062.2 1410.5L2063.3 1411.1L2064.5 1412.5L2065.6 1429.3L2066.8 1446.9L2067.9 1451.4L2069.1 1435.2L2070.2 1412.9L2071.4 1430.4L2072.5 1445.9L2073.7 1444.5L2074.8 1414.8L2076.0 1424.1L2077.1 1419.5L2078.3 1413.7L2079.4 1410.7L2080.5 1411.8L2081.7 1412.0L2082.8 1411.2L2084.0 1412.9L2085.1 1413.7L2086.3 1411.7L2087.4 1411.2L2088.6 1411.1L2089.7 1410.5L2090.9 1408.7L2092.0 1409.7L2093.2 1407.6L2094.3 1407.5L2095.5 1407.5L2096.6 1406.7L2097.8 1406.8L2098.9 1406.4L2100.1 1406.6L2101.2 1406.2L2102.4 1408.1L2103.5 1408.2L2104.7 1408.7L2105.8 1407.3L2107.0 1407.4L2108.1 1406.7L2109.3 1405.8L2110.4 1406.2L2111.6 1406.0L2112.7 1405.8L2113.9 1405.1L2115.0 1405.0L2116.2 1404.0L2117.3 1404.7L2118.5 1405.3L2119.6 1405.1L2120.8 1405.3L2121.9 1403.9L2123.1 1403.7L2124.2 1404.6L2125.3 1404.5L2126.5 1405.5L2127.6 1406.3L2128.8 1404.3L2129.9 1403.3L2131.1 1403.2L2132.2 1403.5L2133.4 1403.5L2134.5 1403.9L2135.7 1405.6L2136.8 1405.3L2138.0 1404.9L2139.1 1405.0L2140.3 1404.3L2141.4 1404.7L2142.6 1404.2L2143.7 1404.7L2144.9 1403.3L2146.0 1402.8L2147.2 1402.6L2148.3 1403.2L2149.5 1403.1L2150.6 1403.9L2151.8 1404.1L2152.9 1402.2L2154.1 1402.3L2155.2 1402.5L2156.4 1402.5L2157.5 1402.5L2158.7 1403.5L2159.8 1404.1L2161.0 1404.5L2162.1 1406.5L2163.3 1406.7L2164.4 1405.6L2165.6 1407.1L2166.7 1406.3L2167.9 1408.1L2169.0 1406.7L2170.1 1406.0L2171.3 1404.9L2172.4 1404.3L2173.6 1404.6M2178.0 1402.9L2179.1 1403.0L2180.3 1402.0L2181.4 1401.9L2182.6 1402.5L2183.7 1415.5L2184.8 1416.6L2186.0 1418.1L2187.1 1418.8L2188.3 1418.2L2189.4 1416.9L2190.6 1411.6L2191.7 1405.0L2192.9 1405.0L2194.0 1404.8L2195.2 1404.6L2196.3 1404.4L2197.5 1404.1L2198.6 1404.1L2199.8 1405.0L2200.9 1404.2L2202.1 1404.1L2203.2 1403.2L2204.4 1403.6L2205.5 1403.3L2206.7 1402.8L2207.8 1402.7L2209.0 1403.1L2210.1 1403.1L2211.3 1403.1L2212.4 1403.9L2213.6 1404.0L2214.7 1403.6L2215.9 1404.3L2217.0 1404.5L2218.2 1404.4L2219.3 1403.6L2220.5 1404.1L2221.6 1404.5L2222.8 1404.3L2223.9 1404.1L2225.1 1404.0L2226.2 1404.2L2227.4 1403.8L2228.5 1402.7L2229.6 1403.2L2230.8 1403.8L2231.9 1404.5L2233.1 1403.9L2234.2 1403.6L2235.4 1403.0L2236.5 1404.2L2237.7 1404.2L2238.8 1404.1L2240.0 1404.6L2241.1 1404.1M2246.6 1403.6L2247.7 1404.5L2248.9 1404.8L2250.0 1405.2L2251.2 1405.4L2252.3 1405.3L2253.5 1408.2L2254.6 1407.3L2255.8 1407.9L2256.9 1407.4L2258.1 1407.9L2259.2 1408.6L2260.4 1407.5L2261.5 1406.6L2262.7 1407.6L2263.8 1406.5L2265.0 1407.3L2266.1 1406.6L2267.3 1406.7L2268.4 1407.0L2269.6 1406.8L2270.7 1406.4L2271.9 1406.2L2273.0 1406.2L2274.2 1406.1L2275.3 1406.1L2276.4 1405.4L2277.6 1406.4L2278.7 1406.0L2279.9 1405.8L2281.0 1407.8L2282.2 1408.6L2283.3 1432.6L2284.5 1410.4L2285.6 1410.1L2286.8 1408.6L2287.9 1408.9L2289.1 1409.3L2290.2 1409.4L2291.4 1411.1L2292.5 1413.6L2293.7 1415.3L2294.8 1418.8L2296.0 1420.6L2297.1 1412.5L2298.3 1408.6L2299.4 1409.8L2300.6 1409.5L2301.7 1408.7L2302.9 1409.7L2304.0 1410.6L2305.2 1410.9L2306.3 1412.8L2307.5 1411.2L2308.6 1410.5L2309.8 1409.4L2310.9 1408.6L2312.1 1409.4L2313.2 1409.5L2314.4 1410.5L2315.5 1410.1L2316.7 1411.8L2317.8 1411.4L2319.0 1411.6L2320.1 1411.5L2321.2 1411.8L2322.4 1414.3L2323.5 1421.0L2324.7 1424.1L2325.8 1425.5L2327.0 1418.9L2328.1 1411.5L2329.3 1410.6L2330.4 1411.0L2331.6 1411.4L2332.7 1411.5L2333.9 1410.4L2335.0 1410.2L2336.2 1410.8L2337.3 1411.0L2338.5 1411.4L2339.6 1413.2L2340.8 1412.1L2341.9 1412.5L2343.1 1410.1L2344.2 1409.1L2345.4 1409.5L2346.5 1409.1L2347.7 1408.0L2348.8 1408.3L2350.0 1409.2L2351.1 1408.8L2352.3 1408.8L2353.4 1409.3L2354.6 1410.4L2355.7 1409.9L2356.9 1409.7L2358.0 1409.1L2359.2 1409.6L2360.3 1409.1L2361.5 1409.6L2362.6 1409.8L2363.7 1409.9L2364.9 1410.2L2366.0 1410.7L2367.2 1409.6L2368.3 1410.5L2369.5 1410.1L2370.6 1410.3L2371.8 1409.0L2372.9 1409.2L2374.1 1407.7L2375.2 1408.4L2376.4 1407.6L2377.5 1407.5L2378.7 1406.8L2379.8 1406.3L2381.0 1406.8L2382.1 1406.7L2383.3 1405.7L2384.4 1406.0L2385.6 1405.4L2386.7 1404.7L2387.9 1405.2L2389.0 1406.3L2390.2 1406.3L2391.3 1407.5L2392.5 1405.7L2393.6 1407.0L2394.8 1407.5L2395.9 1407.8L2397.1 1408.0L2398.2 1408.8L2399.4 1409.3L2400.5 1408.0L2401.7 1407.9L2402.8 1406.1L2404.0 1406.0L2405.1 1405.1L2406.3 1406.4L2407.4 1405.4L2408.5 1405.9L2409.7 1405.7L2410.8 1405.7L2412.0 1404.5L2413.1 1404.6L2414.3 1405.3L2415.4 1405.3L2416.6 1404.0L2417.7 1403.7L2418.9 1402.7L2420.0 1403.0L2421.2 1403.5M2424.7 1408.3L2425.9 1406.3L2427.0 1406.8L2428.2 1405.5L2429.3 1405.5L2430.5 1405.2L2431.6 1406.0L2432.8 1406.8L2433.9 1406.8L2435.0 1406.9L2436.2 1407.7L2437.3 1407.4L2438.5 1407.0L2439.6 1406.5L2440.8 1406.7M2446.5 1407.4h0M2469.5 1406.7h0M2476.3 1406.5L2477.5 1407.6L2478.6 1406.4L2479.8 1406.3L2480.9 1407.4L2482.1 1407.3L2483.2 1406.5L2484.4 1406.1L2485.5 1405.8L2486.7 1405.6L2487.8 1406.3L2489.0 1407.0L2490.1 1407.9L2491.3 1408.0L2492.4 1408.6L2493.6 1409.7L2494.7 1409.8L2495.9 1409.5L2497.0 1408.7L2498.2 1409.2L2499.3 1408.0L2500.5 1407.4L2501.6 1407.9L2502.7 1407.1L2503.9 1408.6L2505.0 1408.3L2506.2 1407.4L2507.3 1407.9L2508.5 1407.9L2509.6 1408.1L2510.8 1407.0L2511.9 1408.2L2513.1 1408.3L2514.2 1409.2L2515.4 1410.4L2516.5 1410.2L2517.7 1411.0L2518.8 1411.7L2520.0 1412.4L2521.1 1411.4L2522.3 1410.1L2523.4 1409.5L2524.6 1408.8L2525.7 1409.0L2526.9 1407.2L2528.0 1408.0L2529.2 1406.0L2530.3 1407.1L2531.5 1405.8L2532.6 1406.5L2533.8 1406.4L2534.9 1406.3L2536.1 1405.6L2537.2 1405.6L2538.4 1405.6L2539.5 1404.6L2540.7 1403.9L2541.8 1404.3L2543.0 1404.2L2544.1 1405.3L2545.3 1405.2L2546.4 1405.1L2547.5 1404.7L2548.7 1404.6L2549.8 1403.1L2551.0 1403.6L2552.1 1406.2L2553.3 1408.7M2563.5 1403.5h0M2568.8 1403.0L2570.0 1402.8L2571.1 1403.6L2572.3 1404.6L2573.4 1405.4L2574.6 1406.4L2575.7 1405.1L2576.9 1405.9L2578.0 1405.9L2579.2 1406.0L2580.3 1405.6L2581.5 1405.6L2582.6 1405.9L2583.8 1404.5L2584.9 1405.2L2586.1 1405.8L2587.2 1404.9L2588.4 1405.4L2589.5 1405.5L2590.6 1404.8L2591.8 1404.5L2592.9 1406.0L2594.1 1407.2L2595.2 1408.4L2596.4 1408.7L2597.5 1408.5L2598.7 1408.8L2599.8 1409.6L2601.0 1410.4L2602.1 1409.9L2603.3 1410.2L2604.4 1411.3L2605.6 1410.6L2606.7 1419.7L2607.9 1421.4L2609.0 1416.5L2610.2 1410.5L2611.3 1411.1L2612.5 1411.2L2613.6 1411.6L2614.8 1411.2L2615.9 1410.8L2617.1 1412.1L2618.2 1412.4L2619.4 1413.2L2620.5 1413.5L2621.7 1413.6L2622.8 1413.1L2624.0 1412.1L2625.1 1412.8L2626.3 1412.2L2627.4 1412.6L2628.6 1412.2L2629.7 1411.3L2630.9 1412.3L2632.0 1410.9L2633.2 1411.0L2634.3 1410.0L2635.4 1409.8L2636.6 1409.1L2637.7 1409.1L2638.9 1408.0L2640.0 1407.9L2641.2 1409.0L2642.3 1407.5L2643.5 1407.6L2644.6 1408.0L2645.8 1408.1L2646.9 1409.5L2648.1 1408.2L2649.2 1409.0L2650.4 1409.7L2651.5 1408.2L2652.7 1407.3L2653.8 1408.3L2655.0 1408.9L2656.1 1410.7L2657.3 1411.9L2658.4 1411.8L2659.6 1413.2L2660.7 1412.5L2661.9 1413.5L2663.0 1414.3L2664.2 1414.6L2665.3 1414.2L2666.5 1413.8L2667.6 1413.7L2668.8 1413.5L2669.9 1413.8L2671.1 1413.2L2672.2 1413.9L2673.4 1414.1L2674.5 1412.3L2675.7 1411.4L2676.8 1413.3L2678.0 1412.7L2679.1 1413.2L2680.2 1413.4L2681.4 1413.2L2682.5 1414.3L2683.7 1412.9L2684.8 1414.4L2686.0 1414.3L2687.1 1413.6L2688.3 1414.7L2689.4 1414.5L2690.6 1412.3L2691.7 1412.6L2692.9 1412.4L2694.0 1411.9L2695.2 1410.4L2696.3 1410.0L2697.5 1410.4L2698.6 1410.8L2699.8 1409.7L2700.9 1410.1L2702.1 1410.1L2703.2 1410.2L2704.4 1410.8L2705.5 1410.2L2706.7 1410.8L2707.8 1410.9L2709.0 1410.9L2710.1 1411.0L2711.3 1411.2L2712.4 1410.6L2713.6 1410.0L2714.7 1408.8L2715.9 1408.6L2717.0 1407.7L2718.2 1407.5L2719.3 1406.3L2720.5 1405.8L2721.6 1404.4L2722.8 1403.5L2723.9 1403.4L2725.0 1403.6L2726.2 1403.9L2727.3 1404.0L2728.5 1404.5L2729.6 1403.8L2730.8 1404.1L2731.9 1403.4L2733.1 1403.6L2734.2 1403.7L2735.4 1404.6L2736.5 1405.8L2737.7 1405.2L2738.8 1404.9L2740.0 1404.9L2741.1 1405.4L2742.3 1404.6L2743.4 1403.7L2744.6 1403.7L2745.7 1404.5L2746.9 1404.1L2748.0 1404.0L2749.2 1404.2L2750.3 1404.6L2751.5 1405.0L2752.6 1404.5L2753.8 1403.7L2754.9 1404.1L2756.1 1404.4L2757.2 1406.4L2758.4 1405.7L2759.5 1407.8L2760.7 1409.0L2761.8 1409.4L2763.0 1415.1L2764.1 1419.8L2765.3 1423.3L2766.4 1427.2L2767.5 1428.6L2768.7 1429.4L2769.8 1431.6L2771.0 1419.7L2772.1 1406.3L2773.3 1406.8L2774.4 1406.0L2775.6 1405.8L2776.7 1404.4L2777.9 1405.3L2779.0 1405.6L2780.2 1407.0L2781.3 1409.2L2782.5 1408.8L2783.6 1408.8L2784.8 1410.4L2785.9 1411.3L2787.1 1410.4L2788.2 1410.0L2789.4 1409.6L2790.5 1410.6L2791.7 1411.6L2792.8 1410.8L2794.0 1409.3L2795.1 1409.9L2796.3 1409.3L2797.4 1407.4L2798.6 1407.5L2799.7 1407.6L2800.9 1406.9L2802.0 1405.4L2803.2 1405.5L2804.3 1406.0L2805.5 1406.8L2806.6 1408.3L2807.8 1407.5L2808.9 1407.4L2810.1 1406.3L2811.2 1406.1L2812.3 1405.3L2813.5 1405.3L2814.6 1406.6L2815.8 1407.8L2816.9 1406.9L2818.1 1407.1L2819.2 1406.1L2820.4 1405.6L2821.5 1405.5L2822.7 1404.5L2823.8 1404.8L2825.0 1404.1L2826.1 1404.5L2827.3 1405.1L2828.4 1404.5L2829.6 1405.7L2830.7 1405.8L2831.9 1406.3L2833.0 1406.3L2834.2 1407.7L2835.3 1408.8L2836.5 1410.3L2837.6 1411.8L2838.8 1409.8L2839.9 1409.6L2841.1 1408.4L2842.2 1408.3L2843.4 1408.1L2844.5 1408.7L2845.7 1408.0L2846.8 1408.6L2848.0 1407.0L2849.1 1406.2L2850.3 1405.9L2851.4 1404.8L2852.6 1404.5L2853.7 1404.9L2854.9 1404.7L2856.0 1405.8L2857.1 1406.5L2858.3 1408.3L2859.4 1409.7L2860.6 1410.4L2861.7 1410.1L2862.9 1414.0L2864.0 1416.6L2865.2 1418.2L2866.3 1418.1L2867.5 1418.9L2868.6 1412.4L2869.8 1409.3L2870.9 1409.4L2872.1 1408.8L2873.2 1408.4L2874.4 1407.5L2875.5 1407.1L2876.7 1406.7L2877.8 1407.9L2879.0 1406.9L2880.1 1406.2L2881.3 1406.5L2882.4 1407.8L2883.6 1408.8L2884.7 1408.7L2885.9 1410.5L2887.0 1414.8L2888.2 1417.3L2889.3 1413.0L2890.5 1411.8L2891.6 1410.5L2892.8 1410.8L2893.9 1409.0L2895.1 1407.9L2896.2 1406.9L2897.4 1406.5L2898.5 1405.7L2899.7 1406.5L2900.8 1405.9L2901.9 1406.7" stroke="#1E8C0A" stroke-width="4.02" fill="none" stroke-linejoin="round" stroke-linecap="round" marker-start="url(#mg60)" marker-mid="url(#mg60)" marker-end="url(#mg60)"/>
<marker id="mr59" markerWidth="10" markerHeight="10" refX="5" refY="5" markerUnits="userSpaceOnUse"><circle cx="5" cy="5" r="2.95" fill="#B20000"/></marker>
<path d="M331.3 2067.9L332.5 2069.8L333.6 2073.2L334.8 2075.4L335.9 2080.7M339.7 2070.9L340.8 2074.0L342.0 2077.5L343.1 2079.8L344.3 2082.4L345.4 2083.3L346.6 2083.9L347.7 2085.0L348.9 2086.7L350.0 2085.9L351.2 2084.0L352.3 2083.4L353.5 2081.6L354.6 2079.1L355.8 2079.0L356.9 2077.3L358.1 2075.3L359.2 2072.4L360.4 2072.2L361.5 2069.0L362.7 2067.1L363.8 2063.4L365.0 2062.1L366.1 2060.4L367.3 2057.6L368.4 2056.0L369.5 2060.0L370.7 2062.8L371.8 2064.9L373.0 2066.4L374.1 2066.9L375.3 2066.9L376.4 2067.9L377.6 2068.2L378.7 2069.9L379.9 2070.1L381.0 2070.9L382.2 2069.4L383.3 2067.4L384.5 2064.9L385.6 2066.0L386.8 2068.4L387.9 2070.2L389.1 2073.9L390.2 2072.4L391.4 2070.1L392.5 2068.7L393.7 2064.9L394.8 2065.5L396.0 2069.1L397.1 2070.4L398.3 2072.4L399.4 2070.5L400.6 2069.1L401.7 2068.1L402.9 2067.9L404.0 2065.8L405.2 2063.6L406.3 2059.0L407.5 2061.5L408.6 2065.3L409.8 2068.8L410.9 2072.4L412.1 2072.2L413.2 2070.0L414.3 2067.9L415.5 2066.0L416.6 2065.2L417.8 2064.7L418.9 2063.4L420.1 2064.6L421.2 2065.7L422.4 2067.2L423.5 2070.9L424.7 2070.9L425.8 2070.5L427.0 2070.9L428.1 2070.9L429.3 2070.9L430.4 2071.5L431.6 2072.6L432.7 2073.9L433.9 2075.1L435.0 2076.3L436.2 2077.3L437.3 2076.9L438.5 2076.8L439.6 2076.7L440.8 2074.7L441.9 2073.9L443.1 2071.7L444.2 2071.1L445.4 2070.5L446.5 2069.4L447.7 2068.9L448.8 2069.6L450.0 2070.6L451.1 2070.9L452.3 2067.4L453.4 2065.3L454.6 2062.8L455.7 2064.0L456.9 2067.0L458.0 2067.9L459.1 2070.4L460.3 2072.4L461.4 2073.5L462.6 2076.9L463.7 2079.4L464.9 2081.7L466.0 2084.3L467.2 2080.4L468.3 2078.4L469.5 2078.7L470.6 2079.0L471.8 2080.8L472.9 2081.9L474.1 2083.7L475.2 2085.9L476.4 2087.2L477.5 2087.3L478.7 2088.9L479.8 2090.1L481.0 2091.4L482.1 2091.8L483.3 2091.6L484.4 2091.2L485.6 2091.3L486.7 2090.3L487.9 2091.0L489.0 2092.5L490.2 2093.4L491.3 2093.9L492.5 2095.3L493.6 2095.7L494.8 2097.1L495.9 2097.8L497.1 2097.0L498.2 2097.1L499.4 2096.3L500.5 2094.9L501.7 2095.8L502.8 2095.6L503.9 2097.2L505.1 2097.6L506.2 2096.9L507.4 2098.1L508.5 2098.5L509.7 2099.3L510.8 2098.6L512.0 2099.7L513.1 2098.6L514.3 2098.5L515.4 2097.6L516.6 2098.6L517.7 2100.3L518.9 2101.1L520.0 2102.6L521.2 2103.7L522.3 2107.3L523.5 2109.7L524.6 2111.8L525.8 2112.7L526.9 2113.9L528.1 2114.8L529.2 2117.1L530.4 2116.4L531.5 2117.0L532.7 2117.2L533.8 2116.8L535.0 2117.4L536.1 2117.1L537.3 2116.6L538.4 2115.4L539.6 2114.1L540.7 2112.7L541.9 2111.9L543.0 2112.4L544.2 2109.7L545.3 2110.6L546.4 2110.8L547.6 2110.6L548.7 2112.0L549.9 2111.2L551.0 2110.9L552.2 2110.6L553.3 2112.3L554.5 2112.2L555.6 2113.3L556.8 2113.6L557.9 2115.7L559.1 2115.4L560.2 2115.4L561.4 2116.3L562.5 2116.9L563.7 2117.1M568.5 2118.6L569.7 2120.3L570.8 2120.5L572.0 2121.1L573.1 2120.1L574.3 2121.6L575.4 2122.2L576.6 2124.6L577.7 2126.1L578.9 2128.0L580.0 2132.1L581.2 2132.1L582.3 2133.5L583.5 2134.5L584.6 2133.4L585.8 2133.1L586.9 2132.3L588.1 2130.6L589.2 2130.9L590.4 2130.3L591.5 2130.4L592.7 2129.7L593.8 2130.9L595.0 2130.7L596.1 2130.8L597.3 2131.3L598.4 2130.6L599.6 2130.2L600.7 2131.1L601.8 2131.3L603.0 2132.4L604.1 2132.1L605.3 2132.9L606.4 2133.1L607.6 2133.4L608.7 2133.6L609.9 2135.0L611.0 2135.0L612.2 2135.1L613.3 2134.4L614.5 2135.4L615.6 2135.1L616.8 2134.5L617.9 2134.8L619.1 2134.7L620.2 2134.8L621.4 2134.8L622.5 2134.5L623.7 2134.3L624.8 2135.6L626.0 2134.5L627.1 2135.2L628.3 2134.5L629.4 2134.3L630.6 2134.0L631.7 2133.6L632.9 2133.4L634.0 2133.9L635.2 2134.0L636.3 2134.4L637.5 2133.6L638.6 2134.0L639.8 2133.5L640.9 2134.7L642.1 2135.0L643.2 2134.5L644.3 2134.9L645.5 2133.9L646.6 2133.0M651.5 2137.1L652.6 2136.9L653.8 2135.7L654.9 2135.3L656.1 2133.6L657.2 2133.7L658.4 2132.9L659.5 2131.8L660.7 2130.6L661.8 2130.2L663.0 2127.8L664.1 2126.6L665.3 2124.6L666.4 2124.6L667.6 2124.3L668.7 2124.0L669.9 2124.5L671.0 2123.1L672.2 2123.3L673.3 2122.3L674.5 2121.6L675.6 2120.1L676.8 2119.5L677.9 2117.9L679.1 2116.3L680.2 2114.2L681.3 2114.1L682.5 2115.6L683.6 2115.7L684.8 2116.5L685.9 2115.7L687.1 2115.7L688.2 2115.8L689.4 2115.2L690.5 2115.7L691.7 2115.7L692.8 2115.7L694.0 2115.0L695.1 2115.3L696.3 2114.2L697.4 2115.3L698.6 2114.4L699.7 2114.3L700.9 2114.6L702.0 2114.1L703.2 2113.6L704.3 2112.3L705.5 2112.2L706.6 2111.3L707.8 2110.6L708.9 2107.1L710.1 2105.8L711.2 2103.7L712.4 2103.0L713.5 2103.6L714.7 2103.5L715.8 2102.8L717.0 2102.7L718.1 2101.4L719.3 2101.6L720.4 2102.2L721.6 2101.1L722.7 2099.4L723.9 2097.7L725.0 2096.3L726.1 2095.8L727.3 2095.2L728.4 2094.5L729.6 2094.8L730.7 2094.7L731.9 2094.9L733.0 2094.7L734.2 2093.3L735.3 2092.8L736.5 2091.8L737.6 2090.8L738.8 2089.7L739.9 2091.0L741.1 2090.1L742.2 2089.6L743.4 2088.8L744.5 2086.3L745.7 2084.7L746.8 2081.3L748.0 2082.5L749.1 2084.1L750.3 2085.8L751.4 2085.6L752.6 2083.6L753.7 2082.7L754.9 2081.3L756.0 2079.5L757.2 2077.9L758.3 2076.9L759.5 2077.0L760.6 2077.6L761.8 2079.8L762.9 2077.4L764.1 2074.7L765.2 2072.4L766.4 2071.1L767.5 2069.7L768.7 2068.6L769.8 2067.9L770.9 2070.5L772.1 2074.5L773.2 2076.9L774.4 2078.6L775.5 2081.4L776.7 2084.3L777.8 2082.6L779.0 2080.4L780.1 2078.4L781.3 2076.8L782.4 2073.8L783.6 2070.9L784.7 2066.3L785.9 2061.2L787.0 2056.0L788.2 2053.0L789.3 2054.3L790.5 2059.0L791.6 2061.4L792.8 2065.6L793.9 2070.9L795.1 2073.5L796.2 2077.3L797.4 2081.3L798.5 2080.8L799.7 2080.6L800.8 2079.8L802.0 2079.3L803.1 2078.4L804.3 2076.3L805.4 2076.9L806.6 2078.6L807.7 2080.3L808.9 2081.9L810.0 2079.0L811.2 2076.9L812.3 2075.2L813.4 2073.9L814.6 2073.1L815.7 2072.4L816.9 2071.8L818.0 2070.9L819.2 2067.5L820.3 2066.4L821.5 2068.4L822.6 2072.0L823.8 2075.4L824.9 2075.3L826.1 2076.6L827.2 2077.2L828.4 2076.9L829.5 2078.0L830.7 2078.5L831.8 2078.8L833.0 2078.4L834.1 2074.9L835.3 2071.1L836.4 2067.9L837.6 2069.6L838.7 2071.3L839.9 2072.4L841.0 2070.6L842.2 2069.4L843.3 2067.9L844.5 2071.5L845.6 2074.1L846.8 2075.4L847.9 2076.3L849.1 2076.8L850.2 2076.9L851.4 2078.0L852.5 2078.2L853.7 2078.3L854.8 2079.8L856.0 2081.3L857.1 2082.4L858.2 2082.3L859.4 2082.8L860.5 2081.9L861.7 2080.8L862.8 2078.4L864.0 2078.4L865.1 2077.8L866.3 2077.4L867.4 2078.1L868.6 2076.9L869.7 2078.9L870.9 2079.7L872.0 2081.6L873.2 2081.3L874.3 2078.9L875.5 2077.2L876.6 2074.3L877.8 2072.4L878.9 2072.5L880.1 2072.5L881.2 2072.4L882.4 2073.5L883.5 2074.0L884.7 2075.4L885.8 2076.9L887.0 2077.3L888.1 2077.5L889.3 2078.4L890.4 2078.0L891.6 2078.8L892.7 2080.3L893.9 2081.3L895.0 2081.3L896.2 2082.0L897.3 2082.3L898.5 2082.8L899.6 2083.2L900.8 2083.3L901.9 2083.4L903.0 2082.8L904.2 2085.6L905.3 2086.8L906.5 2087.8L907.6 2088.8L908.8 2090.1L909.9 2089.9L911.1 2089.6L912.2 2090.3L913.4 2090.7L914.5 2091.1L915.7 2092.7L916.8 2092.0L918.0 2093.2L919.1 2093.5L920.3 2093.9L921.4 2094.8L922.6 2098.2L923.7 2100.7L924.9 2101.4L926.0 2104.2L927.2 2106.3L928.3 2106.7L929.5 2107.2L930.6 2108.4L931.8 2108.8L932.9 2108.8L934.1 2109.3L935.2 2109.1L936.4 2109.0L937.5 2108.8L938.7 2111.1L939.8 2112.5L941.0 2112.7L942.1 2113.4L943.3 2114.6L944.4 2114.6L945.6 2114.8L946.7 2115.0L947.8 2114.5L949.0 2114.8L950.1 2115.0L951.3 2115.4L952.4 2115.7L953.6 2115.4L954.7 2115.6L955.9 2115.8L957.0 2116.3L958.2 2115.8L959.3 2117.1L960.5 2116.2L961.6 2116.2L962.8 2117.2L963.9 2116.2L965.1 2117.4L966.2 2117.7L967.4 2117.8L968.5 2119.3L969.7 2119.2L970.8 2119.4L972.0 2120.1L973.1 2119.6L974.3 2121.2L975.4 2121.9L976.6 2123.0L977.7 2122.5L978.9 2123.2L980.0 2122.9L981.2 2123.9L982.3 2123.7L983.5 2123.1L984.6 2123.0L985.8 2123.3L986.9 2122.6L988.1 2122.5L989.2 2122.9L990.3 2123.7L991.5 2123.6L992.6 2124.4L993.8 2123.7L994.9 2123.8L996.1 2124.6L997.2 2125.4L998.4 2125.1L999.5 2125.0L1000.7 2124.3L1001.8 2126.1L1003.0 2124.9L1004.1 2126.0L1005.3 2125.9L1006.4 2126.4L1007.6 2127.6L1008.7 2127.3L1009.9 2128.1L1011.0 2128.5L1012.2 2129.9L1013.3 2131.5L1014.5 2131.1L1015.6 2131.0L1016.8 2131.1L1017.9 2132.1L1019.1 2130.8L1020.2 2131.5L1021.4 2131.1L1022.5 2130.9L1023.7 2131.3L1024.8 2130.7L1026.0 2130.6L1027.1 2131.8L1028.3 2133.1L1029.4 2133.8L1030.6 2135.0L1031.7 2136.0L1032.9 2138.1L1034.0 2138.9L1035.1 2139.5L1036.3 2140.5L1037.4 2140.1L1038.6 2140.4L1039.7 2140.1L1040.9 2138.3L1042.0 2136.0L1043.2 2135.0L1044.3 2133.7L1045.5 2133.9L1046.6 2133.9L1047.8 2133.6L1048.9 2133.7L1050.1 2133.9L1051.2 2134.8L1052.4 2135.0L1053.5 2135.2L1054.7 2133.0L1055.8 2133.2L1057.0 2132.7L1058.1 2132.1L1059.3 2131.3L1060.4 2130.8L1061.6 2129.7L1062.7 2130.1L1063.9 2131.3L1065.0 2130.8L1066.2 2131.4L1067.3 2131.5L1068.5 2130.8L1069.6 2130.6L1070.8 2130.9L1071.9 2131.6L1073.1 2132.1L1074.2 2131.9L1075.4 2131.4L1076.5 2131.4L1077.7 2131.2L1078.8 2129.1L1079.9 2129.6L1081.1 2129.4L1082.2 2129.8L1083.4 2129.9L1084.5 2128.9L1085.7 2128.5L1086.8 2126.9L1088.0 2127.3L1089.1 2127.8L1090.3 2127.3L1091.4 2126.7L1092.6 2127.5L1093.7 2126.6L1094.9 2126.9L1096.0 2127.2L1097.2 2126.1M1102.6 2123.1L1103.8 2122.8L1104.9 2121.9L1106.1 2121.7L1107.2 2121.6L1108.4 2121.2L1109.5 2121.5L1110.7 2123.2L1111.8 2122.5L1113.0 2118.7L1114.1 2114.8L1115.3 2113.0L1116.4 2113.9L1117.6 2114.9L1118.7 2115.6L1119.9 2114.2L1121.0 2115.0L1122.1 2114.1L1123.3 2112.4L1124.4 2112.7" stroke="#B20000" stroke-width="3.93" fill="none" stroke-linejoin="round" stroke-linecap="round" marker-start="url(#mr59)" marker-mid="url(#mr59)" marker-end="url(#mr59)"/>
<marker id="mr62" markerWidth="10" markerHeight="10" refX="5" refY="5" markerUnits="userSpaceOnUse"><circle cx="5" cy="5" r="3.10" fill="#B20000"/></marker>
<path d="M1207.6 2070.9L1208.8 2073.3L1209.9 2075.4L1211.1 2079.0L1212.2 2074.8M1214.8 2067.9L1215.9 2066.4L1217.1 2065.7L1218.2 2065.8L1219.4 2066.5L1220.5 2065.0L1221.7 2065.0L1222.8 2064.9L1224.0 2066.6L1225.1 2070.9L1226.3 2070.2L1227.4 2071.2L1228.5 2072.2L1229.7 2072.4L1230.8 2074.6L1232.0 2075.5L1233.1 2077.0L1234.3 2076.9L1235.4 2076.1L1236.6 2074.6L1237.7 2073.9L1238.9 2070.1L1240.0 2068.8L1241.2 2071.0L1242.3 2074.1L1243.5 2078.4L1244.6 2077.5L1245.8 2076.2L1246.9 2074.7L1248.1 2073.9L1249.2 2074.6L1250.4 2073.7L1251.5 2073.0L1252.7 2075.0L1253.8 2076.3L1255.0 2076.0L1256.1 2077.5L1257.3 2079.0L1258.4 2080.6L1259.6 2081.9L1260.7 2081.0L1261.9 2080.6L1263.0 2080.2L1264.2 2079.8L1265.3 2079.5L1266.5 2080.3L1267.6 2080.7L1268.8 2081.9L1269.9 2081.1L1271.1 2080.9L1272.2 2080.3L1273.3 2080.7L1274.5 2079.4L1275.6 2078.3L1276.8 2076.8L1277.9 2076.9L1279.1 2074.4L1280.2 2070.9L1281.4 2072.6L1282.5 2074.7L1283.7 2075.3L1284.8 2076.9L1286.0 2077.1L1287.1 2076.4L1288.3 2076.2L1289.4 2075.4L1290.6 2076.7L1291.7 2076.9L1292.9 2076.5L1294.0 2078.4L1295.2 2080.7L1296.3 2082.2L1297.5 2082.8L1298.6 2082.1L1299.8 2082.0L1300.9 2081.8L1302.1 2081.9L1303.2 2081.4L1304.4 2080.7L1305.5 2081.3L1306.7 2081.7L1307.8 2083.6L1309.0 2084.9L1310.1 2086.3L1311.3 2087.7L1312.4 2088.8L1313.6 2089.7L1314.7 2089.2L1315.9 2088.9L1317.0 2089.6L1318.1 2088.8L1319.3 2089.7L1320.4 2090.0L1321.6 2091.3L1322.7 2091.8L1323.9 2092.9L1325.0 2093.7L1326.2 2093.9L1327.3 2094.8L1328.5 2093.2L1329.6 2093.2L1330.8 2091.7L1331.9 2091.8L1333.1 2092.5L1334.2 2094.2L1335.4 2096.3L1336.5 2097.0L1337.7 2098.2L1338.8 2099.9L1340.0 2101.6L1341.1 2102.5L1342.3 2102.5L1343.4 2103.7L1344.6 2100.8L1345.7 2099.2L1346.9 2100.4L1348.0 2101.2L1349.2 2103.7L1350.3 2103.1L1351.5 2103.4L1352.6 2103.1L1353.8 2103.7L1354.9 2104.1L1356.1 2105.9L1357.2 2106.7L1358.4 2107.6L1359.5 2108.1L1360.7 2108.7L1361.8 2109.4L1362.9 2109.7L1364.1 2109.3L1365.2 2108.8L1366.4 2109.9L1367.5 2108.8L1368.7 2110.6L1369.8 2110.3L1371.0 2110.8L1372.1 2111.2L1373.3 2113.3L1374.4 2113.7L1375.6 2116.0L1376.7 2116.5L1377.9 2114.9L1379.0 2115.7L1380.2 2115.9L1381.3 2118.2L1382.5 2119.1L1383.6 2120.1L1384.8 2121.5L1385.9 2122.2L1387.1 2122.9L1388.2 2123.1L1389.4 2124.2L1390.5 2125.3L1391.7 2125.7L1392.8 2125.5L1394.0 2126.5L1395.1 2128.5L1396.3 2130.6L1397.4 2134.5L1398.6 2139.5L1399.7 2141.5L1400.9 2144.0L1402.0 2145.5L1403.2 2142.4L1404.3 2139.5L1405.4 2138.1L1406.6 2136.7L1407.7 2135.0L1408.9 2137.0L1410.0 2138.4L1411.2 2139.9L1412.3 2141.0L1413.5 2139.2L1414.6 2138.9L1415.8 2138.6L1416.9 2137.4L1418.1 2137.1L1419.2 2136.5L1420.4 2136.6L1421.5 2135.0L1422.7 2135.9L1423.8 2136.2L1425.0 2135.6L1426.1 2134.5L1427.3 2134.5L1428.4 2135.4L1429.6 2136.0L1430.7 2136.0L1431.9 2136.0L1433.0 2136.5L1434.2 2136.0L1435.3 2136.7L1436.5 2138.5L1437.6 2137.7L1438.8 2136.5L1439.9 2136.9L1441.1 2136.3L1442.2 2136.8L1443.4 2135.6L1444.5 2135.0L1445.7 2135.2L1446.8 2135.1L1448.0 2134.9L1449.1 2133.7L1450.2 2133.6L1451.4 2133.9L1452.5 2133.7L1453.7 2132.4L1454.8 2132.7L1456.0 2133.5L1457.1 2134.5L1458.3 2135.4L1459.4 2135.9L1460.6 2135.5L1461.7 2135.0L1462.9 2137.1L1464.0 2138.3L1465.2 2139.5L1466.3 2141.5L1467.5 2141.0L1468.6 2139.5L1469.8 2136.8L1470.9 2133.6L1472.1 2132.8L1473.2 2133.0L1474.4 2131.5L1475.5 2132.5L1476.7 2132.1M1536.5 2120.7L1537.6 2118.9L1538.8 2118.7L1539.9 2115.7L1541.1 2116.5L1542.2 2115.9L1543.3 2115.8L1544.5 2117.1L1545.6 2116.8L1546.8 2116.0L1547.9 2115.6L1549.1 2115.7L1550.2 2115.1L1551.4 2115.2L1552.5 2116.5L1553.7 2117.3L1554.8 2116.5L1556.0 2116.0L1557.1 2115.3L1558.3 2114.1L1559.4 2112.7L1560.6 2113.1L1561.7 2111.6L1562.9 2110.4L1564.0 2109.7L1565.2 2108.8L1566.3 2109.2L1567.5 2108.6L1568.6 2108.2L1569.8 2107.7L1570.9 2106.2L1572.1 2105.3L1573.2 2105.2L1574.4 2104.6L1575.5 2104.4L1576.7 2103.7L1577.8 2105.2L1579.0 2104.7L1580.1 2105.0L1581.3 2105.1L1582.4 2104.6L1583.6 2103.1L1584.7 2102.2L1585.8 2103.2L1587.0 2102.2L1588.1 2098.3L1589.3 2093.9L1590.4 2093.2L1591.6 2092.2L1592.7 2091.5L1593.9 2091.8L1595.0 2090.7L1596.2 2091.5L1597.3 2093.1L1598.5 2092.7L1599.6 2092.0L1600.8 2090.7L1601.9 2090.7L1603.1 2089.7L1604.2 2089.7L1605.4 2090.2L1606.5 2088.8L1607.7 2088.8L1608.8 2089.8L1610.0 2090.3L1611.1 2089.1L1612.3 2088.0L1613.4 2087.2L1614.6 2085.8L1615.7 2084.6L1616.9 2081.9L1618.0 2079.7L1619.2 2077.8L1620.3 2076.9L1621.5 2076.3L1622.6 2075.8L1623.8 2075.5L1624.9 2075.4L1626.1 2076.7L1627.2 2078.2L1628.4 2078.2L1629.5 2079.8L1630.6 2077.3L1631.8 2076.0L1632.9 2076.0M1648.9 2081.3L1650.1 2080.0L1651.2 2080.8L1652.4 2081.8L1653.5 2083.1L1654.7 2080.7L1655.8 2081.8L1657.0 2082.5L1658.1 2082.9L1659.3 2083.2L1660.4 2082.8L1661.6 2081.9L1662.7 2080.5L1663.9 2079.2L1665.0 2078.4L1666.2 2077.3L1667.3 2077.7L1668.5 2077.6L1669.6 2076.9L1670.8 2076.9L1671.9 2075.0L1673.1 2073.4L1674.2 2072.4L1675.4 2073.4L1676.5 2073.0L1677.7 2073.9L1678.8 2074.8L1680.0 2077.4L1681.1 2079.8L1682.3 2081.5L1683.4 2080.3L1684.6 2081.4L1685.7 2081.9L1686.8 2082.4L1688.0 2082.3L1689.1 2082.8L1690.3 2078.1L1691.4 2073.9L1692.6 2074.8L1693.7 2075.2L1694.9 2075.4L1696.0 2076.5L1697.2 2077.5L1698.3 2079.8L1699.5 2080.0L1700.6 2080.1L1701.8 2080.5L1702.9 2081.6L1704.1 2081.3L1705.2 2082.1L1706.4 2082.5L1707.5 2083.2L1708.7 2083.0L1709.8 2082.8L1711.0 2084.5L1712.1 2083.4L1713.3 2083.9L1714.4 2083.9L1715.6 2083.7L1716.7 2084.0L1717.9 2083.5L1719.0 2084.3L1720.2 2083.9L1721.3 2082.8L1722.5 2081.8L1723.6 2081.3L1724.8 2081.9L1725.9 2080.6L1727.1 2078.4L1728.2 2076.0L1729.4 2073.9L1730.5 2077.0L1731.6 2078.4L1732.8 2079.7L1733.9 2080.9L1735.1 2083.6L1736.2 2085.8L1737.4 2086.4L1738.5 2086.7L1739.7 2088.8L1740.8 2089.1L1742.0 2088.4L1743.1 2088.8L1744.3 2090.6L1745.4 2092.7M1747.7 2097.8L1748.9 2099.6L1750.0 2100.5L1751.1 2100.7L1752.3 2100.7L1753.4 2100.6L1754.6 2099.3L1755.7 2100.7L1756.9 2102.0L1758.0 2105.1L1759.2 2106.7L1760.3 2109.2L1761.5 2114.2L1762.6 2113.7L1763.8 2114.3L1764.9 2114.4L1766.1 2115.7L1767.2 2115.9L1768.4 2117.0L1769.5 2117.0L1770.7 2117.1L1771.8 2117.2L1773.0 2118.0L1774.1 2120.1L1775.3 2118.9L1776.4 2119.3L1777.6 2117.1L1778.7 2116.8L1779.9 2117.3L1781.0 2117.0L1782.2 2117.1L1783.3 2119.4L1784.5 2121.3L1785.6 2123.1L1786.8 2125.4L1787.9 2127.9L1789.1 2129.1L1790.2 2130.7L1791.4 2130.6L1792.5 2133.6L1793.7 2132.5L1794.8 2133.1L1795.9 2133.3L1797.1 2133.4L1798.2 2133.4L1799.4 2132.7L1800.5 2132.8L1801.7 2132.6L1802.8 2133.0L1804.0 2132.6L1805.1 2132.7L1806.3 2135.9L1807.4 2139.5L1808.6 2141.8L1809.7 2144.2L1810.9 2147.0L1812.0 2146.9L1813.2 2147.0L1814.3 2143.7L1815.5 2139.2L1816.6 2135.0L1817.8 2134.3L1818.9 2132.8L1820.1 2132.7L1821.2 2132.7L1822.4 2132.8L1823.5 2133.3L1824.7 2132.8L1825.8 2132.1L1827.0 2131.7L1828.1 2132.4L1829.3 2131.5L1830.4 2130.5L1831.6 2130.6L1832.7 2130.7L1833.9 2129.8L1835.0 2129.1L1836.2 2129.5L1837.3 2128.5L1838.5 2129.4L1839.6 2129.2L1840.7 2128.9L1841.9 2129.7L1843.0 2129.0L1844.2 2130.1L1845.3 2130.1L1846.5 2131.2L1847.6 2130.8L1848.8 2132.7L1849.9 2133.8L1851.1 2134.2L1852.2 2133.2L1853.4 2133.3L1854.5 2133.6L1855.7 2133.5L1856.8 2133.4L1858.0 2133.8L1859.1 2135.0L1860.3 2135.2L1861.4 2134.2L1862.6 2133.3L1863.7 2133.9L1864.9 2133.6L1866.0 2134.1L1867.2 2133.2L1868.3 2133.4L1869.5 2132.5L1870.6 2134.5L1871.8 2134.2L1872.9 2135.2L1874.1 2136.2L1875.2 2136.2L1876.4 2136.5L1877.5 2136.7L1878.7 2137.1L1879.8 2137.2L1881.0 2137.9L1882.1 2137.4L1883.3 2141.9L1884.4 2145.5L1885.5 2145.2L1886.7 2146.3L1887.8 2147.0L1889.0 2147.0L1890.1 2147.6L1891.3 2146.8L1892.4 2145.5L1893.6 2145.7L1894.7 2144.2L1895.9 2144.1L1897.0 2142.5L1898.2 2142.3L1899.3 2141.7L1900.5 2140.7L1901.6 2140.4L1902.8 2140.6L1903.9 2139.9L1905.1 2139.1L1906.2 2137.4L1907.4 2135.3L1908.5 2136.0L1909.7 2134.9L1910.8 2135.0L1912.0 2135.6L1913.1 2136.5L1914.3 2134.5L1915.4 2135.3L1916.6 2135.5L1917.7 2135.4L1918.9 2134.5L1920.0 2133.7L1921.2 2134.5L1922.3 2133.7L1923.5 2133.3L1924.6 2133.6L1925.8 2132.8L1926.9 2132.9L1928.0 2133.1L1929.2 2133.6L1930.3 2131.9L1931.5 2130.8L1932.6 2129.8L1933.8 2129.7L1934.9 2129.5L1936.1 2129.7L1937.2 2127.6L1938.4 2127.4L1939.5 2126.5L1940.7 2126.1L1941.8 2125.5L1943.0 2124.9L1944.1 2125.5M1962.2 2121.6L1963.4 2120.6L1964.5 2121.0L1965.7 2120.2L1966.8 2120.7L1968.0 2120.7L1969.1 2121.1L1970.3 2120.4L1971.4 2120.2L1972.6 2119.5L1973.7 2118.5L1974.9 2116.3L1976.0 2115.7L1977.2 2115.3L1978.3 2113.4L1979.5 2111.8L1980.6 2111.2L1981.8 2107.1L1982.9 2103.7L1984.1 2101.0L1985.2 2095.7L1986.4 2096.2L1987.5 2097.7L1988.7 2097.7L1989.8 2097.8L1991.0 2097.2L1992.1 2096.4L1993.2 2096.9L1994.4 2096.9L1995.5 2097.8L1996.7 2097.8L1997.8 2098.6L1999.0 2097.0L2000.1 2095.7L2001.3 2093.4L2002.4 2092.7L2003.6 2093.5L2004.7 2096.5L2005.9 2096.9L2007.0 2095.9L2008.2 2094.3L2009.3 2091.8L2010.5 2090.8L2011.6 2088.7L2012.8 2087.3L2013.9 2090.3L2015.1 2092.7L2016.2 2092.0L2017.4 2093.1L2018.5 2094.0L2019.7 2095.7L2020.8 2094.8L2022.0 2094.3L2023.1 2092.2L2024.3 2091.8L2025.4 2089.7L2026.6 2087.5L2027.7 2084.3L2028.9 2081.6L2030.0 2078.4L2031.2 2075.9L2032.3 2074.8L2033.5 2076.1L2034.6 2076.9L2035.8 2078.0L2036.9 2079.8L2038.0 2081.3L2039.2 2083.7L2040.3 2084.6L2041.5 2086.7L2042.6 2085.5L2043.8 2084.1L2044.9 2082.8L2046.1 2080.0L2047.2 2075.5L2048.4 2072.4L2049.5 2069.9L2050.7 2068.3L2051.8 2065.8L2053.0 2068.0L2054.1 2070.8L2055.3 2072.4L2056.4 2073.8L2057.6 2074.1L2058.7 2076.0L2059.9 2074.0L2061.0 2071.8L2062.2 2069.1L2063.3 2067.9L2064.5 2064.4L2065.6 2062.2L2066.8 2059.9L2067.9 2061.2L2069.1 2061.8L2070.2 2062.8L2071.4 2063.0L2072.5 2062.7L2073.7 2064.9L2074.8 2065.2L2076.0 2067.4L2077.1 2068.7L2078.3 2070.0L2079.4 2067.5L2080.5 2064.6L2081.7 2061.9L2082.8 2060.5L2084.0 2059.2L2085.1 2057.4L2086.3 2056.9L2087.4 2059.9L2088.6 2063.4L2089.7 2065.1L2090.9 2069.9L2092.0 2073.0L2093.2 2075.1L2094.3 2077.4L2095.5 2078.4L2096.6 2078.7L2097.8 2079.0L2098.9 2080.4L2100.1 2079.8L2101.2 2076.8L2102.4 2072.4L2103.5 2070.6L2104.7 2067.9L2105.8 2069.3L2107.0 2072.2L2108.1 2075.4L2109.3 2077.6L2110.4 2079.5L2111.6 2080.7L2112.7 2083.0L2113.9 2082.6L2115.0 2082.2L2116.2 2082.6L2117.3 2082.8L2118.5 2081.6L2119.6 2082.2L2120.8 2080.7L2121.9 2081.9L2123.1 2081.4L2124.2 2080.8L2125.3 2081.9L2126.5 2081.9L2127.6 2084.4L2128.8 2085.9L2129.9 2088.8L2131.1 2088.5L2132.2 2086.8L2133.4 2085.5L2134.5 2084.3L2135.7 2084.9L2136.8 2084.2L2138.0 2083.5L2139.1 2083.4L2140.3 2083.7L2141.4 2083.4L2142.6 2085.5L2143.7 2086.4L2144.9 2085.8L2146.0 2086.6L2147.2 2087.7L2148.3 2088.4L2149.5 2088.8L2150.6 2089.5L2151.8 2089.9L2152.9 2090.7L2154.1 2091.8L2155.2 2091.1L2156.4 2091.6L2157.5 2092.4L2158.7 2093.9L2159.8 2093.7L2161.0 2092.4L2162.1 2091.3L2163.3 2090.9L2164.4 2092.0L2165.6 2092.2L2166.7 2093.0L2167.9 2094.8L2169.0 2093.6L2170.1 2095.3L2171.3 2097.2L2172.4 2097.8L2173.6 2097.7L2174.7 2098.2L2175.9 2096.9L2177.0 2095.6L2178.2 2096.3L2179.3 2096.5L2180.5 2097.8L2181.6 2099.1L2182.8 2099.2L2183.9 2100.6L2185.1 2101.3L2186.2 2102.0L2187.4 2102.8L2188.5 2103.4L2189.7 2104.5L2190.8 2104.9L2192.0 2104.6L2193.1 2104.7L2194.3 2105.0L2195.4 2105.0L2196.6 2106.2L2197.7 2106.7L2198.9 2108.3L2200.0 2109.7L2201.2 2110.3L2202.3 2110.6L2203.5 2110.3L2204.6 2109.4L2205.8 2110.7L2206.9 2111.3L2208.1 2111.8L2209.2 2111.5L2210.4 2111.9L2211.5 2111.4L2212.6 2110.6L2213.8 2111.2L2214.9 2111.3L2216.1 2111.2L2217.2 2112.5L2218.4 2114.2L2219.5 2113.8L2220.7 2114.7L2221.8 2114.8L2223.0 2114.3L2224.1 2115.1L2225.3 2114.5L2226.4 2115.3L2227.6 2114.9L2228.7 2115.3L2229.9 2115.9L2231.0 2115.5L2232.2 2115.7L2233.3 2114.2L2234.5 2114.8L2235.6 2115.1L2236.8 2114.0L2237.9 2114.2L2239.1 2114.2L2240.2 2113.5L2241.4 2113.9L2242.5 2114.4L2243.7 2114.2L2244.8 2114.6L2246.0 2114.4L2247.1 2114.0L2248.3 2115.7L2249.4 2117.0L2250.6 2118.8L2251.7 2120.1L2252.9 2123.5L2254.0 2126.0L2255.2 2130.6L2256.3 2132.3L2257.4 2134.9L2258.6 2137.4L2259.7 2137.9L2260.9 2137.8L2262.0 2138.0L2263.2 2137.4L2264.3 2135.4L2265.5 2133.6L2266.6 2131.8L2267.8 2132.0L2268.9 2130.1L2270.1 2128.5L2271.2 2127.9L2272.4 2126.8L2273.5 2125.2L2274.7 2123.7L2275.8 2123.0L2277.0 2122.3L2278.1 2122.6L2279.3 2121.9L2280.4 2121.6" stroke="#B20000" stroke-width="4.20" fill="none" stroke-linejoin="round" stroke-linecap="round" marker-start="url(#mr62)" marker-mid="url(#mr62)" marker-end="url(#mr62)"/>
<marker id="mr65" markerWidth="10" markerHeight="10" refX="5" refY="5" markerUnits="userSpaceOnUse"><circle cx="5" cy="5" r="3.25" fill="#B20000"/></marker>
<path d="M2280.4 2121.6L2281.6 2122.4L2282.7 2124.5L2283.9 2126.5L2285.0 2126.7L2286.2 2128.4L2287.3 2129.0L2288.5 2129.7L2289.6 2129.0L2290.8 2129.7L2291.9 2128.7L2293.1 2129.3L2294.2 2129.9L2295.4 2129.7L2296.5 2129.7L2297.7 2128.6L2298.8 2128.8L2300.0 2128.5L2301.1 2127.6L2302.2 2129.1L2303.4 2129.2L2304.5 2129.0L2305.7 2127.8L2306.8 2129.1L2308.0 2129.0L2309.1 2129.3L2310.3 2128.9L2311.4 2129.4L2312.6 2128.5L2313.7 2129.8L2314.9 2129.8L2316.0 2131.4L2317.2 2132.6L2318.3 2132.7L2319.5 2132.2L2320.6 2130.9L2321.8 2129.7L2322.9 2129.1L2324.1 2128.5L2325.2 2127.5L2326.4 2127.1L2327.5 2127.2L2328.7 2127.6L2329.8 2127.1L2331.0 2127.6L2332.1 2127.6L2333.3 2127.4L2334.4 2127.0L2335.6 2126.7L2336.7 2125.1L2337.9 2125.9L2339.0 2125.4L2340.2 2126.0L2341.3 2125.5L2342.5 2124.0L2343.6 2123.9L2344.8 2123.5L2345.9 2123.2L2347.0 2123.1L2348.2 2122.8L2349.3 2122.7L2350.5 2122.2L2351.6 2121.3L2352.8 2120.7L2353.9 2120.0L2355.1 2120.2L2356.2 2120.3L2357.4 2119.4L2358.5 2119.5L2359.7 2119.7L2360.8 2119.8L2362.0 2117.4L2363.1 2115.7L2364.3 2115.7L2365.4 2115.5L2366.6 2114.9L2367.7 2114.4L2368.9 2114.2L2370.0 2113.6L2371.2 2113.6L2372.3 2113.1L2373.5 2112.4L2374.6 2111.5L2375.8 2111.8L2376.9 2112.2L2378.1 2113.8L2379.2 2113.9L2380.4 2113.9L2381.5 2112.7L2382.7 2113.5L2383.8 2111.1L2385.0 2110.6L2386.1 2109.0L2387.3 2108.8L2388.4 2107.9L2389.5 2105.9L2390.7 2105.2L2391.8 2103.8L2393.0 2102.2L2394.1 2102.1L2395.3 2101.0L2396.4 2100.1L2397.6 2099.2L2398.7 2096.1L2399.9 2090.3L2401.0 2092.2L2402.2 2094.8L2403.3 2092.7L2404.5 2087.9L2405.6 2090.2L2406.8 2093.2L2407.9 2095.7L2409.1 2095.4L2410.2 2096.5L2411.4 2096.5L2412.5 2097.8L2413.7 2096.6L2414.8 2095.9L2416.0 2096.1L2417.1 2095.3L2418.3 2094.8L2419.4 2092.6L2420.6 2091.7L2421.7 2090.5L2422.9 2088.8L2424.0 2087.7L2425.2 2085.6L2426.3 2083.7L2427.5 2084.8L2428.6 2084.3L2429.8 2083.0L2430.9 2082.9L2432.1 2082.8L2433.2 2082.8L2434.3 2082.5L2435.5 2082.0L2436.6 2082.2L2437.8 2081.9L2438.9 2082.0L2440.1 2081.8L2441.2 2081.8L2442.4 2081.5L2443.5 2080.7L2444.7 2080.0L2445.8 2078.9L2447.0 2079.4L2448.1 2079.8L2449.3 2078.4L2450.4 2077.6L2451.6 2075.2L2452.7 2071.8L2453.9 2072.2L2455.0 2071.8L2456.2 2073.7L2457.3 2073.9L2458.5 2073.7L2459.6 2073.5L2460.8 2074.2L2461.9 2075.4L2463.1 2075.4L2464.2 2075.5L2465.4 2075.0L2466.5 2075.1L2467.7 2076.9L2468.8 2076.2L2470.0 2076.8L2471.1 2076.9L2472.3 2076.7L2473.4 2078.4L2474.6 2075.2L2475.7 2071.3L2476.9 2067.9L2478.0 2065.2L2479.1 2064.4L2480.3 2064.0L2481.4 2065.0L2482.6 2067.4L2483.7 2069.3L2484.9 2070.9L2486.0 2068.2L2487.2 2067.2L2488.3 2064.9L2489.5 2064.5L2490.6 2063.0L2491.8 2060.4L2492.9 2059.9L2494.1 2060.4L2495.2 2061.1L2496.4 2063.4L2497.5 2062.6L2498.7 2063.9L2499.8 2064.3L2501.0 2065.8L2502.1 2066.6L2503.3 2066.9L2504.4 2065.8L2505.6 2066.0L2506.7 2066.4L2507.9 2064.6L2509.0 2064.6L2510.2 2063.6L2511.3 2062.8L2512.5 2061.7L2513.6 2060.7L2514.8 2060.2L2515.9 2060.5L2517.1 2058.1L2518.2 2054.5L2519.4 2055.1L2520.5 2057.5L2521.7 2058.3L2522.8 2059.0L2523.9 2061.1L2525.1 2062.2L2526.2 2062.8L2527.4 2063.2L2528.5 2064.3L2529.7 2066.7L2530.8 2066.4L2532.0 2068.2L2533.1 2068.8L2534.3 2069.9L2535.4 2070.9L2536.6 2071.8L2537.7 2072.1L2538.9 2072.8L2540.0 2073.9L2541.2 2071.8L2542.3 2069.0L2543.5 2066.8L2544.6 2065.8L2545.8 2072.0L2546.9 2075.4L2548.1 2076.7L2549.2 2079.0L2550.4 2079.7L2551.5 2081.3L2552.7 2080.2L2553.8 2080.6L2555.0 2079.8L2556.1 2079.0L2557.3 2078.9L2558.4 2080.2L2559.6 2081.2L2560.7 2080.7L2561.9 2081.7L2563.0 2082.0L2564.2 2083.3L2565.3 2082.4L2566.4 2082.8L2567.6 2082.8L2568.7 2081.9L2569.9 2082.7L2571.0 2082.7L2572.2 2082.9L2573.3 2082.8L2574.5 2083.1L2575.6 2085.0L2576.8 2086.1L2577.9 2087.3L2579.1 2087.1L2580.2 2088.0L2581.4 2088.3L2582.5 2087.1L2583.7 2088.2L2584.8 2088.8L2586.0 2089.3L2587.1 2088.9L2588.3 2089.7L2589.4 2089.6L2590.6 2091.2L2591.7 2091.4L2592.9 2093.9L2594.0 2094.4L2595.2 2094.6L2596.3 2094.9L2597.5 2095.7L2598.6 2097.1L2599.8 2095.7L2600.9 2096.7L2602.1 2097.9L2603.2 2098.0L2604.4 2097.7L2605.5 2097.8L2606.7 2098.7L2607.8 2100.3L2609.0 2100.3L2610.1 2100.9L2611.2 2102.2L2612.4 2102.9L2613.5 2105.3L2614.7 2105.0L2615.8 2106.5L2617.0 2106.7L2618.1 2107.4L2619.3 2106.2L2620.4 2106.9L2621.6 2108.3L2622.7 2108.2L2623.9 2108.6L2625.0 2109.7L2626.2 2109.3L2627.3 2109.0L2628.5 2110.1L2629.6 2109.8L2630.8 2109.7L2631.9 2111.0L2633.1 2111.1L2634.2 2111.2L2635.4 2111.9L2636.5 2111.9L2637.7 2111.8L2638.8 2112.5L2640.0 2113.0L2641.1 2113.0L2642.3 2113.2L2643.4 2113.5L2644.6 2114.7L2645.7 2114.2L2646.9 2113.5L2648.0 2114.1L2649.2 2115.5L2650.3 2115.6L2651.5 2114.7L2652.6 2115.7L2653.8 2116.2L2654.9 2116.1L2656.0 2116.3L2657.2 2117.2L2658.3 2117.0L2659.5 2116.6L2660.6 2117.1L2661.8 2117.5L2662.9 2116.9L2664.1 2118.2L2665.2 2117.5L2666.4 2117.8L2667.5 2118.6L2668.7 2119.0L2669.8 2118.5L2671.0 2118.4L2672.1 2117.7L2673.3 2118.6L2674.4 2120.2L2675.6 2120.1L2676.7 2119.7L2677.9 2120.7L2679.0 2122.9L2680.2 2123.5L2681.3 2123.9L2682.5 2126.1L2683.6 2125.7L2684.8 2127.0L2685.9 2127.2L2687.1 2127.6L2688.2 2127.8L2689.4 2129.2L2690.5 2129.2L2691.7 2130.6L2692.8 2130.8L2694.0 2130.6L2695.1 2130.1L2696.3 2129.7L2697.4 2128.4L2698.5 2129.1L2699.7 2129.1L2700.8 2130.3L2702.0 2134.4L2703.1 2138.0L2704.3 2138.9L2705.4 2139.5L2706.6 2140.3L2707.7 2141.0L2708.9 2140.5L2710.0 2141.7L2711.2 2142.6L2712.3 2141.0L2713.5 2140.9L2714.6 2140.5L2715.8 2138.0L2716.9 2135.9L2718.1 2129.1L2719.2 2125.6L2720.4 2124.1L2721.5 2121.6L2722.7 2119.0L2723.8 2118.3L2725.0 2119.1L2726.1 2117.7L2727.3 2118.3L2728.4 2118.2L2729.6 2118.7L2730.7 2118.1L2731.9 2118.6L2733.0 2118.6L2734.2 2119.2L2735.3 2119.3L2736.5 2119.3L2737.6 2118.7L2738.8 2118.7L2739.9 2119.5L2741.1 2118.9L2742.2 2119.7L2743.3 2119.5L2744.5 2119.5L2745.6 2120.1L2746.8 2121.0L2747.9 2121.3L2749.1 2121.2L2750.2 2121.4L2751.4 2123.1L2752.5 2122.0L2753.7 2121.7L2754.8 2121.2L2756.0 2120.3L2757.1 2121.6L2758.3 2121.2L2759.4 2121.2L2760.6 2120.3L2761.7 2119.4L2762.9 2119.5L2764.0 2118.7L2765.2 2118.9L2766.3 2119.6L2767.5 2118.4L2768.6 2119.5L2769.8 2118.6L2770.9 2118.7L2772.1 2119.1L2773.2 2119.3L2774.4 2118.9L2775.5 2119.5L2776.7 2118.0L2777.8 2118.4L2779.0 2118.1L2780.1 2117.7L2781.3 2117.1L2782.4 2115.9L2783.6 2116.0L2784.7 2114.6L2785.9 2113.6L2787.0 2112.7L2788.1 2112.2L2789.3 2110.2L2790.4 2109.5L2791.6 2109.7L2792.7 2107.6L2793.9 2107.5L2795.0 2106.5L2796.2 2104.8L2797.3 2103.7L2798.5 2103.5L2799.6 2104.1L2800.8 2105.1L2801.9 2106.7L2803.1 2105.4L2804.2 2106.3L2805.4 2106.7L2806.5 2106.8L2807.7 2106.7L2808.8 2105.6L2810.0 2104.8L2811.1 2103.4L2812.3 2102.2L2813.4 2101.4L2814.6 2099.9L2815.7 2099.0L2816.9 2096.9L2818.0 2097.8L2819.2 2098.7L2820.3 2100.7L2821.5 2101.2L2822.6 2102.0L2823.8 2100.8L2824.9 2101.6L2826.1 2099.7L2827.2 2097.3L2828.4 2094.2L2829.5 2093.3L2830.7 2091.5L2831.8 2090.2L2832.9 2088.8L2834.1 2087.0L2835.2 2084.9L2836.4 2083.2L2837.5 2081.3L2838.7 2084.0L2839.8 2085.4L2841.0 2087.3L2842.1 2087.5L2843.3 2085.6L2844.4 2084.4L2845.6 2084.9L2846.7 2084.5L2847.9 2083.6L2849.0 2081.9L2850.2 2081.9L2851.3 2083.8L2852.5 2085.2L2853.6 2087.3L2854.8 2088.3L2855.9 2089.3L2857.1 2090.3L2858.2 2089.3L2859.4 2088.2L2860.5 2087.1L2861.7 2084.3L2862.8 2083.4L2864.0 2080.6L2865.1 2076.9L2866.3 2075.5L2867.4 2074.6L2868.6 2070.9L2869.7 2068.5L2870.9 2064.9L2872.0 2066.9L2873.2 2069.7L2874.3 2072.4L2875.4 2073.5L2876.6 2074.7L2877.7 2076.9L2878.9 2076.2L2880.0 2077.7L2881.2 2078.4L2882.3 2074.8L2883.5 2071.4L2884.6 2065.8L2885.8 2066.0L2886.9 2069.4L2888.1 2072.1L2889.2 2073.9L2890.4 2075.8L2891.5 2077.1L2892.7 2078.4L2893.8 2079.3L2895.0 2079.5L2896.1 2079.2L2897.3 2080.7L2898.4 2078.6L2899.6 2075.4L2900.7 2075.3L2901.9 2075.4" stroke="#B20000" stroke-width="4.47" fill="none" stroke-linejoin="round" stroke-linecap="round" marker-start="url(#mr65)" marker-mid="url(#mr65)" marker-end="url(#mr65)"/>
<rect x="291" y="235" width="4" height="381" fill="#F7941D" shape-rendering="crispEdges"/>
<rect x="2939" y="235" width="4" height="381" fill="#F7941D" shape-rendering="crispEdges"/>
<rect x="291" y="616" width="4" height="387" fill="#660066" shape-rendering="crispEdges"/>
<rect x="2939" y="616" width="4" height="387" fill="#660066" shape-rendering="crispEdges"/>
<rect x="291" y="1003" width="4" height="386" fill="#00688B" shape-rendering="crispEdges"/>
<rect x="2939" y="1003" width="4" height="386" fill="#00688B" shape-rendering="crispEdges"/>
<rect x="291" y="1389" width="4" height="389" fill="#1E8C0A" shape-rendering="crispEdges"/>
<rect x="2939" y="1389" width="4" height="389" fill="#1E8C0A" shape-rendering="crispEdges"/>
<rect x="291" y="1778" width="4" height="386" fill="#B20000" shape-rendering="crispEdges"/>
<rect x="2939" y="1778" width="4" height="386" fill="#B20000" shape-rendering="crispEdges"/>
<path d="M295 334.5h26M2939 334.5h-26" stroke="#F7941D" stroke-width="3" shape-rendering="crispEdges"/>
<text x="277" y="345.8" font-size="44.5" text-anchor="end" fill="#F7941D" stroke="#F7941D" stroke-width="0.7" textLength="83.5" lengthAdjust="spacingAndGlyphs">1500</text>
<path d="M295 445.5h26M2939 445.5h-26" stroke="#F7941D" stroke-width="3" shape-rendering="crispEdges"/>
<text x="277" y="456.7" font-size="44.5" text-anchor="end" fill="#F7941D" stroke="#F7941D" stroke-width="0.7" textLength="83.5" lengthAdjust="spacingAndGlyphs">1000</text>
<path d="M295 556.5h26M2939 556.5h-26" stroke="#F7941D" stroke-width="3" shape-rendering="crispEdges"/>
<text x="277" y="567.7" font-size="44.5" text-anchor="end" fill="#F7941D" stroke="#F7941D" stroke-width="0.7" textLength="62.5" lengthAdjust="spacingAndGlyphs">500</text>
<path d="M295 628.5h26M2939 628.5h-26" stroke="#660066" stroke-width="3" shape-rendering="crispEdges"/>
<text x="2958.5" y="639.7" font-size="44.5" text-anchor="start" fill="#660066" stroke="#660066" stroke-width="0.7" textLength="42.0" lengthAdjust="spacingAndGlyphs">10</text>
<path d="M295 813.5h26M2939 813.5h-26" stroke="#660066" stroke-width="3" shape-rendering="crispEdges"/>
<text x="2958.5" y="824.7" font-size="44.5" text-anchor="start" fill="#660066" stroke="#660066" stroke-width="0.7" textLength="21.0" lengthAdjust="spacingAndGlyphs">5</text>
<path d="M295 997.5h26M2939 997.5h-26" stroke="#660066" stroke-width="3" shape-rendering="crispEdges"/>
<text x="2958.5" y="1009.3" font-size="44.5" text-anchor="start" fill="#660066" stroke="#660066" stroke-width="0.7" textLength="21.0" lengthAdjust="spacingAndGlyphs">0</text>
<path d="M295 1063.5h26M2939 1063.5h-26" stroke="#00688B" stroke-width="3" shape-rendering="crispEdges"/>
<text x="277" y="1075.5" font-size="44.5" text-anchor="end" fill="#00688B" stroke="#00688B" stroke-width="0.7" textLength="42.0" lengthAdjust="spacingAndGlyphs">20</text>
<path d="M295 1222.5h26M2939 1222.5h-26" stroke="#00688B" stroke-width="3" shape-rendering="crispEdges"/>
<text x="277" y="1233.7" font-size="44.5" text-anchor="end" fill="#00688B" stroke="#00688B" stroke-width="0.7" textLength="42.0" lengthAdjust="spacingAndGlyphs">10</text>
<path d="M295 1379.5h26M2939 1379.5h-26" stroke="#00688B" stroke-width="3" shape-rendering="crispEdges"/>
<text x="277" y="1391.5" font-size="44.5" text-anchor="end" fill="#00688B" stroke="#00688B" stroke-width="0.7" textLength="21.0" lengthAdjust="spacingAndGlyphs">0</text>
<path d="M295 1399.5h26M2939 1399.5h-26" stroke="#1E8C0A" stroke-width="3" shape-rendering="crispEdges"/>
<text x="2958.5" y="1411.0" font-size="44.5" text-anchor="start" fill="#1E8C0A" stroke="#1E8C0A" stroke-width="0.7" textLength="42.0" lengthAdjust="spacingAndGlyphs">30</text>
<path d="M295 1523.5h26M2939 1523.5h-26" stroke="#1E8C0A" stroke-width="3" shape-rendering="crispEdges"/>
<text x="2958.5" y="1534.8" font-size="44.5" text-anchor="start" fill="#1E8C0A" stroke="#1E8C0A" stroke-width="0.7" textLength="42.0" lengthAdjust="spacingAndGlyphs">20</text>
<path d="M295 1647.5h26M2939 1647.5h-26" stroke="#1E8C0A" stroke-width="3" shape-rendering="crispEdges"/>
<text x="2958.5" y="1658.8" font-size="44.5" text-anchor="start" fill="#1E8C0A" stroke="#1E8C0A" stroke-width="0.7" textLength="42.0" lengthAdjust="spacingAndGlyphs">10</text>
<path d="M295 1771.5h26M2939 1771.5h-26" stroke="#1E8C0A" stroke-width="3" shape-rendering="crispEdges"/>
<text x="2958.5" y="1782.7" font-size="44.5" text-anchor="start" fill="#1E8C0A" stroke="#1E8C0A" stroke-width="0.7" textLength="21.0" lengthAdjust="spacingAndGlyphs">0</text>
<path d="M295 1815.5h26M2939 1815.5h-26" stroke="#B20000" stroke-width="3" shape-rendering="crispEdges"/>
<text x="277" y="1826.9" font-size="44.5" text-anchor="end" fill="#B20000" stroke="#B20000" stroke-width="0.7" textLength="42.0" lengthAdjust="spacingAndGlyphs">30</text>
<path d="M295 1958.5h26M2939 1958.5h-26" stroke="#B20000" stroke-width="3" shape-rendering="crispEdges"/>
<text x="277" y="1969.7" font-size="44.5" text-anchor="end" fill="#B20000" stroke="#B20000" stroke-width="0.7" textLength="42.0" lengthAdjust="spacingAndGlyphs">20</text>
<path d="M295 2101.5h26M2939 2101.5h-26" stroke="#B20000" stroke-width="3" shape-rendering="crispEdges"/>
<text x="277" y="2112.5" font-size="44.5" text-anchor="end" fill="#B20000" stroke="#B20000" stroke-width="0.7" textLength="42.0" lengthAdjust="spacingAndGlyphs">10</text>
<rect x="291" y="231" width="2652" height="4" fill="#262626" shape-rendering="crispEdges"/>
<rect x="291" y="2164" width="2652" height="3" fill="#262626" shape-rendering="crispEdges"/>
<path d="M562.5 235v26M562.5 2164v-26" stroke="#262626" stroke-width="3" shape-rendering="crispEdges"/>
<text x="563.2" y="2218" font-size="44.5" text-anchor="middle" fill="#262626" stroke="#262626" stroke-width="0.7" textLength="82.5" lengthAdjust="spacingAndGlyphs">2020</text>
<path d="M983.5 235v26M983.5 2164v-26" stroke="#262626" stroke-width="3" shape-rendering="crispEdges"/>
<text x="983.9" y="2218" font-size="44.5" text-anchor="middle" fill="#262626" stroke="#262626" stroke-width="0.7" textLength="82.5" lengthAdjust="spacingAndGlyphs">2021</text>
<path d="M1402.5 235v26M1402.5 2164v-26" stroke="#262626" stroke-width="3" shape-rendering="crispEdges"/>
<text x="1403.1" y="2218" font-size="44.5" text-anchor="middle" fill="#262626" stroke="#262626" stroke-width="0.7" textLength="82.5" lengthAdjust="spacingAndGlyphs">2022</text>
<path d="M1821.5 235v26M1821.5 2164v-26" stroke="#262626" stroke-width="3" shape-rendering="crispEdges"/>
<text x="1822.0" y="2218" font-size="44.5" text-anchor="middle" fill="#262626" stroke="#262626" stroke-width="0.7" textLength="82.5" lengthAdjust="spacingAndGlyphs">2023</text>
<path d="M2240.5 235v26M2240.5 2164v-26" stroke="#262626" stroke-width="3" shape-rendering="crispEdges"/>
<text x="2241.2" y="2218" font-size="44.5" text-anchor="middle" fill="#262626" stroke="#262626" stroke-width="0.7" textLength="82.5" lengthAdjust="spacingAndGlyphs">2024</text>
<path d="M2660.5 235v26M2660.5 2164v-26" stroke="#262626" stroke-width="3" shape-rendering="crispEdges"/>
<text x="2661.0" y="2218" font-size="44.5" text-anchor="middle" fill="#262626" stroke="#262626" stroke-width="0.7" textLength="82.5" lengthAdjust="spacingAndGlyphs">2025</text>
<text class="sans" transform="translate(305.00 94.2) scale(0.780 1)" font-size="44.0" font-weight="bold" fill="#169EC2" stroke="#169EC2" stroke-width="2.0" textLength="194.87" lengthAdjust="spacing">OCEAN</text>
<text class="sans" transform="translate(476.00 94.2) scale(0.780 1)" font-size="44.0" font-weight="bold" fill="#169EC2" stroke="#169EC2" stroke-width="2.0" textLength="327.56" lengthAdjust="spacing">NETWORKS</text>
<text class="sans" transform="translate(749.00 94.2) scale(0.780 1)" font-size="44.0" font-weight="bold" fill="#169EC2" stroke="#169EC2" stroke-width="2.0" textLength="243.59" lengthAdjust="spacing">CANADA</text>
<text x="1372.5" y="94.4" font-size="49.5" textLength="93.7" lengthAdjust="spacingAndGlyphs" fill="#000" stroke="#000" stroke-width="0.8">CO2</text>
<text x="1480.0" y="94.4" font-size="49.5" textLength="138.5" lengthAdjust="spacingAndGlyphs" fill="#000" stroke="#000" stroke-width="0.8">Partial</text>
<text x="1634.5" y="94.4" font-size="49.5" textLength="182.6" lengthAdjust="spacingAndGlyphs" fill="#000" stroke="#000" stroke-width="0.8">Pressure,</text>
<text x="1833.0" y="94.4" font-size="49.5" textLength="166.1" lengthAdjust="spacingAndGlyphs" fill="#000" stroke="#000" stroke-width="0.8">Oxygen,</text>
<text x="2014.5" y="94.4" font-size="49.5" textLength="169.7" lengthAdjust="spacingAndGlyphs" fill="#000" stroke="#000" stroke-width="0.8">Sigma-t,</text>
<text x="2198.5" y="94.4" font-size="49.5" textLength="154.1" lengthAdjust="spacingAndGlyphs" fill="#000" stroke="#000" stroke-width="0.8">Salinity</text>
<text x="2368.5" y="94.4" font-size="49.5" textLength="72.5" lengthAdjust="spacingAndGlyphs" fill="#000" stroke="#000" stroke-width="0.8">and</text>
<text x="2457.0" y="94.4" font-size="49.5" textLength="70.6" lengthAdjust="spacingAndGlyphs" fill="#000" stroke="#000" stroke-width="0.8">Sea</text>
<text x="2543.5" y="94.4" font-size="49.5" textLength="122.5" lengthAdjust="spacingAndGlyphs" fill="#000" stroke="#000" stroke-width="0.8">Water</text>
<text x="2683.0" y="94.4" font-size="49.5" textLength="258.5" lengthAdjust="spacingAndGlyphs" fill="#000" stroke="#000" stroke-width="0.8">Temperature</text>
<text x="1531.0" y="148.8" font-size="49.5" textLength="143.0" lengthAdjust="spacingAndGlyphs" fill="#000" stroke="#000" stroke-width="0.8">Baynes</text>
<text x="1688.0" y="148.8" font-size="49.5" textLength="125.6" lengthAdjust="spacingAndGlyphs" fill="#000" stroke="#000" stroke-width="0.8">Sound</text>
<text x="1830.0" y="148.8" font-size="49.5" textLength="169.0" lengthAdjust="spacingAndGlyphs" fill="#000" stroke="#000" stroke-width="0.8">Mooring</text>
<text x="2054.0" y="148.8" font-size="49.5" textLength="145.6" lengthAdjust="spacingAndGlyphs" fill="#000" stroke="#000" stroke-width="0.8">20mbss</text>
<text x="2253.0" y="148.8" font-size="49.5" textLength="202.5" lengthAdjust="spacingAndGlyphs" fill="#000" stroke="#000" stroke-width="0.8">49.4252&#176;N</text>
<text x="2510.5" y="148.8" font-size="49.5" textLength="239.6" lengthAdjust="spacingAndGlyphs" fill="#000" stroke="#000" stroke-width="0.8">124.8912&#176;W</text>
<text x="2805.0" y="148.8" font-size="49.5" textLength="80.8" lengthAdjust="spacingAndGlyphs" fill="#000" stroke="#000" stroke-width="0.8">19.5</text>
<text x="2902.0" y="148.8" font-size="49.5" textLength="38.5" lengthAdjust="spacingAndGlyphs" fill="#000" stroke="#000" stroke-width="0.8">m</text>
<text x="1365.5" y="203.6" font-size="49.5" textLength="106.7" lengthAdjust="spacingAndGlyphs" fill="#000" stroke="#000" stroke-width="0.8">State</text>
<text x="1487.0" y="203.6" font-size="49.5" textLength="39.5" lengthAdjust="spacingAndGlyphs" fill="#000" stroke="#000" stroke-width="0.8">of</text>
<text x="1540.5" y="203.6" font-size="49.5" textLength="123.5" lengthAdjust="spacingAndGlyphs" fill="#000" stroke="#000" stroke-width="0.8">Ocean</text>
<text x="1680.5" y="203.6" font-size="49.5" textLength="83.5" lengthAdjust="spacingAndGlyphs" fill="#000" stroke="#000" stroke-width="0.8">Plot</text>
<text x="1820.0" y="203.6" font-size="49.5" textLength="22.8" lengthAdjust="spacingAndGlyphs" fill="#000" stroke="#000" stroke-width="0.8">1</text>
<text x="1859.5" y="203.6" font-size="49.5" textLength="79.5" lengthAdjust="spacingAndGlyphs" fill="#000" stroke="#000" stroke-width="0.8">Day</text>
<text x="1956.0" y="203.6" font-size="49.5" textLength="113.0" lengthAdjust="spacingAndGlyphs" fill="#000" stroke="#000" stroke-width="0.8">Clean</text>
<text x="2087.0" y="203.6" font-size="49.5" textLength="192.0" lengthAdjust="spacingAndGlyphs" fill="#000" stroke="#000" stroke-width="0.8">Min/Max</text>
<text x="2297.0" y="203.6" font-size="49.5" textLength="124.1" lengthAdjust="spacingAndGlyphs" fill="#000" stroke="#000" stroke-width="0.8">(Bars)</text>
<text x="2438.0" y="203.6" font-size="49.5" textLength="36.8" lengthAdjust="spacingAndGlyphs" fill="#000" stroke="#000" stroke-width="0.8">+</text>
<text x="2490.5" y="203.6" font-size="49.5" textLength="114.5" lengthAdjust="spacingAndGlyphs" fill="#000" stroke="#000" stroke-width="0.8">Clean</text>
<text x="2622.0" y="203.6" font-size="49.5" textLength="162.5" lengthAdjust="spacingAndGlyphs" fill="#000" stroke="#000" stroke-width="0.8">Average</text>
<text x="2802.0" y="203.6" font-size="49.5" textLength="138.1" lengthAdjust="spacingAndGlyphs" fill="#000" stroke="#000" stroke-width="0.8">(Lines)</text>
<circle cx="2026.8" cy="136.8" r="9.5" fill="#000"/>
<circle cx="2225.5" cy="136.8" r="9.5" fill="#000"/>
<circle cx="2484.0" cy="136.8" r="9.5" fill="#000"/>
<circle cx="2778.5" cy="136.8" r="9.5" fill="#000"/>
<circle cx="1793.5" cy="191.6" r="9.5" fill="#000"/>
<text x="160.0" y="2356.3" font-size="36"  textLength="102.6" lengthAdjust="spacingAndGlyphs" fill="#000" stroke="#000" stroke-width="0.6">Sample</text>
<text x="272.0" y="2356.3" font-size="36"  textLength="96.0" lengthAdjust="spacingAndGlyphs" fill="#000" stroke="#000" stroke-width="0.6">period:</text>
<text x="381.0" y="2356.3" font-size="36"  textLength="16.2" lengthAdjust="spacingAndGlyphs" fill="#000" stroke="#000" stroke-width="0.6">1</text>
<text x="406.0" y="2356.3" font-size="36"  textLength="92.0" lengthAdjust="spacingAndGlyphs" fill="#000" stroke="#000" stroke-width="0.6">second</text>
<text x="512.0" y="2356.3" font-size="36"  textLength="132.1" lengthAdjust="spacingAndGlyphs" fill="#000" stroke="#000" stroke-width="0.6">(average).</text>
<text x="659.0" y="2356.3" font-size="36"  textLength="155.6" lengthAdjust="spacingAndGlyphs" fill="#000" stroke="#000" stroke-width="0.6">Comments:</text>
<text x="828.5" y="2356.3" font-size="36"  textLength="77.5" lengthAdjust="spacingAndGlyphs" fill="#000" stroke="#000" stroke-width="0.6">Clean</text>
<text x="917.5" y="2356.3" font-size="36"  textLength="65.0" lengthAdjust="spacingAndGlyphs" fill="#000" stroke="#000" stroke-width="0.6">Data</text>
<text x="996.0" y="2356.3" font-size="36"  textLength="92.5" lengthAdjust="spacingAndGlyphs" fill="#000" stroke="#000" stroke-width="0.6">(major</text>
<text x="1099.5" y="2356.3" font-size="36"  textLength="94.0" lengthAdjust="spacingAndGlyphs" fill="#000" stroke="#000" stroke-width="0.6">quality</text>
<text x="1205.0" y="2356.3" font-size="36"  textLength="98.5" lengthAdjust="spacingAndGlyphs" fill="#000" stroke="#000" stroke-width="0.6">failures</text>
<text x="1315.0" y="2356.3" font-size="36"  textLength="107.6" lengthAdjust="spacingAndGlyphs" fill="#000" stroke="#000" stroke-width="0.6">(QAQC</text>
<text x="1431.0" y="2356.3" font-size="36"  textLength="75.6" lengthAdjust="spacingAndGlyphs" fill="#000" stroke="#000" stroke-width="0.6">3,4,6)</text>
<text x="1518.5" y="2356.3" font-size="36"  textLength="141.6" lengthAdjust="spacingAndGlyphs" fill="#000" stroke="#000" stroke-width="0.6">excluded):</text>
<text x="1674.5" y="2356.3" font-size="36"  textLength="31.1" lengthAdjust="spacingAndGlyphs" fill="#000" stroke="#000" stroke-width="0.6">all</text>
<text x="1718.5" y="2356.3" font-size="36"  textLength="60.0" lengthAdjust="spacingAndGlyphs" fill="#000" stroke="#000" stroke-width="0.6">data</text>
<text x="1790.5" y="2356.3" font-size="36"  textLength="95.0" lengthAdjust="spacingAndGlyphs" fill="#000" stroke="#000" stroke-width="0.6">plotted</text>
<text x="1898.5" y="2356.3" font-size="36"  textLength="58.5" lengthAdjust="spacingAndGlyphs" fill="#000" stroke="#000" stroke-width="0.6">pass</text>
<text x="1966.5" y="2356.3" font-size="36"  textLength="101.6" lengthAdjust="spacingAndGlyphs" fill="#000" stroke="#000" stroke-width="0.6">QAQC.</text>
<text x="2079.5" y="2356.3" font-size="36"  textLength="95.6" lengthAdjust="spacingAndGlyphs" fill="#000" stroke="#000" stroke-width="0.6">QAQC</text>
<text x="2186.5" y="2356.3" font-size="36"  textLength="91.5" lengthAdjust="spacingAndGlyphs" fill="#000" stroke="#000" stroke-width="0.6">testing</text>
<text x="2288.5" y="2356.3" font-size="36"  textLength="127.1" lengthAdjust="spacingAndGlyphs" fill="#000" stroke="#000" stroke-width="0.6">complete,</text>
<text x="2430.5" y="2356.3" font-size="36"  textLength="100.5" lengthAdjust="spacingAndGlyphs" fill="#000" stroke="#000" stroke-width="0.6">manual</text>
<text x="161.0" y="2393.3" font-size="36"  textLength="94.6" lengthAdjust="spacingAndGlyphs" fill="#000" stroke="#000" stroke-width="0.6">QAQC</text>
<text x="265.0" y="2393.3" font-size="36"  textLength="128.0" lengthAdjust="spacingAndGlyphs" fill="#000" stroke="#000" stroke-width="0.6">screening</text>
<text x="404.0" y="2393.3" font-size="36"  textLength="54.5" lengthAdjust="spacingAndGlyphs" fill="#000" stroke="#000" stroke-width="0.6">may</text>
<text x="472.0" y="2393.3" font-size="36"  textLength="30.1" lengthAdjust="spacingAndGlyphs" fill="#000" stroke="#000" stroke-width="0.6">be</text>
<text x="514.0" y="2393.3" font-size="36"  textLength="93.0" lengthAdjust="spacingAndGlyphs" fill="#000" stroke="#000" stroke-width="0.6">needed</text>
<text x="620.0" y="2393.3" font-size="36"  textLength="35.0" lengthAdjust="spacingAndGlyphs" fill="#000" stroke="#000" stroke-width="0.6">for</text>
<text x="667.0" y="2393.3" font-size="36"  textLength="80.0" lengthAdjust="spacingAndGlyphs" fill="#000" stroke="#000" stroke-width="0.6">recent</text>
<text x="760.0" y="2393.3" font-size="36"  textLength="70.1" lengthAdjust="spacingAndGlyphs" fill="#000" stroke="#000" stroke-width="0.6">data.</text>
<text x="842.0" y="2393.3" font-size="36"  textLength="48.1" lengthAdjust="spacingAndGlyphs" fill="#000" stroke="#000" stroke-width="0.6">See</text>
<text x="899.0" y="2393.3" font-size="36"  textLength="205.5" lengthAdjust="spacingAndGlyphs" fill="#000" stroke="#000" stroke-width="0.6">documentation</text>
<text x="1116.5" y="2393.3" font-size="36"  textLength="36.6" lengthAdjust="spacingAndGlyphs" fill="#000" stroke="#000" stroke-width="0.6">for</text>
<text x="1163.5" y="2393.3" font-size="36"  textLength="98.1" lengthAdjust="spacingAndGlyphs" fill="#000" stroke="#000" stroke-width="0.6">details.</text>
<text x="2569.0" y="2378.0" font-size="36" font-style="italic" textLength="54.0" lengthAdjust="spacingAndGlyphs" fill="#000" stroke="#000" stroke-width="0.6">Plot</text>
<text x="2635.0" y="2378.0" font-size="36" font-style="italic" textLength="133.5" lengthAdjust="spacingAndGlyphs" fill="#000" stroke="#000" stroke-width="0.6">generated</text>
<text x="2778.5" y="2378.0" font-size="36" font-style="italic" textLength="168.0" lengthAdjust="spacingAndGlyphs" fill="#000" stroke="#000" stroke-width="0.6">01-Dec-2025</text>
<text x="2958.0" y="2378.0" font-size="36" font-style="italic" textLength="111.5" lengthAdjust="spacingAndGlyphs" fill="#000" stroke="#000" stroke-width="0.6">04:12:02</text>
<text x="3078.5" y="2378.0" font-size="36" font-style="italic" textLength="72.1" lengthAdjust="spacingAndGlyphs" fill="#000" stroke="#000" stroke-width="0.6">UTC</text>
<text transform="translate(164.8 426.0) rotate(-90)" font-size="49.5" text-anchor="middle" fill="#F7941D" stroke="#F7941D" stroke-width="0.7" textLength="248" lengthAdjust="spacingAndGlyphs">(pCO<tspan dy="-17" font-size="34">2</tspan><tspan dy="17" font-style="italic">uatm</tspan>)</text>
<text transform="translate(3099.0 811.0) rotate(-90)" font-size="49.5" text-anchor="middle" fill="#660066" stroke="#660066" stroke-width="0.7" textLength="117" lengthAdjust="spacingAndGlyphs">(ml/l)</text>
<text transform="translate(108.7 639.3) rotate(-90)" x="-2.0" font-size="49.5" textLength="94.7" lengthAdjust="spacingAndGlyphs" fill="#F7941D" stroke="#F7941D" stroke-width="0.7">CO2</text>
<text transform="translate(108.7 639.3) rotate(-90)" x="103.5" font-size="49.5" textLength="138.5" lengthAdjust="spacingAndGlyphs" fill="#F7941D" stroke="#F7941D" stroke-width="0.7">Partial</text>
<text transform="translate(108.7 639.3) rotate(-90)" x="255.0" font-size="49.5" textLength="174.0" lengthAdjust="spacingAndGlyphs" fill="#F7941D" stroke="#F7941D" stroke-width="0.7">Pressure</text>
<text transform="translate(3045.5 1142.5) rotate(-90)" x="-1.0" font-size="49.5" textLength="143.0" lengthAdjust="spacingAndGlyphs" fill="#660066" stroke="#660066" stroke-width="0.7">Oxygen</text>
<text transform="translate(3045.5 1142.5) rotate(-90)" x="167.5" font-size="49.5" textLength="283.5" lengthAdjust="spacingAndGlyphs" fill="#660066" stroke="#660066" stroke-width="0.7">Concentration</text>
<text transform="translate(3045.5 1142.5) rotate(-90)" x="470.5" font-size="49.5" textLength="195.5" lengthAdjust="spacingAndGlyphs" fill="#660066" stroke="#660066" stroke-width="0.7">Corrected</text>
<text transform="translate(206.0 1362.7) rotate(-90)" x="-3.0" font-size="49.5" textLength="155.6" lengthAdjust="spacingAndGlyphs" fill="#00688B" stroke="#00688B" stroke-width="0.7">Sigma-t</text>
<text transform="translate(206.0 1362.7) rotate(-90)" x="170.5" font-size="49.5" textLength="160.6" lengthAdjust="spacingAndGlyphs" fill="#00688B" stroke="#00688B" stroke-width="0.7">(kg/m<tspan dy="-17" font-size="34">3</tspan><tspan dy="17">)</tspan></text>
<text transform="translate(3052.0 1829.2) rotate(-90)" x="0.0" font-size="49.5" textLength="167.5" lengthAdjust="spacingAndGlyphs" fill="#1E8C0A" stroke="#1E8C0A" stroke-width="0.7">Absolute</text>
<text transform="translate(3052.0 1829.2) rotate(-90)" x="176.5" font-size="49.5" textLength="166.1" lengthAdjust="spacingAndGlyphs" fill="#1E8C0A" stroke="#1E8C0A" stroke-width="0.7">Salinity</text>
<text transform="translate(3052.0 1829.2) rotate(-90)" x="356.5" font-size="49.5" textLength="130.6" lengthAdjust="spacingAndGlyphs" fill="#1E8C0A" stroke="#1E8C0A" stroke-width="0.7">(g/kg)</text>
<text transform="translate(206.0 2142.7) rotate(-90)" x="0.0" font-size="49.5" textLength="258.5" lengthAdjust="spacingAndGlyphs" fill="#B20000" stroke="#B20000" stroke-width="0.7">Temperature</text>
<text transform="translate(206.0 2142.7) rotate(-90)" x="274.0" font-size="49.5" textLength="66.2" lengthAdjust="spacingAndGlyphs" fill="#B20000" stroke="#B20000" stroke-width="0.7">(C)</text>
<text x="1424.0" y="2275.3" font-size="49.5" textLength="105.0" lengthAdjust="spacingAndGlyphs" fill="#000" stroke="#000" stroke-width="0.7">Time</text>
<text x="1544.0" y="2275.3" font-size="49.5" textLength="135.2" lengthAdjust="spacingAndGlyphs" fill="#000" stroke="#000" stroke-width="0.7">(years,</text>
<text x="1692.0" y="2275.3" font-size="49.5" textLength="117.6" lengthAdjust="spacingAndGlyphs" fill="#000" stroke="#000" stroke-width="0.7">UTC)</text>
</svg>
</body></html>
